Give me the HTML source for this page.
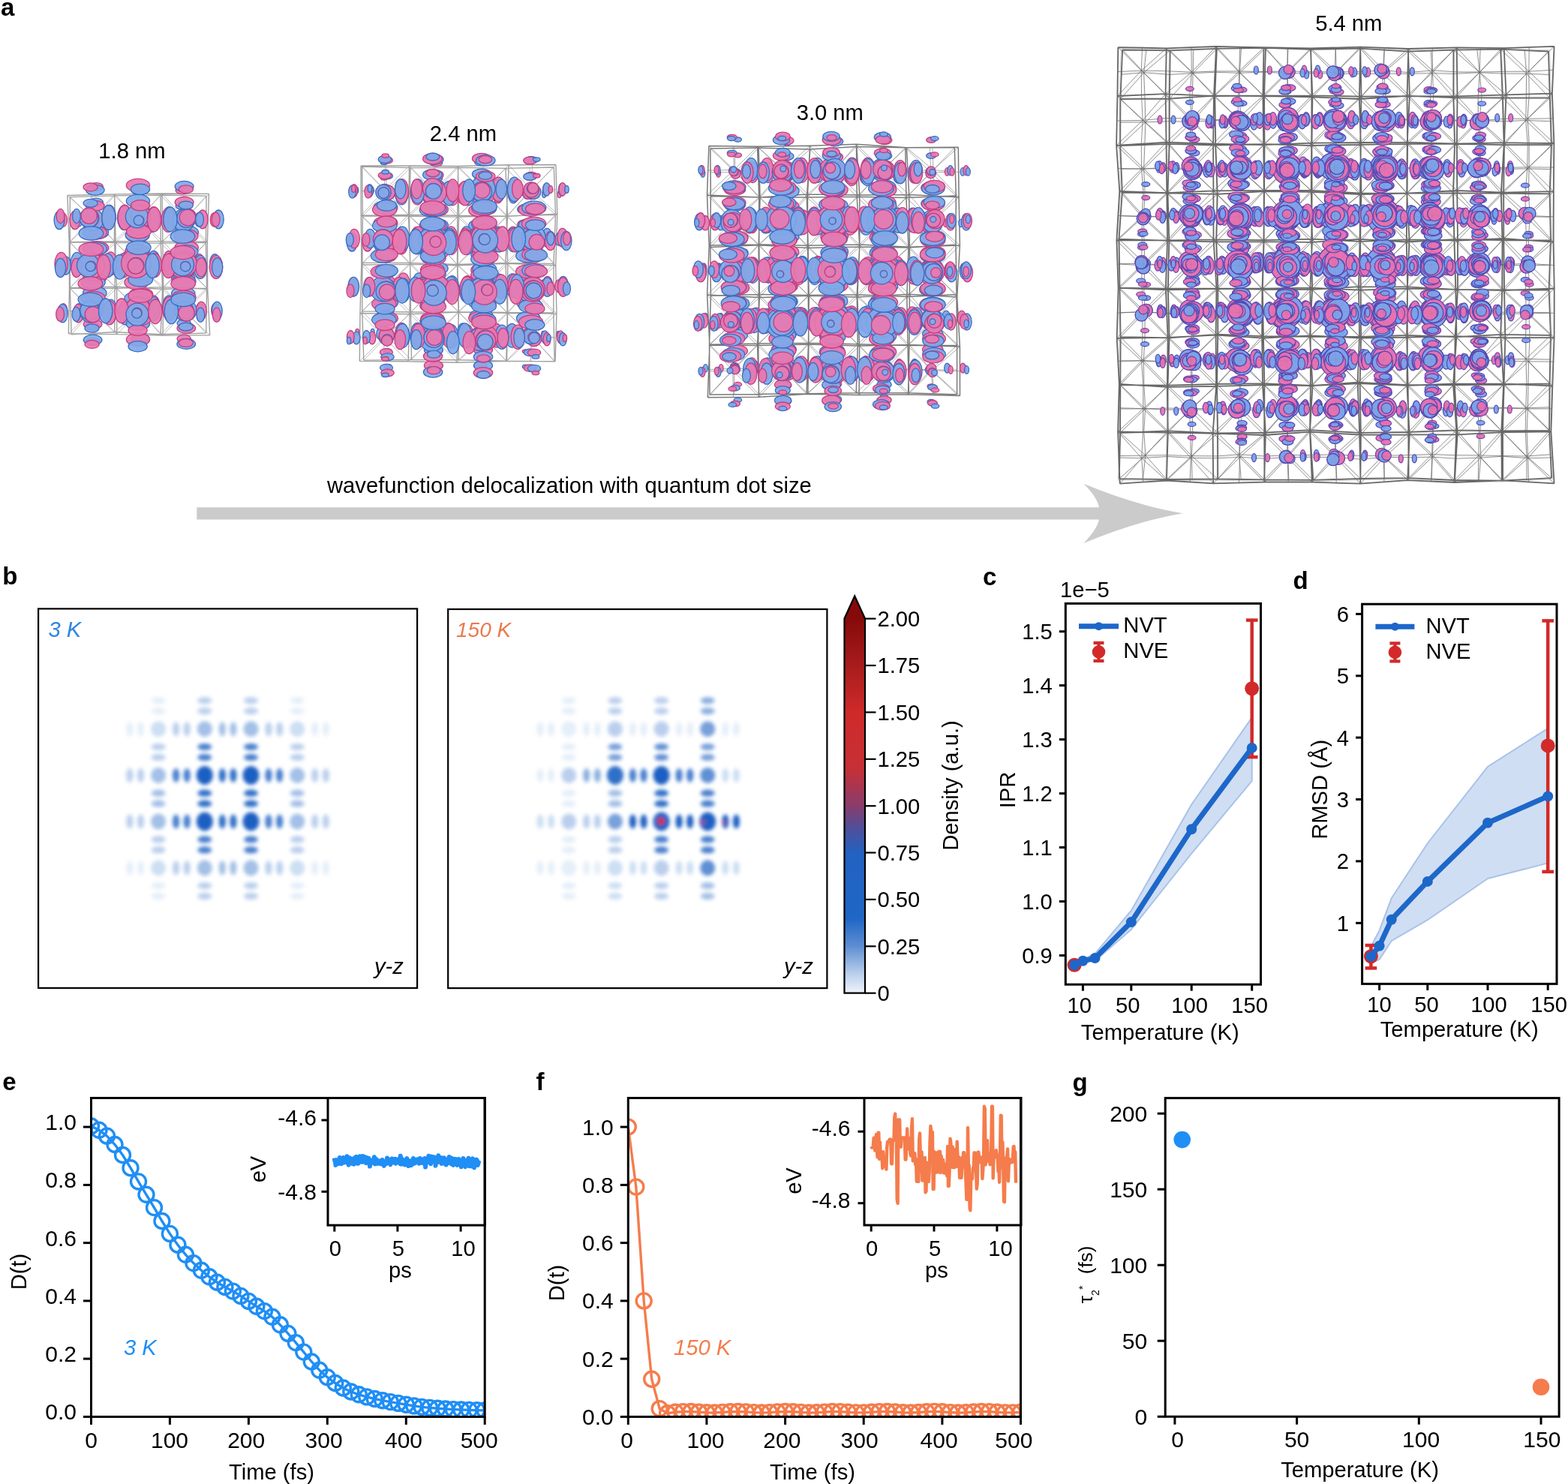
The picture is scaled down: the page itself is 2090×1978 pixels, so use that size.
<!DOCTYPE html><html><head><meta charset="utf-8"><title>Figure</title><style>html,body{margin:0;padding:0;background:#fff;}svg{display:block;}</style></head><body>
<svg xmlns="http://www.w3.org/2000/svg" width="2090" height="1978" viewBox="0 0 2090 1978" font-family="'Liberation Sans', Arial, sans-serif">
<rect width="2090" height="1978" fill="#fff"/>
<style>.p{fill:#ea78b0;stroke:#c23e80;stroke-width:1.3;fill-opacity:.92}.b{fill:#7eaaea;stroke:#3b6cc0;stroke-width:1.3;fill-opacity:.92}.P{fill:#ec70ae;stroke:#6a46b0;stroke-width:1.2;fill-opacity:.95}.B{fill:#78a4ec;stroke:#5048b0;stroke-width:1.2;fill-opacity:.95}</style>
<g opacity="1" fill="none" stroke="#a0a0a0" stroke-linejoin="round"><path d="M93.3 262.6 152.6 260.9 214 260 275.1 261.1M93.3 322.7 154.2 323.3 214.3 324.1 274.4 323.2M93.3 383.7 153.1 382.2 216.6 385.3 275.6 384.2M95.2 445.9 152.9 442.5 214.1 445.8 274.7 444M93.3 262.6 93.3 322.7 93.3 383.7 95.2 445.9M152.6 260.9 154.2 323.3 153.1 382.2 152.9 442.5M214 260 214.3 324.1 216.6 385.3 214.1 445.8M275.1 261.1 274.4 323.2 275.6 384.2 274.7 444M89.9 260.5 152.8 258.9 216 258 278.5 258.4M92.2 322.7 152.4 321.6 216.8 321.6 276.4 322.1M92.5 384.1 155.7 384.4 217.7 382.6 276.7 385.3M91.4 444.8 155.7 445.6 217.1 447.1 279.7 446.7M89.9 260.5 92.2 322.7 92.5 384.1 91.4 444.8M152.8 258.9 152.4 321.6 155.7 384.4 155.7 445.6M216 258 216.8 321.6 217.7 382.6 217.1 447.1M278.5 258.4 276.4 322.1 276.7 385.3 279.7 446.7" stroke-width="1.4"/><path d="M93.3 262.6 125.2 292.2 154.2 323.3M152.6 260.9 125.2 292.2 93.3 322.7M122.9 261.7 125.2 292.2 123.7 323M153.4 292.1 125.2 292.2 93.3 292.6M152.6 260.9 185.5 291.7 214.3 324.1M214 260 185.5 291.7 154.2 323.3M183.3 260.5 185.5 291.7 184.2 323.7M214.1 292.1 185.5 291.7 153.4 292.1M214 260 246.3 292.9 274.4 323.2M275.1 261.1 246.3 292.9 214.3 324.1M244.6 260.5 246.3 292.9 244.3 323.7M274.8 292.1 246.3 292.9 214.1 292.1M93.3 322.7 123 353.6 153.1 382.2M154.2 323.3 123 353.6 93.3 383.7M123.7 323 123 353.6 123.2 383M153.7 352.8 123 353.6 93.3 353.2M154.2 323.3 186.2 353.6 216.6 385.3M214.3 324.1 186.2 353.6 153.1 382.2M184.2 323.7 186.2 353.6 184.9 383.8M215.5 354.7 186.2 353.6 153.7 352.8M214.3 324.1 245.4 353.7 275.6 384.2M274.4 323.2 245.4 353.7 216.6 385.3M244.3 323.7 245.4 353.7 246.1 384.8M275 353.7 245.4 353.7 215.5 354.7M93.3 383.7 123.2 413.8 152.9 442.5M153.1 382.2 123.2 413.8 95.2 445.9M123.2 383 123.2 413.8 124 444.2M153 412.4 123.2 413.8 94.3 414.8M153.1 382.2 186 413.4 214.1 445.8M216.6 385.3 186 413.4 152.9 442.5M184.9 383.8 186 413.4 183.5 444.2M215.4 415.6 186 413.4 153 412.4M216.6 385.3 245.4 413 274.7 444M275.6 384.2 245.4 413 214.1 445.8M246.1 384.8 245.4 413 244.4 444.9M275.2 414.1 245.4 413 215.4 415.6M89.9 260.5 123.5 290.5 152.4 321.6M152.8 258.9 123.5 290.5 92.2 322.7M121.3 259.7 123.5 290.5 122.3 322.2M152.6 290.2 123.5 290.5 91 291.6M152.8 258.9 184.4 291.8 216.8 321.6M216 258 184.4 291.8 152.4 321.6M184.4 258.5 184.4 291.8 184.6 321.6M216.4 289.8 184.4 291.8 152.6 290.2M216 258 246.9 292 276.4 322.1M278.5 258.4 246.9 292 216.8 321.6M247.2 258.2 246.9 292 246.6 321.8M277.4 290.3 246.9 292 216.4 289.8M92.2 322.7 123.3 353.3 155.7 384.4M152.4 321.6 123.3 353.3 92.5 384.1M122.3 322.2 123.3 353.3 124.1 384.3M154 353 123.3 353.3 92.3 353.4M152.4 321.6 184.1 354.1 217.7 382.6M216.8 321.6 184.1 354.1 155.7 384.4M184.6 321.6 184.1 354.1 186.7 383.5M217.3 352.1 184.1 354.1 154 353M216.8 321.6 247 353.2 276.7 385.3M276.4 322.1 247 353.2 217.7 382.6M246.6 321.8 247 353.2 247.2 383.9M276.6 353.7 247 353.2 217.3 352.1M92.5 384.1 122.7 414.5 155.7 445.6M155.7 384.4 122.7 414.5 91.4 444.8M124.1 384.3 122.7 414.5 123.5 445.2M155.7 415 122.7 414.5 92 414.5M155.7 384.4 186 415.3 217.1 447.1M217.7 382.6 186 415.3 155.7 445.6M186.7 383.5 186 415.3 186.4 446.3M217.4 414.8 186 415.3 155.7 415M217.7 382.6 245.9 415.4 279.7 446.7M276.7 385.3 245.9 415.4 217.1 447.1M247.2 383.9 245.9 415.4 248.4 446.9M278.2 416 245.9 415.4 217.4 414.8" stroke-width="0.9" stroke-opacity="0.8"/></g>
<g><ellipse cx="84.5" cy="413.9" rx="5.2" ry="9.2" class="p"/><ellipse cx="123.6" cy="455.6" rx="9.2" ry="5.2" class="p"/><ellipse cx="105" cy="413.9" rx="5.2" ry="9.2" class="b"/><ellipse cx="123.6" cy="435.1" rx="9.2" ry="5.2" class="b"/><circle cx="122.7" cy="409.7" r="10.3" class="p"/><ellipse cx="87.7" cy="353.9" rx="6.8" ry="12.1" class="b"/><ellipse cx="126.3" cy="390.6" rx="15.7" ry="8.8" class="b"/><ellipse cx="147.4" cy="414.9" rx="8.8" ry="15.7" class="b"/><ellipse cx="108.3" cy="353.9" rx="6.8" ry="12.1" class="p"/><ellipse cx="187" cy="451.4" rx="12.1" ry="6.8" class="b"/><ellipse cx="126.2" cy="370" rx="15.7" ry="8.8" class="p"/><ellipse cx="168" cy="414.9" rx="8.8" ry="15.7" class="p"/><ellipse cx="187" cy="430.9" rx="12.1" ry="6.8" class="p"/><ellipse cx="84.2" cy="293.2" rx="5.2" ry="9.2" class="p"/><circle cx="127.6" cy="349.4" r="14.4" class="b"/><ellipse cx="128.9" cy="330.4" rx="15.7" ry="8.8" class="p"/><ellipse cx="147.4" cy="351.5" rx="8.8" ry="15.7" class="p"/><ellipse cx="104.8" cy="293.2" rx="5.2" ry="9.2" class="b"/><ellipse cx="188" cy="392.2" rx="15.7" ry="8.8" class="p"/><ellipse cx="128.9" cy="309.9" rx="15.7" ry="8.8" class="b"/><ellipse cx="204.7" cy="409.5" rx="8.8" ry="15.7" class="p"/><ellipse cx="168" cy="351.5" rx="8.8" ry="15.7" class="b"/><ellipse cx="245.2" cy="451.4" rx="9.2" ry="5.2" class="p"/><ellipse cx="188" cy="371.6" rx="15.7" ry="8.8" class="b"/><ellipse cx="225.3" cy="409.5" rx="8.8" ry="15.7" class="b"/><circle cx="183.2" cy="352" r="18.6" class="p"/><ellipse cx="245.2" cy="430.8" rx="9.2" ry="5.2" class="b"/><ellipse cx="128.3" cy="269.4" rx="9.2" ry="5.2" class="b"/><ellipse cx="145.5" cy="288.9" rx="8.8" ry="15.7" class="b"/><ellipse cx="183.2" cy="334.6" rx="15.7" ry="8.8" class="b"/><ellipse cx="128.3" cy="248.8" rx="9.2" ry="5.2" class="p"/><ellipse cx="204.8" cy="350.2" rx="8.8" ry="15.7" class="b"/><ellipse cx="183.2" cy="314" rx="15.7" ry="8.8" class="p"/><ellipse cx="166.1" cy="288.9" rx="8.8" ry="15.7" class="p"/><ellipse cx="244.2" cy="391.2" rx="15.7" ry="8.8" class="b"/><ellipse cx="266.3" cy="413.4" rx="5.2" ry="9.3" class="b"/><ellipse cx="225.4" cy="350.2" rx="8.8" ry="15.7" class="p"/><ellipse cx="244.2" cy="370.6" rx="15.7" ry="8.8" class="p"/><ellipse cx="286.9" cy="413.4" rx="5.2" ry="9.3" class="p"/><ellipse cx="186.6" cy="273.6" rx="12.1" ry="6.8" class="p"/><circle cx="248.5" cy="354.9" r="14.4" class="b"/><ellipse cx="204.9" cy="291.4" rx="8.8" ry="15.7" class="p"/><ellipse cx="186.6" cy="253" rx="12.1" ry="6.8" class="b"/><ellipse cx="248.6" cy="330.1" rx="15.7" ry="8.8" class="p"/><ellipse cx="265.8" cy="350.7" rx="6.8" ry="12.1" class="p"/><ellipse cx="225.5" cy="291.4" rx="8.8" ry="15.7" class="b"/><ellipse cx="248.7" cy="309.5" rx="15.7" ry="8.8" class="b"/><ellipse cx="286.4" cy="350.7" rx="6.8" ry="12.1" class="b"/><ellipse cx="243.4" cy="274.2" rx="9.3" ry="5.2" class="b"/><ellipse cx="264.8" cy="292.9" rx="5.2" ry="9.3" class="b"/><ellipse cx="243.4" cy="253.6" rx="9.3" ry="5.2" class="p"/><ellipse cx="285.4" cy="292.9" rx="5.2" ry="9.3" class="p"/><circle cx="127.2" cy="411.1" r="12.1" class="b"/><circle cx="128" cy="352.6" r="16" class="p"/><circle cx="186.7" cy="290.9" r="16" class="p"/><circle cx="245.3" cy="353.4" r="16" class="p"/><circle cx="249.5" cy="290.3" r="12.1" class="b"/><circle cx="126.4" cy="411.8" r="12.2" class="p"/><circle cx="127.1" cy="352.9" r="16.1" class="b"/><circle cx="183.8" cy="416.9" r="16.1" class="b"/><circle cx="121.3" cy="292.1" r="12.2" class="p"/><circle cx="184.5" cy="353.9" r="16.9" class="p"/><circle cx="186.3" cy="290.8" r="16.1" class="b"/><circle cx="245.3" cy="353.7" r="16.1" class="b"/><circle cx="249.6" cy="290.2" r="12.2" class="p"/><ellipse cx="83.4" cy="417.6" rx="6.9" ry="12.3" class="b"/><ellipse cx="123.6" cy="453.1" rx="12.3" ry="6.9" class="b"/><ellipse cx="104.3" cy="417.6" rx="6.9" ry="12.3" class="p"/><ellipse cx="123.6" cy="432.1" rx="12.3" ry="6.9" class="p"/><circle cx="121.2" cy="415.4" r="14.7" class="b"/><ellipse cx="81.6" cy="352" rx="8.7" ry="15.6" class="p"/><ellipse cx="124.2" cy="397.2" rx="16" ry="9" class="p"/><ellipse cx="145.8" cy="416.8" rx="9" ry="16" class="p"/><ellipse cx="102.6" cy="352" rx="8.7" ry="15.6" class="b"/><ellipse cx="124.2" cy="376.2" rx="16" ry="9" class="b"/><ellipse cx="184" cy="452.6" rx="15.6" ry="8.7" class="p"/><ellipse cx="166.8" cy="416.8" rx="9" ry="16" class="b"/><ellipse cx="79" cy="293.4" rx="6.9" ry="12.3" class="b"/><circle cx="126.6" cy="355.4" r="19" class="p"/><ellipse cx="184" cy="431.6" rx="15.6" ry="8.7" class="b"/><circle cx="186.5" cy="415.2" r="19" class="p"/><ellipse cx="126.4" cy="331.4" rx="16" ry="9" class="b"/><ellipse cx="143.4" cy="353.8" rx="9" ry="16" class="b"/><ellipse cx="99.9" cy="293.4" rx="6.9" ry="12.3" class="p"/><ellipse cx="181.9" cy="397.6" rx="16" ry="9" class="b"/><ellipse cx="126.4" cy="310.4" rx="16" ry="9" class="p"/><ellipse cx="204.8" cy="411.6" rx="9" ry="16" class="b"/><ellipse cx="164.4" cy="353.9" rx="9" ry="16" class="p"/><ellipse cx="181.9" cy="376.6" rx="16" ry="9" class="p"/><circle cx="123.3" cy="293.1" r="14.7" class="b"/><ellipse cx="248.2" cy="458.4" rx="12.3" ry="6.9" class="b"/><ellipse cx="225.8" cy="411.6" rx="9" ry="16" class="p"/><ellipse cx="248.3" cy="437.4" rx="12.3" ry="6.9" class="p"/><ellipse cx="126.8" cy="274.3" rx="12.3" ry="6.9" class="p"/><circle cx="186.5" cy="353.7" r="19" class="b"/><ellipse cx="144.5" cy="290.6" rx="9" ry="16" class="p"/><ellipse cx="183.1" cy="334.2" rx="16" ry="9" class="p"/><ellipse cx="126.8" cy="253.3" rx="12.3" ry="6.9" class="b"/><circle cx="247.3" cy="413.5" r="14.7" class="b"/><ellipse cx="206.4" cy="353.5" rx="9" ry="16" class="p"/><ellipse cx="165.5" cy="290.5" rx="9" ry="16" class="b"/><ellipse cx="245" cy="396.3" rx="16" ry="9" class="p"/><ellipse cx="183.1" cy="313.2" rx="16" ry="9" class="b"/><ellipse cx="268.3" cy="414.5" rx="6.9" ry="12.4" class="p"/><ellipse cx="227.4" cy="353.5" rx="9" ry="16" class="b"/><ellipse cx="245" cy="375.3" rx="16" ry="9" class="b"/><circle cx="186.8" cy="293.7" r="19" class="p"/><ellipse cx="289.3" cy="414.5" rx="6.9" ry="12.4" class="b"/><circle cx="243.5" cy="351.5" r="19" class="p"/><ellipse cx="184" cy="268" rx="15.6" ry="8.8" class="b"/><ellipse cx="203.1" cy="293.4" rx="9" ry="16" class="b"/><ellipse cx="248" cy="335.6" rx="16" ry="9" class="b"/><ellipse cx="184" cy="247" rx="15.6" ry="8.8" class="p"/><ellipse cx="267" cy="355.9" rx="8.8" ry="15.6" class="b"/><ellipse cx="224.1" cy="293.4" rx="9" ry="16" class="p"/><ellipse cx="248" cy="314.6" rx="16" ry="9" class="p"/><ellipse cx="288" cy="355.9" rx="8.8" ry="15.6" class="p"/><circle cx="244.7" cy="293.6" r="14.7" class="b"/><ellipse cx="245.6" cy="269.4" rx="12.4" ry="7" class="p"/><ellipse cx="270.1" cy="292.4" rx="7" ry="12.4" class="p"/><ellipse cx="245.6" cy="248.4" rx="12.4" ry="7" class="b"/><ellipse cx="291.2" cy="292.4" rx="7" ry="12.4" class="b"/><circle cx="120.2" cy="413.2" r="12.4" class="p"/><circle cx="123.4" cy="354" r="16.3" class="b"/><circle cx="184.2" cy="411.8" r="16.3" class="b"/><circle cx="119.4" cy="290.8" r="12.4" class="p"/><circle cx="184.5" cy="351.1" r="17.1" class="p"/><circle cx="245.5" cy="414" r="12.4" class="p"/><circle cx="184.9" cy="288.9" r="16.3" class="b"/><circle cx="246.1" cy="351.6" r="16.3" class="b"/><circle cx="248.4" cy="290.9" r="12.4" class="p"/><circle cx="119.3" cy="413.9" r="12.5" class="b"/><circle cx="122.6" cy="354.3" r="16.4" class="p"/><circle cx="183.8" cy="412.6" r="16.4" class="p"/><circle cx="118.5" cy="290.7" r="12.5" class="b"/><circle cx="184.1" cy="351.4" r="17.2" class="b"/><circle cx="245.5" cy="414.8" r="12.5" class="b"/><circle cx="184.5" cy="288.7" r="16.4" class="p"/><circle cx="246.1" cy="351.9" r="16.4" class="p"/><circle cx="248.4" cy="290.8" r="12.5" class="b"/><ellipse cx="80.1" cy="418.8" rx="5.4" ry="9.6" class="p"/><ellipse cx="122.6" cy="458.9" rx="9.6" ry="5.4" class="p"/><ellipse cx="101.5" cy="418.9" rx="5.4" ry="9.6" class="b"/><ellipse cx="122.5" cy="437.5" rx="9.6" ry="5.4" class="b"/><circle cx="123.8" cy="419.2" r="10.7" class="p"/><ellipse cx="80.6" cy="357" rx="7.1" ry="12.6" class="b"/><ellipse cx="120.4" cy="399.3" rx="16.3" ry="9.2" class="b"/><ellipse cx="140.7" cy="414.3" rx="9.2" ry="16.3" class="b"/><ellipse cx="102" cy="357" rx="7.1" ry="12.6" class="p"/><ellipse cx="120.4" cy="377.9" rx="16.3" ry="9.2" class="p"/><ellipse cx="183.6" cy="461.7" rx="12.6" ry="7.1" class="b"/><ellipse cx="162.1" cy="414.3" rx="9.2" ry="16.3" class="p"/><circle cx="117.5" cy="353.8" r="15" class="b"/><ellipse cx="183.6" cy="440.3" rx="12.6" ry="7.1" class="p"/><ellipse cx="80.6" cy="288" rx="5.4" ry="9.6" class="p"/><circle cx="183" cy="419.2" r="15" class="b"/><ellipse cx="138.2" cy="355.8" rx="9.2" ry="16.3" class="p"/><ellipse cx="121.4" cy="332.3" rx="16.3" ry="9.2" class="p"/><ellipse cx="102" cy="288" rx="5.4" ry="9.6" class="b"/><ellipse cx="121.4" cy="310.9" rx="16.3" ry="9.2" class="b"/><ellipse cx="187.2" cy="394.2" rx="16.3" ry="9.2" class="p"/><ellipse cx="159.6" cy="355.8" rx="9.2" ry="16.3" class="b"/><ellipse cx="206.9" cy="415.3" rx="9.2" ry="16.3" class="p"/><circle cx="118.7" cy="287.7" r="10.7" class="p"/><ellipse cx="247.8" cy="457" rx="9.6" ry="5.4" class="p"/><ellipse cx="187.2" cy="372.8" rx="16.3" ry="9.2" class="b"/><ellipse cx="228.3" cy="415.3" rx="9.2" ry="16.3" class="b"/><ellipse cx="120.6" cy="270.8" rx="9.6" ry="5.4" class="b"/><circle cx="181" cy="351" r="19.4" class="p"/><ellipse cx="247.8" cy="435.6" rx="9.6" ry="5.4" class="b"/><ellipse cx="144.9" cy="290" rx="9.2" ry="16.3" class="b"/><ellipse cx="120.6" cy="249.4" rx="9.6" ry="5.4" class="p"/><circle cx="248.6" cy="417.2" r="10.8" class="p"/><ellipse cx="184.8" cy="330.1" rx="16.3" ry="9.2" class="b"/><ellipse cx="203.1" cy="354.4" rx="9.2" ry="16.3" class="b"/><ellipse cx="244.2" cy="399.4" rx="16.3" ry="9.2" class="b"/><ellipse cx="166.3" cy="290" rx="9.2" ry="16.3" class="p"/><ellipse cx="267.3" cy="419.8" rx="5.4" ry="9.6" class="b"/><ellipse cx="184.8" cy="308.6" rx="16.3" ry="9.2" class="p"/><ellipse cx="224.6" cy="354.4" rx="9.2" ry="16.3" class="p"/><ellipse cx="244.2" cy="377.9" rx="16.3" ry="9.2" class="p"/><circle cx="182.4" cy="288.7" r="15" class="b"/><ellipse cx="288.8" cy="419.8" rx="5.4" ry="9.6" class="p"/><circle cx="243.5" cy="352.7" r="15" class="b"/><ellipse cx="187" cy="273.8" rx="12.6" ry="7.1" class="p"/><ellipse cx="205.5" cy="292.5" rx="9.2" ry="16.3" class="p"/><ellipse cx="243.5" cy="336.5" rx="16.3" ry="9.2" class="p"/><ellipse cx="187" cy="252.3" rx="12.6" ry="7.1" class="b"/><ellipse cx="268.1" cy="356.3" rx="7.1" ry="12.6" class="p"/><ellipse cx="243.5" cy="315.1" rx="16.3" ry="9.2" class="b"/><ellipse cx="226.9" cy="292.5" rx="9.2" ry="16.3" class="b"/><ellipse cx="289.6" cy="356.3" rx="7.1" ry="12.6" class="b"/><circle cx="250" cy="290" r="10.8" class="p"/><ellipse cx="247.9" cy="273.6" rx="9.6" ry="5.4" class="b"/><ellipse cx="266.1" cy="292.6" rx="5.4" ry="9.6" class="b"/><ellipse cx="247.9" cy="252.2" rx="9.6" ry="5.4" class="p"/><ellipse cx="287.6" cy="292.6" rx="5.4" ry="9.6" class="p"/><circle cx="121.5" cy="354.7" r="6.6" class="p"/><circle cx="182.7" cy="416.8" r="6.6" class="p"/><circle cx="181.4" cy="354.1" r="10.6" class="b"/><circle cx="185.3" cy="293.9" r="6.6" class="p"/><circle cx="247.2" cy="354.9" r="6.6" class="p"/><circle cx="120.6" cy="355.1" r="6.6" class="b"/><circle cx="182.3" cy="417.6" r="6.6" class="b"/><circle cx="180.9" cy="354.5" r="10.6" class="p"/><circle cx="184.8" cy="293.8" r="6.6" class="b"/><circle cx="247.2" cy="355.2" r="6.6" class="b"/></g>
<g opacity="1" fill="none" stroke="#a0a0a0" stroke-linejoin="round"><path d="M482.6 222 547.1 223.6 610.7 223.2 673.9 224.4 738.3 223M483.4 288.1 545.5 288 609.7 289.1 676.5 287.9 740.5 286.3M482.9 350.3 546.7 350.4 609.5 352.4 674 350.4 738 351.4M482.8 414.9 547.5 416 611 415.6 676.2 416.4 737.8 416.9M484.8 480.1 548.5 479.5 611.3 479.8 674.8 481.2 739.2 481.9M482.6 222 483.4 288.1 482.9 350.3 482.8 414.9 484.8 480.1M547.1 223.6 545.5 288 546.7 350.4 547.5 416 548.5 479.5M610.7 223.2 609.7 289.1 609.5 352.4 611 415.6 611.3 479.8M673.9 224.4 676.5 287.9 674 350.4 676.2 416.4 674.8 481.2M738.3 223 740.5 286.3 738 351.4 737.8 416.9 739.2 481.9M481 220.9 545.6 221 610.4 221.5 678.2 219.8 740.9 219.5M481.3 287.3 544.5 286.3 611.6 287.3 675 288.2 742.8 285.2M481.8 353 546.8 352.2 609.9 353.7 676.7 351.4 740.7 353.7M480 417.5 546.1 418.7 611.5 416.1 676.7 417.3 741.9 418.1M479.3 481.4 544.1 481.8 609 483.2 675.5 481.4 740.1 481.8M481 220.9 481.3 287.3 481.8 353 480 417.5 479.3 481.4M545.6 221 544.5 286.3 546.8 352.2 546.1 418.7 544.1 481.8M610.4 221.5 611.6 287.3 609.9 353.7 611.5 416.1 609 483.2M678.2 219.8 675 288.2 676.7 351.4 676.7 417.3 675.5 481.4M740.9 219.5 742.8 285.2 740.7 353.7 741.9 418.1 740.1 481.8" stroke-width="1.4"/><path d="M482.6 222 515 254.9 545.5 288M547.1 223.6 515 254.9 483.4 288.1M514.9 222.8 515 254.9 514.4 288M546.3 255.8 515 254.9 483 255M547.1 223.6 578.7 256.8 609.7 289.1M610.7 223.2 578.7 256.8 545.5 288M578.9 223.4 578.7 256.8 577.6 288.5M610.2 256.2 578.7 256.8 546.3 255.8M610.7 223.2 642.8 254.8 676.5 287.9M673.9 224.4 642.8 254.8 609.7 289.1M642.3 223.8 642.8 254.8 643.1 288.5M675.2 256.1 642.8 254.8 610.2 256.2M673.9 224.4 706.5 254.9 740.5 286.3M738.3 223 706.5 254.9 676.5 287.9M706.1 223.7 706.5 254.9 708.5 287.1M739.4 254.6 706.5 254.9 675.2 256.1M483.4 288.1 516.1 321.1 546.7 350.4M545.5 288 516.1 321.1 482.9 350.3M514.4 288 516.1 321.1 514.8 350.3M546.1 319.2 516.1 321.1 483.1 319.2M545.5 288 579.7 320.2 609.5 352.4M609.7 289.1 579.7 320.2 546.7 350.4M577.6 288.5 579.7 320.2 578.1 351.4M609.6 320.7 579.7 320.2 546.1 319.2M609.7 289.1 643.7 319.2 674 350.4M676.5 287.9 643.7 319.2 609.5 352.4M643.1 288.5 643.7 319.2 641.7 351.4M675.2 319.2 643.7 319.2 609.6 320.7M676.5 287.9 706.6 320 738 351.4M740.5 286.3 706.6 320 674 350.4M708.5 287.1 706.6 320 706 350.9M739.2 318.8 706.6 320 675.2 319.2M482.9 350.3 514.6 382.9 547.5 416M546.7 350.4 514.6 382.9 482.8 414.9M514.8 350.3 514.6 382.9 515.1 415.4M547.1 383.2 514.6 382.9 482.8 382.6M546.7 350.4 580.1 383.9 611 415.6M609.5 352.4 580.1 383.9 547.5 416M578.1 351.4 580.1 383.9 579.3 415.8M610.3 384 580.1 383.9 547.1 383.2M609.5 352.4 643 383.6 676.2 416.4M674 350.4 643 383.6 611 415.6M641.7 351.4 643 383.6 643.6 416M675.1 383.4 643 383.6 610.3 384M674 350.4 706.5 383.8 737.8 416.9M738 351.4 706.5 383.8 676.2 416.4M706 350.9 706.5 383.8 707 416.6M737.9 384.1 706.5 383.8 675.1 383.4M482.8 414.9 515.7 448.6 548.5 479.5M547.5 416 515.7 448.6 484.8 480.1M515.1 415.4 515.7 448.6 516.6 479.8M548 447.7 515.7 448.6 483.8 447.5M547.5 416 578.7 446.9 611.3 479.8M611 415.6 578.7 446.9 548.5 479.5M579.3 415.8 578.7 446.9 579.9 479.6M611.1 447.7 578.7 446.9 548 447.7M611 415.6 643.7 447.5 674.8 481.2M676.2 416.4 643.7 447.5 611.3 479.8M643.6 416 643.7 447.5 643 480.5M675.5 448.8 643.7 447.5 611.1 447.7M676.2 416.4 707.3 446.9 739.2 481.9M737.8 416.9 707.3 446.9 674.8 481.2M707 416.6 707.3 446.9 707 481.6M738.5 449.4 707.3 446.9 675.5 448.8M481 220.9 512.3 253.5 544.5 286.3M545.6 221 512.3 253.5 481.3 287.3M513.3 220.9 512.3 253.5 512.9 286.8M545.1 253.6 512.3 253.5 481.1 254.1M545.6 221 578.3 254.1 611.6 287.3M610.4 221.5 578.3 254.1 544.5 286.3M578 221.2 578.3 254.1 578 286.8M611 254.4 578.3 254.1 545.1 253.6M610.4 221.5 644.5 255.2 675 288.2M678.2 219.8 644.5 255.2 611.6 287.3M644.3 220.6 644.5 255.2 643.3 287.7M676.6 254 644.5 255.2 611 254.4M678.2 219.8 707.9 253.3 742.8 285.2M740.9 219.5 707.9 253.3 675 288.2M709.6 219.6 707.9 253.3 708.9 286.7M741.9 252.3 707.9 253.3 676.6 254M481.3 287.3 513.3 318.5 546.8 352.2M544.5 286.3 513.3 318.5 481.8 353M512.9 286.8 513.3 318.5 514.3 352.6M545.7 319.2 513.3 318.5 481.5 320.1M544.5 286.3 579.2 318.6 609.9 353.7M611.6 287.3 579.2 318.6 546.8 352.2M578 286.8 579.2 318.6 578.4 352.9M610.7 320.5 579.2 318.6 545.7 319.2M611.6 287.3 644.3 319.7 676.7 351.4M675 288.2 644.3 319.7 609.9 353.7M643.3 287.7 644.3 319.7 643.3 352.5M675.9 319.8 644.3 319.7 610.7 320.5M675 288.2 709.7 318.2 740.7 353.7M742.8 285.2 709.7 318.2 676.7 351.4M708.9 286.7 709.7 318.2 708.7 352.5M741.8 319.4 709.7 318.2 675.9 319.8M481.8 353 512.3 385.2 546.1 418.7M546.8 352.2 512.3 385.2 480 417.5M514.3 352.6 512.3 385.2 513 418.1M546.5 385.4 512.3 385.2 480.9 385.3M546.8 352.2 577.3 383.5 611.5 416.1M609.9 353.7 577.3 383.5 546.1 418.7M578.4 352.9 577.3 383.5 578.8 417.4M610.7 384.9 577.3 383.5 546.5 385.4M609.9 353.7 643.3 384.9 676.7 417.3M676.7 351.4 643.3 384.9 611.5 416.1M643.3 352.5 643.3 384.9 644.1 416.7M676.7 384.3 643.3 384.9 610.7 384.9M676.7 351.4 707.9 383.6 741.9 418.1M740.7 353.7 707.9 383.6 676.7 417.3M708.7 352.5 707.9 383.6 709.3 417.7M741.3 385.9 707.9 383.6 676.7 384.3M480 417.5 511.9 449.8 544.1 481.8M546.1 418.7 511.9 449.8 479.3 481.4M513 418.1 511.9 449.8 511.7 481.6M545.1 450.2 511.9 449.8 479.6 449.5M546.1 418.7 578.7 449.3 609 483.2M611.5 416.1 578.7 449.3 544.1 481.8M578.8 417.4 578.7 449.3 576.6 482.5M610.3 449.6 578.7 449.3 545.1 450.2M611.5 416.1 644.6 449.9 675.5 481.4M676.7 417.3 644.6 449.9 609 483.2M644.1 416.7 644.6 449.9 642.3 482.3M676.1 449.4 644.6 449.9 610.3 449.6M676.7 417.3 709.3 449.5 740.1 481.8M741.9 418.1 709.3 449.5 675.5 481.4M709.3 417.7 709.3 449.5 707.8 481.6M741 450 709.3 449.5 676.1 449.4" stroke-width="0.9" stroke-opacity="0.8"/></g>
<g><ellipse cx="744.5" cy="446" rx="2.5" ry="4.5" class="b"/><ellipse cx="700.8" cy="488.7" rx="4.5" ry="2.5" class="b"/><ellipse cx="724.1" cy="446" rx="2.5" ry="4.5" class="p"/><ellipse cx="700.8" cy="468.3" rx="4.5" ry="2.5" class="p"/><ellipse cx="706.9" cy="426.4" rx="12.3" ry="6.9" class="p"/><ellipse cx="640.7" cy="486.8" rx="8.4" ry="4.7" class="p"/><ellipse cx="679.9" cy="446.6" rx="6.9" ry="12.3" class="p"/><ellipse cx="744.4" cy="381.3" rx="4.7" ry="8.4" class="p"/><ellipse cx="706.9" cy="406" rx="12.3" ry="6.9" class="b"/><ellipse cx="640.7" cy="466.4" rx="8.4" ry="4.7" class="b"/><ellipse cx="659.5" cy="446.6" rx="6.9" ry="12.3" class="b"/><ellipse cx="724" cy="381.3" rx="4.7" ry="8.4" class="b"/><circle cx="641.9" cy="443.7" r="9.9" class="p"/><ellipse cx="706.9" cy="363.8" rx="14.2" ry="8" class="b"/><ellipse cx="581.4" cy="487.7" rx="8.4" ry="4.7" class="b"/><ellipse cx="683" cy="380.6" rx="8.8" ry="15.6" class="b"/><ellipse cx="744.6" cy="318.9" rx="4.7" ry="8.4" class="b"/><ellipse cx="641.5" cy="421" rx="15.6" ry="8.8" class="b"/><ellipse cx="617.1" cy="445.1" rx="8" ry="14.2" class="b"/><ellipse cx="707" cy="343.4" rx="14.2" ry="8" class="p"/><ellipse cx="581.4" cy="467.3" rx="8.4" ry="4.7" class="p"/><ellipse cx="662.6" cy="380.6" rx="8.8" ry="15.6" class="p"/><ellipse cx="724.2" cy="318.9" rx="4.7" ry="8.4" class="p"/><ellipse cx="641.5" cy="400.6" rx="15.6" ry="8.8" class="p"/><ellipse cx="596.6" cy="445.1" rx="8" ry="14.2" class="p"/><circle cx="700.6" cy="320.1" r="9.9" class="b"/><ellipse cx="560.1" cy="448.2" rx="6.9" ry="12.3" class="p"/><ellipse cx="623.2" cy="383.2" rx="8.8" ry="15.6" class="p"/><ellipse cx="517.1" cy="487.9" rx="4.5" ry="2.5" class="p"/><ellipse cx="745.6" cy="259.1" rx="2.5" ry="4.5" class="p"/><ellipse cx="643.4" cy="359.9" rx="15.6" ry="8.8" class="p"/><ellipse cx="684" cy="317.7" rx="8.8" ry="15.6" class="p"/><ellipse cx="702" cy="299.3" rx="12.3" ry="6.9" class="p"/><ellipse cx="576.4" cy="424.7" rx="15.6" ry="8.8" class="p"/><ellipse cx="539.6" cy="448.2" rx="6.9" ry="12.3" class="b"/><ellipse cx="602.8" cy="383.2" rx="8.8" ry="15.6" class="b"/><ellipse cx="517.1" cy="467.4" rx="4.5" ry="2.5" class="b"/><ellipse cx="725.1" cy="259.1" rx="2.5" ry="4.5" class="b"/><ellipse cx="643.4" cy="339.4" rx="15.6" ry="8.8" class="b"/><ellipse cx="663.6" cy="317.7" rx="8.8" ry="15.6" class="b"/><ellipse cx="702" cy="278.9" rx="12.3" ry="6.9" class="b"/><ellipse cx="576.4" cy="404.2" rx="15.6" ry="8.8" class="b"/><ellipse cx="684.2" cy="258.6" rx="6.9" ry="12.3" class="b"/><ellipse cx="640.3" cy="300.8" rx="15.6" ry="8.8" class="b"/><ellipse cx="706.9" cy="234.2" rx="4.5" ry="2.5" class="b"/><ellipse cx="496.7" cy="442.8" rx="2.5" ry="4.5" class="b"/><ellipse cx="581.5" cy="357.7" rx="15.6" ry="8.8" class="b"/><ellipse cx="621.7" cy="317.5" rx="8.8" ry="15.6" class="b"/><ellipse cx="558.2" cy="379.5" rx="8.8" ry="15.6" class="b"/><ellipse cx="514.9" cy="421.2" rx="12.3" ry="6.9" class="b"/><ellipse cx="663.8" cy="258.6" rx="6.9" ry="12.3" class="p"/><ellipse cx="640.3" cy="280.4" rx="15.6" ry="8.8" class="p"/><ellipse cx="706.9" cy="213.8" rx="4.5" ry="2.5" class="p"/><ellipse cx="476.3" cy="442.8" rx="2.5" ry="4.5" class="p"/><ellipse cx="581.5" cy="337.3" rx="15.6" ry="8.8" class="p"/><ellipse cx="601.2" cy="317.5" rx="8.8" ry="15.6" class="p"/><ellipse cx="537.8" cy="379.5" rx="8.8" ry="15.6" class="p"/><ellipse cx="514.8" cy="400.7" rx="12.3" ry="6.9" class="p"/><circle cx="577.5" cy="318.8" r="15.9" class="b"/><ellipse cx="640.9" cy="236.6" rx="8.4" ry="4.7" class="p"/><ellipse cx="574.9" cy="300.5" rx="15.6" ry="8.8" class="p"/><ellipse cx="616.7" cy="258" rx="8" ry="14.2" class="p"/><ellipse cx="512.7" cy="361.8" rx="14.2" ry="8" class="p"/><ellipse cx="555.8" cy="318" rx="8.8" ry="15.6" class="p"/><ellipse cx="491.7" cy="378.7" rx="4.7" ry="8.4" class="p"/><ellipse cx="640.9" cy="216.2" rx="8.4" ry="4.7" class="b"/><ellipse cx="574.9" cy="280.1" rx="15.6" ry="8.8" class="b"/><ellipse cx="596.3" cy="258" rx="8" ry="14.2" class="b"/><ellipse cx="512.7" cy="341.3" rx="14.2" ry="8" class="b"/><ellipse cx="535.3" cy="318" rx="8.8" ry="15.6" class="b"/><ellipse cx="471.2" cy="378.8" rx="4.7" ry="8.4" class="b"/><ellipse cx="581.4" cy="237.6" rx="8.4" ry="4.7" class="b"/><ellipse cx="557.8" cy="257.2" rx="6.9" ry="12.3" class="b"/><ellipse cx="516.5" cy="295.5" rx="12.3" ry="6.9" class="b"/><ellipse cx="491.3" cy="319.8" rx="4.7" ry="8.4" class="b"/><ellipse cx="581.4" cy="217.1" rx="8.4" ry="4.7" class="p"/><ellipse cx="537.3" cy="257.2" rx="6.9" ry="12.3" class="p"/><ellipse cx="516.5" cy="275.1" rx="12.3" ry="6.9" class="p"/><ellipse cx="470.8" cy="319.8" rx="4.7" ry="8.4" class="p"/><ellipse cx="511.9" cy="237.6" rx="4.5" ry="2.5" class="p"/><ellipse cx="495.7" cy="253.6" rx="2.5" ry="4.5" class="p"/><ellipse cx="511.9" cy="217.1" rx="4.5" ry="2.5" class="b"/><ellipse cx="475.2" cy="253.6" rx="2.5" ry="4.5" class="b"/><circle cx="639.3" cy="448.4" r="12.5" class="b"/><circle cx="702" cy="383.8" r="12.5" class="b"/><circle cx="704.7" cy="321.2" r="12.5" class="p"/><circle cx="644.5" cy="381.1" r="17.6" class="p"/><circle cx="517.9" cy="445" r="7" class="b"/><circle cx="703.5" cy="258.4" r="7" class="b"/><circle cx="640.3" cy="320.4" r="17.6" class="b"/><circle cx="575.3" cy="379.8" r="17.6" class="b"/><circle cx="518.1" cy="382" r="12.5" class="p"/><circle cx="639.5" cy="254.8" r="12.5" class="p"/><circle cx="576.3" cy="316.9" r="17.6" class="p"/><circle cx="517.1" cy="321.6" r="12.5" class="b"/><circle cx="702.8" cy="384.3" r="12.6" class="p"/><circle cx="705.5" cy="321.3" r="12.6" class="b"/><circle cx="645" cy="381.6" r="17.7" class="b"/><circle cx="704.3" cy="258.2" r="7.1" class="p"/><circle cx="640.7" cy="320.5" r="17.7" class="p"/><circle cx="575.4" cy="380.3" r="17.7" class="p"/><circle cx="517.9" cy="382.5" r="12.6" class="b"/><circle cx="640" cy="254.5" r="12.6" class="b"/><circle cx="576.4" cy="317" r="17.7" class="b"/><circle cx="516.9" cy="321.7" r="12.6" class="p"/><circle cx="516.8" cy="254.2" r="7.1" class="b"/><ellipse cx="706.6" cy="490.6" rx="8.5" ry="4.8" class="p"/><ellipse cx="747.2" cy="449.3" rx="4.8" ry="8.5" class="p"/><ellipse cx="706.6" cy="469.9" rx="8.5" ry="4.8" class="b"/><ellipse cx="726.4" cy="449.3" rx="4.8" ry="8.5" class="b"/><circle cx="705.7" cy="446.9" r="10" class="p"/><ellipse cx="750.6" cy="380.9" rx="7" ry="12.5" class="b"/><ellipse cx="644" cy="487.3" rx="12.5" ry="7" class="b"/><ellipse cx="682.4" cy="447.3" rx="8.9" ry="15.8" class="b"/><ellipse cx="704.3" cy="424.2" rx="15.8" ry="8.9" class="b"/><ellipse cx="729.8" cy="380.9" rx="7" ry="12.5" class="p"/><ellipse cx="644" cy="466.6" rx="12.5" ry="7" class="p"/><ellipse cx="661.6" cy="447.3" rx="8.9" ry="15.8" class="p"/><ellipse cx="704.3" cy="403.5" rx="15.8" ry="8.9" class="p"/><circle cx="643.7" cy="450.5" r="16.1" class="b"/><circle cx="705.3" cy="380.5" r="16.1" class="b"/><ellipse cx="622.6" cy="448.4" rx="8.9" ry="15.8" class="p"/><ellipse cx="686" cy="381" rx="8.9" ry="15.8" class="p"/><ellipse cx="749.8" cy="316.8" rx="7" ry="12.5" class="p"/><ellipse cx="703.5" cy="361.7" rx="15.8" ry="8.9" class="p"/><ellipse cx="577.9" cy="487.2" rx="12.5" ry="7" class="p"/><ellipse cx="640.5" cy="424" rx="15.8" ry="8.9" class="p"/><ellipse cx="601.8" cy="448.4" rx="8.9" ry="15.8" class="b"/><ellipse cx="665.2" cy="381" rx="8.9" ry="15.8" class="b"/><ellipse cx="729.1" cy="316.8" rx="7" ry="12.5" class="b"/><ellipse cx="703.5" cy="340.9" rx="15.8" ry="8.9" class="b"/><ellipse cx="577.9" cy="466.4" rx="12.5" ry="7" class="b"/><ellipse cx="640.5" cy="403.2" rx="15.8" ry="8.9" class="b"/><circle cx="709.4" cy="322.4" r="16.1" class="p"/><circle cx="639.6" cy="384.2" r="19.8" class="p"/><circle cx="579.4" cy="444.4" r="16.1" class="p"/><ellipse cx="621.1" cy="386.7" rx="8.9" ry="15.9" class="b"/><ellipse cx="707.1" cy="300.3" rx="15.9" ry="8.9" class="b"/><ellipse cx="515" cy="490.2" rx="8.5" ry="4.8" class="b"/><ellipse cx="645.8" cy="358.5" rx="15.9" ry="8.9" class="b"/><ellipse cx="575.8" cy="428.2" rx="15.9" ry="8.9" class="b"/><ellipse cx="683.9" cy="319.8" rx="8.9" ry="15.9" class="b"/><ellipse cx="556.1" cy="446.4" rx="8.9" ry="15.9" class="b"/><ellipse cx="749.2" cy="252.7" rx="4.8" ry="8.5" class="b"/><ellipse cx="600.3" cy="386.7" rx="8.9" ry="15.9" class="p"/><ellipse cx="707.1" cy="279.5" rx="15.9" ry="8.9" class="p"/><ellipse cx="514.9" cy="469.4" rx="8.5" ry="4.8" class="p"/><ellipse cx="645.8" cy="337.7" rx="15.9" ry="8.9" class="p"/><ellipse cx="575.7" cy="407.4" rx="15.9" ry="8.9" class="p"/><ellipse cx="663.1" cy="319.8" rx="8.9" ry="15.9" class="p"/><ellipse cx="535.3" cy="446.4" rx="8.9" ry="15.9" class="p"/><ellipse cx="728.4" cy="252.7" rx="4.8" ry="8.5" class="p"/><circle cx="645.3" cy="320.2" r="19.8" class="b"/><circle cx="709.8" cy="254.7" r="10" class="b"/><circle cx="577.9" cy="383.1" r="19.8" class="b"/><circle cx="511.8" cy="445" r="10" class="b"/><ellipse cx="496" cy="450.3" rx="4.8" ry="8.5" class="p"/><ellipse cx="558.7" cy="386.7" rx="8.9" ry="15.9" class="p"/><ellipse cx="645.9" cy="298.7" rx="15.9" ry="8.9" class="p"/><ellipse cx="708" cy="234.2" rx="8.5" ry="4.8" class="p"/><ellipse cx="620.4" cy="320.4" rx="8.9" ry="15.9" class="p"/><ellipse cx="514.5" cy="424.3" rx="15.9" ry="8.9" class="p"/><ellipse cx="685.6" cy="252.9" rx="8.9" ry="15.9" class="p"/><ellipse cx="576.4" cy="359.7" rx="15.9" ry="8.9" class="p"/><ellipse cx="475.1" cy="450.3" rx="4.8" ry="8.5" class="b"/><ellipse cx="537.9" cy="386.7" rx="8.9" ry="15.9" class="b"/><ellipse cx="645.9" cy="277.8" rx="15.9" ry="8.9" class="b"/><ellipse cx="708" cy="213.4" rx="8.5" ry="4.8" class="b"/><ellipse cx="599.6" cy="320.4" rx="8.9" ry="15.9" class="b"/><ellipse cx="514.5" cy="403.5" rx="15.9" ry="8.9" class="b"/><ellipse cx="664.8" cy="252.9" rx="8.9" ry="15.9" class="b"/><ellipse cx="576.4" cy="338.9" rx="15.9" ry="8.9" class="b"/><circle cx="580.3" cy="321.7" r="19.8" class="p"/><circle cx="643.1" cy="257.4" r="16.1" class="p"/><circle cx="514.7" cy="383.5" r="16.1" class="p"/><ellipse cx="623.9" cy="258" rx="8.9" ry="15.9" class="b"/><ellipse cx="581.4" cy="300.1" rx="15.9" ry="8.9" class="b"/><ellipse cx="555.9" cy="322.9" rx="8.9" ry="15.9" class="b"/><ellipse cx="512.6" cy="362" rx="15.9" ry="8.9" class="b"/><ellipse cx="491.7" cy="382.5" rx="7" ry="12.5" class="b"/><ellipse cx="641.9" cy="232.1" rx="12.5" ry="7" class="b"/><ellipse cx="603" cy="258" rx="8.9" ry="15.9" class="p"/><ellipse cx="581.4" cy="279.3" rx="15.9" ry="8.9" class="p"/><ellipse cx="535.1" cy="322.9" rx="8.9" ry="15.9" class="p"/><ellipse cx="512.6" cy="341.2" rx="15.9" ry="8.9" class="p"/><ellipse cx="470.8" cy="382.5" rx="7" ry="12.5" class="p"/><ellipse cx="641.9" cy="211.3" rx="12.5" ry="7" class="p"/><circle cx="517.5" cy="317" r="16.1" class="b"/><circle cx="577" cy="256.9" r="16.1" class="b"/><ellipse cx="556.1" cy="257" rx="8.9" ry="15.9" class="p"/><ellipse cx="489.9" cy="322.5" rx="7" ry="12.5" class="p"/><ellipse cx="578.5" cy="233.3" rx="12.5" ry="7" class="p"/><ellipse cx="514" cy="297.3" rx="15.9" ry="8.9" class="p"/><ellipse cx="535.3" cy="257" rx="8.9" ry="15.9" class="b"/><ellipse cx="469.1" cy="322.5" rx="7" ry="12.5" class="b"/><ellipse cx="578.5" cy="212.5" rx="12.5" ry="7" class="b"/><ellipse cx="514" cy="276.5" rx="15.9" ry="8.9" class="b"/><circle cx="512.6" cy="255.5" r="10.1" class="p"/><ellipse cx="515" cy="234.4" rx="8.5" ry="4.8" class="b"/><ellipse cx="492.7" cy="254.2" rx="4.8" ry="8.5" class="b"/><ellipse cx="515" cy="213.6" rx="8.5" ry="4.8" class="p"/><ellipse cx="471.9" cy="254.1" rx="4.8" ry="8.5" class="p"/><circle cx="711" cy="451" r="9.7" class="b"/><circle cx="704.6" cy="386.9" r="15.2" class="p"/><circle cx="639.8" cy="451.3" r="15.2" class="p"/><circle cx="707.9" cy="320.3" r="15.2" class="b"/><circle cx="640.6" cy="384.2" r="17.9" class="b"/><circle cx="575.1" cy="447" r="15.2" class="b"/><circle cx="710.3" cy="256" r="9.7" class="p"/><circle cx="515.1" cy="448.8" r="9.7" class="p"/><circle cx="576.5" cy="386" r="17.9" class="p"/><circle cx="640.2" cy="319.9" r="17.9" class="p"/><circle cx="513.8" cy="386.9" r="15.2" class="b"/><circle cx="580.7" cy="255.3" r="15.2" class="p"/><circle cx="513.3" cy="322.6" r="15.2" class="p"/><circle cx="517" cy="257" r="9.7" class="b"/><circle cx="711.9" cy="451.9" r="9.7" class="p"/><circle cx="705.5" cy="387.4" r="15.3" class="b"/><circle cx="640.3" cy="452.2" r="15.3" class="b"/><circle cx="708.8" cy="320.4" r="15.3" class="p"/><circle cx="641" cy="384.7" r="18" class="p"/><circle cx="575.2" cy="447.8" r="15.3" class="p"/><circle cx="711.2" cy="255.7" r="9.7" class="b"/><circle cx="514.8" cy="449.7" r="9.7" class="b"/><circle cx="576.6" cy="386.5" r="18.1" class="b"/><circle cx="640.7" cy="320" r="18.1" class="b"/><circle cx="513.6" cy="387.4" r="15.3" class="p"/><circle cx="580.9" cy="255" r="15.3" class="b"/><circle cx="513" cy="322.8" r="15.3" class="b"/><circle cx="516.8" cy="256.8" r="9.7" class="p"/><ellipse cx="712" cy="491.2" rx="8.7" ry="4.9" class="b"/><ellipse cx="750.2" cy="452.2" rx="4.9" ry="8.7" class="b"/><ellipse cx="712" cy="470" rx="8.7" ry="4.9" class="p"/><ellipse cx="729" cy="452.2" rx="4.9" ry="8.7" class="p"/><circle cx="707.2" cy="448.3" r="10.2" class="b"/><ellipse cx="644" cy="496.8" rx="12.7" ry="7.2" class="p"/><ellipse cx="690.1" cy="449.2" rx="9.1" ry="16.1" class="p"/><ellipse cx="707.6" cy="429.3" rx="16.1" ry="9.1" class="p"/><ellipse cx="750.6" cy="382.6" rx="7.2" ry="12.7" class="p"/><ellipse cx="644" cy="475.6" rx="12.7" ry="7.2" class="b"/><ellipse cx="669" cy="449.2" rx="9.1" ry="16.1" class="b"/><ellipse cx="707.6" cy="408.1" rx="16.1" ry="9.1" class="b"/><ellipse cx="729.5" cy="382.6" rx="7.2" ry="12.7" class="b"/><circle cx="647.2" cy="450" r="16.4" class="p"/><circle cx="710.2" cy="385.8" r="16.4" class="p"/><ellipse cx="754.8" cy="321" rx="7.2" ry="12.7" class="b"/><ellipse cx="577.1" cy="495.9" rx="12.7" ry="7.2" class="b"/><ellipse cx="711.9" cy="360.4" rx="16.1" ry="9.1" class="b"/><ellipse cx="689.3" cy="381.9" rx="9.1" ry="16.1" class="b"/><ellipse cx="644.9" cy="426.1" rx="16.1" ry="9.1" class="b"/><ellipse cx="619.6" cy="447" rx="9.1" ry="16.1" class="b"/><ellipse cx="733.6" cy="321" rx="7.2" ry="12.7" class="p"/><ellipse cx="577.1" cy="474.8" rx="12.7" ry="7.2" class="p"/><ellipse cx="711.9" cy="339.2" rx="16.1" ry="9.1" class="p"/><ellipse cx="668.1" cy="381.9" rx="9.1" ry="16.1" class="p"/><ellipse cx="644.9" cy="404.9" rx="16.1" ry="9.1" class="p"/><ellipse cx="598.4" cy="447.1" rx="9.1" ry="16.1" class="p"/><circle cx="642.1" cy="388.3" r="20.2" class="b"/><circle cx="575.9" cy="452.1" r="16.4" class="b"/><circle cx="710.7" cy="316.3" r="16.4" class="b"/><ellipse cx="516.5" cy="496.9" rx="8.7" ry="4.9" class="p"/><ellipse cx="643.8" cy="366.6" rx="16.1" ry="9.1" class="p"/><ellipse cx="711.6" cy="298.2" rx="16.1" ry="9.1" class="p"/><ellipse cx="622.2" cy="384.6" rx="9.1" ry="16.1" class="p"/><ellipse cx="686.6" cy="319.9" rx="9.1" ry="16.1" class="p"/><ellipse cx="557.7" cy="447.6" rx="9.1" ry="16.1" class="p"/><ellipse cx="576.9" cy="426.8" rx="16.1" ry="9.1" class="p"/><ellipse cx="749.9" cy="252.3" rx="4.9" ry="8.7" class="p"/><ellipse cx="516.5" cy="475.7" rx="8.7" ry="4.9" class="b"/><ellipse cx="643.8" cy="345.4" rx="16.1" ry="9.1" class="b"/><ellipse cx="711.7" cy="277" rx="16.1" ry="9.1" class="b"/><ellipse cx="601" cy="384.6" rx="9.1" ry="16.1" class="b"/><ellipse cx="665.5" cy="319.9" rx="9.1" ry="16.1" class="b"/><ellipse cx="536.5" cy="447.6" rx="9.1" ry="16.1" class="b"/><ellipse cx="576.9" cy="405.6" rx="16.1" ry="9.1" class="b"/><ellipse cx="728.7" cy="252.3" rx="4.9" ry="8.7" class="b"/><circle cx="576.6" cy="388.4" r="20.2" class="p"/><circle cx="644.2" cy="319.6" r="20.2" class="p"/><circle cx="515.4" cy="447.1" r="10.2" class="p"/><circle cx="708.2" cy="253" r="10.2" class="p"/><ellipse cx="622.7" cy="323.3" rx="9.1" ry="16.2" class="b"/><ellipse cx="644.8" cy="298.8" rx="16.2" ry="9.1" class="b"/><ellipse cx="578" cy="365.3" rx="16.2" ry="9.1" class="b"/><ellipse cx="706.3" cy="235.4" rx="8.7" ry="4.9" class="b"/><ellipse cx="553.3" cy="385.7" rx="9.1" ry="16.2" class="b"/><ellipse cx="511.9" cy="426.1" rx="16.2" ry="9.1" class="b"/><ellipse cx="685.6" cy="252.3" rx="9.1" ry="16.2" class="b"/><ellipse cx="488.5" cy="449.2" rx="4.9" ry="8.7" class="b"/><ellipse cx="601.5" cy="323.3" rx="9.1" ry="16.2" class="p"/><ellipse cx="644.8" cy="277.6" rx="16.2" ry="9.1" class="p"/><ellipse cx="578" cy="344.1" rx="16.2" ry="9.1" class="p"/><ellipse cx="706.3" cy="214.1" rx="8.7" ry="4.9" class="p"/><ellipse cx="532.1" cy="385.7" rx="9.1" ry="16.2" class="p"/><ellipse cx="511.9" cy="404.9" rx="16.2" ry="9.1" class="p"/><ellipse cx="664.4" cy="252.3" rx="9.1" ry="16.2" class="p"/><ellipse cx="467.3" cy="449.2" rx="4.9" ry="8.7" class="p"/><circle cx="579.7" cy="323" r="20.2" class="b"/><circle cx="510" cy="385.3" r="16.4" class="b"/><circle cx="643.6" cy="251.3" r="16.4" class="b"/><ellipse cx="647.2" cy="235.1" rx="12.8" ry="7.2" class="p"/><ellipse cx="578.7" cy="300.1" rx="16.2" ry="9.1" class="p"/><ellipse cx="619.7" cy="257.7" rx="9.1" ry="16.2" class="p"/><ellipse cx="557.8" cy="318.4" rx="9.1" ry="16.2" class="p"/><ellipse cx="492.6" cy="382.1" rx="7.2" ry="12.8" class="p"/><ellipse cx="510.5" cy="362.2" rx="16.2" ry="9.1" class="p"/><ellipse cx="647.2" cy="213.9" rx="12.8" ry="7.2" class="b"/><ellipse cx="578.7" cy="278.9" rx="16.2" ry="9.1" class="b"/><ellipse cx="598.5" cy="257.7" rx="9.1" ry="16.2" class="b"/><ellipse cx="536.6" cy="318.4" rx="9.1" ry="16.2" class="b"/><ellipse cx="471.4" cy="382.1" rx="7.2" ry="12.8" class="b"/><ellipse cx="510.5" cy="341" rx="16.2" ry="9.1" class="b"/><circle cx="578.6" cy="256.7" r="16.4" class="p"/><circle cx="516.3" cy="316.5" r="16.4" class="p"/><ellipse cx="512.7" cy="300.7" rx="16.2" ry="9.1" class="b"/><ellipse cx="493.4" cy="318.1" rx="7.2" ry="12.8" class="b"/><ellipse cx="556.7" cy="254.8" rx="9.1" ry="16.2" class="b"/><ellipse cx="576.4" cy="232.9" rx="12.8" ry="7.2" class="b"/><ellipse cx="512.7" cy="279.4" rx="16.2" ry="9.1" class="p"/><ellipse cx="472.2" cy="318.1" rx="7.2" ry="12.8" class="p"/><ellipse cx="535.5" cy="254.8" rx="9.1" ry="16.2" class="p"/><ellipse cx="576.4" cy="211.7" rx="12.8" ry="7.2" class="p"/><circle cx="511" cy="256.2" r="10.2" class="b"/><ellipse cx="512.9" cy="233.7" rx="8.7" ry="4.9" class="p"/><ellipse cx="490.8" cy="255.5" rx="4.9" ry="8.7" class="p"/><ellipse cx="512.9" cy="212.4" rx="8.7" ry="4.9" class="b"/><ellipse cx="469.6" cy="255.5" rx="4.9" ry="8.7" class="b"/><circle cx="711.1" cy="449.6" r="7.3" class="p"/><circle cx="647.1" cy="453.1" r="13" class="b"/><circle cx="710.6" cy="386.8" r="13" class="b"/><circle cx="642.9" cy="387.4" r="18.3" class="p"/><circle cx="708.7" cy="318.7" r="13" class="p"/><circle cx="577.9" cy="449.3" r="13" class="p"/><circle cx="516.1" cy="452.9" r="7.3" class="b"/><circle cx="581.1" cy="384.6" r="18.3" class="b"/><circle cx="645.7" cy="317.1" r="18.3" class="b"/><circle cx="709.7" cy="251.1" r="7.3" class="b"/><circle cx="514.6" cy="387.8" r="13" class="p"/><circle cx="641.9" cy="256.1" r="13" class="p"/><circle cx="576" cy="320.8" r="18.3" class="p"/><circle cx="510.8" cy="319" r="13" class="b"/><circle cx="576.4" cy="251.1" r="13" class="b"/><circle cx="511.6" cy="257.2" r="7.3" class="p"/><circle cx="712.1" cy="450.5" r="7.3" class="b"/><circle cx="647.6" cy="454" r="13.1" class="p"/><circle cx="711.6" cy="387.3" r="13.1" class="p"/><circle cx="643.5" cy="387.9" r="18.4" class="b"/><circle cx="709.6" cy="318.9" r="13.1" class="b"/><circle cx="578.1" cy="450.2" r="13.1" class="b"/><circle cx="515.9" cy="453.9" r="7.3" class="p"/><circle cx="581.2" cy="385.1" r="18.4" class="p"/><circle cx="646.2" cy="317.2" r="18.4" class="p"/><circle cx="710.6" cy="250.8" r="7.3" class="p"/><circle cx="514.3" cy="388.4" r="13.1" class="b"/><circle cx="642.4" cy="255.8" r="13.1" class="b"/><circle cx="576.1" cy="321" r="18.4" class="b"/><circle cx="510.5" cy="319.1" r="13.1" class="p"/><circle cx="576.5" cy="250.8" r="13.1" class="p"/><circle cx="511.3" cy="257" r="7.3" class="b"/><ellipse cx="713.9" cy="497" rx="4.8" ry="2.7" class="p"/><ellipse cx="752.9" cy="450.7" rx="2.7" ry="4.8" class="p"/><ellipse cx="714" cy="475.4" rx="4.8" ry="2.7" class="b"/><ellipse cx="731.3" cy="450.7" rx="2.7" ry="4.8" class="b"/><ellipse cx="712.8" cy="433" rx="13" ry="7.3" class="b"/><ellipse cx="644.4" cy="499.5" rx="8.9" ry="5" class="b"/><ellipse cx="692.1" cy="450.3" rx="7.3" ry="13" class="b"/><ellipse cx="755.4" cy="384.7" rx="5" ry="8.9" class="b"/><ellipse cx="712.9" cy="411.4" rx="13" ry="7.3" class="p"/><ellipse cx="644.4" cy="477.9" rx="8.9" ry="5" class="p"/><ellipse cx="670.5" cy="450.3" rx="7.3" ry="13" class="p"/><ellipse cx="733.8" cy="384.7" rx="5" ry="8.9" class="p"/><circle cx="646.7" cy="455.8" r="10.4" class="b"/><circle cx="711.4" cy="387.4" r="10.4" class="b"/><ellipse cx="625.4" cy="456.7" rx="8.4" ry="15" class="p"/><ellipse cx="687.7" cy="388.8" rx="9.3" ry="16.4" class="p"/><ellipse cx="714.5" cy="361.5" rx="15" ry="8.4" class="p"/><ellipse cx="645" cy="429.3" rx="16.4" ry="9.3" class="p"/><ellipse cx="755.6" cy="317.9" rx="5" ry="8.9" class="p"/><ellipse cx="578.2" cy="493.7" rx="8.9" ry="5" class="p"/><ellipse cx="603.8" cy="456.7" rx="8.4" ry="15" class="b"/><ellipse cx="666.2" cy="388.8" rx="9.3" ry="16.4" class="b"/><ellipse cx="714.5" cy="339.9" rx="15" ry="8.4" class="b"/><ellipse cx="645" cy="407.7" rx="16.5" ry="9.3" class="b"/><ellipse cx="734" cy="317.9" rx="5" ry="8.9" class="b"/><ellipse cx="578.2" cy="472.2" rx="8.9" ry="5" class="b"/><circle cx="715.5" cy="322.8" r="10.4" class="p"/><circle cx="645.6" cy="389.5" r="16.7" class="p"/><circle cx="579" cy="449.9" r="10.4" class="p"/><ellipse cx="713.5" cy="300.1" rx="13" ry="7.3" class="b"/><ellipse cx="624.3" cy="389.1" rx="9.3" ry="16.5" class="b"/><ellipse cx="513.4" cy="499.8" rx="4.8" ry="2.7" class="b"/><ellipse cx="647.4" cy="363.8" rx="16.5" ry="9.3" class="b"/><ellipse cx="691.2" cy="318.5" rx="9.3" ry="16.5" class="b"/><ellipse cx="577.9" cy="430.2" rx="16.5" ry="9.3" class="b"/><ellipse cx="755.4" cy="252.5" rx="2.7" ry="4.8" class="b"/><ellipse cx="554.9" cy="452.7" rx="7.3" ry="13" class="b"/><ellipse cx="713.5" cy="278.5" rx="13" ry="7.3" class="p"/><ellipse cx="602.7" cy="389.1" rx="9.3" ry="16.5" class="p"/><ellipse cx="513.4" cy="478.2" rx="4.8" ry="2.7" class="p"/><ellipse cx="647.4" cy="342.2" rx="16.5" ry="9.3" class="p"/><ellipse cx="669.6" cy="318.5" rx="9.3" ry="16.5" class="p"/><ellipse cx="577.9" cy="408.6" rx="16.5" ry="9.3" class="p"/><ellipse cx="733.8" cy="252.5" rx="2.7" ry="4.8" class="p"/><ellipse cx="533.3" cy="452.7" rx="7.3" ry="13" class="p"/><circle cx="578.5" cy="390.3" r="16.8" class="b"/><circle cx="646.8" cy="320.2" r="16.8" class="b"/><ellipse cx="715.2" cy="234.2" rx="4.8" ry="2.7" class="p"/><ellipse cx="513" cy="433.2" rx="13" ry="7.3" class="p"/><ellipse cx="557.6" cy="387.6" rx="9.3" ry="16.5" class="p"/><ellipse cx="620.5" cy="323.1" rx="9.3" ry="16.5" class="p"/><ellipse cx="645.8" cy="296.8" rx="16.5" ry="9.3" class="p"/><ellipse cx="689.9" cy="252.1" rx="7.3" ry="13" class="p"/><ellipse cx="486.7" cy="454" rx="2.7" ry="4.8" class="p"/><ellipse cx="576.8" cy="363.1" rx="16.5" ry="9.3" class="p"/><ellipse cx="715.2" cy="212.6" rx="4.8" ry="2.7" class="b"/><ellipse cx="513" cy="411.6" rx="13" ry="7.3" class="b"/><ellipse cx="536" cy="387.6" rx="9.3" ry="16.5" class="b"/><ellipse cx="598.9" cy="323.1" rx="9.3" ry="16.5" class="b"/><ellipse cx="645.8" cy="275.2" rx="16.5" ry="9.3" class="b"/><ellipse cx="668.3" cy="252.1" rx="7.3" ry="13" class="b"/><ellipse cx="465.1" cy="454.1" rx="2.7" ry="4.8" class="b"/><ellipse cx="576.8" cy="341.5" rx="16.5" ry="9.3" class="b"/><circle cx="515.9" cy="389.3" r="10.4" class="p"/><circle cx="578" cy="323.7" r="16.8" class="p"/><circle cx="642.6" cy="253.8" r="10.4" class="p"/><ellipse cx="646.9" cy="234.2" rx="8.9" ry="5" class="b"/><ellipse cx="625.1" cy="253.8" rx="8.4" ry="15" class="b"/><ellipse cx="488.7" cy="387.7" rx="5" ry="8.9" class="b"/><ellipse cx="554.2" cy="322" rx="9.3" ry="16.5" class="b"/><ellipse cx="515.3" cy="360.8" rx="15" ry="8.4" class="b"/><ellipse cx="576.7" cy="298.5" rx="16.5" ry="9.3" class="b"/><ellipse cx="646.9" cy="212.6" rx="8.9" ry="5" class="p"/><ellipse cx="603.4" cy="253.8" rx="8.4" ry="15" class="p"/><ellipse cx="467" cy="387.7" rx="5" ry="8.9" class="p"/><ellipse cx="532.6" cy="322" rx="9.3" ry="16.5" class="p"/><ellipse cx="515.3" cy="339.2" rx="15" ry="8.4" class="p"/><ellipse cx="576.7" cy="276.9" rx="16.5" ry="9.3" class="p"/><circle cx="577.8" cy="254.9" r="10.4" class="b"/><circle cx="509.1" cy="323.2" r="10.4" class="b"/><ellipse cx="515.4" cy="295.4" rx="13" ry="7.3" class="p"/><ellipse cx="487.9" cy="319.5" rx="5" ry="8.9" class="p"/><ellipse cx="576.8" cy="230.6" rx="8.9" ry="5" class="p"/><ellipse cx="555.4" cy="251.8" rx="7.3" ry="13" class="p"/><ellipse cx="515.4" cy="273.8" rx="13" ry="7.3" class="b"/><ellipse cx="466.3" cy="319.5" rx="5" ry="8.9" class="b"/><ellipse cx="576.8" cy="209" rx="8.9" ry="5" class="b"/><ellipse cx="533.8" cy="251.8" rx="7.3" ry="13" class="b"/><ellipse cx="492.9" cy="251.5" rx="2.7" ry="4.8" class="b"/><ellipse cx="513.7" cy="229.2" rx="4.8" ry="2.7" class="b"/><ellipse cx="471.3" cy="251.5" rx="2.7" ry="4.8" class="p"/><ellipse cx="513.7" cy="207.6" rx="4.8" ry="2.7" class="p"/><circle cx="649.1" cy="386.2" r="7.4" class="b"/><circle cx="645.3" cy="318.9" r="7.4" class="p"/><circle cx="576.6" cy="386.9" r="7.4" class="p"/><circle cx="580.5" cy="322.2" r="7.4" class="b"/><circle cx="649.6" cy="386.7" r="7.5" class="p"/><circle cx="645.9" cy="319" r="7.5" class="b"/><circle cx="576.7" cy="387.4" r="7.5" class="b"/><circle cx="580.6" cy="322.3" r="7.5" class="p"/></g>
<g opacity="1" fill="none" stroke="#7a7a7a" stroke-linejoin="round"><path d="M946.8 198 1011.1 197 1079.8 199 1141.5 195.5 1206.8 196.7 1272.3 196.8M947.3 261.5 1013.1 263 1075.4 262.9 1142.2 262.2 1207.9 263.6 1274.3 260.9M946.8 329.6 1011.2 326.8 1077.2 330.4 1145.8 329.1 1211 329.9 1274 326.2M947.4 394.1 1011.5 392.4 1077.3 393.6 1142.2 392.8 1208.8 395.6 1275 392.7M945.5 459.2 1010.7 457.9 1077.9 457.3 1143.3 458.7 1210 460.6 1275.6 460.4M946 525.9 1011.4 525.4 1076.9 524.7 1141.2 523.7 1211.4 523.7 1275.6 525.8M946.8 198 947.3 261.5 946.8 329.6 947.4 394.1 945.5 459.2 946 525.9M1011.1 197 1013.1 263 1011.2 326.8 1011.5 392.4 1010.7 457.9 1011.4 525.4M1079.8 199 1075.4 262.9 1077.2 330.4 1077.3 393.6 1077.9 457.3 1076.9 524.7M1141.5 195.5 1142.2 262.2 1145.8 329.1 1142.2 392.8 1143.3 458.7 1141.2 523.7M1206.8 196.7 1207.9 263.6 1211 329.9 1208.8 395.6 1210 460.6 1211.4 523.7M1272.3 196.8 1274.3 260.9 1274 326.2 1275 392.7 1275.6 460.4 1275.6 525.8M944.9 194.4 1009.6 195.3 1079.6 194.2 1141.7 192.3 1208.4 196.8 1277.3 196.2M942.5 259.9 1011.7 263.1 1076.5 258.9 1145.7 260.1 1211.7 259.4 1278.1 262.8M945.2 327 1011.8 325.9 1076.4 327.3 1145.8 326 1212.4 329.2 1279.4 327M942.6 393 1012.3 396.6 1078.3 394.2 1142.8 396 1212.4 392.3 1275.7 396M945.9 460 1009.6 460.5 1077.5 458.9 1145.6 461.1 1211.9 459.5 1279.4 462.1M943.3 529.7 1011.7 529.2 1075 525.3 1145.1 526.5 1210.6 525.8 1279.5 527.5M944.9 194.4 942.5 259.9 945.2 327 942.6 393 945.9 460 943.3 529.7M1009.6 195.3 1011.7 263.1 1011.8 325.9 1012.3 396.6 1009.6 460.5 1011.7 529.2M1079.6 194.2 1076.5 258.9 1076.4 327.3 1078.3 394.2 1077.5 458.9 1075 525.3M1141.7 192.3 1145.7 260.1 1145.8 326 1142.8 396 1145.6 461.1 1145.1 526.5M1208.4 196.8 1211.7 259.4 1212.4 329.2 1212.4 392.3 1211.9 459.5 1210.6 525.8M1277.3 196.2 1278.1 262.8 1279.4 327 1275.7 396 1279.4 462.1 1279.5 527.5" stroke-width="1.5"/><path d="M946.8 198 980.1 229.7 1013.1 263M1011.1 197 980.1 229.7 947.3 261.5M979 197.5 980.1 229.7 980.2 262.3M1012.1 230 980.1 229.7 947.1 229.8M1011.1 197 1045.3 228.5 1075.4 262.9M1079.8 199 1045.3 228.5 1013.1 263M1045.5 198 1045.3 228.5 1044.2 263M1077.6 230.9 1045.3 228.5 1012.1 230M1079.8 199 1109.3 228.9 1142.2 262.2M1141.5 195.5 1109.3 228.9 1075.4 262.9M1110.6 197.2 1109.3 228.9 1108.8 262.5M1141.9 228.8 1109.3 228.9 1077.6 230.9M1141.5 195.5 1175.2 228.6 1207.9 263.6M1206.8 196.7 1175.2 228.6 1142.2 262.2M1174.1 196.1 1175.2 228.6 1175.1 262.9M1207.3 230.1 1175.2 228.6 1141.9 228.8M1206.8 196.7 1240.7 230 1274.3 260.9M1272.3 196.8 1240.7 230 1207.9 263.6M1239.5 196.7 1240.7 230 1241.1 262.2M1273.3 228.8 1240.7 230 1207.3 230.1M947.3 261.5 978.5 296.8 1011.2 326.8M1013.1 263 978.5 296.8 946.8 329.6M980.2 262.3 978.5 296.8 979 328.2M1012.2 294.9 978.5 296.8 947.1 295.5M1013.1 263 1045.5 295.5 1077.2 330.4M1075.4 262.9 1045.5 295.5 1011.2 326.8M1044.2 263 1045.5 295.5 1044.2 328.6M1076.3 296.6 1045.5 295.5 1012.2 294.9M1075.4 262.9 1111.2 294.7 1145.8 329.1M1142.2 262.2 1111.2 294.7 1077.2 330.4M1108.8 262.5 1111.2 294.7 1111.5 329.7M1144 295.6 1111.2 294.7 1076.3 296.6M1142.2 262.2 1177.5 296.4 1211 329.9M1207.9 263.6 1177.5 296.4 1145.8 329.1M1175.1 262.9 1177.5 296.4 1178.4 329.5M1209.5 296.7 1177.5 296.4 1144 295.6M1207.9 263.6 1242.5 295.3 1274 326.2M1274.3 260.9 1242.5 295.3 1211 329.9M1241.1 262.2 1242.5 295.3 1242.5 328M1274.2 293.5 1242.5 295.3 1209.5 296.7M946.8 329.6 980.4 361.7 1011.5 392.4M1011.2 326.8 980.4 361.7 947.4 394.1M979 328.2 980.4 361.7 979.4 393.3M1011.4 359.6 980.4 361.7 947.1 361.8M1011.2 326.8 1045.5 362.2 1077.3 393.6M1077.2 330.4 1045.5 362.2 1011.5 392.4M1044.2 328.6 1045.5 362.2 1044.4 393M1077.3 362 1045.5 362.2 1011.4 359.6M1077.2 330.4 1111 360.6 1142.2 392.8M1145.8 329.1 1111 360.6 1077.3 393.6M1111.5 329.7 1111 360.6 1109.8 393.2M1144 360.9 1111 360.6 1077.3 362M1145.8 329.1 1176.4 360.1 1208.8 395.6M1211 329.9 1176.4 360.1 1142.2 392.8M1178.4 329.5 1176.4 360.1 1175.5 394.2M1209.9 362.8 1176.4 360.1 1144 360.9M1211 329.9 1240.9 361.7 1275 392.7M1274 326.2 1240.9 361.7 1208.8 395.6M1242.5 328 1240.9 361.7 1241.9 394.2M1274.5 359.4 1240.9 361.7 1209.9 362.8M947.4 394.1 980.2 428 1010.7 457.9M1011.5 392.4 980.2 428 945.5 459.2M979.4 393.3 980.2 428 978.1 458.5M1011.1 425.2 980.2 428 946.4 426.6M1011.5 392.4 1046 426.7 1077.9 457.3M1077.3 393.6 1046 426.7 1010.7 457.9M1044.4 393 1046 426.7 1044.3 457.6M1077.6 425.5 1046 426.7 1011.1 425.2M1077.3 393.6 1109.4 426.6 1143.3 458.7M1142.2 392.8 1109.4 426.6 1077.9 457.3M1109.8 393.2 1109.4 426.6 1110.6 458M1142.8 425.7 1109.4 426.6 1077.6 425.5M1142.2 392.8 1177.5 427.5 1210 460.6M1208.8 395.6 1177.5 427.5 1143.3 458.7M1175.5 394.2 1177.5 427.5 1176.7 459.7M1209.4 428.1 1177.5 427.5 1142.8 425.7M1208.8 395.6 1241.8 426.5 1275.6 460.4M1275 392.7 1241.8 426.5 1210 460.6M1241.9 394.2 1241.8 426.5 1242.8 460.5M1275.3 426.5 1241.8 426.5 1209.4 428.1M945.5 459.2 978.5 491.2 1011.4 525.4M1010.7 457.9 978.5 491.2 946 525.9M978.1 458.5 978.5 491.2 978.7 525.6M1011.1 491.6 978.5 491.2 945.7 492.5M1010.7 457.9 1043.7 493.4 1076.9 524.7M1077.9 457.3 1043.7 493.4 1011.4 525.4M1044.3 457.6 1043.7 493.4 1044.2 525.1M1077.4 491 1043.7 493.4 1011.1 491.6M1077.9 457.3 1111 491.1 1141.2 523.7M1143.3 458.7 1111 491.1 1076.9 524.7M1110.6 458 1111 491.1 1109.1 524.2M1142.3 491.2 1111 491.1 1077.4 491M1143.3 458.7 1175.9 490.9 1211.4 523.7M1210 460.6 1175.9 490.9 1141.2 523.7M1176.7 459.7 1175.9 490.9 1176.3 523.7M1210.7 492.2 1175.9 490.9 1142.3 491.2M1210 460.6 1240.9 492.9 1275.6 525.8M1275.6 460.4 1240.9 492.9 1211.4 523.7M1242.8 460.5 1240.9 492.9 1243.5 524.7M1275.6 493.1 1240.9 492.9 1210.7 492.2M944.9 194.4 978.4 226.5 1011.7 263.1M1009.6 195.3 978.4 226.5 942.5 259.9M977.2 194.8 978.4 226.5 977.1 261.5M1010.6 229.2 978.4 226.5 943.7 227.2M1009.6 195.3 1043.9 226.5 1076.5 258.9M1079.6 194.2 1043.9 226.5 1011.7 263.1M1044.6 194.7 1043.9 226.5 1044.1 261M1078 226.6 1043.9 226.5 1010.6 229.2M1079.6 194.2 1111.8 227.6 1145.7 260.1M1141.7 192.3 1111.8 227.6 1076.5 258.9M1110.7 193.2 1111.8 227.6 1111.1 259.5M1143.7 226.2 1111.8 227.6 1078 226.6M1141.7 192.3 1175.9 226.5 1211.7 259.4M1208.4 196.8 1175.9 226.5 1145.7 260.1M1175.1 194.6 1175.9 226.5 1178.7 259.7M1210.1 228.1 1175.9 226.5 1143.7 226.2M1208.4 196.8 1243.9 226.5 1278.1 262.8M1277.3 196.2 1243.9 226.5 1211.7 259.4M1242.9 196.5 1243.9 226.5 1244.9 261.1M1277.7 229.5 1243.9 226.5 1210.1 228.1M942.5 259.9 976.5 294.2 1011.8 325.9M1011.7 263.1 976.5 294.2 945.2 327M977.1 261.5 976.5 294.2 978.5 326.4M1011.8 294.5 976.5 294.2 943.9 293.5M1011.7 263.1 1044 294.7 1076.4 327.3M1076.5 258.9 1044 294.7 1011.8 325.9M1044.1 261 1044 294.7 1044.1 326.6M1076.4 293.1 1044 294.7 1011.8 294.5M1076.5 258.9 1111 294 1145.8 326M1145.7 260.1 1111 294 1076.4 327.3M1111.1 259.5 1111 294 1111.1 326.6M1145.8 293 1111 294 1076.4 293.1M1145.7 260.1 1177.6 293.4 1212.4 329.2M1211.7 259.4 1177.6 293.4 1145.8 326M1178.7 259.7 1177.6 293.4 1179.1 327.6M1212 294.3 1177.6 293.4 1145.8 293M1211.7 259.4 1243.1 295.3 1279.4 327M1278.1 262.8 1243.1 295.3 1212.4 329.2M1244.9 261.1 1243.1 295.3 1245.9 328.1M1278.8 294.9 1243.1 295.3 1212 294.3M945.2 327 976.4 360.2 1012.3 396.6M1011.8 325.9 976.4 360.2 942.6 393M978.5 326.4 976.4 360.2 977.5 394.8M1012.1 361.3 976.4 360.2 943.9 360M1011.8 325.9 1043.2 360.9 1078.3 394.2M1076.4 327.3 1043.2 360.9 1012.3 396.6M1044.1 326.6 1043.2 360.9 1045.3 395.4M1077.3 360.8 1043.2 360.9 1012.1 361.3M1076.4 327.3 1109.1 359.6 1142.8 396M1145.8 326 1109.1 359.6 1078.3 394.2M1111.1 326.6 1109.1 359.6 1110.6 395.1M1144.3 361 1109.1 359.6 1077.3 360.8M1145.8 326 1177.1 360 1212.4 392.3M1212.4 329.2 1177.1 360 1142.8 396M1179.1 327.6 1177.1 360 1177.6 394.1M1212.4 360.7 1177.1 360 1144.3 361M1212.4 329.2 1244.3 361.9 1275.7 396M1279.4 327 1244.3 361.9 1212.4 392.3M1245.9 328.1 1244.3 361.9 1244 394.1M1277.6 361.5 1244.3 361.9 1212.4 360.7M942.6 393 977.6 428.2 1009.6 460.5M1012.3 396.6 977.6 428.2 945.9 460M977.5 394.8 977.6 428.2 977.7 460.3M1011 428.6 977.6 428.2 944.2 426.5M1012.3 396.6 1043.7 426.2 1077.5 458.9M1078.3 394.2 1043.7 426.2 1009.6 460.5M1045.3 395.4 1043.7 426.2 1043.6 459.7M1077.9 426.5 1043.7 426.2 1011 428.6M1078.3 394.2 1110.4 427.2 1145.6 461.1M1142.8 396 1110.4 427.2 1077.5 458.9M1110.6 395.1 1110.4 427.2 1111.5 460M1144.2 428.5 1110.4 427.2 1077.9 426.5M1142.8 396 1177.5 426.5 1211.9 459.5M1212.4 392.3 1177.5 426.5 1145.6 461.1M1177.6 394.1 1177.5 426.5 1178.7 460.3M1212.1 425.9 1177.5 426.5 1144.2 428.5M1212.4 392.3 1243 428.5 1279.4 462.1M1275.7 396 1243 428.5 1211.9 459.5M1244 394.1 1243 428.5 1245.6 460.8M1277.5 429.1 1243 428.5 1212.1 425.9M945.9 460 976.7 493.9 1011.7 529.2M1009.6 460.5 976.7 493.9 943.3 529.7M977.7 460.3 976.7 493.9 977.5 529.5M1010.7 494.9 976.7 493.9 944.6 494.8M1009.6 460.5 1045.3 493.5 1075 525.3M1077.5 458.9 1045.3 493.5 1011.7 529.2M1043.6 459.7 1045.3 493.5 1043.4 527.2M1076.3 492.1 1045.3 493.5 1010.7 494.9M1077.5 458.9 1109.5 494.8 1145.1 526.5M1145.6 461.1 1109.5 494.8 1075 525.3M1111.5 460 1109.5 494.8 1110.1 525.9M1145.3 493.8 1109.5 494.8 1076.3 492.1M1145.6 461.1 1177.4 494.5 1210.6 525.8M1211.9 459.5 1177.4 494.5 1145.1 526.5M1178.7 460.3 1177.4 494.5 1177.8 526.1M1211.2 492.7 1177.4 494.5 1145.3 493.8M1211.9 459.5 1242.4 493.9 1279.5 527.5M1279.4 462.1 1242.4 493.9 1210.6 525.8M1245.6 460.8 1242.4 493.9 1245 526.6M1279.4 494.8 1242.4 493.9 1211.2 492.7" stroke-width="0.8" stroke-opacity="0.8"/></g>
<g><ellipse cx="1046.5" cy="533.2" rx="5.1" ry="2.9" class="b"/><ellipse cx="984.1" cy="469.4" rx="8.8" ry="5.1" class="b"/><ellipse cx="1006.4" cy="489.7" rx="5.1" ry="8.8" class="b"/><ellipse cx="940.6" cy="422.6" rx="2.9" ry="5.1" class="b"/><ellipse cx="1046.5" cy="512.8" rx="5.1" ry="2.9" class="p"/><ellipse cx="984.1" cy="448.9" rx="8.8" ry="5.1" class="p"/><ellipse cx="1026.9" cy="489.8" rx="5.1" ry="8.8" class="p"/><ellipse cx="961.1" cy="422.6" rx="2.9" ry="5.1" class="p"/><ellipse cx="1110.4" cy="529.4" rx="6.3" ry="3.6" class="p"/><ellipse cx="938.1" cy="357.1" rx="3.6" ry="6.3" class="p"/><ellipse cx="985.5" cy="404.2" rx="11.4" ry="6.6" class="p"/><ellipse cx="1071.2" cy="489.5" rx="6.6" ry="11.4" class="p"/><ellipse cx="1047.7" cy="465.7" rx="13.5" ry="7.8" class="p"/><ellipse cx="1008" cy="423.6" rx="7.8" ry="13.5" class="p"/><ellipse cx="1110.4" cy="509" rx="6.3" ry="3.6" class="b"/><ellipse cx="958.6" cy="357.1" rx="3.6" ry="6.3" class="b"/><ellipse cx="985.5" cy="383.8" rx="11.4" ry="6.6" class="b"/><ellipse cx="1091.6" cy="489.5" rx="6.6" ry="11.4" class="b"/><ellipse cx="1047.7" cy="445.3" rx="13.5" ry="7.8" class="b"/><ellipse cx="1028.4" cy="423.6" rx="7.8" ry="13.5" class="b"/><ellipse cx="1069.4" cy="426.4" rx="9.3" ry="16.1" class="b"/><ellipse cx="1110.7" cy="467.1" rx="14.9" ry="8.6" class="b"/><ellipse cx="937.9" cy="293.3" rx="2.9" ry="5.1" class="b"/><ellipse cx="1047.1" cy="402" rx="16.1" ry="9.3" class="b"/><ellipse cx="1003.6" cy="358.4" rx="8.6" ry="14.9" class="b"/><ellipse cx="1133.5" cy="485.8" rx="6.6" ry="11.4" class="b"/><ellipse cx="985.7" cy="336.7" rx="11.4" ry="6.6" class="b"/><ellipse cx="1178.3" cy="528.5" rx="5.1" ry="2.9" class="b"/><ellipse cx="1089.8" cy="426.4" rx="9.3" ry="16.1" class="p"/><ellipse cx="1110.7" cy="446.7" rx="14.9" ry="8.6" class="p"/><ellipse cx="958.3" cy="293.3" rx="2.9" ry="5.1" class="p"/><ellipse cx="1047.1" cy="381.6" rx="16.1" ry="9.3" class="p"/><ellipse cx="1024" cy="358.4" rx="8.6" ry="14.9" class="p"/><ellipse cx="1153.9" cy="485.8" rx="6.6" ry="11.4" class="p"/><ellipse cx="985.7" cy="316.3" rx="11.4" ry="6.6" class="p"/><ellipse cx="1178.3" cy="508" rx="5.1" ry="2.9" class="p"/><ellipse cx="1002.6" cy="297.1" rx="7.8" ry="13.5" class="p"/><ellipse cx="1110" cy="402.8" rx="16.1" ry="9.3" class="p"/><ellipse cx="1070.2" cy="359.3" rx="9.3" ry="16.1" class="p"/><ellipse cx="984.8" cy="273.5" rx="8.8" ry="5.1" class="p"/><ellipse cx="1198.6" cy="487.3" rx="5.1" ry="8.8" class="p"/><ellipse cx="1135.4" cy="423.9" rx="9.3" ry="16.1" class="p"/><ellipse cx="1179" cy="467.3" rx="13.5" ry="7.8" class="p"/><ellipse cx="1048.7" cy="335.9" rx="16.1" ry="9.3" class="p"/><ellipse cx="1023" cy="297.1" rx="7.8" ry="13.5" class="b"/><ellipse cx="1110" cy="382.4" rx="16.1" ry="9.3" class="b"/><ellipse cx="1090.6" cy="359.3" rx="9.3" ry="16.1" class="b"/><ellipse cx="984.8" cy="253.1" rx="8.8" ry="5.1" class="b"/><ellipse cx="1219.1" cy="487.3" rx="5.1" ry="8.8" class="b"/><ellipse cx="1155.9" cy="423.9" rx="9.3" ry="16.1" class="b"/><ellipse cx="1179" cy="446.9" rx="13.5" ry="7.8" class="b"/><ellipse cx="1048.7" cy="315.4" rx="16.1" ry="9.3" class="b"/><ellipse cx="1067.1" cy="297" rx="9.3" ry="16.1" class="b"/><ellipse cx="1003.4" cy="231.6" rx="5.1" ry="8.8" class="b"/><ellipse cx="1195.4" cy="422.4" rx="7.8" ry="13.5" class="b"/><ellipse cx="1045.2" cy="271.5" rx="13.5" ry="7.8" class="b"/><ellipse cx="1176.2" cy="401.2" rx="16.1" ry="9.3" class="b"/><ellipse cx="1240.5" cy="465.1" rx="8.8" ry="5.1" class="b"/><ellipse cx="1136" cy="358.8" rx="9.3" ry="16.1" class="b"/><ellipse cx="1114.4" cy="335.5" rx="16.1" ry="9.3" class="b"/><ellipse cx="1087.5" cy="297" rx="9.3" ry="16.1" class="p"/><ellipse cx="1023.8" cy="231.6" rx="5.1" ry="8.8" class="p"/><ellipse cx="1215.8" cy="422.4" rx="7.8" ry="13.5" class="p"/><ellipse cx="1045.2" cy="251.1" rx="13.5" ry="7.8" class="p"/><ellipse cx="1176.2" cy="380.8" rx="16.1" ry="9.3" class="p"/><ellipse cx="1240.5" cy="444.6" rx="8.8" ry="5.1" class="p"/><ellipse cx="1156.5" cy="358.8" rx="9.3" ry="16.1" class="p"/><ellipse cx="1114.4" cy="315.1" rx="16.1" ry="9.3" class="p"/><ellipse cx="1239.5" cy="403.6" rx="11.4" ry="6.6" class="p"/><ellipse cx="1067.3" cy="230.7" rx="6.6" ry="11.4" class="p"/><ellipse cx="1109.7" cy="272" rx="14.9" ry="8.6" class="p"/><ellipse cx="1049" cy="211.2" rx="5.1" ry="2.9" class="p"/><ellipse cx="1197.1" cy="358.1" rx="8.6" ry="14.9" class="p"/><ellipse cx="1261.7" cy="421.4" rx="2.9" ry="5.1" class="p"/><ellipse cx="1176.8" cy="334.9" rx="16.1" ry="9.3" class="p"/><ellipse cx="1136.5" cy="294.4" rx="9.3" ry="16.1" class="p"/><ellipse cx="1239.5" cy="383.2" rx="11.4" ry="6.6" class="b"/><ellipse cx="1087.7" cy="230.7" rx="6.6" ry="11.4" class="b"/><ellipse cx="1109.7" cy="251.6" rx="14.9" ry="8.6" class="b"/><ellipse cx="1049" cy="190.8" rx="5.1" ry="2.9" class="b"/><ellipse cx="1217.5" cy="358.1" rx="8.6" ry="14.9" class="b"/><ellipse cx="1282.2" cy="421.5" rx="2.9" ry="5.1" class="b"/><ellipse cx="1176.8" cy="314.4" rx="16.1" ry="9.3" class="b"/><ellipse cx="1156.9" cy="294.4" rx="9.3" ry="16.1" class="b"/><ellipse cx="1131.8" cy="233.4" rx="6.6" ry="11.4" class="b"/><ellipse cx="1238.2" cy="338.1" rx="11.4" ry="6.6" class="b"/><ellipse cx="1198.8" cy="296.4" rx="7.8" ry="13.5" class="b"/><ellipse cx="1262.9" cy="358.3" rx="3.6" ry="6.3" class="b"/><ellipse cx="1114.8" cy="208.9" rx="6.3" ry="3.6" class="b"/><ellipse cx="1176.6" cy="270.6" rx="13.5" ry="7.8" class="b"/><ellipse cx="1152.3" cy="233.4" rx="6.6" ry="11.4" class="p"/><ellipse cx="1238.2" cy="317.6" rx="11.4" ry="6.6" class="p"/><ellipse cx="1219.2" cy="296.4" rx="7.8" ry="13.5" class="p"/><ellipse cx="1283.4" cy="358.3" rx="3.6" ry="6.3" class="p"/><ellipse cx="1114.8" cy="188.4" rx="6.3" ry="3.6" class="p"/><ellipse cx="1176.6" cy="250.2" rx="13.5" ry="7.8" class="p"/><ellipse cx="1260.4" cy="297.5" rx="2.9" ry="5.1" class="p"/><ellipse cx="1174.9" cy="207.2" rx="5.1" ry="2.9" class="p"/><ellipse cx="1241.5" cy="273.8" rx="8.8" ry="5.1" class="p"/><ellipse cx="1201.2" cy="231.3" rx="5.1" ry="8.8" class="p"/><ellipse cx="1280.8" cy="297.5" rx="2.9" ry="5.1" class="b"/><ellipse cx="1174.9" cy="186.7" rx="5.1" ry="2.9" class="b"/><ellipse cx="1241.5" cy="253.3" rx="8.8" ry="5.1" class="b"/><ellipse cx="1221.6" cy="231.2" rx="5.1" ry="8.8" class="b"/><circle cx="1047.7" cy="358.6" r="17.8" class="p"/><circle cx="984.8" cy="295.1" r="9" class="p"/><circle cx="1110.5" cy="362.4" r="19.6" class="b"/><circle cx="1047.2" cy="358.8" r="17.8" class="b"/><circle cx="984.1" cy="295" r="9.1" class="b"/><circle cx="1110.3" cy="362.6" r="19.7" class="p"/><ellipse cx="940.4" cy="490.8" rx="3" ry="5.2" class="b"/><ellipse cx="983.4" cy="533.1" rx="5.2" ry="3" class="b"/><ellipse cx="961.1" cy="490.8" rx="3" ry="5.2" class="p"/><ellipse cx="983.4" cy="512.4" rx="5.2" ry="3" class="p"/><ellipse cx="1045.2" cy="534.6" rx="9.7" ry="5.6" class="p"/><ellipse cx="938.3" cy="427.4" rx="5.6" ry="9.7" class="p"/><ellipse cx="1002" cy="490.5" rx="7.9" ry="13.7" class="p"/><ellipse cx="982.7" cy="467.8" rx="13.7" ry="7.9" class="p"/><ellipse cx="1045.1" cy="513.9" rx="9.7" ry="5.6" class="b"/><ellipse cx="959" cy="427.4" rx="5.6" ry="9.7" class="b"/><ellipse cx="1022.8" cy="490.5" rx="7.9" ry="13.7" class="b"/><ellipse cx="982.7" cy="447" rx="13.7" ry="7.9" class="b"/><circle cx="981.8" cy="425.6" r="12.3" class="p"/><circle cx="1048.8" cy="488.6" r="12.3" class="p"/><ellipse cx="935.6" cy="362" rx="6.3" ry="10.9" class="b"/><ellipse cx="1066.8" cy="491.4" rx="9.4" ry="16.3" class="b"/><ellipse cx="982.4" cy="404.4" rx="16.3" ry="9.4" class="b"/><ellipse cx="1005.3" cy="427.2" rx="9.4" ry="16.3" class="b"/><ellipse cx="1110.8" cy="532.4" rx="10.9" ry="6.3" class="b"/><ellipse cx="1044.7" cy="465.9" rx="16.3" ry="9.4" class="b"/><ellipse cx="956.3" cy="362" rx="6.3" ry="10.9" class="p"/><ellipse cx="1087.5" cy="491.4" rx="9.4" ry="16.3" class="p"/><ellipse cx="982.4" cy="383.6" rx="16.3" ry="9.4" class="p"/><ellipse cx="1026" cy="427.2" rx="9.4" ry="16.3" class="p"/><ellipse cx="1110.8" cy="511.7" rx="10.9" ry="6.3" class="p"/><ellipse cx="1044.7" cy="445.2" rx="16.3" ry="9.4" class="p"/><circle cx="1110.5" cy="492.3" r="14.1" class="b"/><circle cx="1046.6" cy="425.9" r="19.6" class="b"/><ellipse cx="1109.5" cy="468.5" rx="16.3" ry="9.4" class="p"/><ellipse cx="1067.1" cy="425.9" rx="9.4" ry="16.3" class="p"/><ellipse cx="980.3" cy="339" rx="16.3" ry="9.4" class="p"/><ellipse cx="1043.7" cy="401.6" rx="16.3" ry="9.4" class="p"/><ellipse cx="940" cy="297.2" rx="5.6" ry="9.7" class="p"/><ellipse cx="1136.3" cy="492.3" rx="9.4" ry="16.3" class="p"/><ellipse cx="1003.4" cy="359.2" rx="9.4" ry="16.3" class="p"/><ellipse cx="1178.5" cy="533.3" rx="9.7" ry="5.6" class="p"/><ellipse cx="1109.5" cy="447.8" rx="16.3" ry="9.4" class="b"/><ellipse cx="1087.8" cy="425.9" rx="9.4" ry="16.3" class="b"/><ellipse cx="980.3" cy="318.2" rx="16.3" ry="9.4" class="b"/><ellipse cx="1043.7" cy="380.9" rx="16.3" ry="9.4" class="b"/><ellipse cx="960.7" cy="297.2" rx="5.6" ry="9.7" class="b"/><ellipse cx="1157" cy="492.3" rx="9.4" ry="16.3" class="b"/><ellipse cx="1024.1" cy="359.2" rx="9.4" ry="16.3" class="b"/><ellipse cx="1178.5" cy="512.6" rx="9.7" ry="5.6" class="b"/><circle cx="978.2" cy="297.2" r="12.3" class="p"/><circle cx="1109.3" cy="427.6" r="20.7" class="p"/><circle cx="1174.5" cy="490.6" r="12.3" class="p"/><circle cx="1048.9" cy="362.6" r="20.7" class="p"/><ellipse cx="1198.4" cy="493.7" rx="7.9" ry="13.7" class="b"/><ellipse cx="1046" cy="340.7" rx="16.3" ry="9.4" class="b"/><ellipse cx="1241.2" cy="535.5" rx="5.2" ry="3" class="b"/><ellipse cx="979.2" cy="273.5" rx="13.7" ry="7.9" class="b"/><ellipse cx="936.8" cy="231" rx="3" ry="5.2" class="b"/><ellipse cx="1176.3" cy="470.4" rx="16.3" ry="9.4" class="b"/><ellipse cx="1000.4" cy="293.4" rx="9.4" ry="16.3" class="b"/><ellipse cx="1134.6" cy="426.7" rx="9.4" ry="16.3" class="b"/><ellipse cx="1069.6" cy="357.8" rx="9.4" ry="16.3" class="b"/><ellipse cx="1113.6" cy="401.2" rx="16.3" ry="9.4" class="b"/><ellipse cx="1219.1" cy="493.7" rx="7.9" ry="13.7" class="p"/><ellipse cx="1046" cy="320" rx="16.3" ry="9.4" class="p"/><ellipse cx="1241.2" cy="514.8" rx="5.2" ry="3" class="p"/><ellipse cx="979.2" cy="252.7" rx="13.7" ry="7.9" class="p"/><ellipse cx="957.5" cy="231" rx="3" ry="5.2" class="p"/><ellipse cx="1176.3" cy="449.7" rx="16.3" ry="9.4" class="p"/><ellipse cx="1021.1" cy="293.4" rx="9.4" ry="16.3" class="p"/><ellipse cx="1155.3" cy="426.7" rx="9.4" ry="16.3" class="p"/><ellipse cx="1090.3" cy="357.8" rx="9.4" ry="16.3" class="p"/><ellipse cx="1113.6" cy="380.5" rx="16.3" ry="9.4" class="p"/><circle cx="1174.4" cy="426.6" r="19.7" class="b"/><circle cx="1044.5" cy="295.5" r="19.7" class="b"/><circle cx="983.6" cy="229.6" r="3.8" class="b"/><circle cx="1112.8" cy="358.7" r="20.7" class="b"/><ellipse cx="1174.4" cy="404.4" rx="16.3" ry="9.4" class="p"/><ellipse cx="1048.8" cy="275.5" rx="16.3" ry="9.4" class="p"/><ellipse cx="1003.2" cy="229.8" rx="7.9" ry="13.7" class="p"/><ellipse cx="1264" cy="490.6" rx="3" ry="5.2" class="p"/><ellipse cx="1070.3" cy="296.3" rx="9.4" ry="16.3" class="p"/><ellipse cx="1136.2" cy="362.2" rx="9.4" ry="16.3" class="p"/><ellipse cx="1200.6" cy="426.1" rx="9.4" ry="16.3" class="p"/><ellipse cx="1111.3" cy="335.9" rx="16.3" ry="9.4" class="p"/><ellipse cx="983.3" cy="206.8" rx="5.2" ry="3" class="p"/><ellipse cx="1243.3" cy="466" rx="13.7" ry="7.9" class="p"/><ellipse cx="1174.4" cy="383.7" rx="16.3" ry="9.4" class="b"/><ellipse cx="1048.8" cy="254.8" rx="16.3" ry="9.4" class="b"/><ellipse cx="1023.9" cy="229.8" rx="7.9" ry="13.7" class="b"/><ellipse cx="1284.7" cy="490.6" rx="3" ry="5.2" class="b"/><ellipse cx="1091" cy="296.3" rx="9.4" ry="16.3" class="b"/><ellipse cx="1156.9" cy="362.2" rx="9.4" ry="16.3" class="b"/><ellipse cx="1221.3" cy="426.1" rx="9.4" ry="16.3" class="b"/><ellipse cx="1111.3" cy="315.2" rx="16.3" ry="9.4" class="b"/><ellipse cx="983.3" cy="186" rx="5.2" ry="3" class="b"/><ellipse cx="1243.3" cy="445.2" rx="13.7" ry="7.9" class="b"/><circle cx="1240.2" cy="427.2" r="12.3" class="p"/><circle cx="1109.5" cy="292.5" r="20.7" class="p"/><circle cx="1178.9" cy="360.8" r="20.7" class="p"/><circle cx="1047.6" cy="227.3" r="12.3" class="p"/><ellipse cx="1196.9" cy="362.6" rx="9.4" ry="16.3" class="b"/><ellipse cx="1261.1" cy="423.9" rx="5.6" ry="9.7" class="b"/><ellipse cx="1243.3" cy="405.7" rx="16.3" ry="9.4" class="b"/><ellipse cx="1065.4" cy="227.5" rx="9.4" ry="16.3" class="b"/><ellipse cx="1175.5" cy="337" rx="16.3" ry="9.4" class="b"/><ellipse cx="1113.8" cy="273.9" rx="16.3" ry="9.4" class="b"/><ellipse cx="1048.3" cy="208.2" rx="9.7" ry="5.6" class="b"/><ellipse cx="1134.4" cy="292.9" rx="9.4" ry="16.3" class="b"/><ellipse cx="1217.6" cy="362.6" rx="9.4" ry="16.3" class="p"/><ellipse cx="1281.9" cy="423.9" rx="5.6" ry="9.7" class="p"/><ellipse cx="1243.3" cy="385" rx="16.3" ry="9.4" class="p"/><ellipse cx="1086.2" cy="227.5" rx="9.4" ry="16.3" class="p"/><ellipse cx="1175.5" cy="316.3" rx="16.3" ry="9.4" class="p"/><ellipse cx="1113.8" cy="253.2" rx="16.3" ry="9.4" class="p"/><ellipse cx="1048.3" cy="187.5" rx="9.7" ry="5.6" class="p"/><ellipse cx="1155.2" cy="292.9" rx="9.4" ry="16.3" class="p"/><circle cx="1239.3" cy="361.2" r="14.2" class="b"/><circle cx="1174.3" cy="292.9" r="19.7" class="b"/><circle cx="1112.1" cy="230.1" r="14.2" class="b"/><ellipse cx="1196" cy="293.4" rx="9.4" ry="16.3" class="p"/><ellipse cx="1112.7" cy="209.3" rx="10.9" ry="6.3" class="p"/><ellipse cx="1265" cy="361.3" rx="6.3" ry="10.9" class="p"/><ellipse cx="1135.3" cy="231.2" rx="9.4" ry="16.3" class="p"/><ellipse cx="1243.8" cy="337.3" rx="16.3" ry="9.4" class="p"/><ellipse cx="1177.9" cy="270.2" rx="16.3" ry="9.4" class="p"/><ellipse cx="1216.7" cy="293.4" rx="9.4" ry="16.3" class="b"/><ellipse cx="1112.7" cy="188.6" rx="10.9" ry="6.3" class="b"/><ellipse cx="1285.7" cy="361.3" rx="6.3" ry="10.9" class="b"/><ellipse cx="1156" cy="231.2" rx="9.4" ry="16.3" class="b"/><ellipse cx="1243.8" cy="316.5" rx="16.3" ry="9.4" class="b"/><ellipse cx="1177.9" cy="249.5" rx="16.3" ry="9.4" class="b"/><circle cx="1239.8" cy="297.9" r="12.3" class="p"/><ellipse cx="1197.8" cy="230.5" rx="7.9" ry="13.7" class="b"/><ellipse cx="1241.5" cy="271.3" rx="13.7" ry="7.9" class="b"/><ellipse cx="1179.1" cy="207.8" rx="9.7" ry="5.6" class="b"/><ellipse cx="1267" cy="294.4" rx="5.6" ry="9.7" class="b"/><ellipse cx="1218.5" cy="230.5" rx="7.9" ry="13.7" class="p"/><ellipse cx="1241.5" cy="250.5" rx="13.7" ry="7.9" class="p"/><ellipse cx="1179.1" cy="187" rx="9.7" ry="5.6" class="p"/><ellipse cx="1287.7" cy="294.4" rx="5.6" ry="9.7" class="p"/><circle cx="1243.8" cy="230.9" r="3.8" class="b"/><ellipse cx="1262.4" cy="228.9" rx="3" ry="5.2" class="p"/><ellipse cx="1240.9" cy="206.8" rx="5.2" ry="3" class="p"/><ellipse cx="1283.1" cy="228.9" rx="3" ry="5.2" class="b"/><ellipse cx="1240.9" cy="186" rx="5.2" ry="3" class="b"/><circle cx="979.5" cy="489" r="5.7" class="p"/><circle cx="1048.5" cy="493.4" r="13.1" class="b"/><circle cx="982.7" cy="424.2" r="13.1" class="b"/><circle cx="1108.5" cy="489.2" r="14.9" class="p"/><circle cx="982.3" cy="360.5" r="14.9" class="p"/><circle cx="1045.6" cy="423.4" r="19.8" class="p"/><circle cx="979.5" cy="295.7" r="13.1" class="b"/><circle cx="1043.7" cy="359.9" r="19.8" class="b"/><circle cx="1173.9" cy="489.1" r="13.1" class="b"/><circle cx="1109.6" cy="423.9" r="19.8" class="b"/><circle cx="1239.1" cy="493" r="5.7" class="p"/><circle cx="1109" cy="362.6" r="19.8" class="p"/><circle cx="977.8" cy="228" r="5.7" class="p"/><circle cx="1174.9" cy="424.8" r="19.8" class="p"/><circle cx="1042.7" cy="292.6" r="19.8" class="p"/><circle cx="1176.2" cy="363" r="19.8" class="b"/><circle cx="1045.2" cy="230.8" r="13.1" class="b"/><circle cx="1241.3" cy="426.8" r="13.1" class="b"/><circle cx="1110.3" cy="292.4" r="19.8" class="b"/><circle cx="1109.1" cy="228.7" r="14.9" class="p"/><circle cx="1177.9" cy="296.5" r="19.8" class="p"/><circle cx="1242.3" cy="359.5" r="14.9" class="p"/><circle cx="1239.3" cy="297.1" r="13.1" class="b"/><circle cx="1179.3" cy="227.4" r="13.1" class="b"/><circle cx="1239.8" cy="229.1" r="5.7" class="p"/><circle cx="978.7" cy="489.7" r="5.7" class="b"/><circle cx="1048" cy="494.2" r="13.1" class="p"/><circle cx="982" cy="424.6" r="13.1" class="p"/><circle cx="1108.3" cy="489.9" r="15" class="b"/><circle cx="981.5" cy="360.7" r="15" class="b"/><circle cx="1045.1" cy="423.9" r="19.9" class="b"/><circle cx="978.7" cy="295.6" r="13.2" class="p"/><circle cx="1043.2" cy="360.1" r="19.9" class="p"/><circle cx="1173.9" cy="489.9" r="13.2" class="p"/><circle cx="1109.4" cy="424.4" r="19.9" class="p"/><circle cx="1239.5" cy="493.7" r="5.7" class="b"/><circle cx="1108.8" cy="362.8" r="19.9" class="b"/><circle cx="977" cy="227.7" r="5.7" class="b"/><circle cx="1175" cy="425.3" r="19.9" class="b"/><circle cx="1042.2" cy="292.5" r="19.9" class="b"/><circle cx="1176.3" cy="363.3" r="19.9" class="p"/><circle cx="1044.7" cy="230.5" r="13.2" class="p"/><circle cx="1241.7" cy="427.3" r="13.2" class="p"/><circle cx="1110.1" cy="292.3" r="19.9" class="p"/><circle cx="1108.9" cy="228.4" r="15" class="b"/><circle cx="1177.9" cy="296.4" r="19.9" class="b"/><circle cx="1242.7" cy="359.7" r="15" class="b"/><circle cx="1239.6" cy="297" r="13.2" class="p"/><circle cx="1179.3" cy="227" r="13.2" class="p"/><circle cx="1240.1" cy="228.7" r="5.7" class="b"/><ellipse cx="936.3" cy="495.8" rx="3.7" ry="6.5" class="p"/><ellipse cx="979.9" cy="538" rx="6.5" ry="3.7" class="p"/><ellipse cx="957.3" cy="495.8" rx="3.7" ry="6.5" class="b"/><ellipse cx="979.9" cy="517.1" rx="6.5" ry="3.7" class="b"/><circle cx="979.7" cy="492.1" r="6.6" class="p"/><ellipse cx="932.2" cy="429.4" rx="6.4" ry="11.1" class="b"/><ellipse cx="977.4" cy="472.5" rx="15.2" ry="8.8" class="b"/><ellipse cx="999.3" cy="492.9" rx="8.8" ry="15.2" class="b"/><ellipse cx="1043.6" cy="533.7" rx="11.1" ry="6.4" class="b"/><ellipse cx="953.2" cy="429.4" rx="6.4" ry="11.1" class="p"/><ellipse cx="977.4" cy="451.5" rx="15.2" ry="8.8" class="p"/><ellipse cx="1020.3" cy="492.9" rx="8.8" ry="15.2" class="p"/><ellipse cx="1043.6" cy="512.7" rx="11.1" ry="6.4" class="p"/><circle cx="1044.2" cy="492.2" r="14.3" class="b"/><circle cx="980.3" cy="424.5" r="14.3" class="b"/><ellipse cx="934.1" cy="363.4" rx="7.1" ry="12.3" class="p"/><ellipse cx="1000" cy="427.8" rx="9.5" ry="16.5" class="p"/><ellipse cx="1108" cy="533.9" rx="12.3" ry="7.1" class="p"/><ellipse cx="978.5" cy="403.7" rx="16.5" ry="9.5" class="p"/><ellipse cx="1044.3" cy="467.7" rx="16.5" ry="9.5" class="p"/><ellipse cx="1068.4" cy="491.4" rx="9.5" ry="16.5" class="p"/><ellipse cx="955.1" cy="363.4" rx="7.1" ry="12.3" class="b"/><ellipse cx="1021" cy="427.8" rx="9.5" ry="16.5" class="b"/><ellipse cx="1108" cy="512.9" rx="12.3" ry="7.1" class="b"/><ellipse cx="978.5" cy="382.7" rx="16.5" ry="9.5" class="b"/><ellipse cx="1044.3" cy="446.7" rx="16.5" ry="9.5" class="b"/><ellipse cx="1089.4" cy="491.4" rx="9.5" ry="16.5" class="b"/><circle cx="1042.3" cy="425.5" r="21" class="p"/><circle cx="1113.3" cy="494.6" r="16.3" class="p"/><circle cx="981.1" cy="359.3" r="16.3" class="p"/><ellipse cx="1174.6" cy="539.1" rx="11.1" ry="6.4" class="b"/><ellipse cx="932.1" cy="295.8" rx="6.4" ry="11.1" class="b"/><ellipse cx="1064.1" cy="426.4" rx="9.5" ry="16.5" class="b"/><ellipse cx="1108.8" cy="469" rx="16.5" ry="9.5" class="b"/><ellipse cx="980.3" cy="338.2" rx="16.5" ry="9.5" class="b"/><ellipse cx="1003.2" cy="360.8" rx="9.5" ry="16.5" class="b"/><ellipse cx="1135.2" cy="491.8" rx="9.5" ry="16.5" class="b"/><ellipse cx="1045.3" cy="402" rx="16.5" ry="9.5" class="b"/><ellipse cx="1174.6" cy="518.1" rx="11.1" ry="6.4" class="p"/><ellipse cx="953.1" cy="295.8" rx="6.4" ry="11.1" class="p"/><ellipse cx="1085.1" cy="426.4" rx="9.5" ry="16.5" class="p"/><ellipse cx="1108.8" cy="448" rx="16.5" ry="9.5" class="p"/><ellipse cx="980.3" cy="317.2" rx="16.5" ry="9.5" class="p"/><ellipse cx="1024.2" cy="360.8" rx="9.5" ry="16.5" class="p"/><ellipse cx="1156.2" cy="491.8" rx="9.5" ry="16.5" class="p"/><ellipse cx="1045.3" cy="381" rx="16.5" ry="9.5" class="p"/><circle cx="975.6" cy="293.7" r="14.3" class="b"/><circle cx="1177.9" cy="495.9" r="14.3" class="b"/><circle cx="1044.5" cy="362.3" r="21" class="b"/><circle cx="1112.5" cy="424.6" r="21" class="b"/><ellipse cx="1064.9" cy="363.1" rx="9.5" ry="16.5" class="p"/><ellipse cx="1199.3" cy="495.1" rx="8.8" ry="15.3" class="p"/><ellipse cx="999.4" cy="294.5" rx="9.5" ry="16.5" class="p"/><ellipse cx="1242.9" cy="537.2" rx="6.5" ry="3.7" class="p"/><ellipse cx="1131.6" cy="425.6" rx="9.5" ry="16.5" class="p"/><ellipse cx="1109.1" cy="402.2" rx="16.5" ry="9.5" class="p"/><ellipse cx="1043.7" cy="336.7" rx="16.5" ry="9.5" class="p"/><ellipse cx="978.7" cy="270.5" rx="15.3" ry="8.8" class="p"/><ellipse cx="935.4" cy="226.9" rx="3.7" ry="6.5" class="p"/><ellipse cx="1178.2" cy="469.1" rx="16.5" ry="9.5" class="p"/><ellipse cx="1085.9" cy="363.1" rx="9.5" ry="16.5" class="b"/><ellipse cx="1220.3" cy="495.1" rx="8.8" ry="15.3" class="b"/><ellipse cx="1020.4" cy="294.5" rx="9.5" ry="16.5" class="b"/><ellipse cx="1243" cy="516.2" rx="6.5" ry="3.7" class="b"/><ellipse cx="1152.6" cy="425.6" rx="9.5" ry="16.5" class="b"/><ellipse cx="1109.1" cy="381.2" rx="16.5" ry="9.5" class="b"/><ellipse cx="1043.7" cy="315.7" rx="16.5" ry="9.5" class="b"/><ellipse cx="978.7" cy="249.5" rx="15.3" ry="8.8" class="b"/><ellipse cx="956.4" cy="226.9" rx="3.7" ry="6.5" class="b"/><ellipse cx="1178.2" cy="448.1" rx="16.5" ry="9.5" class="b"/><circle cx="1109.1" cy="362" r="21" class="p"/><circle cx="980.4" cy="231.6" r="6.6" class="p"/><circle cx="1241.4" cy="491.2" r="6.6" class="p"/><circle cx="1175.7" cy="425.2" r="21" class="p"/><circle cx="1047.1" cy="296" r="21" class="p"/><ellipse cx="1173.9" cy="405.5" rx="16.5" ry="9.5" class="b"/><ellipse cx="1197.9" cy="427.9" rx="9.5" ry="16.5" class="b"/><ellipse cx="1133.9" cy="363.2" rx="9.5" ry="16.5" class="b"/><ellipse cx="975.7" cy="204" rx="6.5" ry="3.7" class="b"/><ellipse cx="1262.4" cy="490.6" rx="3.7" ry="6.5" class="b"/><ellipse cx="1064.2" cy="292.3" rx="9.5" ry="16.5" class="b"/><ellipse cx="1245" cy="472.4" rx="15.3" ry="8.8" class="b"/><ellipse cx="1044.4" cy="271.1" rx="16.5" ry="9.5" class="b"/><ellipse cx="1110.4" cy="336.7" rx="16.5" ry="9.5" class="b"/><ellipse cx="1001.3" cy="225.9" rx="8.8" ry="15.3" class="b"/><ellipse cx="1173.9" cy="384.5" rx="16.5" ry="9.5" class="p"/><ellipse cx="1218.9" cy="427.9" rx="9.5" ry="16.5" class="p"/><ellipse cx="1154.9" cy="363.2" rx="9.5" ry="16.5" class="p"/><ellipse cx="975.7" cy="183" rx="6.5" ry="3.7" class="p"/><ellipse cx="1283.4" cy="490.6" rx="3.7" ry="6.5" class="p"/><ellipse cx="1085.2" cy="292.3" rx="9.5" ry="16.5" class="p"/><ellipse cx="1245" cy="451.4" rx="15.3" ry="8.8" class="p"/><ellipse cx="1044.4" cy="250.1" rx="16.5" ry="9.5" class="p"/><ellipse cx="1110.4" cy="315.7" rx="16.5" ry="9.5" class="p"/><ellipse cx="1022.3" cy="225.9" rx="8.8" ry="15.3" class="p"/><circle cx="1043.8" cy="229.4" r="14.3" class="b"/><circle cx="1245.4" cy="428.5" r="14.3" class="b"/><circle cx="1111.7" cy="292.8" r="21" class="b"/><circle cx="1178" cy="358.6" r="21" class="b"/><ellipse cx="1041.5" cy="207.5" rx="11.1" ry="6.4" class="p"/><ellipse cx="1242.1" cy="406.8" rx="16.5" ry="9.5" class="p"/><ellipse cx="1109.3" cy="273.4" rx="16.5" ry="9.5" class="p"/><ellipse cx="1133.1" cy="296.7" rx="9.5" ry="16.5" class="p"/><ellipse cx="1177.8" cy="341" rx="16.5" ry="9.5" class="p"/><ellipse cx="1196.3" cy="358.7" rx="9.5" ry="16.5" class="p"/><ellipse cx="1267.7" cy="428.9" rx="6.4" ry="11.1" class="p"/><ellipse cx="1068.5" cy="226.9" rx="9.5" ry="16.5" class="p"/><ellipse cx="1041.5" cy="186.5" rx="11.1" ry="6.4" class="b"/><ellipse cx="1242.1" cy="385.8" rx="16.5" ry="9.5" class="b"/><ellipse cx="1109.3" cy="252.4" rx="16.5" ry="9.5" class="b"/><ellipse cx="1154.1" cy="296.7" rx="9.5" ry="16.5" class="b"/><ellipse cx="1177.8" cy="320" rx="16.5" ry="9.5" class="b"/><ellipse cx="1217.4" cy="358.7" rx="9.5" ry="16.5" class="b"/><ellipse cx="1288.7" cy="428.9" rx="6.4" ry="11.1" class="b"/><ellipse cx="1089.5" cy="226.9" rx="9.5" ry="16.5" class="b"/><circle cx="1241.1" cy="363.7" r="16.3" class="p"/><circle cx="1108.1" cy="227.4" r="16.3" class="p"/><circle cx="1175.9" cy="294.9" r="21" class="p"/><ellipse cx="1108.5" cy="207.3" rx="12.3" ry="7.1" class="b"/><ellipse cx="1243.4" cy="340.9" rx="16.5" ry="9.5" class="b"/><ellipse cx="1197.4" cy="293.8" rx="9.5" ry="16.5" class="b"/><ellipse cx="1178.3" cy="274.1" rx="16.5" ry="9.5" class="b"/><ellipse cx="1268.4" cy="363.5" rx="7.1" ry="12.3" class="b"/><ellipse cx="1135.7" cy="226.7" rx="9.5" ry="16.5" class="b"/><ellipse cx="1108.5" cy="186.3" rx="12.3" ry="7.1" class="p"/><ellipse cx="1243.4" cy="319.9" rx="16.5" ry="9.5" class="p"/><ellipse cx="1218.4" cy="293.8" rx="9.5" ry="16.5" class="p"/><ellipse cx="1178.3" cy="253.1" rx="16.5" ry="9.5" class="p"/><ellipse cx="1289.4" cy="363.5" rx="7.1" ry="12.3" class="p"/><ellipse cx="1156.7" cy="226.7" rx="9.5" ry="16.5" class="p"/><circle cx="1175.4" cy="227.1" r="14.3" class="b"/><circle cx="1242.7" cy="294.1" r="14.3" class="b"/><ellipse cx="1199.8" cy="228.9" rx="8.8" ry="15.3" class="p"/><ellipse cx="1266.9" cy="295.9" rx="6.4" ry="11.1" class="p"/><ellipse cx="1243.8" cy="272.1" rx="15.3" ry="8.8" class="p"/><ellipse cx="1176.4" cy="204" rx="11.1" ry="6.4" class="p"/><ellipse cx="1220.8" cy="228.9" rx="8.8" ry="15.3" class="b"/><ellipse cx="1287.9" cy="295.9" rx="6.4" ry="11.1" class="b"/><ellipse cx="1243.8" cy="251.1" rx="15.3" ry="8.8" class="b"/><ellipse cx="1176.4" cy="182.9" rx="11.1" ry="6.4" class="b"/><circle cx="1240.4" cy="231" r="6.6" class="p"/><ellipse cx="1241.1" cy="207.6" rx="6.5" ry="3.7" class="b"/><ellipse cx="1266.7" cy="227.2" rx="3.7" ry="6.5" class="b"/><ellipse cx="1241.2" cy="186.6" rx="6.5" ry="3.7" class="p"/><ellipse cx="1287.7" cy="227.2" rx="3.7" ry="6.5" class="p"/><circle cx="980.4" cy="492" r="5.8" class="b"/><circle cx="976.3" cy="427.6" r="13.3" class="p"/><circle cx="1042.3" cy="493.3" r="13.3" class="p"/><circle cx="1107.4" cy="493.9" r="15.1" class="b"/><circle cx="980" cy="362.9" r="15.1" class="b"/><circle cx="1043" cy="425.1" r="20.1" class="b"/><circle cx="975.2" cy="297.6" r="13.3" class="p"/><circle cx="1041.9" cy="361.8" r="20.1" class="p"/><circle cx="1178.5" cy="494" r="13.3" class="p"/><circle cx="1113.3" cy="424.8" r="20.1" class="p"/><circle cx="1242.7" cy="496.1" r="5.8" class="b"/><circle cx="1045.1" cy="295.6" r="20.1" class="b"/><circle cx="978.5" cy="228.9" r="5.8" class="b"/><circle cx="1177.7" cy="427.9" r="20.1" class="b"/><circle cx="1111.6" cy="358.3" r="20.1" class="b"/><circle cx="1043.1" cy="230" r="13.3" class="p"/><circle cx="1110.5" cy="294.9" r="20.1" class="p"/><circle cx="1241.3" cy="425.1" r="13.3" class="p"/><circle cx="1179.7" cy="359" r="20.1" class="p"/><circle cx="1111.7" cy="230.9" r="15.1" class="b"/><circle cx="1174.3" cy="292.9" r="20.1" class="b"/><circle cx="1243.3" cy="361.8" r="15.1" class="b"/><circle cx="1242.9" cy="296.6" r="13.3" class="p"/><circle cx="1174.8" cy="225.5" r="13.3" class="p"/><circle cx="1240.7" cy="228.1" r="5.8" class="b"/><circle cx="979.6" cy="492.8" r="5.8" class="p"/><circle cx="975.6" cy="428.1" r="13.3" class="b"/><circle cx="1041.8" cy="494.1" r="13.3" class="b"/><circle cx="1107.2" cy="494.7" r="15.2" class="p"/><circle cx="979.2" cy="363.1" r="15.2" class="p"/><circle cx="1042.5" cy="425.6" r="20.2" class="p"/><circle cx="974.4" cy="297.5" r="13.3" class="b"/><circle cx="1041.4" cy="362" r="20.2" class="b"/><circle cx="1178.5" cy="494.8" r="13.3" class="b"/><circle cx="1113.1" cy="425.2" r="20.2" class="b"/><circle cx="1243" cy="496.8" r="5.8" class="p"/><circle cx="1044.6" cy="295.5" r="20.2" class="p"/><circle cx="977.8" cy="228.5" r="5.8" class="p"/><circle cx="1177.8" cy="428.4" r="20.2" class="p"/><circle cx="1111.4" cy="358.5" r="20.2" class="p"/><circle cx="1042.6" cy="229.7" r="13.3" class="b"/><circle cx="1110.3" cy="294.8" r="20.2" class="b"/><circle cx="1241.6" cy="425.6" r="13.3" class="b"/><circle cx="1179.8" cy="359.2" r="20.2" class="b"/><circle cx="1111.5" cy="230.6" r="15.2" class="p"/><circle cx="1174.4" cy="292.8" r="20.2" class="p"/><circle cx="1243.7" cy="362" r="15.2" class="p"/><circle cx="1243.3" cy="296.6" r="13.3" class="b"/><circle cx="1174.8" cy="225.1" r="13.3" class="b"/><circle cx="1241.1" cy="227.7" r="5.8" class="p"/><ellipse cx="976.3" cy="539.4" rx="5.3" ry="3" class="b"/><ellipse cx="934" cy="494.6" rx="3" ry="5.3" class="b"/><ellipse cx="976.3" cy="518.2" rx="5.3" ry="3" class="p"/><ellipse cx="955.3" cy="494.6" rx="3" ry="5.3" class="p"/><circle cx="973" cy="494" r="3.9" class="b"/><ellipse cx="930.2" cy="431.3" rx="5.7" ry="10" class="p"/><ellipse cx="973.6" cy="474.7" rx="14.1" ry="8.1" class="p"/><ellipse cx="1043.3" cy="541.7" rx="10" ry="5.7" class="p"/><ellipse cx="1000.8" cy="498.1" rx="8.1" ry="14.1" class="p"/><ellipse cx="951.5" cy="431.3" rx="5.7" ry="10" class="b"/><ellipse cx="973.6" cy="453.5" rx="14.1" ry="8.1" class="b"/><ellipse cx="1043.3" cy="520.4" rx="10" ry="5.7" class="b"/><ellipse cx="1022" cy="498.1" rx="8.1" ry="14.1" class="b"/><circle cx="973" cy="430.1" r="12.6" class="p"/><circle cx="1041.2" cy="493.6" r="12.6" class="p"/><ellipse cx="996" cy="427.9" rx="9.6" ry="16.7" class="b"/><ellipse cx="1110.3" cy="542.1" rx="11.2" ry="6.5" class="b"/><ellipse cx="1041.6" cy="472.6" rx="16.7" ry="9.6" class="b"/><ellipse cx="930.8" cy="359.1" rx="6.5" ry="11.2" class="b"/><ellipse cx="1065.7" cy="493.3" rx="9.6" ry="16.7" class="b"/><ellipse cx="977.9" cy="404.3" rx="16.7" ry="9.6" class="b"/><ellipse cx="1017.3" cy="427.9" rx="9.6" ry="16.7" class="p"/><ellipse cx="1110.3" cy="520.9" rx="11.2" ry="6.5" class="p"/><ellipse cx="1041.6" cy="451.4" rx="16.7" ry="9.6" class="p"/><ellipse cx="952.1" cy="359.1" rx="6.5" ry="11.2" class="p"/><ellipse cx="1087" cy="493.3" rx="9.6" ry="16.7" class="p"/><ellipse cx="977.9" cy="383.1" rx="16.7" ry="9.6" class="p"/><circle cx="1041.3" cy="430.9" r="20.2" class="b"/><circle cx="973" cy="360.8" r="14.5" class="b"/><circle cx="1110.3" cy="496.9" r="14.5" class="b"/><ellipse cx="1040.7" cy="406.4" rx="16.7" ry="9.6" class="p"/><ellipse cx="975.4" cy="340.4" rx="16.7" ry="9.6" class="p"/><ellipse cx="1176.4" cy="541" rx="10" ry="5.7" class="p"/><ellipse cx="1130.9" cy="492.7" rx="9.6" ry="16.7" class="p"/><ellipse cx="1066.8" cy="428.5" rx="9.6" ry="16.7" class="p"/><ellipse cx="1110.2" cy="470.4" rx="16.7" ry="9.6" class="p"/><ellipse cx="933.9" cy="293.5" rx="5.7" ry="10" class="p"/><ellipse cx="1000.6" cy="359.6" rx="9.6" ry="16.7" class="p"/><ellipse cx="1040.7" cy="385.1" rx="16.7" ry="9.6" class="b"/><ellipse cx="975.4" cy="319.1" rx="16.7" ry="9.6" class="b"/><ellipse cx="1176.4" cy="519.7" rx="10" ry="5.7" class="b"/><ellipse cx="1152.2" cy="492.7" rx="9.6" ry="16.7" class="b"/><ellipse cx="1088.1" cy="428.5" rx="9.6" ry="16.7" class="b"/><ellipse cx="1110.2" cy="449.1" rx="16.7" ry="9.6" class="b"/><ellipse cx="955.1" cy="293.5" rx="5.7" ry="10" class="b"/><ellipse cx="1021.9" cy="359.6" rx="9.6" ry="16.7" class="b"/><circle cx="1107" cy="430.6" r="21.3" class="p"/><circle cx="1174.6" cy="495" r="12.6" class="p"/><circle cx="976.8" cy="296" r="12.6" class="p"/><circle cx="1040.8" cy="359.8" r="21.3" class="p"/><ellipse cx="1198" cy="498.6" rx="8.1" ry="14.1" class="b"/><ellipse cx="1175.4" cy="472.9" rx="16.7" ry="9.6" class="b"/><ellipse cx="1045.2" cy="341.8" rx="16.7" ry="9.6" class="b"/><ellipse cx="1108.9" cy="403.9" rx="16.7" ry="9.6" class="b"/><ellipse cx="1246.5" cy="541.2" rx="5.3" ry="3" class="b"/><ellipse cx="999" cy="292.9" rx="9.6" ry="16.7" class="b"/><ellipse cx="978.6" cy="271.6" rx="14.1" ry="8.1" class="b"/><ellipse cx="933.9" cy="226.6" rx="3" ry="5.3" class="b"/><ellipse cx="1135.4" cy="427.9" rx="9.6" ry="16.7" class="b"/><ellipse cx="1068.8" cy="359.3" rx="9.6" ry="16.7" class="b"/><ellipse cx="1219.3" cy="498.6" rx="8.1" ry="14.1" class="p"/><ellipse cx="1175.4" cy="451.6" rx="16.7" ry="9.6" class="p"/><ellipse cx="1045.2" cy="320.5" rx="16.7" ry="9.6" class="p"/><ellipse cx="1108.9" cy="382.6" rx="16.7" ry="9.6" class="p"/><ellipse cx="1246.5" cy="519.9" rx="5.3" ry="3" class="p"/><ellipse cx="1020.3" cy="292.9" rx="9.6" ry="16.7" class="p"/><ellipse cx="978.6" cy="250.3" rx="14.1" ry="8.1" class="p"/><ellipse cx="955.1" cy="226.6" rx="3" ry="5.3" class="p"/><ellipse cx="1156.6" cy="427.9" rx="9.6" ry="16.7" class="p"/><ellipse cx="1090" cy="359.4" rx="9.6" ry="16.7" class="p"/><circle cx="1174.7" cy="429.8" r="20.2" class="b"/><circle cx="1245.5" cy="496.8" r="3.9" class="b"/><circle cx="1041.4" cy="292.6" r="20.2" class="b"/><circle cx="1108.6" cy="358.8" r="21.3" class="b"/><circle cx="977.7" cy="226.1" r="3.9" class="b"/><ellipse cx="996" cy="230.1" rx="8.1" ry="14.1" class="p"/><ellipse cx="1197.5" cy="429.6" rx="9.6" ry="16.7" class="p"/><ellipse cx="1244" cy="475.7" rx="14.1" ry="8.1" class="p"/><ellipse cx="974.8" cy="205.8" rx="5.3" ry="3" class="p"/><ellipse cx="1041.2" cy="272" rx="16.7" ry="9.6" class="p"/><ellipse cx="1064" cy="294" rx="9.6" ry="16.7" class="p"/><ellipse cx="1132.9" cy="362.2" rx="9.6" ry="16.7" class="p"/><ellipse cx="1112.7" cy="339.9" rx="16.7" ry="9.6" class="p"/><ellipse cx="1267.2" cy="493" rx="3" ry="5.3" class="p"/><ellipse cx="1179.9" cy="403" rx="16.7" ry="9.6" class="p"/><ellipse cx="1017.3" cy="230.1" rx="8.1" ry="14.1" class="b"/><ellipse cx="1218.8" cy="429.6" rx="9.6" ry="16.7" class="b"/><ellipse cx="1244" cy="454.4" rx="14.1" ry="8.1" class="b"/><ellipse cx="974.8" cy="184.5" rx="5.3" ry="3" class="b"/><ellipse cx="1041.2" cy="250.7" rx="16.7" ry="9.6" class="b"/><ellipse cx="1085.3" cy="294" rx="9.6" ry="16.7" class="b"/><ellipse cx="1154.1" cy="362.2" rx="9.6" ry="16.7" class="b"/><ellipse cx="1112.7" cy="318.6" rx="16.7" ry="9.6" class="b"/><ellipse cx="1288.5" cy="493" rx="3" ry="5.3" class="b"/><ellipse cx="1179.9" cy="381.7" rx="16.7" ry="9.6" class="b"/><circle cx="1245.3" cy="431.5" r="12.6" class="p"/><circle cx="1179.4" cy="363.7" r="21.3" class="p"/><circle cx="1042.7" cy="226.2" r="12.6" class="p"/><circle cx="1112" cy="293" r="21.3" class="p"/><ellipse cx="1264.1" cy="428.7" rx="5.8" ry="10" class="b"/><ellipse cx="1108.4" cy="272.8" rx="16.7" ry="9.6" class="b"/><ellipse cx="1064.1" cy="227.5" rx="9.6" ry="16.7" class="b"/><ellipse cx="1201" cy="363.7" rx="9.6" ry="16.7" class="b"/><ellipse cx="1243.5" cy="406.1" rx="16.7" ry="9.6" class="b"/><ellipse cx="1130.9" cy="291.9" rx="9.6" ry="16.7" class="b"/><ellipse cx="1043.4" cy="203.3" rx="10" ry="5.8" class="b"/><ellipse cx="1178.8" cy="337.6" rx="16.7" ry="9.6" class="b"/><ellipse cx="1285.4" cy="428.7" rx="5.8" ry="10" class="p"/><ellipse cx="1108.4" cy="251.5" rx="16.7" ry="9.6" class="p"/><ellipse cx="1085.4" cy="227.5" rx="9.6" ry="16.7" class="p"/><ellipse cx="1222.3" cy="363.7" rx="9.6" ry="16.7" class="p"/><ellipse cx="1243.5" cy="384.8" rx="16.7" ry="9.6" class="p"/><ellipse cx="1152.2" cy="291.9" rx="9.6" ry="16.7" class="p"/><ellipse cx="1043.4" cy="182" rx="10" ry="5.8" class="p"/><ellipse cx="1178.8" cy="316.3" rx="16.7" ry="9.6" class="p"/><circle cx="1241.8" cy="363.5" r="14.5" class="b"/><circle cx="1177" cy="293.3" r="20.2" class="b"/><circle cx="1112.8" cy="225.8" r="14.5" class="b"/><ellipse cx="1174.4" cy="272.5" rx="16.7" ry="9.6" class="p"/><ellipse cx="1243" cy="339.2" rx="16.7" ry="9.6" class="p"/><ellipse cx="1108" cy="203.2" rx="11.2" ry="6.5" class="p"/><ellipse cx="1266.6" cy="360.1" rx="6.5" ry="11.2" class="p"/><ellipse cx="1135.8" cy="228.4" rx="9.6" ry="16.7" class="p"/><ellipse cx="1202.7" cy="293.4" rx="9.6" ry="16.7" class="p"/><ellipse cx="1174.4" cy="251.2" rx="16.7" ry="9.6" class="b"/><ellipse cx="1243" cy="317.9" rx="16.7" ry="9.6" class="b"/><ellipse cx="1108" cy="181.9" rx="11.2" ry="6.5" class="b"/><ellipse cx="1287.9" cy="360.1" rx="6.5" ry="11.2" class="b"/><ellipse cx="1157.1" cy="228.4" rx="9.6" ry="16.7" class="b"/><ellipse cx="1224" cy="293.4" rx="9.6" ry="16.7" class="b"/><circle cx="1176.3" cy="225.6" r="12.6" class="p"/><circle cx="1246.5" cy="292.1" r="12.6" class="p"/><ellipse cx="1177.1" cy="207.5" rx="10" ry="5.8" class="b"/><ellipse cx="1200.2" cy="230.7" rx="8.1" ry="14.1" class="b"/><ellipse cx="1268.4" cy="294.3" rx="5.8" ry="10" class="b"/><ellipse cx="1245.4" cy="269.7" rx="14.1" ry="8.1" class="b"/><ellipse cx="1177.1" cy="186.2" rx="10" ry="5.8" class="p"/><ellipse cx="1221.5" cy="230.6" rx="8.1" ry="14.1" class="p"/><ellipse cx="1289.7" cy="294.3" rx="5.8" ry="10" class="p"/><ellipse cx="1245.4" cy="248.4" rx="14.1" ry="8.1" class="p"/><circle cx="1242.8" cy="229.4" r="3.9" class="b"/><ellipse cx="1245.8" cy="205.9" rx="5.3" ry="3" class="p"/><ellipse cx="1269" cy="228.9" rx="3" ry="5.3" class="p"/><ellipse cx="1245.8" cy="184.6" rx="5.3" ry="3" class="b"/><ellipse cx="1290.3" cy="228.9" rx="3" ry="5.3" class="b"/><circle cx="1042.9" cy="497" r="9.4" class="b"/><circle cx="974.7" cy="427.3" r="9.4" class="b"/><circle cx="974" cy="364.7" r="11.3" class="p"/><circle cx="1107.6" cy="498" r="11.3" class="p"/><circle cx="1042.9" cy="430" r="16.5" class="p"/><circle cx="1041.8" cy="364.9" r="18.5" class="b"/><circle cx="1177.5" cy="497.3" r="9.4" class="b"/><circle cx="974.3" cy="293.7" r="9.4" class="b"/><circle cx="1112.7" cy="428" r="18.5" class="b"/><circle cx="1111.6" cy="364.8" r="20.4" class="p"/><circle cx="1179" cy="431.7" r="16.5" class="p"/><circle cx="1045" cy="292.3" r="16.5" class="p"/><circle cx="1041.8" cy="228.7" r="9.4" class="b"/><circle cx="1107.1" cy="293.5" r="18.5" class="b"/><circle cx="1178.4" cy="364.5" r="18.5" class="b"/><circle cx="1245.2" cy="427.3" r="9.4" class="b"/><circle cx="1109" cy="227.5" r="11.3" class="p"/><circle cx="1244.3" cy="362.6" r="11.3" class="p"/><circle cx="1177.6" cy="293.2" r="16.6" class="p"/><circle cx="1179.4" cy="230.1" r="9.4" class="b"/><circle cx="1244" cy="293.7" r="9.4" class="b"/><circle cx="1042.4" cy="497.8" r="9.4" class="p"/><circle cx="973.9" cy="427.8" r="9.4" class="p"/><circle cx="973.2" cy="365" r="11.3" class="b"/><circle cx="1107.3" cy="498.8" r="11.3" class="b"/><circle cx="1042.4" cy="430.5" r="16.6" class="b"/><circle cx="1041.3" cy="365.1" r="18.6" class="p"/><circle cx="1177.5" cy="498.1" r="9.4" class="p"/><circle cx="973.5" cy="293.6" r="9.4" class="p"/><circle cx="1112.5" cy="428.5" r="18.6" class="p"/><circle cx="1111.3" cy="365" r="20.4" class="b"/><circle cx="1179.1" cy="432.2" r="16.6" class="b"/><circle cx="1044.5" cy="292.2" r="16.6" class="b"/><circle cx="1041.3" cy="228.4" r="9.4" class="p"/><circle cx="1106.9" cy="293.4" r="18.6" class="p"/><circle cx="1178.4" cy="364.8" r="18.6" class="p"/><circle cx="1245.5" cy="427.8" r="9.4" class="p"/><circle cx="1108.7" cy="227.1" r="11.3" class="b"/><circle cx="1244.7" cy="362.8" r="11.3" class="b"/><circle cx="1177.7" cy="293.1" r="16.6" class="b"/><circle cx="1179.5" cy="229.7" r="9.4" class="p"/><circle cx="1244.3" cy="293.6" r="9.4" class="p"/><ellipse cx="994.9" cy="500.7" rx="5.4" ry="9.3" class="b"/><ellipse cx="928.4" cy="433.1" rx="3.1" ry="5.4" class="b"/><ellipse cx="971.9" cy="475.4" rx="9.3" ry="5.4" class="b"/><ellipse cx="1043.3" cy="544.5" rx="5.4" ry="3.1" class="b"/><ellipse cx="1016.5" cy="500.7" rx="5.4" ry="9.3" class="p"/><ellipse cx="949.9" cy="433.1" rx="3.1" ry="5.4" class="p"/><ellipse cx="971.8" cy="453.9" rx="9.3" ry="5.4" class="p"/><ellipse cx="1043.3" cy="522.9" rx="5.4" ry="3.1" class="p"/><circle cx="1039.1" cy="499.7" r="3.9" class="b"/><circle cx="974.3" cy="432.5" r="3.9" class="b"/><ellipse cx="995.8" cy="430.6" rx="8.2" ry="14.2" class="p"/><ellipse cx="974.2" cy="408.9" rx="12" ry="6.9" class="p"/><ellipse cx="1042.9" cy="477.3" rx="14.2" ry="8.2" class="p"/><ellipse cx="926.8" cy="361" rx="3.8" ry="6.7" class="p"/><ellipse cx="1062.4" cy="495.4" rx="6.9" ry="12" class="p"/><ellipse cx="1110.7" cy="541.3" rx="6.7" ry="3.8" class="p"/><ellipse cx="1017.4" cy="430.6" rx="8.2" ry="14.2" class="b"/><ellipse cx="974.2" cy="387.3" rx="12" ry="6.9" class="b"/><ellipse cx="1042.9" cy="455.8" rx="14.2" ry="8.2" class="b"/><ellipse cx="948.4" cy="361" rx="3.8" ry="6.7" class="b"/><ellipse cx="1083.9" cy="495.4" rx="6.9" ry="12" class="b"/><ellipse cx="1110.7" cy="519.7" rx="6.7" ry="3.8" class="b"/><circle cx="972" cy="361.4" r="6.8" class="p"/><circle cx="1107.1" cy="495.6" r="6.8" class="p"/><circle cx="1043.9" cy="429.4" r="12.8" class="p"/><ellipse cx="970.4" cy="339.1" rx="12" ry="6.9" class="b"/><ellipse cx="928.8" cy="296.7" rx="3.1" ry="5.4" class="b"/><ellipse cx="1108.6" cy="476.6" rx="15.7" ry="9" class="b"/><ellipse cx="1133.5" cy="500.3" rx="6.9" ry="12" class="b"/><ellipse cx="1177.7" cy="542.9" rx="5.4" ry="3.1" class="b"/><ellipse cx="996.7" cy="360.9" rx="9" ry="15.7" class="b"/><ellipse cx="1066.9" cy="431" rx="9.8" ry="16.9" class="b"/><ellipse cx="1044" cy="405" rx="16.9" ry="9.8" class="b"/><ellipse cx="970.4" cy="317.5" rx="12" ry="6.9" class="p"/><ellipse cx="950.3" cy="296.7" rx="3.1" ry="5.4" class="p"/><ellipse cx="1108.6" cy="455" rx="15.7" ry="9" class="p"/><ellipse cx="1155" cy="500.3" rx="6.9" ry="12" class="p"/><ellipse cx="1177.7" cy="521.3" rx="5.4" ry="3.1" class="p"/><ellipse cx="1018.2" cy="360.9" rx="9" ry="15.7" class="p"/><ellipse cx="1088.5" cy="431" rx="9.8" ry="16.9" class="p"/><ellipse cx="1044" cy="383.5" rx="16.9" ry="9.8" class="p"/><circle cx="974.1" cy="296.2" r="3.9" class="b"/><circle cx="1109.5" cy="429.5" r="14.7" class="b"/><circle cx="1043.5" cy="361.8" r="14.7" class="b"/><circle cx="1179.8" cy="496.3" r="3.9" class="b"/><ellipse cx="1131.3" cy="432.6" rx="9.8" ry="16.9" class="p"/><ellipse cx="1199.1" cy="500.2" rx="5.4" ry="9.3" class="p"/><ellipse cx="993.6" cy="292.8" rx="8.2" ry="14.2" class="p"/><ellipse cx="971.8" cy="269.6" rx="9.3" ry="5.4" class="p"/><ellipse cx="1108.1" cy="405.7" rx="16.9" ry="9.8" class="p"/><ellipse cx="1063.9" cy="360.2" rx="9.8" ry="16.9" class="p"/><ellipse cx="1177" cy="472.3" rx="14.2" ry="8.2" class="p"/><ellipse cx="1042.8" cy="337" rx="16.9" ry="9.8" class="p"/><ellipse cx="1152.9" cy="432.6" rx="9.8" ry="16.9" class="b"/><ellipse cx="1220.6" cy="500.2" rx="5.4" ry="9.3" class="b"/><ellipse cx="1015.1" cy="292.8" rx="8.2" ry="14.2" class="b"/><ellipse cx="971.8" cy="248" rx="9.3" ry="5.4" class="b"/><ellipse cx="1108.1" cy="384.1" rx="16.9" ry="9.8" class="b"/><ellipse cx="1085.4" cy="360.2" rx="9.8" ry="16.9" class="b"/><ellipse cx="1177" cy="450.8" rx="14.2" ry="8.2" class="b"/><ellipse cx="1042.8" cy="315.5" rx="16.9" ry="9.8" class="b"/><circle cx="1174.1" cy="433.3" r="12.8" class="p"/><circle cx="1106.9" cy="360.7" r="16.7" class="p"/><circle cx="1039.1" cy="292" r="12.8" class="p"/><ellipse cx="1063.6" cy="297" rx="9.8" ry="16.9" class="b"/><ellipse cx="995" cy="228.4" rx="5.4" ry="9.3" class="b"/><ellipse cx="1197.8" cy="430.2" rx="8.2" ry="14.2" class="b"/><ellipse cx="1242.4" cy="473.5" rx="9.3" ry="5.4" class="b"/><ellipse cx="1132.3" cy="361.6" rx="9.8" ry="16.9" class="b"/><ellipse cx="1111.7" cy="340.6" rx="16.9" ry="9.8" class="b"/><ellipse cx="1177.9" cy="406.4" rx="16.9" ry="9.8" class="b"/><ellipse cx="1040.2" cy="268.3" rx="14.2" ry="8.2" class="b"/><ellipse cx="1085.2" cy="297" rx="9.8" ry="16.9" class="p"/><ellipse cx="1016.6" cy="228.3" rx="5.4" ry="9.3" class="p"/><ellipse cx="1219.3" cy="430.2" rx="8.2" ry="14.2" class="p"/><ellipse cx="1242.4" cy="452" rx="9.3" ry="5.4" class="p"/><ellipse cx="1153.8" cy="361.6" rx="9.8" ry="16.9" class="p"/><ellipse cx="1111.7" cy="319" rx="16.9" ry="9.8" class="p"/><ellipse cx="1177.9" cy="384.9" rx="16.9" ry="9.8" class="p"/><ellipse cx="1040.2" cy="246.7" rx="14.3" ry="8.2" class="p"/><circle cx="1175.1" cy="364.2" r="14.7" class="b"/><circle cx="1243" cy="428.7" r="3.9" class="b"/><circle cx="1107.9" cy="292.8" r="14.7" class="b"/><circle cx="1043.9" cy="225" r="3.9" class="b"/><ellipse cx="1266.5" cy="431.5" rx="3.1" ry="5.4" class="p"/><ellipse cx="1244.3" cy="408.7" rx="12" ry="6.9" class="p"/><ellipse cx="1042.3" cy="206" rx="5.4" ry="3.1" class="p"/><ellipse cx="1201.2" cy="364.6" rx="9" ry="15.7" class="p"/><ellipse cx="1110.3" cy="270.9" rx="15.7" ry="9" class="p"/><ellipse cx="1065.3" cy="225.6" rx="6.9" ry="12" class="p"/><ellipse cx="1179.5" cy="339.1" rx="17" ry="9.8" class="p"/><ellipse cx="1135.5" cy="292.7" rx="9.8" ry="17" class="p"/><ellipse cx="1288.1" cy="431.5" rx="3.1" ry="5.4" class="b"/><ellipse cx="1244.3" cy="387.1" rx="12" ry="6.9" class="b"/><ellipse cx="1042.3" cy="184.4" rx="5.4" ry="3.1" class="b"/><ellipse cx="1222.8" cy="364.6" rx="9" ry="15.7" class="b"/><ellipse cx="1110.3" cy="249.3" rx="15.7" ry="9" class="b"/><ellipse cx="1086.9" cy="225.6" rx="6.9" ry="12" class="b"/><ellipse cx="1179.5" cy="317.5" rx="17" ry="9.8" class="b"/><ellipse cx="1157" cy="292.7" rx="9.8" ry="17" class="b"/><circle cx="1106.8" cy="224" r="6.8" class="p"/><circle cx="1247.4" cy="363.4" r="6.8" class="p"/><circle cx="1177.7" cy="292.5" r="12.8" class="p"/><ellipse cx="1108.6" cy="205.1" rx="6.7" ry="3.8" class="b"/><ellipse cx="1266" cy="362" rx="3.8" ry="6.7" class="b"/><ellipse cx="1175.7" cy="270.4" rx="14.3" ry="8.2" class="b"/><ellipse cx="1202.6" cy="296.7" rx="8.2" ry="14.3" class="b"/><ellipse cx="1132.6" cy="226.2" rx="6.9" ry="12" class="b"/><ellipse cx="1245.9" cy="336.9" rx="12" ry="6.9" class="b"/><ellipse cx="1108.6" cy="183.5" rx="6.7" ry="3.8" class="p"/><ellipse cx="1287.6" cy="362" rx="3.8" ry="6.7" class="p"/><ellipse cx="1175.7" cy="248.8" rx="14.3" ry="8.2" class="p"/><ellipse cx="1224.1" cy="296.7" rx="8.2" ry="14.3" class="p"/><ellipse cx="1154.2" cy="226.2" rx="6.9" ry="12" class="p"/><ellipse cx="1245.9" cy="315.3" rx="12" ry="6.9" class="p"/><circle cx="1243.8" cy="292.4" r="3.9" class="b"/><circle cx="1178.5" cy="223.7" r="3.9" class="b"/><ellipse cx="1242.9" cy="273.5" rx="9.3" ry="5.4" class="p"/><ellipse cx="1202.1" cy="225.6" rx="5.4" ry="9.3" class="p"/><ellipse cx="1268.7" cy="292.2" rx="3.1" ry="5.4" class="p"/><ellipse cx="1178" cy="200.6" rx="5.4" ry="3.1" class="p"/><ellipse cx="1242.9" cy="251.9" rx="9.3" ry="5.4" class="b"/><ellipse cx="1223.6" cy="225.6" rx="5.4" ry="9.3" class="b"/><ellipse cx="1290.3" cy="292.2" rx="3.1" ry="5.4" class="b"/><ellipse cx="1178" cy="179" rx="5.4" ry="3.1" class="b"/><circle cx="1040.3" cy="365.2" r="4.5" class="p"/><circle cx="1107.4" cy="431" r="4.5" class="p"/><circle cx="1106.6" cy="362.1" r="7.1" class="b"/><circle cx="1177.9" cy="365" r="4.5" class="p"/><circle cx="1109.8" cy="294.4" r="4.5" class="p"/><circle cx="1039.8" cy="365.4" r="4.6" class="b"/><circle cx="1107.2" cy="431.5" r="4.6" class="b"/><circle cx="1106.3" cy="362.3" r="7.1" class="p"/><circle cx="1178" cy="365.3" r="4.6" class="b"/><circle cx="1109.5" cy="294.4" r="4.6" class="b"/></g>
<g opacity="1" fill="none" stroke="#666" stroke-linejoin="round"><path d="M1496.1 66.5 1559.7 67.3 1621.9 64.8 1687 63.8 1747 65.9 1813.2 64.7 1877.2 68.6 1937.4 66.7 2000.2 65.7 2064 68.5M1493.4 132.1 1558.8 131.7 1619.3 127.7 1685.1 128.2 1749.4 129.4 1811.9 132 1875.5 127.9 1937.3 130.1 2002.8 130.5 2065.8 130.6M1493.2 194.1 1558.7 191.9 1620.3 193.5 1685.5 192.2 1748.5 194.1 1813.8 192.8 1876.1 191.9 1939 191.9 2004.7 193.1 2067.9 193M1495.8 256.6 1556.5 257.4 1622.7 258.9 1685.1 255 1748.7 255.8 1813 259 1875.5 257.6 1936.9 257.3 2000.8 257.6 2065.6 258.4M1491.5 318.7 1558.3 320.8 1621.3 322.4 1684.5 322.2 1748.2 322.8 1812.6 318.9 1874.7 322.5 1938.3 319.1 2002.5 320.2 2066.9 320.4M1492.5 383.9 1556.9 386.3 1623.4 384.9 1682.5 385.5 1749.1 385.9 1811 382.1 1876 382.4 1940.3 385.8 2002.2 386.5 2064.6 386.5M1493.6 449.2 1558.6 450.3 1623.3 445.6 1682.2 448.1 1745.9 448.7 1812 448.8 1875.1 446.8 1941.3 449.1 2000.2 445.9 2066.9 446.9M1493.3 512.9 1556.6 513.7 1622.1 511.8 1683 511.1 1749.5 514 1809.7 509.7 1876.6 513.2 1937 513.2 2004.1 512.5 2065.5 511.3M1493.1 576.9 1556.5 574.3 1623.1 577.3 1686.9 576.7 1746.1 573.1 1812.1 576.9 1877.3 575.8 1941.3 573.4 2001.3 574.3 2065.1 574.2M1491.8 638.1 1555 639 1623.2 638.5 1685.2 639.3 1750.4 639.9 1813.4 638 1877.5 637.2 1938.6 640 2001.8 640.7 2068.1 637.1M1496.1 66.5 1493.4 132.1 1493.2 194.1 1495.8 256.6 1491.5 318.7 1492.5 383.9 1493.6 449.2 1493.3 512.9 1493.1 576.9 1491.8 638.1M1559.7 67.3 1558.8 131.7 1558.7 191.9 1556.5 257.4 1558.3 320.8 1556.9 386.3 1558.6 450.3 1556.6 513.7 1556.5 574.3 1555 639M1621.9 64.8 1619.3 127.7 1620.3 193.5 1622.7 258.9 1621.3 322.4 1623.4 384.9 1623.3 445.6 1622.1 511.8 1623.1 577.3 1623.2 638.5M1687 63.8 1685.1 128.2 1685.5 192.2 1685.1 255 1684.5 322.2 1682.5 385.5 1682.2 448.1 1683 511.1 1686.9 576.7 1685.2 639.3M1747 65.9 1749.4 129.4 1748.5 194.1 1748.7 255.8 1748.2 322.8 1749.1 385.9 1745.9 448.7 1749.5 514 1746.1 573.1 1750.4 639.9M1813.2 64.7 1811.9 132 1813.8 192.8 1813 259 1812.6 318.9 1811 382.1 1812 448.8 1809.7 509.7 1812.1 576.9 1813.4 638M1877.2 68.6 1875.5 127.9 1876.1 191.9 1875.5 257.6 1874.7 322.5 1876 382.4 1875.1 446.8 1876.6 513.2 1877.3 575.8 1877.5 637.2M1937.4 66.7 1937.3 130.1 1939 191.9 1936.9 257.3 1938.3 319.1 1940.3 385.8 1941.3 449.1 1937 513.2 1941.3 573.4 1938.6 640M2000.2 65.7 2002.8 130.5 2004.7 193.1 2000.8 257.6 2002.5 320.2 2002.2 386.5 2000.2 445.9 2004.1 512.5 2001.3 574.3 2001.8 640.7M2064 68.5 2065.8 130.6 2067.9 193 2065.6 258.4 2066.9 320.4 2064.6 386.5 2066.9 446.9 2065.5 511.3 2065.1 574.2 2068.1 637.1M1490.3 63.1 1554.7 64.3 1621.1 61.9 1684.5 63.5 1747.2 64.3 1813.2 62.7 1876.9 65 1941.7 63.4 2004.7 64.2 2071.6 61.8M1489.4 128 1553.6 125.1 1618 128.1 1683.4 127.6 1748.4 127.3 1814.5 128.7 1878.9 128.1 1942.5 128.4 2007.5 126.4 2068.9 124.7M1488.1 193.8 1554.5 189.6 1617.1 191.6 1684.2 193.2 1748.2 190.7 1813.2 190 1875.7 189.6 1941.9 191.7 2005 190.2 2071.4 191M1492.3 254.8 1555.3 257.1 1617.4 254.3 1684.7 253.9 1747.7 253.8 1814.5 257.6 1875.2 257.6 1942.2 254 2004.2 256.6 2070.8 255.1M1488.4 320.3 1556 320.4 1617.5 319.3 1684.7 320.1 1749.1 318.7 1813.1 321.8 1878.5 319.3 1943 320.7 2004.3 318 2070.6 322.6M1490.6 383.7 1553.8 384.6 1621.5 384.3 1682.9 384.7 1746.4 383.6 1813.7 386.7 1875.9 384.6 1943 385.8 2005.1 387 2071.7 384.5M1488.7 450.8 1556.6 449.9 1620.6 446.7 1684 450.6 1746.7 447.4 1814.1 450.5 1875.9 449.5 1939.6 448.2 2006.3 450.4 2071.6 449.9M1491.8 511.9 1555.8 515.9 1621.1 514.9 1685.4 513.2 1746.9 514.2 1812.6 511.2 1875.4 513.9 1938.8 511.3 2004.7 511.6 2069.3 514.3M1490.1 575.4 1556.8 576.6 1616.6 577.6 1685.2 580 1746 575.7 1813.9 579.6 1878.7 579.3 1942.6 579.4 2003 576.2 2067.4 575.3M1492.7 644.7 1554.9 640.5 1617.2 644.3 1685.5 642.7 1748.9 642.7 1813.3 644.6 1876.3 640.1 1938.8 643 2003.1 640.3 2071.6 644.4M1490.3 63.1 1489.4 128 1488.1 193.8 1492.3 254.8 1488.4 320.3 1490.6 383.7 1488.7 450.8 1491.8 511.9 1490.1 575.4 1492.7 644.7M1554.7 64.3 1553.6 125.1 1554.5 189.6 1555.3 257.1 1556 320.4 1553.8 384.6 1556.6 449.9 1555.8 515.9 1556.8 576.6 1554.9 640.5M1621.1 61.9 1618 128.1 1617.1 191.6 1617.4 254.3 1617.5 319.3 1621.5 384.3 1620.6 446.7 1621.1 514.9 1616.6 577.6 1617.2 644.3M1684.5 63.5 1683.4 127.6 1684.2 193.2 1684.7 253.9 1684.7 320.1 1682.9 384.7 1684 450.6 1685.4 513.2 1685.2 580 1685.5 642.7M1747.2 64.3 1748.4 127.3 1748.2 190.7 1747.7 253.8 1749.1 318.7 1746.4 383.6 1746.7 447.4 1746.9 514.2 1746 575.7 1748.9 642.7M1813.2 62.7 1814.5 128.7 1813.2 190 1814.5 257.6 1813.1 321.8 1813.7 386.7 1814.1 450.5 1812.6 511.2 1813.9 579.6 1813.3 644.6M1876.9 65 1878.9 128.1 1875.7 189.6 1875.2 257.6 1878.5 319.3 1875.9 384.6 1875.9 449.5 1875.4 513.9 1878.7 579.3 1876.3 640.1M1941.7 63.4 1942.5 128.4 1941.9 191.7 1942.2 254 1943 320.7 1943 385.8 1939.6 448.2 1938.8 511.3 1942.6 579.4 1938.8 643M2004.7 64.2 2007.5 126.4 2005 190.2 2004.2 256.6 2004.3 318 2005.1 387 2006.3 450.4 2004.7 511.6 2003 576.2 2003.1 640.3M2071.6 61.8 2068.9 124.7 2071.4 191 2070.8 255.1 2070.6 322.6 2071.7 384.5 2071.6 449.9 2069.3 514.3 2067.4 575.3 2071.6 644.4" stroke-width="1.8"/><path d="M1496.1 66.5 1524.7 96.7 1558.8 131.7M1559.7 67.3 1524.7 96.7 1493.4 132.1M1527.9 66.9 1524.7 96.7 1526.1 131.9M1559.2 99.5 1524.7 96.7 1494.7 99.3M1559.7 67.3 1590.2 97.6 1619.3 127.7M1621.9 64.8 1590.2 97.6 1558.8 131.7M1590.8 66.1 1590.2 97.6 1589.1 129.7M1620.6 96.3 1590.2 97.6 1559.2 99.5M1621.9 64.8 1652.4 97.3 1685.1 128.2M1687 63.8 1652.4 97.3 1619.3 127.7M1654.5 64.3 1652.4 97.3 1652.2 128M1686 96 1652.4 97.3 1620.6 96.3M1687 63.8 1715.3 97.9 1749.4 129.4M1747 65.9 1715.3 97.9 1685.1 128.2M1717 64.8 1715.3 97.9 1717.2 128.8M1748.2 97.6 1715.3 97.9 1686 96M1747 65.9 1779.2 98.2 1811.9 132M1813.2 64.7 1779.2 98.2 1749.4 129.4M1780.1 65.3 1779.2 98.2 1780.7 130.7M1812.6 98.4 1779.2 98.2 1748.2 97.6M1813.2 64.7 1842.7 98.1 1875.5 127.9M1877.2 68.6 1842.7 98.1 1811.9 132M1845.2 66.7 1842.7 98.1 1843.7 130M1876.4 98.3 1842.7 98.1 1812.6 98.4M1877.2 68.6 1908.6 97.7 1937.3 130.1M1937.4 66.7 1908.6 97.7 1875.5 127.9M1907.3 67.7 1908.6 97.7 1906.4 129M1937.3 98.4 1908.6 97.7 1876.4 98.3M1937.4 66.7 1972.2 96.7 2002.8 130.5M2000.2 65.7 1972.2 96.7 1937.3 130.1M1968.8 66.2 1972.2 96.7 1970.1 130.3M2001.5 98.1 1972.2 96.7 1937.3 98.4M2000.2 65.7 2034.6 98.3 2065.8 130.6M2064 68.5 2034.6 98.3 2002.8 130.5M2032.1 67.1 2034.6 98.3 2034.3 130.6M2064.9 99.6 2034.6 98.3 2001.5 98.1M1493.4 132.1 1526.9 162.9 1558.7 191.9M1558.8 131.7 1526.9 162.9 1493.2 194.1M1526.1 131.9 1526.9 162.9 1525.9 193M1558.7 161.8 1526.9 162.9 1493.3 163.1M1558.8 131.7 1589.2 162.4 1620.3 193.5M1619.3 127.7 1589.2 162.4 1558.7 191.9M1589.1 129.7 1589.2 162.4 1589.5 192.7M1619.8 160.6 1589.2 162.4 1558.7 161.8M1619.3 127.7 1654.2 162.4 1685.5 192.2M1685.1 128.2 1654.2 162.4 1620.3 193.5M1652.2 128 1654.2 162.4 1652.9 192.9M1685.3 160.2 1654.2 162.4 1619.8 160.6M1685.1 128.2 1717.7 163 1748.5 194.1M1749.4 129.4 1717.7 163 1685.5 192.2M1717.2 128.8 1717.7 163 1717 193.2M1748.9 161.7 1717.7 163 1685.3 160.2M1749.4 129.4 1779.9 162.1 1813.8 192.8M1811.9 132 1779.9 162.1 1748.5 194.1M1780.7 130.7 1779.9 162.1 1781.1 193.4M1812.9 162.4 1779.9 162.1 1748.9 161.7M1811.9 132 1842.7 161.5 1876.1 191.9M1875.5 127.9 1842.7 161.5 1813.8 192.8M1843.7 130 1842.7 161.5 1844.9 192.3M1875.8 159.9 1842.7 161.5 1812.9 162.4M1875.5 127.9 1908.3 161.9 1939 191.9M1937.3 130.1 1908.3 161.9 1876.1 191.9M1906.4 129 1908.3 161.9 1907.6 191.9M1938.2 161 1908.3 161.9 1875.8 159.9M1937.3 130.1 1970.2 160.5 2004.7 193.1M2002.8 130.5 1970.2 160.5 1939 191.9M1970.1 130.3 1970.2 160.5 1971.9 192.5M2003.8 161.8 1970.2 160.5 1938.2 161M2002.8 130.5 2033.7 160.5 2067.9 193M2065.8 130.6 2033.7 160.5 2004.7 193.1M2034.3 130.6 2033.7 160.5 2036.3 193.1M2066.9 161.8 2033.7 160.5 2003.8 161.8M1493.2 194.1 1524.7 224.9 1556.5 257.4M1558.7 191.9 1524.7 224.9 1495.8 256.6M1525.9 193 1524.7 224.9 1526.1 257M1557.6 224.6 1524.7 224.9 1494.5 225.3M1558.7 191.9 1587.8 226.3 1622.7 258.9M1620.3 193.5 1587.8 226.3 1556.5 257.4M1589.5 192.7 1587.8 226.3 1589.6 258.2M1621.5 226.2 1587.8 226.3 1557.6 224.6M1620.3 193.5 1652.5 225.5 1685.1 255M1685.5 192.2 1652.5 225.5 1622.7 258.9M1652.9 192.9 1652.5 225.5 1653.9 256.9M1685.3 223.6 1652.5 225.5 1621.5 226.2M1685.5 192.2 1716.8 224.2 1748.7 255.8M1748.5 194.1 1716.8 224.2 1685.1 255M1717 193.2 1716.8 224.2 1716.9 255.4M1748.6 224.9 1716.8 224.2 1685.3 223.6M1748.5 194.1 1778.7 224.2 1813 259M1813.8 192.8 1778.7 224.2 1748.7 255.8M1781.1 193.4 1778.7 224.2 1780.8 257.4M1813.4 225.9 1778.7 224.2 1748.6 224.9M1813.8 192.8 1845.1 224.1 1875.5 257.6M1876.1 191.9 1845.1 224.1 1813 259M1844.9 192.3 1845.1 224.1 1844.2 258.3M1875.8 224.8 1845.1 224.1 1813.4 225.9M1876.1 191.9 1907 226.4 1936.9 257.3M1939 191.9 1907 226.4 1875.5 257.6M1907.6 191.9 1907 226.4 1906.2 257.4M1937.9 224.6 1907 226.4 1875.8 224.8M1939 191.9 1971.1 223.8 2000.8 257.6M2004.7 193.1 1971.1 223.8 1936.9 257.3M1971.9 192.5 1971.1 223.8 1968.8 257.5M2002.8 225.4 1971.1 223.8 1937.9 224.6M2004.7 193.1 2035.6 224.9 2065.6 258.4M2067.9 193 2035.6 224.9 2000.8 257.6M2036.3 193.1 2035.6 224.9 2033.2 258M2066.8 225.7 2035.6 224.9 2002.8 225.4M1495.8 256.6 1524.5 288.4 1558.3 320.8M1556.5 257.4 1524.5 288.4 1491.5 318.7M1526.1 257 1524.5 288.4 1524.9 319.8M1557.4 289.1 1524.5 288.4 1493.6 287.7M1556.5 257.4 1589.4 287.5 1621.3 322.4M1622.7 258.9 1589.4 287.5 1558.3 320.8M1589.6 258.2 1589.4 287.5 1589.8 321.6M1622 290.6 1589.4 287.5 1557.4 289.1M1622.7 258.9 1653.2 289.2 1684.5 322.2M1685.1 255 1653.2 289.2 1621.3 322.4M1653.9 256.9 1653.2 289.2 1652.9 322.3M1684.8 288.6 1653.2 289.2 1622 290.6M1685.1 255 1715.6 288.7 1748.2 322.8M1748.7 255.8 1715.6 288.7 1684.5 322.2M1716.9 255.4 1715.6 288.7 1716.4 322.5M1748.5 289.3 1715.6 288.7 1684.8 288.6M1748.7 255.8 1779.1 287.4 1812.6 318.9M1813 259 1779.1 287.4 1748.2 322.8M1780.8 257.4 1779.1 287.4 1780.4 320.9M1812.8 289 1779.1 287.4 1748.5 289.3M1813 259 1843.9 288.7 1874.7 322.5M1875.5 257.6 1843.9 288.7 1812.6 318.9M1844.2 258.3 1843.9 288.7 1843.7 320.7M1875.1 290.1 1843.9 288.7 1812.8 289M1875.5 257.6 1908.3 288 1938.3 319.1M1936.9 257.3 1908.3 288 1874.7 322.5M1906.2 257.4 1908.3 288 1906.5 320.8M1937.6 288.2 1908.3 288 1875.1 290.1M1936.9 257.3 1970.7 289.4 2002.5 320.2M2000.8 257.6 1970.7 289.4 1938.3 319.1M1968.8 257.5 1970.7 289.4 1970.4 319.6M2001.7 288.9 1970.7 289.4 1937.6 288.2M2000.8 257.6 2033.2 288.5 2066.9 320.4M2065.6 258.4 2033.2 288.5 2002.5 320.2M2033.2 258 2033.2 288.5 2034.7 320.3M2066.2 289.4 2033.2 288.5 2001.7 288.9M1491.5 318.7 1526.1 351.7 1556.9 386.3M1558.3 320.8 1526.1 351.7 1492.5 383.9M1524.9 319.8 1526.1 351.7 1524.7 385.1M1557.6 353.5 1526.1 351.7 1492 351.3M1558.3 320.8 1588.7 352.7 1623.4 384.9M1621.3 322.4 1588.7 352.7 1556.9 386.3M1589.8 321.6 1588.7 352.7 1590.1 385.6M1622.3 353.7 1588.7 352.7 1557.6 353.5M1621.3 322.4 1652.5 353.6 1682.5 385.5M1684.5 322.2 1652.5 353.6 1623.4 384.9M1652.9 322.3 1652.5 353.6 1652.9 385.2M1683.5 353.9 1652.5 353.6 1622.3 353.7M1684.5 322.2 1717.5 353.5 1749.1 385.9M1748.2 322.8 1717.5 353.5 1682.5 385.5M1716.4 322.5 1717.5 353.5 1715.8 385.7M1748.7 354.4 1717.5 353.5 1683.5 353.9M1748.2 322.8 1779.8 351.6 1811 382.1M1812.6 318.9 1779.8 351.6 1749.1 385.9M1780.4 320.9 1779.8 351.6 1780.1 384M1811.8 350.5 1779.8 351.6 1748.7 354.4M1812.6 318.9 1844 352.3 1876 382.4M1874.7 322.5 1844 352.3 1811 382.1M1843.7 320.7 1844 352.3 1843.5 382.3M1875.4 352.5 1844 352.3 1811.8 350.5M1874.7 322.5 1907.2 353 1940.3 385.8M1938.3 319.1 1907.2 353 1876 382.4M1906.5 320.8 1907.2 353 1908.2 384.1M1939.3 352.5 1907.2 353 1875.4 352.5M1938.3 319.1 1972.2 353.4 2002.2 386.5M2002.5 320.2 1972.2 353.4 1940.3 385.8M1970.4 319.6 1972.2 353.4 1971.3 386.2M2002.4 353.3 1972.2 353.4 1939.3 352.5M2002.5 320.2 2033.3 353.7 2064.6 386.5M2066.9 320.4 2033.3 353.7 2002.2 386.5M2034.7 320.3 2033.3 353.7 2033.4 386.5M2065.8 353.4 2033.3 353.7 2002.4 353.3M1492.5 383.9 1526.1 415.6 1558.6 450.3M1556.9 386.3 1526.1 415.6 1493.6 449.2M1524.7 385.1 1526.1 415.6 1526.1 449.8M1557.8 418.3 1526.1 415.6 1493 416.6M1556.9 386.3 1589.8 416 1623.3 445.6M1623.4 384.9 1589.8 416 1558.6 450.3M1590.1 385.6 1589.8 416 1591 448M1623.3 415.3 1589.8 416 1557.8 418.3M1623.4 384.9 1653 416.3 1682.2 448.1M1682.5 385.5 1653 416.3 1623.3 445.6M1652.9 385.2 1653 416.3 1652.7 446.9M1682.3 416.8 1653 416.3 1623.3 415.3M1682.5 385.5 1715.3 415.7 1745.9 448.7M1749.1 385.9 1715.3 415.7 1682.2 448.1M1715.8 385.7 1715.3 415.7 1714 448.4M1747.5 417.3 1715.3 415.7 1682.3 416.8M1749.1 385.9 1779.8 414.8 1812 448.8M1811 382.1 1779.8 414.8 1745.9 448.7M1780.1 384 1779.8 414.8 1778.9 448.7M1811.5 415.4 1779.8 414.8 1747.5 417.3M1811 382.1 1844.3 415.6 1875.1 446.8M1876 382.4 1844.3 415.6 1812 448.8M1843.5 382.3 1844.3 415.6 1843.6 447.8M1875.6 414.6 1844.3 415.6 1811.5 415.4M1876 382.4 1907.2 417.5 1941.3 449.1M1940.3 385.8 1907.2 417.5 1875.1 446.8M1908.2 384.1 1907.2 417.5 1908.2 447.9M1940.8 417.4 1907.2 417.5 1875.6 414.6M1940.3 385.8 1972 415.4 2000.2 445.9M2002.2 386.5 1972 415.4 1941.3 449.1M1971.3 386.2 1972 415.4 1970.7 447.5M2001.2 416.2 1972 415.4 1940.8 417.4M2002.2 386.5 2034.2 416.3 2066.9 446.9M2064.6 386.5 2034.2 416.3 2000.2 445.9M2033.4 386.5 2034.2 416.3 2033.6 446.4M2065.8 416.7 2034.2 416.3 2001.2 416.2M1493.6 449.2 1524.4 480.6 1556.6 513.7M1558.6 450.3 1524.4 480.6 1493.3 512.9M1526.1 449.8 1524.4 480.6 1524.9 513.3M1557.6 482 1524.4 480.6 1493.4 481.1M1558.6 450.3 1588.6 478.6 1622.1 511.8M1623.3 445.6 1588.6 478.6 1556.6 513.7M1591 448 1588.6 478.6 1589.3 512.7M1622.7 478.7 1588.6 478.6 1557.6 482M1623.3 445.6 1653.4 479.8 1683 511.1M1682.2 448.1 1653.4 479.8 1622.1 511.8M1652.7 446.9 1653.4 479.8 1652.5 511.4M1682.6 479.6 1653.4 479.8 1622.7 478.7M1682.2 448.1 1715 479.9 1749.5 514M1745.9 448.7 1715 479.9 1683 511.1M1714 448.4 1715 479.9 1716.2 512.5M1747.7 481.4 1715 479.9 1682.6 479.6M1745.9 448.7 1780.8 478.3 1809.7 509.7M1812 448.8 1780.8 478.3 1749.5 514M1778.9 448.7 1780.8 478.3 1779.6 511.9M1810.8 479.2 1780.8 478.3 1747.7 481.4M1812 448.8 1844.1 479 1876.6 513.2M1875.1 446.8 1844.1 479 1809.7 509.7M1843.6 447.8 1844.1 479 1843.2 511.5M1875.9 480 1844.1 479 1810.8 479.2M1875.1 446.8 1907 478.4 1937 513.2M1941.3 449.1 1907 478.4 1876.6 513.2M1908.2 447.9 1907 478.4 1906.8 513.2M1939.1 481.1 1907 478.4 1875.9 480M1941.3 449.1 1970.9 481 2004.1 512.5M2000.2 445.9 1970.9 481 1937 513.2M1970.7 447.5 1970.9 481 1970.5 512.8M2002.1 479.2 1970.9 481 1939.1 481.1M2000.2 445.9 2033.9 478.4 2065.5 511.3M2066.9 446.9 2033.9 478.4 2004.1 512.5M2033.6 446.4 2033.9 478.4 2034.8 511.9M2066.2 479.1 2033.9 478.4 2002.1 479.2M1493.3 512.9 1526.6 544.7 1556.5 574.3M1556.6 513.7 1526.6 544.7 1493.1 576.9M1524.9 513.3 1526.6 544.7 1524.8 575.6M1556.6 544 1526.6 544.7 1493.2 544.9M1556.6 513.7 1589.1 544.6 1623.1 577.3M1622.1 511.8 1589.1 544.6 1556.5 574.3M1589.3 512.7 1589.1 544.6 1589.8 575.8M1622.6 544.5 1589.1 544.6 1556.6 544M1622.1 511.8 1654 544.1 1686.9 576.7M1683 511.1 1654 544.1 1623.1 577.3M1652.5 511.4 1654 544.1 1655 577M1685 543.9 1654 544.1 1622.6 544.5M1683 511.1 1717.4 542.3 1746.1 573.1M1749.5 514 1717.4 542.3 1686.9 576.7M1716.2 512.5 1717.4 542.3 1716.5 574.9M1747.8 543.6 1717.4 542.3 1685 543.9M1749.5 514 1781 543.1 1812.1 576.9M1809.7 509.7 1781 543.1 1746.1 573.1M1779.6 511.9 1781 543.1 1779.1 575M1810.9 543.3 1781 543.1 1747.8 543.6M1809.7 509.7 1843 543.5 1877.3 575.8M1876.6 513.2 1843 543.5 1812.1 576.9M1843.2 511.5 1843 543.5 1844.7 576.4M1877 544.5 1843 543.5 1810.9 543.3M1876.6 513.2 1908.3 543.1 1941.3 573.4M1937 513.2 1908.3 543.1 1877.3 575.8M1906.8 513.2 1908.3 543.1 1909.3 574.6M1939.2 543.3 1908.3 543.1 1877 544.5M1937 513.2 1969.6 542.7 2001.3 574.3M2004.1 512.5 1969.6 542.7 1941.3 573.4M1970.5 512.8 1969.6 542.7 1971.3 573.9M2002.7 543.4 1969.6 542.7 1939.2 543.3M2004.1 512.5 2033.8 543.9 2065.1 574.2M2065.5 511.3 2033.8 543.9 2001.3 574.3M2034.8 511.9 2033.8 543.9 2033.2 574.3M2065.3 542.7 2033.8 543.9 2002.7 543.4M1493.1 576.9 1526.9 607.1 1555 639M1556.5 574.3 1526.9 607.1 1491.8 638.1M1524.8 575.6 1526.9 607.1 1523.4 638.6M1555.7 606.6 1526.9 607.1 1492.4 607.5M1556.5 574.3 1588.4 607.6 1623.2 638.5M1623.1 577.3 1588.4 607.6 1555 639M1589.8 575.8 1588.4 607.6 1589.1 638.7M1623.2 607.9 1588.4 607.6 1555.7 606.6M1623.1 577.3 1651.7 605.6 1685.2 639.3M1686.9 576.7 1651.7 605.6 1623.2 638.5M1655 577 1651.7 605.6 1654.2 638.9M1686.1 608 1651.7 605.6 1623.2 607.9M1686.9 576.7 1716.8 606.6 1750.4 639.9M1746.1 573.1 1716.8 606.6 1685.2 639.3M1716.5 574.9 1716.8 606.6 1717.8 639.6M1748.2 606.5 1716.8 606.6 1686.1 608M1746.1 573.1 1779.9 605.7 1813.4 638M1812.1 576.9 1779.9 605.7 1750.4 639.9M1779.1 575 1779.9 605.7 1781.9 638.9M1812.8 607.4 1779.9 605.7 1748.2 606.5M1812.1 576.9 1843.6 607.3 1877.5 637.2M1877.3 575.8 1843.6 607.3 1813.4 638M1844.7 576.4 1843.6 607.3 1845.4 637.6M1877.4 606.5 1843.6 607.3 1812.8 607.4M1877.3 575.8 1908.7 605.5 1938.6 640M1941.3 573.4 1908.7 605.5 1877.5 637.2M1909.3 574.6 1908.7 605.5 1908 638.6M1939.9 606.7 1908.7 605.5 1877.4 606.5M1941.3 573.4 1970.9 606.9 2001.8 640.7M2001.3 574.3 1970.9 606.9 1938.6 640M1971.3 573.9 1970.9 606.9 1970.2 640.3M2001.5 607.5 1970.9 606.9 1939.9 606.7M2001.3 574.3 2034.8 608 2068.1 637.1M2065.1 574.2 2034.8 608 2001.8 640.7M2033.2 574.3 2034.8 608 2034.9 638.9M2066.6 605.7 2034.8 608 2001.5 607.5M1490.3 63.1 1521.3 94.1 1553.6 125.1M1554.7 64.3 1521.3 94.1 1489.4 128M1522.5 63.7 1521.3 94.1 1521.5 126.5M1554.1 94.7 1521.3 94.1 1489.8 95.6M1554.7 64.3 1588.3 96.2 1618 128.1M1621.1 61.9 1588.3 96.2 1553.6 125.1M1587.9 63.1 1588.3 96.2 1585.8 126.6M1619.5 95 1588.3 96.2 1554.1 94.7M1621.1 61.9 1651.6 94.9 1683.4 127.6M1684.5 63.5 1651.6 94.9 1618 128.1M1652.8 62.7 1651.6 94.9 1650.7 127.8M1684 95.6 1651.6 94.9 1619.5 95M1684.5 63.5 1716.5 94.9 1748.4 127.3M1747.2 64.3 1716.5 94.9 1683.4 127.6M1715.9 63.9 1716.5 94.9 1715.9 127.4M1747.8 95.8 1716.5 94.9 1684 95.6M1747.2 64.3 1781.4 95.8 1814.5 128.7M1813.2 62.7 1781.4 95.8 1748.4 127.3M1780.2 63.5 1781.4 95.8 1781.5 128M1813.8 95.7 1781.4 95.8 1747.8 95.8M1813.2 62.7 1844.8 93.8 1878.9 128.1M1876.9 65 1844.8 93.8 1814.5 128.7M1845.1 63.9 1844.8 93.8 1846.7 128.4M1877.9 96.6 1844.8 93.8 1813.8 95.7M1876.9 65 1909.4 93.8 1942.5 128.4M1941.7 63.4 1909.4 93.8 1878.9 128.1M1909.3 64.2 1909.4 93.8 1910.7 128.3M1942.1 95.9 1909.4 93.8 1877.9 96.6M1941.7 63.4 1972.1 96.1 2007.5 126.4M2004.7 64.2 1972.1 96.1 1942.5 128.4M1973.2 63.8 1972.1 96.1 1975 127.4M2006.1 95.3 1972.1 96.1 1942.1 95.9M2004.7 64.2 2037.8 95.2 2068.9 124.7M2071.6 61.8 2037.8 95.2 2007.5 126.4M2038.2 63 2037.8 95.2 2038.2 125.5M2070.2 93.3 2037.8 95.2 2006.1 95.3M1489.4 128 1523.1 160.4 1554.5 189.6M1553.6 125.1 1523.1 160.4 1488.1 193.8M1521.5 126.5 1523.1 160.4 1521.3 191.7M1554.1 157.4 1523.1 160.4 1488.8 160.9M1553.6 125.1 1588.2 158 1617.1 191.6M1618 128.1 1588.2 158 1554.5 189.6M1585.8 126.6 1588.2 158 1585.8 190.6M1617.5 159.9 1588.2 158 1554.1 157.4M1618 128.1 1649.9 158.1 1684.2 193.2M1683.4 127.6 1649.9 158.1 1617.1 191.6M1650.7 127.8 1649.9 158.1 1650.6 192.4M1683.8 160.4 1649.9 158.1 1617.5 159.9M1683.4 127.6 1717 159.5 1748.2 190.7M1748.4 127.3 1717 159.5 1684.2 193.2M1715.9 127.4 1717 159.5 1716.2 192M1748.3 159 1717 159.5 1683.8 160.4M1748.4 127.3 1779.6 159.7 1813.2 190M1814.5 128.7 1779.6 159.7 1748.2 190.7M1781.5 128 1779.6 159.7 1780.7 190.3M1813.8 159.3 1779.6 159.7 1748.3 159M1814.5 128.7 1843.2 159 1875.7 189.6M1878.9 128.1 1843.2 159 1813.2 190M1846.7 128.4 1843.2 159 1844.5 189.8M1877.3 158.9 1843.2 159 1813.8 159.3M1878.9 128.1 1908.2 159.9 1941.9 191.7M1942.5 128.4 1908.2 159.9 1875.7 189.6M1910.7 128.3 1908.2 159.9 1908.8 190.7M1942.2 160.1 1908.2 159.9 1877.3 158.9M1942.5 128.4 1972.1 160.8 2005 190.2M2007.5 126.4 1972.1 160.8 1941.9 191.7M1975 127.4 1972.1 160.8 1973.5 191M2006.3 158.3 1972.1 160.8 1942.2 160.1M2007.5 126.4 2036.2 158.2 2071.4 191M2068.9 124.7 2036.2 158.2 2005 190.2M2038.2 125.5 2036.2 158.2 2038.2 190.6M2070.1 157.9 2036.2 158.2 2006.3 158.3M1488.1 193.8 1521.5 225.2 1555.3 257.1M1554.5 189.6 1521.5 225.2 1492.3 254.8M1521.3 191.7 1521.5 225.2 1523.8 255.9M1554.9 223.4 1521.5 225.2 1490.2 224.3M1554.5 189.6 1586.1 224.3 1617.4 254.3M1617.1 191.6 1586.1 224.3 1555.3 257.1M1585.8 190.6 1586.1 224.3 1586.4 255.7M1617.2 223 1586.1 224.3 1554.9 223.4M1617.1 191.6 1651.8 223.4 1684.7 253.9M1684.2 193.2 1651.8 223.4 1617.4 254.3M1650.6 192.4 1651.8 223.4 1651.1 254.1M1684.5 223.5 1651.8 223.4 1617.2 223M1684.2 193.2 1715 224.5 1747.7 253.8M1748.2 190.7 1715 224.5 1684.7 253.9M1716.2 192 1715 224.5 1716.2 253.9M1747.9 222.3 1715 224.5 1684.5 223.5M1748.2 190.7 1778.7 222.3 1814.5 257.6M1813.2 190 1778.7 222.3 1747.7 253.8M1780.7 190.3 1778.7 222.3 1781.1 255.7M1813.9 223.8 1778.7 222.3 1747.9 222.3M1813.2 190 1844.1 223.2 1875.2 257.6M1875.7 189.6 1844.1 223.2 1814.5 257.6M1844.5 189.8 1844.1 223.2 1844.9 257.6M1875.5 223.6 1844.1 223.2 1813.9 223.8M1875.7 189.6 1907.5 222.5 1942.2 254M1941.9 191.7 1907.5 222.5 1875.2 257.6M1908.8 190.7 1907.5 222.5 1908.7 255.8M1942 222.9 1907.5 222.5 1875.5 223.6M1941.9 191.7 1973.2 225.1 2004.2 256.6M2005 190.2 1973.2 225.1 1942.2 254M1973.5 191 1973.2 225.1 1973.2 255.3M2004.6 223.4 1973.2 225.1 1942 222.9M2005 190.2 2038.1 222.8 2070.8 255.1M2071.4 191 2038.1 222.8 2004.2 256.6M2038.2 190.6 2038.1 222.8 2037.5 255.9M2071.1 223.1 2038.1 222.8 2004.6 223.4M1492.3 254.8 1522 288.7 1556 320.4M1555.3 257.1 1522 288.7 1488.4 320.3M1523.8 255.9 1522 288.7 1522.2 320.3M1555.7 288.8 1522 288.7 1490.4 287.5M1555.3 257.1 1585.6 287.2 1617.5 319.3M1617.4 254.3 1585.6 287.2 1556 320.4M1586.4 255.7 1585.6 287.2 1586.7 319.9M1617.4 286.8 1585.6 287.2 1555.7 288.8M1617.4 254.3 1649.9 288 1684.7 320.1M1684.7 253.9 1649.9 288 1617.5 319.3M1651.1 254.1 1649.9 288 1651.1 319.7M1684.7 287 1649.9 288 1617.4 286.8M1684.7 253.9 1715.8 289.2 1749.1 318.7M1747.7 253.8 1715.8 289.2 1684.7 320.1M1716.2 253.9 1715.8 289.2 1716.9 319.4M1748.4 286.3 1715.8 289.2 1684.7 287M1747.7 253.8 1778.6 287 1813.1 321.8M1814.5 257.6 1778.6 287 1749.1 318.7M1781.1 255.7 1778.6 287 1781.1 320.2M1813.8 289.7 1778.6 287 1748.4 286.3M1814.5 257.6 1843.7 287.9 1878.5 319.3M1875.2 257.6 1843.7 287.9 1813.1 321.8M1844.9 257.6 1843.7 287.9 1845.8 320.6M1876.9 288.5 1843.7 287.9 1813.8 289.7M1875.2 257.6 1908.2 289.6 1943 320.7M1942.2 254 1908.2 289.6 1878.5 319.3M1908.7 255.8 1908.2 289.6 1910.8 320M1942.6 287.4 1908.2 289.6 1876.9 288.5M1942.2 254 1972.7 289.3 2004.3 318M2004.2 256.6 1972.7 289.3 1943 320.7M1973.2 255.3 1972.7 289.3 1973.7 319.3M2004.2 287.3 1972.7 289.3 1942.6 287.4M2004.2 256.6 2039 287.5 2070.6 322.6M2070.8 255.1 2039 287.5 2004.3 318M2037.5 255.9 2039 287.5 2037.4 320.3M2070.7 288.8 2039 287.5 2004.2 287.3M1488.4 320.3 1521.4 353.6 1553.8 384.6M1556 320.4 1521.4 353.6 1490.6 383.7M1522.2 320.3 1521.4 353.6 1522.2 384.2M1554.9 352.5 1521.4 353.6 1489.5 352M1556 320.4 1585.4 351.4 1621.5 384.3M1617.5 319.3 1585.4 351.4 1553.8 384.6M1586.7 319.9 1585.4 351.4 1587.6 384.5M1619.5 351.8 1585.4 351.4 1554.9 352.5M1617.5 319.3 1650.3 351.1 1682.9 384.7M1684.7 320.1 1650.3 351.1 1621.5 384.3M1651.1 319.7 1650.3 351.1 1652.2 384.5M1683.8 352.4 1650.3 351.1 1619.5 351.8M1684.7 320.1 1716 351 1746.4 383.6M1749.1 318.7 1716 351 1682.9 384.7M1716.9 319.4 1716 351 1714.6 384.2M1747.8 351.2 1716 351 1683.8 352.4M1749.1 318.7 1779.3 352.7 1813.7 386.7M1813.1 321.8 1779.3 352.7 1746.4 383.6M1781.1 320.2 1779.3 352.7 1780.1 385.2M1813.4 354.2 1779.3 352.7 1747.8 351.2M1813.1 321.8 1844.9 351.4 1875.9 384.6M1878.5 319.3 1844.9 351.4 1813.7 386.7M1845.8 320.6 1844.9 351.4 1844.8 385.6M1877.2 352 1844.9 351.4 1813.4 354.2M1878.5 319.3 1908.9 353.1 1943 385.8M1943 320.7 1908.9 353.1 1875.9 384.6M1910.8 320 1908.9 353.1 1909.5 385.2M1943 353.2 1908.9 353.1 1877.2 352M1943 320.7 1971.8 352.4 2005.1 387M2004.3 318 1971.8 352.4 1943 385.8M1973.7 319.3 1971.8 352.4 1974.1 386.4M2004.7 352.5 1971.8 352.4 1943 353.2M2004.3 318 2037.1 351.2 2071.7 384.5M2070.6 322.6 2037.1 351.2 2005.1 387M2037.4 320.3 2037.1 351.2 2038.4 385.7M2071.1 353.5 2037.1 351.2 2004.7 352.5M1490.6 383.7 1522.7 415.6 1556.6 449.9M1553.8 384.6 1522.7 415.6 1488.7 450.8M1522.2 384.2 1522.7 415.6 1522.7 450.3M1555.2 417.3 1522.7 415.6 1489.7 417.2M1553.8 384.6 1587.4 416.9 1620.6 446.7M1621.5 384.3 1587.4 416.9 1556.6 449.9M1587.6 384.5 1587.4 416.9 1588.6 448.3M1621 415.5 1587.4 416.9 1555.2 417.3M1621.5 384.3 1652.3 416.8 1684 450.6M1682.9 384.7 1652.3 416.8 1620.6 446.7M1652.2 384.5 1652.3 416.8 1652.3 448.6M1683.4 417.6 1652.3 416.8 1621 415.5M1682.9 384.7 1716.7 416.5 1746.7 447.4M1746.4 383.6 1716.7 416.5 1684 450.6M1714.6 384.2 1716.7 416.5 1715.4 449M1746.6 415.5 1716.7 416.5 1683.4 417.6M1746.4 383.6 1779.9 417.2 1814.1 450.5M1813.7 386.7 1779.9 417.2 1746.7 447.4M1780.1 385.2 1779.9 417.2 1780.4 448.9M1813.9 418.6 1779.9 417.2 1746.6 415.5M1813.7 386.7 1845 416.3 1875.9 449.5M1875.9 384.6 1845 416.3 1814.1 450.5M1844.8 385.6 1845 416.3 1845 450M1875.9 417 1845 416.3 1813.9 418.6M1875.9 384.6 1907.4 417.5 1939.6 448.2M1943 385.8 1907.4 417.5 1875.9 449.5M1909.5 385.2 1907.4 417.5 1907.7 448.8M1941.3 417 1907.4 417.5 1875.9 417M1943 385.8 1973.9 418 2006.3 450.4M2005.1 387 1973.9 418 1939.6 448.2M1974.1 386.4 1973.9 418 1972.9 449.3M2005.7 418.7 1973.9 418 1941.3 417M2005.1 387 2037.9 417.8 2071.6 449.9M2071.7 384.5 2037.9 417.8 2006.3 450.4M2038.4 385.7 2037.9 417.8 2039 450.1M2071.6 417.2 2037.9 417.8 2005.7 418.7M1488.7 450.8 1521.5 480.8 1555.8 515.9M1556.6 449.9 1521.5 480.8 1491.8 511.9M1522.7 450.3 1521.5 480.8 1523.8 513.9M1556.2 482.9 1521.5 480.8 1490.3 481.3M1556.6 449.9 1586.5 480.8 1621.1 514.9M1620.6 446.7 1586.5 480.8 1555.8 515.9M1588.6 448.3 1586.5 480.8 1588.4 515.4M1620.8 480.8 1586.5 480.8 1556.2 482.9M1620.6 446.7 1650.7 481.7 1685.4 513.2M1684 450.6 1650.7 481.7 1621.1 514.9M1652.3 448.6 1650.7 481.7 1653.2 514.1M1684.7 481.9 1650.7 481.7 1620.8 480.8M1684 450.6 1716.6 481.3 1746.9 514.2M1746.7 447.4 1716.6 481.3 1685.4 513.2M1715.4 449 1716.6 481.3 1716.1 513.7M1746.8 480.8 1716.6 481.3 1684.7 481.9M1746.7 447.4 1780.7 481.5 1812.6 511.2M1814.1 450.5 1780.7 481.5 1746.9 514.2M1780.4 448.9 1780.7 481.5 1779.8 512.7M1813.4 480.8 1780.7 481.5 1746.8 480.8M1814.1 450.5 1845 481.6 1875.4 513.9M1875.9 449.5 1845 481.6 1812.6 511.2M1845 450 1845 481.6 1844 512.5M1875.6 481.7 1845 481.6 1813.4 480.8M1875.9 449.5 1907.7 482.4 1938.8 511.3M1939.6 448.2 1907.7 482.4 1875.4 513.9M1907.7 448.8 1907.7 482.4 1907.1 512.6M1939.2 479.8 1907.7 482.4 1875.6 481.7M1939.6 448.2 1972.2 480.6 2004.7 511.6M2006.3 450.4 1972.2 480.6 1938.8 511.3M1972.9 449.3 1972.2 480.6 1971.8 511.4M2005.5 481 1972.2 480.6 1939.2 479.8M2006.3 450.4 2037.6 481.8 2069.3 514.3M2071.6 449.9 2037.6 481.8 2004.7 511.6M2039 450.1 2037.6 481.8 2037 513M2070.5 482.1 2037.6 481.8 2005.5 481M1491.8 511.9 1523.7 544.6 1556.8 576.6M1555.8 515.9 1523.7 544.6 1490.1 575.4M1523.8 513.9 1523.7 544.6 1523.5 576M1556.3 546.2 1523.7 544.6 1491 543.7M1555.8 515.9 1585.5 546 1616.6 577.6M1621.1 514.9 1585.5 546 1556.8 576.6M1588.4 515.4 1585.5 546 1586.7 577.1M1618.8 546.2 1585.5 546 1556.3 546.2M1621.1 514.9 1651.5 546.3 1685.2 580M1685.4 513.2 1651.5 546.3 1616.6 577.6M1653.2 514.1 1651.5 546.3 1650.9 578.8M1685.3 546.6 1651.5 546.3 1618.8 546.2M1685.4 513.2 1714.7 546.5 1746 575.7M1746.9 514.2 1714.7 546.5 1685.2 580M1716.1 513.7 1714.7 546.5 1715.6 577.9M1746.4 544.9 1714.7 546.5 1685.3 546.6M1746.9 514.2 1778.7 544.5 1813.9 579.6M1812.6 511.2 1778.7 544.5 1746 575.7M1779.8 512.7 1778.7 544.5 1779.9 577.6M1813.2 545.4 1778.7 544.5 1746.4 544.9M1812.6 511.2 1843.4 544.4 1878.7 579.3M1875.4 513.9 1843.4 544.4 1813.9 579.6M1844 512.5 1843.4 544.4 1846.3 579.4M1877 546.6 1843.4 544.4 1813.2 545.4M1875.4 513.9 1907.4 546.1 1942.6 579.4M1938.8 511.3 1907.4 546.1 1878.7 579.3M1907.1 512.6 1907.4 546.1 1910.6 579.4M1940.7 545.4 1907.4 546.1 1877 546.6M1938.8 511.3 1974.6 545.4 2003 576.2M2004.7 511.6 1974.6 545.4 1942.6 579.4M1971.8 511.4 1974.6 545.4 1972.8 577.8M2003.9 543.9 1974.6 545.4 1940.7 545.4M2004.7 511.6 2036.5 545 2067.4 575.3M2069.3 514.3 2036.5 545 2003 576.2M2037 513 2036.5 545 2035.2 575.8M2068.4 544.8 2036.5 545 2003.9 543.9M1490.1 575.4 1521.7 610.7 1554.9 640.5M1556.8 576.6 1521.7 610.7 1492.7 644.7M1523.5 576 1521.7 610.7 1523.8 642.6M1555.9 608.5 1521.7 610.7 1491.4 610.1M1556.8 576.6 1587.2 610.4 1617.2 644.3M1616.6 577.6 1587.2 610.4 1554.9 640.5M1586.7 577.1 1587.2 610.4 1586.1 642.4M1616.9 610.9 1587.2 610.4 1555.9 608.5M1616.6 577.6 1652.7 609.4 1685.5 642.7M1685.2 580 1652.7 609.4 1617.2 644.3M1650.9 578.8 1652.7 609.4 1651.4 643.5M1685.3 611.3 1652.7 609.4 1616.9 610.9M1685.2 580 1716 609.7 1748.9 642.7M1746 575.7 1716 609.7 1685.5 642.7M1715.6 577.9 1716 609.7 1717.2 642.7M1747.4 609.2 1716 609.7 1685.3 611.3M1746 575.7 1780.7 609.6 1813.3 644.6M1813.9 579.6 1780.7 609.6 1748.9 642.7M1779.9 577.6 1780.7 609.6 1781.1 643.7M1813.6 612.1 1780.7 609.6 1747.4 609.2M1813.9 579.6 1845.4 609.4 1876.3 640.1M1878.7 579.3 1845.4 609.4 1813.3 644.6M1846.3 579.4 1845.4 609.4 1844.8 642.4M1877.5 609.7 1845.4 609.4 1813.6 612.1M1878.7 579.3 1909.3 609.2 1938.8 643M1942.6 579.4 1909.3 609.2 1876.3 640.1M1910.6 579.4 1909.3 609.2 1907.5 641.6M1940.7 611.2 1909.3 609.2 1877.5 609.7M1942.6 579.4 1973.9 610.1 2003.1 640.3M2003 576.2 1973.9 610.1 1938.8 643M1972.8 577.8 1973.9 610.1 1971 641.6M2003.1 608.2 1973.9 610.1 1940.7 611.2M2003 576.2 2036.7 610.8 2071.6 644.4M2067.4 575.3 2036.7 610.8 2003.1 640.3M2035.2 575.8 2036.7 610.8 2037.4 642.3M2069.5 609.9 2036.7 610.8 2003.1 608.2" stroke-width="0.9" stroke-opacity="0.8"/></g>
<g><ellipse cx="1673.7" cy="351.6" rx="3" ry="5.5" class="B"/><ellipse cx="1691.5" cy="351.6" rx="3" ry="5.5" class="P"/><ellipse cx="1741.8" cy="354.8" rx="3.3" ry="5.9" class="P"/><ellipse cx="1759.7" cy="354.8" rx="3.3" ry="5.9" class="B"/><ellipse cx="1737.8" cy="419.5" rx="3.1" ry="5.7" class="B"/><ellipse cx="1755.6" cy="419.5" rx="3.1" ry="5.7" class="P"/><ellipse cx="1804.1" cy="356.4" rx="3.3" ry="5.9" class="B"/><ellipse cx="1821.9" cy="356.4" rx="3.3" ry="5.9" class="P"/><ellipse cx="1800.5" cy="415.9" rx="3.1" ry="5.7" class="P"/><ellipse cx="1818.3" cy="415.9" rx="3.1" ry="5.7" class="B"/><ellipse cx="1863.6" cy="351.2" rx="3" ry="5.5" class="P"/><ellipse cx="1881.4" cy="351.2" rx="3" ry="5.5" class="B"/><ellipse cx="1719.8" cy="310.4" rx="5.7" ry="3.1" class="B"/><ellipse cx="1719.8" cy="328.3" rx="5.7" ry="3.1" class="P"/><ellipse cx="1716.7" cy="371.5" rx="5.7" ry="3.1" class="P"/><ellipse cx="1716.7" cy="389.4" rx="5.7" ry="3.1" class="B"/><ellipse cx="1781.5" cy="251.9" rx="5.5" ry="3" class="B"/><ellipse cx="1781.5" cy="269.7" rx="5.5" ry="3" class="P"/><ellipse cx="1781.1" cy="310.7" rx="5.9" ry="3.3" class="P"/><ellipse cx="1781.1" cy="328.5" rx="5.9" ry="3.3" class="B"/><ellipse cx="1783" cy="439.8" rx="5.5" ry="3" class="P"/><ellipse cx="1783" cy="457.7" rx="5.5" ry="3" class="B"/><ellipse cx="1545.7" cy="350.1" rx="3" ry="5.3" class="P"/><ellipse cx="1563.6" cy="350.1" rx="3" ry="5.3" class="B"/><ellipse cx="1615.3" cy="226.1" rx="3.5" ry="6.4" class="B"/><ellipse cx="1633.2" cy="226.1" rx="3.5" ry="6.4" class="P"/><ellipse cx="1616" cy="288.9" rx="4" ry="7.2" class="P"/><ellipse cx="1633.9" cy="288.9" rx="4" ry="7.2" class="B"/><ellipse cx="1610.7" cy="351.3" rx="4.1" ry="7.5" class="B"/><ellipse cx="1628.5" cy="351.3" rx="4.1" ry="7.5" class="P"/><ellipse cx="1609.6" cy="415.7" rx="4" ry="7.2" class="P"/><ellipse cx="1627.5" cy="415.7" rx="4" ry="7.2" class="B"/><ellipse cx="1615.5" cy="481.5" rx="3.5" ry="6.4" class="B"/><ellipse cx="1633.4" cy="481.5" rx="3.5" ry="6.4" class="P"/><ellipse cx="1674.2" cy="159.1" rx="3.3" ry="6" class="B"/><ellipse cx="1692.1" cy="159.1" rx="3.3" ry="6" class="P"/><ellipse cx="1677.2" cy="222.7" rx="4.2" ry="7.6" class="P"/><ellipse cx="1695.1" cy="222.7" rx="4.2" ry="7.6" class="B"/><ellipse cx="1673.8" cy="286.3" rx="4.7" ry="8.5" class="B"/><ellipse cx="1691.7" cy="286.3" rx="4.7" ry="8.5" class="P"/><ellipse cx="1672.2" cy="354.9" rx="4.9" ry="8.9" class="P"/><ellipse cx="1690.1" cy="354.9" rx="4.9" ry="8.9" class="B"/><ellipse cx="1675.3" cy="418.5" rx="4.7" ry="8.5" class="B"/><ellipse cx="1693.1" cy="418.5" rx="4.7" ry="8.5" class="P"/><ellipse cx="1673.6" cy="482.6" rx="4.2" ry="7.6" class="P"/><ellipse cx="1691.5" cy="482.6" rx="4.2" ry="7.6" class="B"/><ellipse cx="1678.8" cy="543.6" rx="3.3" ry="6" class="B"/><ellipse cx="1696.7" cy="543.6" rx="3.3" ry="6" class="P"/><ellipse cx="1739.4" cy="162.3" rx="3.5" ry="6.4" class="P"/><ellipse cx="1757.3" cy="162.3" rx="3.5" ry="6.4" class="B"/><ellipse cx="1740.5" cy="224.5" rx="4.5" ry="8.2" class="B"/><ellipse cx="1758.4" cy="224.5" rx="4.5" ry="8.2" class="P"/><ellipse cx="1738.1" cy="291" rx="5.1" ry="9.2" class="P"/><ellipse cx="1756" cy="291" rx="5.1" ry="9.2" class="B"/><ellipse cx="1742.9" cy="349.6" rx="5.3" ry="9.6" class="B"/><ellipse cx="1760.8" cy="349.6" rx="5.3" ry="9.6" class="P"/><ellipse cx="1739.9" cy="417.3" rx="5.1" ry="9.2" class="P"/><ellipse cx="1757.7" cy="417.3" rx="5.1" ry="9.2" class="B"/><ellipse cx="1741.1" cy="477.3" rx="4.5" ry="8.2" class="B"/><ellipse cx="1759" cy="477.3" rx="4.5" ry="8.2" class="P"/><ellipse cx="1739.9" cy="540.5" rx="3.5" ry="6.4" class="P"/><ellipse cx="1757.8" cy="540.5" rx="3.5" ry="6.4" class="B"/><ellipse cx="1805.1" cy="158.7" rx="3.5" ry="6.4" class="B"/><ellipse cx="1822.9" cy="158.7" rx="3.5" ry="6.4" class="P"/><ellipse cx="1801.5" cy="221.7" rx="4.5" ry="8.2" class="P"/><ellipse cx="1819.3" cy="221.7" rx="4.5" ry="8.2" class="B"/><ellipse cx="1804.2" cy="285.3" rx="5.1" ry="9.2" class="B"/><ellipse cx="1822.1" cy="285.3" rx="5.1" ry="9.2" class="P"/><ellipse cx="1805.4" cy="352.9" rx="5.3" ry="9.6" class="P"/><ellipse cx="1823.2" cy="352.9" rx="5.3" ry="9.6" class="B"/><ellipse cx="1799.1" cy="417.8" rx="5.1" ry="9.2" class="B"/><ellipse cx="1817" cy="417.8" rx="5.1" ry="9.2" class="P"/><ellipse cx="1805.1" cy="480" rx="4.5" ry="8.2" class="P"/><ellipse cx="1823" cy="480" rx="4.5" ry="8.2" class="B"/><ellipse cx="1800.6" cy="543.1" rx="3.5" ry="6.4" class="B"/><ellipse cx="1818.5" cy="543.1" rx="3.5" ry="6.4" class="P"/><ellipse cx="1865.1" cy="163" rx="3.3" ry="6" class="P"/><ellipse cx="1883" cy="163" rx="3.3" ry="6" class="B"/><ellipse cx="1866.7" cy="228.1" rx="4.2" ry="7.6" class="B"/><ellipse cx="1884.6" cy="228.1" rx="4.2" ry="7.6" class="P"/><ellipse cx="1862.9" cy="292.2" rx="4.7" ry="8.5" class="P"/><ellipse cx="1880.8" cy="292.2" rx="4.7" ry="8.5" class="B"/><ellipse cx="1868.2" cy="355.6" rx="4.9" ry="8.9" class="B"/><ellipse cx="1886.1" cy="355.6" rx="4.9" ry="8.9" class="P"/><ellipse cx="1869.9" cy="413.1" rx="4.7" ry="8.5" class="P"/><ellipse cx="1887.7" cy="413.1" rx="4.7" ry="8.5" class="B"/><ellipse cx="1868.2" cy="479.2" rx="4.2" ry="7.6" class="B"/><ellipse cx="1886.1" cy="479.2" rx="4.2" ry="7.6" class="P"/><ellipse cx="1870.4" cy="544.2" rx="3.3" ry="6" class="P"/><ellipse cx="1888.3" cy="544.2" rx="3.3" ry="6" class="B"/><ellipse cx="1932" cy="222.6" rx="3.5" ry="6.4" class="P"/><ellipse cx="1949.9" cy="222.6" rx="3.5" ry="6.4" class="B"/><ellipse cx="1927.3" cy="289.8" rx="4" ry="7.2" class="B"/><ellipse cx="1945.1" cy="289.8" rx="4" ry="7.2" class="P"/><ellipse cx="1933.8" cy="356.4" rx="4.1" ry="7.5" class="P"/><ellipse cx="1951.7" cy="356.4" rx="4.1" ry="7.5" class="B"/><ellipse cx="1932.5" cy="417.9" rx="4" ry="7.2" class="B"/><ellipse cx="1950.4" cy="417.9" rx="4" ry="7.2" class="P"/><ellipse cx="1926.2" cy="482.4" rx="3.5" ry="6.4" class="P"/><ellipse cx="1944" cy="482.4" rx="3.5" ry="6.4" class="B"/><ellipse cx="1990.6" cy="353.8" rx="3" ry="5.3" class="B"/><ellipse cx="2008.5" cy="353.8" rx="3" ry="5.3" class="P"/><ellipse cx="1590.2" cy="245.3" rx="6" ry="3.3" class="B"/><ellipse cx="1590.2" cy="263.2" rx="6" ry="3.3" class="P"/><ellipse cx="1589.7" cy="313.1" rx="6.4" ry="3.5" class="P"/><ellipse cx="1589.7" cy="331" rx="6.4" ry="3.5" class="B"/><ellipse cx="1585.3" cy="375.6" rx="6.4" ry="3.5" class="B"/><ellipse cx="1585.3" cy="393.5" rx="6.4" ry="3.5" class="P"/><ellipse cx="1586.8" cy="439.2" rx="6" ry="3.3" class="P"/><ellipse cx="1586.8" cy="457" rx="6" ry="3.3" class="B"/><ellipse cx="1649.2" cy="184.6" rx="6.4" ry="3.5" class="B"/><ellipse cx="1649.2" cy="202.5" rx="6.4" ry="3.5" class="P"/><ellipse cx="1650.9" cy="250.2" rx="7.6" ry="4.2" class="P"/><ellipse cx="1650.9" cy="268.1" rx="7.6" ry="4.2" class="B"/><ellipse cx="1652.5" cy="314.2" rx="8.2" ry="4.5" class="B"/><ellipse cx="1652.5" cy="332.1" rx="8.2" ry="4.5" class="P"/><ellipse cx="1655" cy="371.9" rx="8.2" ry="4.5" class="P"/><ellipse cx="1655" cy="389.8" rx="8.2" ry="4.5" class="B"/><ellipse cx="1653.5" cy="442" rx="7.6" ry="4.2" class="B"/><ellipse cx="1653.5" cy="459.9" rx="7.6" ry="4.2" class="P"/><ellipse cx="1651.7" cy="506.1" rx="6.4" ry="3.5" class="P"/><ellipse cx="1651.7" cy="524" rx="6.4" ry="3.5" class="B"/><ellipse cx="1714.7" cy="186.7" rx="7.2" ry="4" class="P"/><ellipse cx="1714.7" cy="204.6" rx="7.2" ry="4" class="B"/><ellipse cx="1713.6" cy="248.6" rx="8.5" ry="4.7" class="B"/><ellipse cx="1713.6" cy="266.5" rx="8.5" ry="4.7" class="P"/><ellipse cx="1719.1" cy="310" rx="9.2" ry="5.1" class="P"/><ellipse cx="1719.1" cy="327.9" rx="9.2" ry="5.1" class="B"/><ellipse cx="1713.8" cy="373.1" rx="9.2" ry="5.1" class="B"/><ellipse cx="1713.8" cy="391" rx="9.2" ry="5.1" class="P"/><ellipse cx="1719.5" cy="438.4" rx="8.5" ry="4.7" class="P"/><ellipse cx="1719.5" cy="456.3" rx="8.5" ry="4.7" class="B"/><ellipse cx="1715.4" cy="502.2" rx="7.2" ry="4" class="B"/><ellipse cx="1715.4" cy="520.1" rx="7.2" ry="4" class="P"/><ellipse cx="1777.6" cy="121.8" rx="5.3" ry="3" class="P"/><ellipse cx="1777.6" cy="139.7" rx="5.3" ry="3" class="B"/><ellipse cx="1782.3" cy="182.9" rx="7.5" ry="4.1" class="B"/><ellipse cx="1782.3" cy="200.8" rx="7.5" ry="4.1" class="P"/><ellipse cx="1780.1" cy="246.3" rx="8.9" ry="4.9" class="P"/><ellipse cx="1780.1" cy="264.2" rx="8.9" ry="4.9" class="B"/><ellipse cx="1779.9" cy="310.8" rx="9.6" ry="5.3" class="B"/><ellipse cx="1779.9" cy="328.6" rx="9.6" ry="5.3" class="P"/><ellipse cx="1782.9" cy="374.2" rx="9.6" ry="5.3" class="P"/><ellipse cx="1782.9" cy="392.1" rx="9.6" ry="5.3" class="B"/><ellipse cx="1776.2" cy="438.8" rx="8.9" ry="4.9" class="B"/><ellipse cx="1776.2" cy="456.7" rx="8.9" ry="4.9" class="P"/><ellipse cx="1777" cy="503.7" rx="7.5" ry="4.1" class="P"/><ellipse cx="1777" cy="521.6" rx="7.5" ry="4.1" class="B"/><ellipse cx="1777.3" cy="566.4" rx="5.3" ry="3" class="B"/><ellipse cx="1777.3" cy="584.3" rx="5.3" ry="3" class="P"/><ellipse cx="1845.5" cy="184.4" rx="7.2" ry="4" class="P"/><ellipse cx="1845.5" cy="202.2" rx="7.2" ry="4" class="B"/><ellipse cx="1844.4" cy="249.2" rx="8.5" ry="4.7" class="B"/><ellipse cx="1844.4" cy="267.1" rx="8.5" ry="4.7" class="P"/><ellipse cx="1841.4" cy="309.8" rx="9.2" ry="5.1" class="P"/><ellipse cx="1841.4" cy="327.7" rx="9.2" ry="5.1" class="B"/><ellipse cx="1843.7" cy="373.7" rx="9.2" ry="5.1" class="B"/><ellipse cx="1843.7" cy="391.6" rx="9.2" ry="5.1" class="P"/><ellipse cx="1846.7" cy="438.4" rx="8.5" ry="4.7" class="P"/><ellipse cx="1846.7" cy="456.3" rx="8.5" ry="4.7" class="B"/><ellipse cx="1840.7" cy="499.7" rx="7.2" ry="4" class="B"/><ellipse cx="1840.7" cy="517.6" rx="7.2" ry="4" class="P"/><ellipse cx="1906.1" cy="182.7" rx="6.4" ry="3.5" class="B"/><ellipse cx="1906.1" cy="200.5" rx="6.4" ry="3.5" class="P"/><ellipse cx="1905" cy="246.1" rx="7.6" ry="4.2" class="P"/><ellipse cx="1905" cy="264" rx="7.6" ry="4.2" class="B"/><ellipse cx="1910.6" cy="309.6" rx="8.2" ry="4.5" class="B"/><ellipse cx="1910.6" cy="327.5" rx="8.2" ry="4.5" class="P"/><ellipse cx="1907.1" cy="373.7" rx="8.2" ry="4.5" class="P"/><ellipse cx="1907.1" cy="391.6" rx="8.2" ry="4.5" class="B"/><ellipse cx="1909.5" cy="441.1" rx="7.6" ry="4.2" class="B"/><ellipse cx="1909.5" cy="459" rx="7.6" ry="4.2" class="P"/><ellipse cx="1906.3" cy="504.4" rx="6.4" ry="3.5" class="P"/><ellipse cx="1906.3" cy="522.3" rx="6.4" ry="3.5" class="B"/><ellipse cx="1967.5" cy="245.7" rx="6" ry="3.3" class="B"/><ellipse cx="1967.5" cy="263.5" rx="6" ry="3.3" class="P"/><ellipse cx="1969.1" cy="309" rx="6.4" ry="3.5" class="P"/><ellipse cx="1969.1" cy="326.9" rx="6.4" ry="3.5" class="B"/><ellipse cx="1969.1" cy="376.9" rx="6.4" ry="3.5" class="B"/><ellipse cx="1969.1" cy="394.8" rx="6.4" ry="3.5" class="P"/><ellipse cx="1970.2" cy="441.9" rx="6" ry="3.3" class="P"/><ellipse cx="1970.2" cy="459.8" rx="6" ry="3.3" class="B"/><circle cx="1586.6" cy="227.3" r="9.2" class="B"/><circle cx="1586" cy="292.6" r="10.4" class="P"/><circle cx="1587.3" cy="476.3" r="9.2" class="B"/><circle cx="1649.5" cy="163.5" r="9.2" class="B"/><circle cx="1655.5" cy="227.4" r="11.7" class="P"/><circle cx="1654.3" cy="348.6" r="13.7" class="P"/><circle cx="1649.7" cy="475.8" r="11.7" class="P"/><circle cx="1713.2" cy="164.3" r="10.4" class="P"/><circle cx="1719.8" cy="225.6" r="13.2" class="B"/><circle cx="1719.5" cy="419.3" r="14.9" class="P"/><circle cx="1713.5" cy="545.3" r="10.4" class="P"/><circle cx="1779.4" cy="164.1" r="10.8" class="B"/><circle cx="1780.6" cy="226.9" r="13.7" class="P"/><circle cx="1783.9" cy="416.9" r="15.5" class="B"/><circle cx="1846.8" cy="540.4" r="10.4" class="P"/><circle cx="1905.8" cy="227" r="11.7" class="P"/><circle cx="1907.2" cy="412.3" r="13.2" class="B"/><circle cx="1967.2" cy="480.1" r="9.2" class="B"/><circle cx="1586.5" cy="227.2" r="9.2" class="P"/><circle cx="1585.9" cy="292.5" r="10.4" class="B"/><circle cx="1587.2" cy="476.3" r="9.2" class="P"/><circle cx="1649.4" cy="163.4" r="9.2" class="P"/><circle cx="1655.5" cy="227.3" r="11.7" class="B"/><circle cx="1654.2" cy="348.6" r="13.7" class="B"/><circle cx="1649.7" cy="475.9" r="11.7" class="B"/><circle cx="1713.2" cy="164.2" r="10.4" class="B"/><circle cx="1719.8" cy="225.6" r="13.2" class="P"/><circle cx="1719.5" cy="419.4" r="14.9" class="B"/><circle cx="1713.5" cy="545.4" r="10.4" class="B"/><circle cx="1779.4" cy="164" r="10.8" class="P"/><circle cx="1780.6" cy="226.9" r="13.7" class="B"/><circle cx="1783.9" cy="416.9" r="15.5" class="P"/><circle cx="1846.8" cy="540.5" r="10.4" class="B"/><circle cx="1905.9" cy="226.9" r="11.7" class="B"/><circle cx="1907.3" cy="412.3" r="13.2" class="P"/><circle cx="1967.3" cy="480.2" r="9.2" class="P"/><circle cx="1590.4" cy="162.6" r="6.1" class="P"/><circle cx="1972.3" cy="227.4" r="7.8" class="B"/><ellipse cx="1544.5" cy="224.4" rx="3.2" ry="5.8" class="B"/><ellipse cx="1562.5" cy="224.4" rx="3.2" ry="5.8" class="P"/><ellipse cx="1550.8" cy="287.9" rx="3.6" ry="6.6" class="P"/><ellipse cx="1568.7" cy="287.9" rx="3.6" ry="6.6" class="B"/><ellipse cx="1544.7" cy="353.1" rx="3.8" ry="6.8" class="B"/><ellipse cx="1562.6" cy="353.1" rx="3.8" ry="6.8" class="P"/><ellipse cx="1550.6" cy="415.3" rx="3.6" ry="6.6" class="P"/><ellipse cx="1568.5" cy="415.3" rx="3.6" ry="6.6" class="B"/><ellipse cx="1544.5" cy="483.1" rx="3.2" ry="5.8" class="B"/><ellipse cx="1562.4" cy="483.1" rx="3.2" ry="5.8" class="P"/><ellipse cx="1611.9" cy="160.6" rx="3.5" ry="6.4" class="B"/><ellipse cx="1629.8" cy="160.6" rx="3.5" ry="6.4" class="P"/><ellipse cx="1609.3" cy="223.5" rx="4.5" ry="8.1" class="P"/><ellipse cx="1627.3" cy="223.5" rx="4.5" ry="8.1" class="B"/><ellipse cx="1613.9" cy="291.4" rx="5" ry="9.1" class="B"/><ellipse cx="1631.8" cy="291.4" rx="5" ry="9.1" class="P"/><ellipse cx="1608.3" cy="353.5" rx="5.2" ry="9.5" class="P"/><ellipse cx="1626.2" cy="353.5" rx="5.2" ry="9.5" class="B"/><ellipse cx="1612.9" cy="414.3" rx="5" ry="9.1" class="B"/><ellipse cx="1630.9" cy="414.3" rx="5" ry="9.1" class="P"/><ellipse cx="1615.7" cy="479.1" rx="4.5" ry="8.1" class="P"/><ellipse cx="1633.6" cy="479.1" rx="4.5" ry="8.1" class="B"/><ellipse cx="1613.1" cy="546.4" rx="3.5" ry="6.4" class="B"/><ellipse cx="1631.1" cy="546.4" rx="3.5" ry="6.4" class="P"/><ellipse cx="1674.8" cy="158.8" rx="4.2" ry="7.6" class="P"/><ellipse cx="1692.7" cy="158.8" rx="4.2" ry="7.6" class="B"/><ellipse cx="1677" cy="225.1" rx="5.3" ry="9.6" class="B"/><ellipse cx="1695" cy="225.1" rx="5.3" ry="9.6" class="P"/><ellipse cx="1672" cy="286.3" rx="6" ry="10.9" class="P"/><ellipse cx="1689.9" cy="286.3" rx="6" ry="10.9" class="B"/><ellipse cx="1675.2" cy="351" rx="6.2" ry="11.3" class="B"/><ellipse cx="1693.1" cy="351" rx="6.2" ry="11.3" class="P"/><ellipse cx="1675.6" cy="414.7" rx="6" ry="10.9" class="P"/><ellipse cx="1693.5" cy="414.7" rx="6" ry="10.9" class="B"/><ellipse cx="1676.1" cy="479.1" rx="5.3" ry="9.6" class="B"/><ellipse cx="1694.1" cy="479.1" rx="5.3" ry="9.6" class="P"/><ellipse cx="1677.5" cy="543.2" rx="4.2" ry="7.6" class="P"/><ellipse cx="1695.4" cy="543.2" rx="4.2" ry="7.6" class="B"/><ellipse cx="1736.9" cy="162.3" rx="4.5" ry="8.2" class="B"/><ellipse cx="1754.8" cy="162.3" rx="4.5" ry="8.2" class="P"/><ellipse cx="1738.7" cy="226.9" rx="5.7" ry="10.4" class="P"/><ellipse cx="1756.7" cy="226.9" rx="5.7" ry="10.4" class="B"/><ellipse cx="1741.1" cy="291" rx="6.5" ry="11.8" class="B"/><ellipse cx="1759" cy="291" rx="6.5" ry="11.8" class="P"/><ellipse cx="1738" cy="356" rx="6.7" ry="12.2" class="P"/><ellipse cx="1756" cy="356" rx="6.7" ry="12.2" class="B"/><ellipse cx="1736" cy="419.2" rx="6.5" ry="11.8" class="B"/><ellipse cx="1753.9" cy="419.2" rx="6.5" ry="11.8" class="P"/><ellipse cx="1743" cy="480.3" rx="5.7" ry="10.4" class="P"/><ellipse cx="1760.9" cy="480.3" rx="5.7" ry="10.4" class="B"/><ellipse cx="1740" cy="540.8" rx="4.5" ry="8.2" class="B"/><ellipse cx="1757.9" cy="540.8" rx="4.5" ry="8.2" class="P"/><ellipse cx="1803.9" cy="159.6" rx="4.5" ry="8.2" class="P"/><ellipse cx="1821.8" cy="159.6" rx="4.5" ry="8.2" class="B"/><ellipse cx="1803" cy="227.7" rx="5.7" ry="10.4" class="B"/><ellipse cx="1820.9" cy="227.7" rx="5.7" ry="10.4" class="P"/><ellipse cx="1804.1" cy="289.3" rx="6.5" ry="11.8" class="P"/><ellipse cx="1822.1" cy="289.3" rx="6.5" ry="11.8" class="B"/><ellipse cx="1801.9" cy="349.3" rx="6.7" ry="12.2" class="B"/><ellipse cx="1819.8" cy="349.3" rx="6.7" ry="12.2" class="P"/><ellipse cx="1799.6" cy="418.2" rx="6.5" ry="11.8" class="P"/><ellipse cx="1817.5" cy="418.2" rx="6.5" ry="11.8" class="B"/><ellipse cx="1801.1" cy="479.3" rx="5.7" ry="10.4" class="B"/><ellipse cx="1819.1" cy="479.3" rx="5.7" ry="10.4" class="P"/><ellipse cx="1803.6" cy="539.9" rx="4.5" ry="8.2" class="P"/><ellipse cx="1821.6" cy="539.9" rx="4.5" ry="8.2" class="B"/><ellipse cx="1864.3" cy="161.6" rx="4.2" ry="7.6" class="B"/><ellipse cx="1882.3" cy="161.6" rx="4.2" ry="7.6" class="P"/><ellipse cx="1870.2" cy="228.6" rx="5.3" ry="9.6" class="P"/><ellipse cx="1888.2" cy="228.6" rx="5.3" ry="9.6" class="B"/><ellipse cx="1863.8" cy="285.6" rx="6" ry="10.9" class="B"/><ellipse cx="1881.7" cy="285.6" rx="6" ry="10.9" class="P"/><ellipse cx="1869" cy="351.6" rx="6.2" ry="11.3" class="P"/><ellipse cx="1887" cy="351.6" rx="6.2" ry="11.3" class="B"/><ellipse cx="1868.1" cy="412.9" rx="6" ry="10.9" class="B"/><ellipse cx="1886.1" cy="412.9" rx="6" ry="10.9" class="P"/><ellipse cx="1866.2" cy="478" rx="5.3" ry="9.6" class="P"/><ellipse cx="1884.1" cy="478" rx="5.3" ry="9.6" class="B"/><ellipse cx="1869.6" cy="541.8" rx="4.2" ry="7.6" class="B"/><ellipse cx="1887.5" cy="541.8" rx="4.2" ry="7.6" class="P"/><ellipse cx="1932.1" cy="160.2" rx="3.5" ry="6.4" class="P"/><ellipse cx="1950.1" cy="160.2" rx="3.5" ry="6.4" class="B"/><ellipse cx="1931" cy="223.7" rx="4.5" ry="8.1" class="B"/><ellipse cx="1948.9" cy="223.7" rx="4.5" ry="8.1" class="P"/><ellipse cx="1930.1" cy="287.3" rx="5" ry="9.1" class="P"/><ellipse cx="1948" cy="287.3" rx="5" ry="9.1" class="B"/><ellipse cx="1929.9" cy="354.3" rx="5.2" ry="9.5" class="B"/><ellipse cx="1947.8" cy="354.3" rx="5.2" ry="9.5" class="P"/><ellipse cx="1927.2" cy="416.9" rx="5" ry="9.1" class="P"/><ellipse cx="1945.1" cy="416.9" rx="5" ry="9.1" class="B"/><ellipse cx="1933.1" cy="479.1" rx="4.5" ry="8.1" class="B"/><ellipse cx="1951" cy="479.1" rx="4.5" ry="8.1" class="P"/><ellipse cx="1929.7" cy="542.8" rx="3.5" ry="6.4" class="P"/><ellipse cx="1947.6" cy="542.8" rx="3.5" ry="6.4" class="B"/><ellipse cx="1996.4" cy="226.6" rx="3.2" ry="5.8" class="P"/><ellipse cx="2014.4" cy="226.6" rx="3.2" ry="5.8" class="B"/><ellipse cx="1991.5" cy="292.6" rx="3.6" ry="6.6" class="B"/><ellipse cx="2009.4" cy="292.6" rx="3.6" ry="6.6" class="P"/><ellipse cx="1996.9" cy="350.3" rx="3.8" ry="6.8" class="P"/><ellipse cx="2014.8" cy="350.3" rx="3.8" ry="6.8" class="B"/><ellipse cx="1996.8" cy="412.8" rx="3.6" ry="6.6" class="B"/><ellipse cx="2014.7" cy="412.8" rx="3.6" ry="6.6" class="P"/><ellipse cx="1991.5" cy="479.8" rx="3.2" ry="5.8" class="P"/><ellipse cx="2009.4" cy="479.8" rx="3.2" ry="5.8" class="B"/><ellipse cx="1588.2" cy="184.1" rx="6.4" ry="3.5" class="B"/><ellipse cx="1588.2" cy="202.1" rx="6.4" ry="3.5" class="P"/><ellipse cx="1592.3" cy="246.4" rx="7.6" ry="4.2" class="P"/><ellipse cx="1592.3" cy="264.4" rx="7.6" ry="4.2" class="B"/><ellipse cx="1587.3" cy="313.1" rx="8.2" ry="4.5" class="B"/><ellipse cx="1587.3" cy="331" rx="8.2" ry="4.5" class="P"/><ellipse cx="1589.6" cy="371.4" rx="8.2" ry="4.5" class="P"/><ellipse cx="1589.6" cy="389.4" rx="8.2" ry="4.5" class="B"/><ellipse cx="1589.5" cy="439.3" rx="7.6" ry="4.2" class="B"/><ellipse cx="1589.5" cy="457.3" rx="7.6" ry="4.2" class="P"/><ellipse cx="1591.9" cy="503.6" rx="6.4" ry="3.5" class="P"/><ellipse cx="1591.9" cy="521.6" rx="6.4" ry="3.5" class="B"/><ellipse cx="1649.9" cy="116.9" rx="5.8" ry="3.2" class="B"/><ellipse cx="1649.9" cy="134.9" rx="5.8" ry="3.2" class="P"/><ellipse cx="1653.5" cy="180.6" rx="8.1" ry="4.5" class="P"/><ellipse cx="1653.5" cy="198.6" rx="8.1" ry="4.5" class="B"/><ellipse cx="1655.9" cy="245.5" rx="9.6" ry="5.3" class="B"/><ellipse cx="1655.9" cy="263.4" rx="9.6" ry="5.3" class="P"/><ellipse cx="1656.5" cy="310.7" rx="10.4" ry="5.7" class="P"/><ellipse cx="1656.5" cy="328.6" rx="10.4" ry="5.7" class="B"/><ellipse cx="1653.1" cy="376.3" rx="10.4" ry="5.7" class="B"/><ellipse cx="1653.1" cy="394.2" rx="10.4" ry="5.7" class="P"/><ellipse cx="1652.5" cy="439.7" rx="9.6" ry="5.3" class="P"/><ellipse cx="1652.5" cy="457.6" rx="9.6" ry="5.3" class="B"/><ellipse cx="1654.3" cy="504.6" rx="8.1" ry="4.5" class="B"/><ellipse cx="1654.3" cy="522.5" rx="8.1" ry="4.5" class="P"/><ellipse cx="1654.7" cy="568.5" rx="5.8" ry="3.2" class="P"/><ellipse cx="1654.7" cy="586.4" rx="5.8" ry="3.2" class="B"/><ellipse cx="1714.4" cy="121.9" rx="6.6" ry="3.6" class="P"/><ellipse cx="1714.4" cy="139.8" rx="6.6" ry="3.6" class="B"/><ellipse cx="1715.3" cy="184.1" rx="9.1" ry="5" class="B"/><ellipse cx="1715.3" cy="202" rx="9.1" ry="5" class="P"/><ellipse cx="1719.9" cy="245.6" rx="10.9" ry="6" class="P"/><ellipse cx="1719.9" cy="263.5" rx="10.9" ry="6" class="B"/><ellipse cx="1712.8" cy="311.4" rx="11.8" ry="6.5" class="B"/><ellipse cx="1712.8" cy="329.4" rx="11.8" ry="6.5" class="P"/><ellipse cx="1714.1" cy="372.2" rx="11.8" ry="6.5" class="P"/><ellipse cx="1714.1" cy="390.1" rx="11.8" ry="6.5" class="B"/><ellipse cx="1713.8" cy="439.8" rx="10.9" ry="6" class="B"/><ellipse cx="1713.8" cy="457.7" rx="10.9" ry="6" class="P"/><ellipse cx="1713.6" cy="504.3" rx="9.1" ry="5" class="P"/><ellipse cx="1713.6" cy="522.2" rx="9.1" ry="5" class="B"/><ellipse cx="1716.1" cy="567" rx="6.6" ry="3.6" class="B"/><ellipse cx="1716.1" cy="584.9" rx="6.6" ry="3.6" class="P"/><ellipse cx="1779.8" cy="117.1" rx="6.8" ry="3.8" class="B"/><ellipse cx="1779.8" cy="135.1" rx="6.8" ry="3.8" class="P"/><ellipse cx="1783.9" cy="183" rx="9.5" ry="5.2" class="P"/><ellipse cx="1783.9" cy="201" rx="9.5" ry="5.2" class="B"/><ellipse cx="1778.2" cy="246.4" rx="11.3" ry="6.2" class="B"/><ellipse cx="1778.2" cy="264.3" rx="11.3" ry="6.2" class="P"/><ellipse cx="1779" cy="312.4" rx="12.2" ry="6.7" class="P"/><ellipse cx="1779" cy="330.3" rx="12.2" ry="6.7" class="B"/><ellipse cx="1777.8" cy="378.2" rx="12.2" ry="6.7" class="B"/><ellipse cx="1777.8" cy="396.1" rx="12.2" ry="6.7" class="P"/><ellipse cx="1779.9" cy="441.4" rx="11.3" ry="6.2" class="P"/><ellipse cx="1779.9" cy="459.3" rx="11.3" ry="6.2" class="B"/><ellipse cx="1779.3" cy="500.3" rx="9.5" ry="5.2" class="B"/><ellipse cx="1779.3" cy="518.2" rx="9.5" ry="5.2" class="P"/><ellipse cx="1783.3" cy="566.8" rx="6.8" ry="3.8" class="P"/><ellipse cx="1783.3" cy="584.7" rx="6.8" ry="3.8" class="B"/><ellipse cx="1845.3" cy="121.7" rx="6.6" ry="3.6" class="P"/><ellipse cx="1845.3" cy="139.6" rx="6.6" ry="3.6" class="B"/><ellipse cx="1840.8" cy="187.8" rx="9.1" ry="5" class="B"/><ellipse cx="1840.8" cy="205.7" rx="9.1" ry="5" class="P"/><ellipse cx="1840.5" cy="250.9" rx="10.9" ry="6" class="P"/><ellipse cx="1840.5" cy="268.8" rx="10.9" ry="6" class="B"/><ellipse cx="1841.4" cy="313.1" rx="11.8" ry="6.5" class="B"/><ellipse cx="1841.4" cy="331" rx="11.8" ry="6.5" class="P"/><ellipse cx="1845" cy="379.1" rx="11.8" ry="6.5" class="P"/><ellipse cx="1845" cy="397" rx="11.8" ry="6.5" class="B"/><ellipse cx="1846.6" cy="442.3" rx="10.9" ry="6" class="B"/><ellipse cx="1846.6" cy="460.3" rx="10.9" ry="6" class="P"/><ellipse cx="1840.9" cy="505.5" rx="9.1" ry="5" class="P"/><ellipse cx="1840.9" cy="523.5" rx="9.1" ry="5" class="B"/><ellipse cx="1845.2" cy="563.8" rx="6.6" ry="3.6" class="B"/><ellipse cx="1845.2" cy="581.7" rx="6.6" ry="3.6" class="P"/><ellipse cx="1903.8" cy="121.9" rx="5.8" ry="3.2" class="B"/><ellipse cx="1903.8" cy="139.8" rx="5.8" ry="3.2" class="P"/><ellipse cx="1908" cy="183.6" rx="8.1" ry="4.5" class="P"/><ellipse cx="1908" cy="201.5" rx="8.1" ry="4.5" class="B"/><ellipse cx="1903.8" cy="251" rx="9.6" ry="5.3" class="B"/><ellipse cx="1903.8" cy="269" rx="9.6" ry="5.3" class="P"/><ellipse cx="1904.6" cy="308.3" rx="10.4" ry="5.7" class="P"/><ellipse cx="1904.6" cy="326.2" rx="10.4" ry="5.7" class="B"/><ellipse cx="1908" cy="377.1" rx="10.4" ry="5.7" class="B"/><ellipse cx="1908" cy="395" rx="10.4" ry="5.7" class="P"/><ellipse cx="1906" cy="441.1" rx="9.6" ry="5.3" class="P"/><ellipse cx="1906" cy="459" rx="9.6" ry="5.3" class="B"/><ellipse cx="1909.5" cy="505.4" rx="8.1" ry="4.5" class="B"/><ellipse cx="1909.5" cy="523.4" rx="8.1" ry="4.5" class="P"/><ellipse cx="1908.9" cy="563.5" rx="5.8" ry="3.2" class="P"/><ellipse cx="1908.9" cy="581.4" rx="5.8" ry="3.2" class="B"/><ellipse cx="1973" cy="182.5" rx="6.4" ry="3.5" class="B"/><ellipse cx="1973" cy="200.4" rx="6.4" ry="3.5" class="P"/><ellipse cx="1973.9" cy="248.3" rx="7.6" ry="4.2" class="P"/><ellipse cx="1973.9" cy="266.2" rx="7.6" ry="4.2" class="B"/><ellipse cx="1974.8" cy="313.8" rx="8.2" ry="4.5" class="B"/><ellipse cx="1974.8" cy="331.7" rx="8.2" ry="4.5" class="P"/><ellipse cx="1973.9" cy="377.5" rx="8.2" ry="4.5" class="P"/><ellipse cx="1973.9" cy="395.4" rx="8.2" ry="4.5" class="B"/><ellipse cx="1967.7" cy="437" rx="7.6" ry="4.2" class="B"/><ellipse cx="1967.7" cy="454.9" rx="7.6" ry="4.2" class="P"/><ellipse cx="1967.5" cy="500.3" rx="6.4" ry="3.5" class="P"/><ellipse cx="1967.5" cy="518.2" rx="6.4" ry="3.5" class="B"/><circle cx="1522.4" cy="355.9" r="8" class="B"/><circle cx="1588.2" cy="164.5" r="8.6" class="B"/><circle cx="1591.5" cy="225.3" r="11" class="P"/><circle cx="1592" cy="284.9" r="12.4" class="B"/><circle cx="1585.1" cy="351.3" r="12.9" class="P"/><circle cx="1585.2" cy="412.4" r="12.4" class="B"/><circle cx="1588.3" cy="482.1" r="11" class="P"/><circle cx="1585.8" cy="546.9" r="8.6" class="B"/><circle cx="1655.6" cy="163.5" r="11" class="P"/><circle cx="1655.3" cy="222.2" r="14" class="B"/><circle cx="1655.1" cy="287.2" r="15.8" class="P"/><circle cx="1650.5" cy="353.5" r="16.4" class="B"/><circle cx="1655.6" cy="419.3" r="15.8" class="P"/><circle cx="1650.4" cy="480.1" r="14" class="B"/><circle cx="1652.1" cy="542.6" r="11" class="P"/><circle cx="1717.7" cy="159.5" r="12.4" class="B"/><circle cx="1716.6" cy="221" r="15.8" class="P"/><circle cx="1713.1" cy="290.6" r="17.8" class="B"/><circle cx="1713.6" cy="348.7" r="18.5" class="P"/><circle cx="1712.8" cy="413.4" r="17.8" class="B"/><circle cx="1718.5" cy="481.3" r="15.8" class="P"/><circle cx="1714.3" cy="540.6" r="12.4" class="B"/><circle cx="1783.1" cy="97.8" r="8" class="B"/><circle cx="1782.2" cy="160.2" r="12.9" class="P"/><circle cx="1782.6" cy="228.6" r="16.4" class="B"/><circle cx="1777.2" cy="285.6" r="18.5" class="P"/><circle cx="1780.8" cy="351.8" r="19.2" class="B"/><circle cx="1779.5" cy="416.9" r="18.5" class="P"/><circle cx="1783.5" cy="481.5" r="16.4" class="B"/><circle cx="1777.4" cy="545" r="12.9" class="P"/><circle cx="1780.1" cy="608.2" r="8" class="B"/><circle cx="1842.6" cy="222.1" r="15.8" class="P"/><circle cx="1844.6" cy="286.4" r="17.8" class="B"/><circle cx="1842.2" cy="351.6" r="18.5" class="P"/><circle cx="1847.4" cy="418.7" r="17.8" class="B"/><circle cx="1843.1" cy="480.2" r="15.8" class="P"/><circle cx="1841.7" cy="545.7" r="12.4" class="B"/><circle cx="1907.6" cy="158.4" r="11" class="P"/><circle cx="1906.9" cy="290" r="15.8" class="P"/><circle cx="1910.3" cy="352.5" r="16.4" class="B"/><circle cx="1910.3" cy="416.9" r="15.8" class="P"/><circle cx="1911.2" cy="478.6" r="14" class="B"/><circle cx="1910.5" cy="540.4" r="11" class="P"/><circle cx="1972.4" cy="163.4" r="8.6" class="B"/><circle cx="1971.1" cy="221.1" r="11" class="P"/><circle cx="1974.4" cy="286.8" r="12.4" class="B"/><circle cx="1968.6" cy="356.1" r="12.9" class="P"/><circle cx="1971.6" cy="412.9" r="12.4" class="B"/><circle cx="1971" cy="476.2" r="11" class="P"/><circle cx="1967.5" cy="546.4" r="8.6" class="B"/><circle cx="2037.7" cy="351" r="8" class="B"/><circle cx="1522.2" cy="355.9" r="8" class="P"/><circle cx="1588.1" cy="164.4" r="8.7" class="P"/><circle cx="1591.4" cy="225.2" r="11" class="B"/><circle cx="1591.8" cy="284.8" r="12.4" class="P"/><circle cx="1585" cy="351.3" r="12.9" class="B"/><circle cx="1585.1" cy="412.4" r="12.4" class="P"/><circle cx="1588.2" cy="482.2" r="11" class="B"/><circle cx="1585.7" cy="547" r="8.7" class="P"/><circle cx="1655.6" cy="163.4" r="11" class="B"/><circle cx="1655.3" cy="222.1" r="14" class="P"/><circle cx="1655" cy="287.2" r="15.8" class="B"/><circle cx="1650.4" cy="353.5" r="16.4" class="P"/><circle cx="1655.5" cy="419.4" r="15.8" class="B"/><circle cx="1650.3" cy="480.2" r="14" class="P"/><circle cx="1652.1" cy="542.7" r="11" class="B"/><circle cx="1717.6" cy="159.4" r="12.4" class="P"/><circle cx="1716.6" cy="220.9" r="15.8" class="B"/><circle cx="1713" cy="290.6" r="17.8" class="P"/><circle cx="1713.6" cy="348.7" r="18.5" class="B"/><circle cx="1712.8" cy="413.4" r="17.8" class="P"/><circle cx="1718.5" cy="481.4" r="15.8" class="B"/><circle cx="1714.3" cy="540.7" r="12.4" class="P"/><circle cx="1783.1" cy="97.6" r="8" class="P"/><circle cx="1782.2" cy="160.1" r="12.9" class="B"/><circle cx="1782.6" cy="228.5" r="16.4" class="P"/><circle cx="1777.2" cy="285.6" r="18.5" class="B"/><circle cx="1780.8" cy="351.8" r="19.2" class="P"/><circle cx="1779.5" cy="416.9" r="18.5" class="B"/><circle cx="1783.5" cy="481.6" r="16.4" class="P"/><circle cx="1777.4" cy="545.2" r="12.9" class="B"/><circle cx="1780.1" cy="608.4" r="8" class="P"/><circle cx="1842.7" cy="222" r="15.8" class="B"/><circle cx="1844.7" cy="286.4" r="17.8" class="P"/><circle cx="1842.2" cy="351.6" r="18.5" class="B"/><circle cx="1847.4" cy="418.7" r="17.8" class="P"/><circle cx="1843.2" cy="480.2" r="15.8" class="B"/><circle cx="1841.7" cy="545.9" r="12.4" class="P"/><circle cx="1907.7" cy="158.3" r="11" class="B"/><circle cx="1907" cy="289.9" r="15.8" class="B"/><circle cx="1910.4" cy="352.5" r="16.4" class="P"/><circle cx="1910.3" cy="417" r="15.8" class="B"/><circle cx="1911.3" cy="478.7" r="14" class="P"/><circle cx="1910.5" cy="540.5" r="11" class="B"/><circle cx="1972.5" cy="163.3" r="8.7" class="P"/><circle cx="1971.2" cy="221" r="11" class="B"/><circle cx="1974.5" cy="286.7" r="12.4" class="P"/><circle cx="1968.7" cy="356.1" r="12.9" class="B"/><circle cx="1971.8" cy="413" r="12.4" class="P"/><circle cx="1971.1" cy="476.3" r="11" class="B"/><circle cx="1967.6" cy="546.5" r="8.7" class="P"/><circle cx="2037.9" cy="351" r="8" class="P"/><circle cx="1527" cy="351.2" r="6.4" class="B"/><circle cx="1648.6" cy="541.7" r="8.8" class="P"/><circle cx="1712.9" cy="162.5" r="9.9" class="B"/><circle cx="1717.7" cy="292.2" r="14.3" class="B"/><circle cx="1713.6" cy="545.6" r="9.9" class="B"/><circle cx="1715.1" cy="606.3" r="6.1" class="P"/><circle cx="1781.3" cy="228.4" r="13.1" class="B"/><circle cx="1844" cy="157.6" r="9.9" class="B"/><circle cx="1841.4" cy="285.7" r="14.3" class="B"/><circle cx="1847.4" cy="350.7" r="14.8" class="P"/><circle cx="1842" cy="414.2" r="14.3" class="B"/><circle cx="1843.2" cy="608" r="6.1" class="P"/><circle cx="1903.9" cy="157" r="8.8" class="P"/><circle cx="1908.5" cy="413.8" r="12.6" class="P"/><circle cx="1967.9" cy="228" r="8.8" class="P"/><circle cx="1972.6" cy="292.3" r="9.9" class="B"/><circle cx="1975.5" cy="354.9" r="10.3" class="P"/><circle cx="2035.6" cy="288.3" r="6.1" class="P"/><ellipse cx="1550.3" cy="223.3" rx="3.6" ry="6.6" class="P"/><ellipse cx="1568.2" cy="223.3" rx="3.6" ry="6.6" class="B"/><ellipse cx="1547.9" cy="286.8" rx="4.1" ry="7.4" class="B"/><ellipse cx="1565.9" cy="286.8" rx="4.1" ry="7.4" class="P"/><ellipse cx="1550.2" cy="350.9" rx="4.3" ry="7.7" class="P"/><ellipse cx="1568.2" cy="350.9" rx="4.3" ry="7.7" class="B"/><ellipse cx="1546.8" cy="413.6" rx="4.1" ry="7.4" class="B"/><ellipse cx="1564.7" cy="413.6" rx="4.1" ry="7.4" class="P"/><ellipse cx="1550.6" cy="479.7" rx="3.6" ry="6.6" class="P"/><ellipse cx="1568.6" cy="479.7" rx="3.6" ry="6.6" class="B"/><ellipse cx="1615.1" cy="163.7" rx="4" ry="7.2" class="P"/><ellipse cx="1633" cy="163.7" rx="4" ry="7.2" class="B"/><ellipse cx="1608.7" cy="227.1" rx="5.1" ry="9.2" class="B"/><ellipse cx="1626.7" cy="227.1" rx="5.1" ry="9.2" class="P"/><ellipse cx="1608.8" cy="289.7" rx="5.7" ry="10.3" class="P"/><ellipse cx="1626.7" cy="289.7" rx="5.7" ry="10.3" class="B"/><ellipse cx="1610.9" cy="352" rx="5.9" ry="10.7" class="B"/><ellipse cx="1628.9" cy="352" rx="5.9" ry="10.7" class="P"/><ellipse cx="1608.3" cy="413.2" rx="5.7" ry="10.3" class="P"/><ellipse cx="1626.3" cy="413.2" rx="5.7" ry="10.3" class="B"/><ellipse cx="1608.4" cy="479.7" rx="5.1" ry="9.2" class="B"/><ellipse cx="1626.4" cy="479.7" rx="5.1" ry="9.2" class="P"/><ellipse cx="1611.8" cy="543.6" rx="4" ry="7.2" class="P"/><ellipse cx="1629.7" cy="543.6" rx="4" ry="7.2" class="B"/><ellipse cx="1671.5" cy="164.6" rx="4.7" ry="8.6" class="B"/><ellipse cx="1689.4" cy="164.6" rx="4.7" ry="8.6" class="P"/><ellipse cx="1673.8" cy="225.1" rx="6" ry="10.9" class="P"/><ellipse cx="1691.7" cy="225.1" rx="6" ry="10.9" class="B"/><ellipse cx="1672.3" cy="288.6" rx="6.8" ry="12.3" class="B"/><ellipse cx="1690.2" cy="288.6" rx="6.8" ry="12.3" class="P"/><ellipse cx="1678.2" cy="349.5" rx="7.1" ry="12.8" class="P"/><ellipse cx="1696.2" cy="349.5" rx="7.1" ry="12.8" class="B"/><ellipse cx="1674.3" cy="414.8" rx="6.8" ry="12.3" class="B"/><ellipse cx="1692.3" cy="414.8" rx="6.8" ry="12.3" class="P"/><ellipse cx="1672.9" cy="476.4" rx="6" ry="10.9" class="P"/><ellipse cx="1690.9" cy="476.4" rx="6" ry="10.9" class="B"/><ellipse cx="1675.5" cy="547.5" rx="4.7" ry="8.6" class="B"/><ellipse cx="1693.5" cy="547.5" rx="4.7" ry="8.6" class="P"/><ellipse cx="1741.5" cy="99.3" rx="3.2" ry="5.7" class="B"/><ellipse cx="1759.5" cy="99.3" rx="3.2" ry="5.7" class="P"/><ellipse cx="1735.2" cy="162" rx="5.1" ry="9.3" class="P"/><ellipse cx="1753.2" cy="162" rx="5.1" ry="9.3" class="B"/><ellipse cx="1738" cy="224" rx="6.5" ry="11.8" class="B"/><ellipse cx="1755.9" cy="224" rx="6.5" ry="11.8" class="P"/><ellipse cx="1738.2" cy="288.1" rx="7.3" ry="13.3" class="P"/><ellipse cx="1756.2" cy="288.1" rx="7.3" ry="13.3" class="B"/><ellipse cx="1741.2" cy="351.1" rx="7.6" ry="13.8" class="B"/><ellipse cx="1759.2" cy="351.1" rx="7.6" ry="13.8" class="P"/><ellipse cx="1739.9" cy="414.5" rx="7.3" ry="13.3" class="P"/><ellipse cx="1757.8" cy="414.5" rx="7.3" ry="13.3" class="B"/><ellipse cx="1736.9" cy="477.5" rx="6.5" ry="11.8" class="B"/><ellipse cx="1754.9" cy="477.5" rx="6.5" ry="11.8" class="P"/><ellipse cx="1739.3" cy="542.7" rx="5.1" ry="9.3" class="P"/><ellipse cx="1757.3" cy="542.7" rx="5.1" ry="9.3" class="B"/><ellipse cx="1738" cy="608.6" rx="3.2" ry="5.7" class="B"/><ellipse cx="1756" cy="608.6" rx="3.2" ry="5.7" class="P"/><ellipse cx="1802.5" cy="97.1" rx="3.2" ry="5.7" class="P"/><ellipse cx="1820.5" cy="97.1" rx="3.2" ry="5.7" class="B"/><ellipse cx="1802.2" cy="157.4" rx="5.1" ry="9.3" class="B"/><ellipse cx="1820.2" cy="157.4" rx="5.1" ry="9.3" class="P"/><ellipse cx="1800.4" cy="223.1" rx="6.5" ry="11.8" class="P"/><ellipse cx="1818.3" cy="223.1" rx="6.5" ry="11.8" class="B"/><ellipse cx="1806.4" cy="285.7" rx="7.3" ry="13.3" class="B"/><ellipse cx="1824.3" cy="285.7" rx="7.3" ry="13.3" class="P"/><ellipse cx="1804.5" cy="354.2" rx="7.6" ry="13.8" class="P"/><ellipse cx="1822.5" cy="354.2" rx="7.6" ry="13.8" class="B"/><ellipse cx="1800.5" cy="420.1" rx="7.3" ry="13.3" class="B"/><ellipse cx="1818.5" cy="420.1" rx="7.3" ry="13.3" class="P"/><ellipse cx="1799" cy="477.5" rx="6.5" ry="11.8" class="P"/><ellipse cx="1817" cy="477.5" rx="6.5" ry="11.8" class="B"/><ellipse cx="1803.2" cy="545.6" rx="5.1" ry="9.3" class="B"/><ellipse cx="1821.2" cy="545.6" rx="5.1" ry="9.3" class="P"/><ellipse cx="1801.6" cy="605.9" rx="3.2" ry="5.7" class="P"/><ellipse cx="1819.5" cy="605.9" rx="3.2" ry="5.7" class="B"/><ellipse cx="1863.9" cy="162" rx="4.7" ry="8.6" class="P"/><ellipse cx="1881.9" cy="162" rx="4.7" ry="8.6" class="B"/><ellipse cx="1868.1" cy="227.8" rx="6" ry="10.9" class="B"/><ellipse cx="1886.1" cy="227.8" rx="6" ry="10.9" class="P"/><ellipse cx="1862.9" cy="286" rx="6.8" ry="12.3" class="P"/><ellipse cx="1880.8" cy="286" rx="6.8" ry="12.3" class="B"/><ellipse cx="1863" cy="355" rx="7.1" ry="12.8" class="B"/><ellipse cx="1881" cy="355" rx="7.1" ry="12.8" class="P"/><ellipse cx="1866" cy="415.9" rx="6.8" ry="12.3" class="P"/><ellipse cx="1884" cy="415.9" rx="6.8" ry="12.3" class="B"/><ellipse cx="1865.4" cy="483.1" rx="6" ry="10.9" class="B"/><ellipse cx="1883.4" cy="483.1" rx="6" ry="10.9" class="P"/><ellipse cx="1870" cy="544.4" rx="4.7" ry="8.6" class="P"/><ellipse cx="1888" cy="544.4" rx="4.7" ry="8.6" class="B"/><ellipse cx="1932.3" cy="163.8" rx="4" ry="7.2" class="B"/><ellipse cx="1950.3" cy="163.8" rx="4" ry="7.2" class="P"/><ellipse cx="1929.7" cy="223.5" rx="5.1" ry="9.2" class="P"/><ellipse cx="1947.6" cy="223.5" rx="5.1" ry="9.2" class="B"/><ellipse cx="1932.7" cy="292.5" rx="5.7" ry="10.3" class="B"/><ellipse cx="1950.7" cy="292.5" rx="5.7" ry="10.3" class="P"/><ellipse cx="1927.7" cy="355.8" rx="5.9" ry="10.7" class="P"/><ellipse cx="1945.7" cy="355.8" rx="5.9" ry="10.7" class="B"/><ellipse cx="1930.6" cy="414.9" rx="5.7" ry="10.3" class="B"/><ellipse cx="1948.5" cy="414.9" rx="5.7" ry="10.3" class="P"/><ellipse cx="1933.1" cy="481.7" rx="5.1" ry="9.2" class="P"/><ellipse cx="1951.1" cy="481.7" rx="5.1" ry="9.2" class="B"/><ellipse cx="1927.4" cy="547.6" rx="4" ry="7.2" class="B"/><ellipse cx="1945.3" cy="547.6" rx="4" ry="7.2" class="P"/><ellipse cx="1995" cy="221.1" rx="3.6" ry="6.6" class="B"/><ellipse cx="2013" cy="221.1" rx="3.6" ry="6.6" class="P"/><ellipse cx="1993.5" cy="285.1" rx="4.1" ry="7.4" class="P"/><ellipse cx="2011.5" cy="285.1" rx="4.1" ry="7.4" class="B"/><ellipse cx="1995.6" cy="350.1" rx="4.3" ry="7.7" class="B"/><ellipse cx="2013.5" cy="350.1" rx="4.3" ry="7.7" class="P"/><ellipse cx="1993.9" cy="413.8" rx="4.1" ry="7.4" class="P"/><ellipse cx="2011.9" cy="413.8" rx="4.1" ry="7.4" class="B"/><ellipse cx="1997.6" cy="482.9" rx="3.6" ry="6.6" class="B"/><ellipse cx="2015.6" cy="482.9" rx="3.6" ry="6.6" class="P"/><ellipse cx="1522.2" cy="312" rx="5.7" ry="3.2" class="B"/><ellipse cx="1522.2" cy="329.9" rx="5.7" ry="3.2" class="P"/><ellipse cx="1527.9" cy="379.2" rx="5.7" ry="3.2" class="P"/><ellipse cx="1527.9" cy="397.1" rx="5.7" ry="3.2" class="B"/><ellipse cx="1591.7" cy="185.9" rx="7.2" ry="4" class="P"/><ellipse cx="1591.7" cy="203.9" rx="7.2" ry="4" class="B"/><ellipse cx="1591.5" cy="246.9" rx="8.6" ry="4.7" class="B"/><ellipse cx="1591.5" cy="264.9" rx="8.6" ry="4.7" class="P"/><ellipse cx="1592.1" cy="313.1" rx="9.3" ry="5.1" class="P"/><ellipse cx="1592.1" cy="331.1" rx="9.3" ry="5.1" class="B"/><ellipse cx="1589.2" cy="371.9" rx="9.3" ry="5.1" class="B"/><ellipse cx="1589.2" cy="389.9" rx="9.3" ry="5.1" class="P"/><ellipse cx="1590.1" cy="441.2" rx="8.6" ry="4.7" class="P"/><ellipse cx="1590.1" cy="459.2" rx="8.6" ry="4.7" class="B"/><ellipse cx="1585" cy="505.5" rx="7.2" ry="4" class="B"/><ellipse cx="1585" cy="523.4" rx="7.2" ry="4" class="P"/><ellipse cx="1655.4" cy="119.7" rx="6.6" ry="3.6" class="P"/><ellipse cx="1655.4" cy="137.7" rx="6.6" ry="3.6" class="B"/><ellipse cx="1652.6" cy="187.7" rx="9.2" ry="5.1" class="B"/><ellipse cx="1652.6" cy="205.7" rx="9.2" ry="5.1" class="P"/><ellipse cx="1652.5" cy="246.4" rx="10.9" ry="6" class="P"/><ellipse cx="1652.5" cy="264.4" rx="10.9" ry="6" class="B"/><ellipse cx="1652.8" cy="314.9" rx="11.8" ry="6.5" class="B"/><ellipse cx="1652.8" cy="332.8" rx="11.8" ry="6.5" class="P"/><ellipse cx="1655.3" cy="375.8" rx="11.8" ry="6.5" class="P"/><ellipse cx="1655.3" cy="393.7" rx="11.8" ry="6.5" class="B"/><ellipse cx="1654.1" cy="443.1" rx="10.9" ry="6" class="B"/><ellipse cx="1654.1" cy="461.1" rx="10.9" ry="6" class="P"/><ellipse cx="1652.1" cy="506.4" rx="9.2" ry="5.1" class="P"/><ellipse cx="1652.1" cy="524.3" rx="9.2" ry="5.1" class="B"/><ellipse cx="1655.6" cy="564.1" rx="6.6" ry="3.6" class="B"/><ellipse cx="1655.6" cy="582.1" rx="6.6" ry="3.6" class="P"/><ellipse cx="1716.4" cy="117" rx="7.4" ry="4.1" class="B"/><ellipse cx="1716.4" cy="134.9" rx="7.4" ry="4.1" class="P"/><ellipse cx="1715.2" cy="183.3" rx="10.3" ry="5.7" class="P"/><ellipse cx="1715.2" cy="201.2" rx="10.3" ry="5.7" class="B"/><ellipse cx="1720" cy="247.7" rx="12.3" ry="6.8" class="B"/><ellipse cx="1720" cy="265.6" rx="12.3" ry="6.8" class="P"/><ellipse cx="1719.4" cy="314.5" rx="13.3" ry="7.3" class="P"/><ellipse cx="1719.4" cy="332.5" rx="13.3" ry="7.3" class="B"/><ellipse cx="1713.6" cy="375" rx="13.3" ry="7.3" class="B"/><ellipse cx="1713.6" cy="393" rx="13.3" ry="7.3" class="P"/><ellipse cx="1713.5" cy="442.1" rx="12.3" ry="6.8" class="P"/><ellipse cx="1713.5" cy="460.1" rx="12.3" ry="6.8" class="B"/><ellipse cx="1715" cy="500.4" rx="10.3" ry="5.7" class="B"/><ellipse cx="1715" cy="518.4" rx="10.3" ry="5.7" class="P"/><ellipse cx="1717.8" cy="567" rx="7.4" ry="4.1" class="P"/><ellipse cx="1717.8" cy="584.9" rx="7.4" ry="4.1" class="B"/><ellipse cx="1780.3" cy="116.8" rx="7.7" ry="4.3" class="P"/><ellipse cx="1780.3" cy="134.7" rx="7.7" ry="4.3" class="B"/><ellipse cx="1781" cy="182.2" rx="10.7" ry="5.9" class="B"/><ellipse cx="1781" cy="200.1" rx="10.7" ry="5.9" class="P"/><ellipse cx="1783.1" cy="250.2" rx="12.8" ry="7.1" class="P"/><ellipse cx="1783.1" cy="268.2" rx="12.8" ry="7.1" class="B"/><ellipse cx="1779" cy="315.5" rx="13.8" ry="7.6" class="B"/><ellipse cx="1779" cy="333.5" rx="13.8" ry="7.6" class="P"/><ellipse cx="1782.9" cy="377.2" rx="13.8" ry="7.6" class="P"/><ellipse cx="1782.9" cy="395.1" rx="13.8" ry="7.6" class="B"/><ellipse cx="1778.7" cy="441.9" rx="12.8" ry="7.1" class="B"/><ellipse cx="1778.7" cy="459.9" rx="12.8" ry="7.1" class="P"/><ellipse cx="1776.6" cy="505.5" rx="10.7" ry="5.9" class="P"/><ellipse cx="1776.6" cy="523.5" rx="10.7" ry="5.9" class="B"/><ellipse cx="1781.1" cy="565.6" rx="7.7" ry="4.3" class="B"/><ellipse cx="1781.1" cy="583.6" rx="7.7" ry="4.3" class="P"/><ellipse cx="1845.8" cy="121.2" rx="7.4" ry="4.1" class="B"/><ellipse cx="1845.8" cy="139.2" rx="7.4" ry="4.1" class="P"/><ellipse cx="1844.9" cy="187.8" rx="10.3" ry="5.7" class="P"/><ellipse cx="1844.9" cy="205.7" rx="10.3" ry="5.7" class="B"/><ellipse cx="1845.9" cy="247.3" rx="12.3" ry="6.8" class="B"/><ellipse cx="1845.9" cy="265.3" rx="12.3" ry="6.8" class="P"/><ellipse cx="1846.5" cy="309.6" rx="13.3" ry="7.3" class="P"/><ellipse cx="1846.5" cy="327.6" rx="13.3" ry="7.3" class="B"/><ellipse cx="1846.7" cy="378.8" rx="13.3" ry="7.3" class="B"/><ellipse cx="1846.7" cy="396.8" rx="13.3" ry="7.3" class="P"/><ellipse cx="1846.7" cy="437.9" rx="12.3" ry="6.8" class="P"/><ellipse cx="1846.7" cy="455.9" rx="12.3" ry="6.8" class="B"/><ellipse cx="1844.9" cy="506" rx="10.3" ry="5.7" class="B"/><ellipse cx="1844.9" cy="523.9" rx="10.3" ry="5.7" class="P"/><ellipse cx="1846" cy="563.5" rx="7.4" ry="4.1" class="P"/><ellipse cx="1846" cy="581.4" rx="7.4" ry="4.1" class="B"/><ellipse cx="1904.6" cy="119.3" rx="6.6" ry="3.6" class="P"/><ellipse cx="1904.6" cy="137.2" rx="6.6" ry="3.6" class="B"/><ellipse cx="1905.1" cy="181.4" rx="9.2" ry="5.1" class="B"/><ellipse cx="1905.1" cy="199.4" rx="9.2" ry="5.1" class="P"/><ellipse cx="1905.6" cy="246.1" rx="10.9" ry="6" class="P"/><ellipse cx="1905.6" cy="264.1" rx="10.9" ry="6" class="B"/><ellipse cx="1907.9" cy="308.4" rx="11.8" ry="6.5" class="B"/><ellipse cx="1907.9" cy="326.3" rx="11.8" ry="6.5" class="P"/><ellipse cx="1907.9" cy="375.6" rx="11.8" ry="6.5" class="P"/><ellipse cx="1907.9" cy="393.6" rx="11.8" ry="6.5" class="B"/><ellipse cx="1908.6" cy="440.8" rx="10.9" ry="6" class="B"/><ellipse cx="1908.6" cy="458.8" rx="10.9" ry="6" class="P"/><ellipse cx="1908" cy="503.9" rx="9.2" ry="5.1" class="P"/><ellipse cx="1908" cy="521.9" rx="9.2" ry="5.1" class="B"/><ellipse cx="1911.3" cy="568" rx="6.6" ry="3.6" class="B"/><ellipse cx="1911.3" cy="585.9" rx="6.6" ry="3.6" class="P"/><ellipse cx="1972.9" cy="185.6" rx="7.2" ry="4" class="P"/><ellipse cx="1972.9" cy="203.6" rx="7.2" ry="4" class="B"/><ellipse cx="1969.7" cy="246.6" rx="8.6" ry="4.7" class="B"/><ellipse cx="1969.7" cy="264.6" rx="8.6" ry="4.7" class="P"/><ellipse cx="1974" cy="313.5" rx="9.3" ry="5.1" class="P"/><ellipse cx="1974" cy="331.5" rx="9.3" ry="5.1" class="B"/><ellipse cx="1970.1" cy="378.5" rx="9.3" ry="5.1" class="B"/><ellipse cx="1970.1" cy="396.4" rx="9.3" ry="5.1" class="P"/><ellipse cx="1975.2" cy="437" rx="8.6" ry="4.7" class="P"/><ellipse cx="1975.2" cy="454.9" rx="8.6" ry="4.7" class="B"/><ellipse cx="1971.7" cy="501.4" rx="7.2" ry="4" class="B"/><ellipse cx="1971.7" cy="519.4" rx="7.2" ry="4" class="P"/><ellipse cx="2037.6" cy="311.5" rx="5.7" ry="3.2" class="B"/><ellipse cx="2037.6" cy="329.5" rx="5.7" ry="3.2" class="P"/><ellipse cx="2038.5" cy="379" rx="5.7" ry="3.2" class="P"/><ellipse cx="2038.5" cy="397" rx="5.7" ry="3.2" class="B"/><circle cx="1525.7" cy="288.4" r="8.3" class="B"/><circle cx="1524.3" cy="356.4" r="8.6" class="P"/><circle cx="1528" cy="413.6" r="8.3" class="B"/><circle cx="1585.3" cy="161.7" r="9.4" class="P"/><circle cx="1587.3" cy="221.1" r="11.9" class="B"/><circle cx="1584.9" cy="286.3" r="13.4" class="P"/><circle cx="1585.3" cy="349.2" r="13.9" class="B"/><circle cx="1586.3" cy="419.4" r="13.4" class="P"/><circle cx="1589.3" cy="479" r="11.9" class="B"/><circle cx="1586.3" cy="547.5" r="9.4" class="P"/><circle cx="1649.7" cy="160.1" r="11.9" class="B"/><circle cx="1651.4" cy="226.8" r="15.1" class="P"/><circle cx="1652.3" cy="292.4" r="17.1" class="B"/><circle cx="1653.2" cy="354.8" r="17.7" class="P"/><circle cx="1652.2" cy="414.8" r="17.1" class="B"/><circle cx="1655.4" cy="484.3" r="15.1" class="P"/><circle cx="1653.7" cy="543" r="11.9" class="B"/><circle cx="1717.8" cy="96" r="8.3" class="B"/><circle cx="1718.9" cy="160.7" r="13.4" class="P"/><circle cx="1714.5" cy="228" r="17.1" class="B"/><circle cx="1712.6" cy="289.6" r="19.3" class="P"/><circle cx="1714.7" cy="355.1" r="20" class="B"/><circle cx="1712.1" cy="419.1" r="19.3" class="P"/><circle cx="1717.4" cy="479.7" r="17.1" class="B"/><circle cx="1717.9" cy="542.6" r="13.4" class="P"/><circle cx="1713.6" cy="609.1" r="8.3" class="B"/><circle cx="1781.4" cy="97.8" r="8.6" class="P"/><circle cx="1780.7" cy="161.2" r="13.9" class="B"/><circle cx="1776.1" cy="221.9" r="17.7" class="P"/><circle cx="1779.1" cy="287.1" r="20" class="B"/><circle cx="1782.9" cy="355.1" r="20.8" class="P"/><circle cx="1777.9" cy="417.7" r="20" class="B"/><circle cx="1777.6" cy="478.3" r="17.7" class="P"/><circle cx="1781.3" cy="544" r="13.9" class="B"/><circle cx="1779.7" cy="610.1" r="8.6" class="P"/><circle cx="1843.9" cy="96.6" r="8.3" class="B"/><circle cx="1841.6" cy="161.4" r="13.4" class="P"/><circle cx="1845.8" cy="227.1" r="17.1" class="B"/><circle cx="1842.1" cy="291.3" r="19.3" class="P"/><circle cx="1844.8" cy="355.9" r="20" class="B"/><circle cx="1842.2" cy="419.1" r="19.3" class="P"/><circle cx="1842.1" cy="480.8" r="17.1" class="B"/><circle cx="1841" cy="547.8" r="13.4" class="P"/><circle cx="1841.8" cy="605.7" r="8.3" class="B"/><circle cx="1905.1" cy="162.1" r="11.9" class="B"/><circle cx="1905" cy="224" r="15.1" class="P"/><circle cx="1909.2" cy="292.4" r="17.1" class="B"/><circle cx="1908.4" cy="352.9" r="17.7" class="P"/><circle cx="1908.3" cy="417.8" r="17.1" class="B"/><circle cx="1909.7" cy="482.1" r="15.1" class="P"/><circle cx="1907" cy="543" r="11.9" class="B"/><circle cx="1975.2" cy="160.4" r="9.4" class="P"/><circle cx="1973" cy="223.3" r="11.9" class="B"/><circle cx="1971.4" cy="286" r="13.4" class="P"/><circle cx="1968.4" cy="351.7" r="13.9" class="B"/><circle cx="1974.6" cy="413.8" r="13.4" class="P"/><circle cx="1969.3" cy="482.6" r="11.9" class="B"/><circle cx="1973" cy="540.9" r="9.4" class="P"/><circle cx="2032.5" cy="284.7" r="8.3" class="B"/><circle cx="2036.3" cy="349.8" r="8.6" class="P"/><circle cx="2035.3" cy="416.7" r="8.3" class="B"/><circle cx="1525.5" cy="288.3" r="8.3" class="P"/><circle cx="1524.2" cy="356.4" r="8.6" class="B"/><circle cx="1527.9" cy="413.7" r="8.3" class="P"/><circle cx="1585.2" cy="161.6" r="9.4" class="B"/><circle cx="1587.2" cy="221.1" r="11.9" class="P"/><circle cx="1584.7" cy="286.3" r="13.4" class="B"/><circle cx="1585.2" cy="349.2" r="14" class="P"/><circle cx="1586.2" cy="419.4" r="13.4" class="B"/><circle cx="1589.2" cy="479.1" r="11.9" class="P"/><circle cx="1586.2" cy="547.6" r="9.4" class="B"/><circle cx="1649.6" cy="160" r="11.9" class="P"/><circle cx="1651.4" cy="226.7" r="15.1" class="B"/><circle cx="1652.2" cy="292.4" r="17.1" class="P"/><circle cx="1653.1" cy="354.8" r="17.7" class="B"/><circle cx="1652.1" cy="414.8" r="17.1" class="P"/><circle cx="1655.4" cy="484.4" r="15.1" class="B"/><circle cx="1653.6" cy="543.1" r="11.9" class="P"/><circle cx="1717.8" cy="95.9" r="8.3" class="P"/><circle cx="1718.9" cy="160.6" r="13.4" class="B"/><circle cx="1714.5" cy="227.9" r="17.1" class="P"/><circle cx="1712.6" cy="289.5" r="19.3" class="B"/><circle cx="1714.7" cy="355.1" r="20" class="P"/><circle cx="1712.1" cy="419.1" r="19.3" class="B"/><circle cx="1717.4" cy="479.8" r="17.1" class="P"/><circle cx="1717.9" cy="542.7" r="13.4" class="B"/><circle cx="1713.6" cy="609.3" r="8.3" class="P"/><circle cx="1781.4" cy="97.6" r="8.6" class="B"/><circle cx="1780.7" cy="161.1" r="14" class="P"/><circle cx="1776.1" cy="221.8" r="17.7" class="B"/><circle cx="1779.1" cy="287" r="20" class="P"/><circle cx="1782.9" cy="355.1" r="20.8" class="B"/><circle cx="1777.9" cy="417.8" r="20" class="P"/><circle cx="1777.6" cy="478.4" r="17.7" class="B"/><circle cx="1781.3" cy="544.1" r="14" class="P"/><circle cx="1779.7" cy="610.3" r="8.6" class="B"/><circle cx="1843.9" cy="96.5" r="8.3" class="P"/><circle cx="1841.6" cy="161.3" r="13.4" class="B"/><circle cx="1845.9" cy="227.1" r="17.1" class="P"/><circle cx="1842.1" cy="291.2" r="19.3" class="B"/><circle cx="1844.8" cy="355.9" r="20" class="P"/><circle cx="1842.3" cy="419.1" r="19.3" class="B"/><circle cx="1842.1" cy="480.9" r="17.1" class="P"/><circle cx="1841" cy="547.9" r="13.4" class="B"/><circle cx="1841.8" cy="605.8" r="8.3" class="P"/><circle cx="1905.2" cy="162" r="11.9" class="P"/><circle cx="1905.1" cy="223.9" r="15.1" class="B"/><circle cx="1909.3" cy="292.3" r="17.1" class="P"/><circle cx="1908.5" cy="352.9" r="17.7" class="B"/><circle cx="1908.4" cy="417.8" r="17.1" class="P"/><circle cx="1909.8" cy="482.2" r="15.1" class="B"/><circle cx="1907.1" cy="543.1" r="11.9" class="P"/><circle cx="1975.3" cy="160.3" r="9.4" class="B"/><circle cx="1973.2" cy="223.2" r="11.9" class="P"/><circle cx="1971.5" cy="285.9" r="13.4" class="B"/><circle cx="1968.5" cy="351.7" r="14" class="P"/><circle cx="1974.7" cy="413.8" r="13.4" class="B"/><circle cx="1969.4" cy="482.7" r="11.9" class="P"/><circle cx="1973.2" cy="541" r="9.4" class="B"/><circle cx="2032.6" cy="284.6" r="8.3" class="P"/><circle cx="2036.5" cy="349.8" r="8.6" class="B"/><circle cx="2035.4" cy="416.7" r="8.3" class="P"/><circle cx="1527" cy="284.6" r="6.4" class="B"/><circle cx="1524.3" cy="350.3" r="6.6" class="P"/><circle cx="1525.4" cy="414.2" r="6.4" class="B"/><circle cx="1586.4" cy="160.3" r="7.2" class="P"/><circle cx="1589.9" cy="292" r="10.3" class="P"/><circle cx="1585.2" cy="352.8" r="10.7" class="B"/><circle cx="1587.3" cy="416.2" r="10.3" class="P"/><circle cx="1591.5" cy="484.5" r="9.2" class="B"/><circle cx="1584.7" cy="547.1" r="7.2" class="P"/><circle cx="1653.9" cy="161.7" r="9.2" class="B"/><circle cx="1655.7" cy="355.7" r="13.6" class="P"/><circle cx="1651.8" cy="484.5" r="11.6" class="P"/><circle cx="1717.6" cy="93.2" r="6.4" class="B"/><circle cx="1714" cy="353.4" r="15.4" class="B"/><circle cx="1719.7" cy="611.3" r="6.4" class="B"/><circle cx="1778" cy="96.5" r="6.6" class="P"/><circle cx="1783.3" cy="159.4" r="10.7" class="B"/><circle cx="1781.1" cy="228.4" r="13.6" class="P"/><circle cx="1779.1" cy="476.6" r="13.6" class="P"/><circle cx="1777.9" cy="605" r="6.6" class="P"/><circle cx="1844.4" cy="92.7" r="6.4" class="B"/><circle cx="1842.3" cy="158.2" r="10.3" class="P"/><circle cx="1842.7" cy="228.1" r="13.1" class="B"/><circle cx="1845.7" cy="291.5" r="14.8" class="P"/><circle cx="1845.5" cy="413.2" r="14.8" class="P"/><circle cx="1840.4" cy="479.2" r="13.1" class="B"/><circle cx="1843.5" cy="541.6" r="10.3" class="P"/><circle cx="1906.4" cy="162.5" r="9.2" class="B"/><circle cx="1905.4" cy="292" r="13.1" class="B"/><circle cx="1907.7" cy="351.2" r="13.6" class="P"/><circle cx="1910" cy="482.2" r="11.6" class="P"/><circle cx="1907.4" cy="547.6" r="9.2" class="B"/><circle cx="1969.2" cy="158.7" r="7.2" class="P"/><circle cx="1975.7" cy="226.2" r="9.2" class="B"/><circle cx="1974.4" cy="290.9" r="10.3" class="P"/><circle cx="1968.4" cy="477.4" r="9.2" class="B"/><circle cx="1971.5" cy="547.9" r="7.2" class="P"/><circle cx="2035.8" cy="291.6" r="6.4" class="B"/><circle cx="2036.3" cy="356.2" r="6.6" class="P"/><circle cx="2037.4" cy="412.6" r="6.4" class="B"/><ellipse cx="1546" cy="159.6" rx="3" ry="5.4" class="P"/><ellipse cx="1564" cy="159.6" rx="3" ry="5.4" class="B"/><ellipse cx="1545.6" cy="221.5" rx="3.8" ry="6.8" class="B"/><ellipse cx="1563.6" cy="221.5" rx="3.8" ry="6.8" class="P"/><ellipse cx="1545.9" cy="285" rx="4.3" ry="7.7" class="P"/><ellipse cx="1563.9" cy="285" rx="4.3" ry="7.7" class="B"/><ellipse cx="1549.4" cy="355.3" rx="4.4" ry="8" class="B"/><ellipse cx="1567.4" cy="355.3" rx="4.4" ry="8" class="P"/><ellipse cx="1546.4" cy="415.8" rx="4.3" ry="7.7" class="P"/><ellipse cx="1564.4" cy="415.8" rx="4.3" ry="7.7" class="B"/><ellipse cx="1545" cy="481.7" rx="3.8" ry="6.8" class="B"/><ellipse cx="1563" cy="481.7" rx="3.8" ry="6.8" class="P"/><ellipse cx="1549.7" cy="547.9" rx="3" ry="5.4" class="P"/><ellipse cx="1567.7" cy="547.9" rx="3" ry="5.4" class="B"/><ellipse cx="1614" cy="161.8" rx="4.1" ry="7.5" class="B"/><ellipse cx="1632" cy="161.8" rx="4.1" ry="7.5" class="P"/><ellipse cx="1614" cy="226.5" rx="5.3" ry="9.5" class="P"/><ellipse cx="1632" cy="226.5" rx="5.3" ry="9.5" class="B"/><ellipse cx="1609.2" cy="288.5" rx="5.9" ry="10.8" class="B"/><ellipse cx="1627.2" cy="288.5" rx="5.9" ry="10.8" class="P"/><ellipse cx="1612.1" cy="354.2" rx="6.2" ry="11.2" class="P"/><ellipse cx="1630.1" cy="354.2" rx="6.2" ry="11.2" class="B"/><ellipse cx="1610" cy="413.9" rx="5.9" ry="10.8" class="B"/><ellipse cx="1628" cy="413.9" rx="5.9" ry="10.8" class="P"/><ellipse cx="1610.4" cy="478.8" rx="5.3" ry="9.5" class="P"/><ellipse cx="1628.4" cy="478.8" rx="5.3" ry="9.5" class="B"/><ellipse cx="1611.8" cy="542.3" rx="4.1" ry="7.5" class="B"/><ellipse cx="1629.8" cy="542.3" rx="4.1" ry="7.5" class="P"/><ellipse cx="1674.3" cy="93.5" rx="3" ry="5.5" class="B"/><ellipse cx="1692.3" cy="93.5" rx="3" ry="5.5" class="P"/><ellipse cx="1679" cy="162.5" rx="4.9" ry="8.9" class="P"/><ellipse cx="1697" cy="162.5" rx="4.9" ry="8.9" class="B"/><ellipse cx="1672.9" cy="227.3" rx="6.3" ry="11.3" class="B"/><ellipse cx="1690.9" cy="227.3" rx="6.3" ry="11.3" class="P"/><ellipse cx="1672.7" cy="288.8" rx="7.1" ry="12.8" class="P"/><ellipse cx="1690.7" cy="288.8" rx="7.1" ry="12.8" class="B"/><ellipse cx="1676.4" cy="349.8" rx="7.3" ry="13.3" class="B"/><ellipse cx="1694.4" cy="349.8" rx="7.3" ry="13.3" class="P"/><ellipse cx="1676.3" cy="419.4" rx="7.1" ry="12.8" class="P"/><ellipse cx="1694.3" cy="419.4" rx="7.1" ry="12.8" class="B"/><ellipse cx="1675.4" cy="477.1" rx="6.3" ry="11.3" class="B"/><ellipse cx="1693.4" cy="477.1" rx="6.3" ry="11.3" class="P"/><ellipse cx="1674.6" cy="547.8" rx="4.9" ry="8.9" class="P"/><ellipse cx="1692.6" cy="547.8" rx="4.9" ry="8.9" class="B"/><ellipse cx="1671.5" cy="610.1" rx="3" ry="5.5" class="B"/><ellipse cx="1689.5" cy="610.1" rx="3" ry="5.5" class="P"/><ellipse cx="1738.4" cy="93.1" rx="3.3" ry="6" class="P"/><ellipse cx="1756.4" cy="93.1" rx="3.3" ry="6" class="B"/><ellipse cx="1735.8" cy="162.2" rx="5.3" ry="9.6" class="B"/><ellipse cx="1753.8" cy="162.2" rx="5.3" ry="9.6" class="P"/><ellipse cx="1736.9" cy="221.5" rx="6.8" ry="12.3" class="P"/><ellipse cx="1754.9" cy="221.5" rx="6.8" ry="12.3" class="B"/><ellipse cx="1738.5" cy="289.7" rx="7.6" ry="13.8" class="B"/><ellipse cx="1756.5" cy="289.7" rx="7.6" ry="13.8" class="P"/><ellipse cx="1737.1" cy="349.7" rx="7.9" ry="14.4" class="P"/><ellipse cx="1755.1" cy="349.7" rx="7.9" ry="14.4" class="B"/><ellipse cx="1740.3" cy="414.7" rx="7.6" ry="13.8" class="B"/><ellipse cx="1758.3" cy="414.7" rx="7.6" ry="13.8" class="P"/><ellipse cx="1736.7" cy="477.7" rx="6.8" ry="12.3" class="P"/><ellipse cx="1754.7" cy="477.7" rx="6.8" ry="12.3" class="B"/><ellipse cx="1737.6" cy="544.6" rx="5.3" ry="9.6" class="B"/><ellipse cx="1755.6" cy="544.6" rx="5.3" ry="9.6" class="P"/><ellipse cx="1736.6" cy="605.6" rx="3.3" ry="6" class="P"/><ellipse cx="1754.6" cy="605.6" rx="3.3" ry="6" class="B"/><ellipse cx="1805.4" cy="96.2" rx="3.3" ry="6" class="B"/><ellipse cx="1823.4" cy="96.2" rx="3.3" ry="6" class="P"/><ellipse cx="1800.5" cy="162.1" rx="5.3" ry="9.6" class="P"/><ellipse cx="1818.5" cy="162.1" rx="5.3" ry="9.6" class="B"/><ellipse cx="1805.8" cy="227.7" rx="6.8" ry="12.3" class="B"/><ellipse cx="1823.8" cy="227.7" rx="6.8" ry="12.3" class="P"/><ellipse cx="1799.3" cy="286.8" rx="7.6" ry="13.8" class="P"/><ellipse cx="1817.3" cy="286.8" rx="7.6" ry="13.8" class="B"/><ellipse cx="1799.1" cy="354.4" rx="7.9" ry="14.4" class="B"/><ellipse cx="1817.1" cy="354.4" rx="7.9" ry="14.4" class="P"/><ellipse cx="1801.7" cy="420.4" rx="7.6" ry="13.8" class="P"/><ellipse cx="1819.7" cy="420.4" rx="7.6" ry="13.8" class="B"/><ellipse cx="1799.5" cy="480.7" rx="6.8" ry="12.3" class="B"/><ellipse cx="1817.5" cy="480.7" rx="6.8" ry="12.3" class="P"/><ellipse cx="1806.3" cy="543.1" rx="5.3" ry="9.6" class="P"/><ellipse cx="1824.3" cy="543.1" rx="5.3" ry="9.6" class="B"/><ellipse cx="1801.2" cy="607.7" rx="3.3" ry="6" class="B"/><ellipse cx="1819.2" cy="607.7" rx="3.3" ry="6" class="P"/><ellipse cx="1864.3" cy="95.3" rx="3" ry="5.5" class="P"/><ellipse cx="1882.3" cy="95.3" rx="3" ry="5.5" class="B"/><ellipse cx="1864.7" cy="158.2" rx="4.9" ry="8.9" class="B"/><ellipse cx="1882.7" cy="158.2" rx="4.9" ry="8.9" class="P"/><ellipse cx="1868.2" cy="223.2" rx="6.3" ry="11.3" class="P"/><ellipse cx="1886.2" cy="223.2" rx="6.3" ry="11.3" class="B"/><ellipse cx="1868.6" cy="291.3" rx="7.1" ry="12.8" class="B"/><ellipse cx="1886.6" cy="291.3" rx="7.1" ry="12.8" class="P"/><ellipse cx="1869.2" cy="354" rx="7.3" ry="13.3" class="P"/><ellipse cx="1887.2" cy="354" rx="7.3" ry="13.3" class="B"/><ellipse cx="1868.2" cy="414" rx="7.1" ry="12.8" class="B"/><ellipse cx="1886.2" cy="414" rx="7.1" ry="12.8" class="P"/><ellipse cx="1865" cy="481.7" rx="6.3" ry="11.3" class="P"/><ellipse cx="1883" cy="481.7" rx="6.3" ry="11.3" class="B"/><ellipse cx="1869.2" cy="548.4" rx="4.9" ry="8.9" class="B"/><ellipse cx="1887.2" cy="548.4" rx="4.9" ry="8.9" class="P"/><ellipse cx="1867.3" cy="611.3" rx="3" ry="5.5" class="P"/><ellipse cx="1885.3" cy="611.3" rx="3" ry="5.5" class="B"/><ellipse cx="1933.1" cy="159.7" rx="4.1" ry="7.5" class="P"/><ellipse cx="1951.1" cy="159.7" rx="4.1" ry="7.5" class="B"/><ellipse cx="1928.8" cy="222.1" rx="5.3" ry="9.5" class="B"/><ellipse cx="1946.8" cy="222.1" rx="5.3" ry="9.5" class="P"/><ellipse cx="1932.4" cy="288.4" rx="5.9" ry="10.8" class="P"/><ellipse cx="1950.4" cy="288.4" rx="5.9" ry="10.8" class="B"/><ellipse cx="1932.5" cy="355.8" rx="6.2" ry="11.2" class="B"/><ellipse cx="1950.5" cy="355.8" rx="6.2" ry="11.2" class="P"/><ellipse cx="1933.5" cy="414.7" rx="5.9" ry="10.8" class="P"/><ellipse cx="1951.5" cy="414.7" rx="5.9" ry="10.8" class="B"/><ellipse cx="1927.5" cy="482.7" rx="5.3" ry="9.5" class="B"/><ellipse cx="1945.5" cy="482.7" rx="5.3" ry="9.5" class="P"/><ellipse cx="1928.6" cy="541.6" rx="4.1" ry="7.5" class="P"/><ellipse cx="1946.6" cy="541.6" rx="4.1" ry="7.5" class="B"/><ellipse cx="1995.7" cy="157.1" rx="3" ry="5.4" class="B"/><ellipse cx="2013.7" cy="157.1" rx="3" ry="5.4" class="P"/><ellipse cx="1995.5" cy="224.1" rx="3.8" ry="6.8" class="P"/><ellipse cx="2013.5" cy="224.1" rx="3.8" ry="6.8" class="B"/><ellipse cx="1991.2" cy="287.5" rx="4.3" ry="7.7" class="B"/><ellipse cx="2009.2" cy="287.5" rx="4.3" ry="7.7" class="P"/><ellipse cx="1995.4" cy="355.6" rx="4.4" ry="8" class="P"/><ellipse cx="2013.4" cy="355.6" rx="4.4" ry="8" class="B"/><ellipse cx="1996" cy="420.2" rx="4.3" ry="7.7" class="B"/><ellipse cx="2014" cy="420.2" rx="4.3" ry="7.7" class="P"/><ellipse cx="1996" cy="476.7" rx="3.8" ry="6.8" class="P"/><ellipse cx="2014" cy="476.7" rx="3.8" ry="6.8" class="B"/><ellipse cx="1994.3" cy="545.6" rx="3" ry="5.4" class="B"/><ellipse cx="2012.3" cy="545.6" rx="3" ry="5.4" class="P"/><ellipse cx="1527.2" cy="245.6" rx="5.5" ry="3" class="B"/><ellipse cx="1527.2" cy="263.6" rx="5.5" ry="3" class="P"/><ellipse cx="1522.8" cy="308.4" rx="6" ry="3.3" class="P"/><ellipse cx="1522.8" cy="326.4" rx="6" ry="3.3" class="B"/><ellipse cx="1520.7" cy="374.3" rx="6" ry="3.3" class="B"/><ellipse cx="1520.7" cy="392.3" rx="6" ry="3.3" class="P"/><ellipse cx="1526" cy="440.7" rx="5.5" ry="3" class="P"/><ellipse cx="1526" cy="458.7" rx="5.5" ry="3" class="B"/><ellipse cx="1585.9" cy="118.3" rx="5.4" ry="3" class="P"/><ellipse cx="1585.9" cy="136.3" rx="5.4" ry="3" class="B"/><ellipse cx="1587.5" cy="183.3" rx="7.5" ry="4.1" class="B"/><ellipse cx="1587.5" cy="201.3" rx="7.5" ry="4.1" class="P"/><ellipse cx="1585.9" cy="250.1" rx="8.9" ry="4.9" class="P"/><ellipse cx="1585.9" cy="268.1" rx="8.9" ry="4.9" class="B"/><ellipse cx="1589.2" cy="315.2" rx="9.6" ry="5.3" class="B"/><ellipse cx="1589.2" cy="333.2" rx="9.6" ry="5.3" class="P"/><ellipse cx="1590" cy="376.6" rx="9.6" ry="5.3" class="P"/><ellipse cx="1590" cy="394.6" rx="9.6" ry="5.3" class="B"/><ellipse cx="1588.6" cy="437.9" rx="8.9" ry="4.9" class="B"/><ellipse cx="1588.6" cy="455.9" rx="8.9" ry="4.9" class="P"/><ellipse cx="1585.1" cy="505.1" rx="7.5" ry="4.1" class="P"/><ellipse cx="1585.1" cy="523.1" rx="7.5" ry="4.1" class="B"/><ellipse cx="1588.6" cy="565.4" rx="5.4" ry="3" class="B"/><ellipse cx="1588.6" cy="583.4" rx="5.4" ry="3" class="P"/><ellipse cx="1648" cy="117.8" rx="6.8" ry="3.8" class="B"/><ellipse cx="1648" cy="135.8" rx="6.8" ry="3.8" class="P"/><ellipse cx="1655.4" cy="185" rx="9.5" ry="5.3" class="P"/><ellipse cx="1655.4" cy="203" rx="9.5" ry="5.3" class="B"/><ellipse cx="1648.1" cy="244.5" rx="11.3" ry="6.3" class="B"/><ellipse cx="1648.1" cy="262.5" rx="11.3" ry="6.3" class="P"/><ellipse cx="1648.3" cy="311.3" rx="12.3" ry="6.8" class="P"/><ellipse cx="1648.3" cy="329.3" rx="12.3" ry="6.8" class="B"/><ellipse cx="1653" cy="377.2" rx="12.3" ry="6.8" class="B"/><ellipse cx="1653" cy="395.2" rx="12.3" ry="6.8" class="P"/><ellipse cx="1649.3" cy="440.5" rx="11.3" ry="6.3" class="P"/><ellipse cx="1649.3" cy="458.5" rx="11.3" ry="6.3" class="B"/><ellipse cx="1649.2" cy="506.8" rx="9.5" ry="5.3" class="B"/><ellipse cx="1649.2" cy="524.8" rx="9.5" ry="5.3" class="P"/><ellipse cx="1654.9" cy="570.1" rx="6.8" ry="3.8" class="P"/><ellipse cx="1654.9" cy="588.1" rx="6.8" ry="3.8" class="B"/><ellipse cx="1719.2" cy="117.1" rx="7.7" ry="4.3" class="P"/><ellipse cx="1719.2" cy="135.1" rx="7.7" ry="4.3" class="B"/><ellipse cx="1718.5" cy="182.7" rx="10.8" ry="5.9" class="B"/><ellipse cx="1718.5" cy="200.7" rx="10.8" ry="5.9" class="P"/><ellipse cx="1719" cy="250.9" rx="12.8" ry="7.1" class="P"/><ellipse cx="1719" cy="268.9" rx="12.8" ry="7.1" class="B"/><ellipse cx="1717.1" cy="315" rx="13.8" ry="7.6" class="B"/><ellipse cx="1717.1" cy="333" rx="13.8" ry="7.6" class="P"/><ellipse cx="1717.5" cy="374" rx="13.8" ry="7.6" class="P"/><ellipse cx="1717.5" cy="392" rx="13.8" ry="7.6" class="B"/><ellipse cx="1719.1" cy="441.3" rx="12.8" ry="7.1" class="B"/><ellipse cx="1719.1" cy="459.3" rx="12.8" ry="7.1" class="P"/><ellipse cx="1717.9" cy="499.6" rx="10.8" ry="5.9" class="P"/><ellipse cx="1717.9" cy="517.6" rx="10.8" ry="5.9" class="B"/><ellipse cx="1712.6" cy="566.9" rx="7.7" ry="4.3" class="B"/><ellipse cx="1712.6" cy="584.9" rx="7.7" ry="4.3" class="P"/><ellipse cx="1778.7" cy="118.1" rx="8" ry="4.4" class="B"/><ellipse cx="1778.7" cy="136.1" rx="8" ry="4.4" class="P"/><ellipse cx="1777.1" cy="180.2" rx="11.2" ry="6.2" class="P"/><ellipse cx="1777.1" cy="198.2" rx="11.2" ry="6.2" class="B"/><ellipse cx="1778.6" cy="244.1" rx="13.3" ry="7.3" class="B"/><ellipse cx="1778.6" cy="262.1" rx="13.3" ry="7.3" class="P"/><ellipse cx="1782.6" cy="312.8" rx="14.4" ry="7.9" class="P"/><ellipse cx="1782.6" cy="330.8" rx="14.4" ry="7.9" class="B"/><ellipse cx="1783.6" cy="377.1" rx="14.4" ry="7.9" class="B"/><ellipse cx="1783.6" cy="395.1" rx="14.4" ry="7.9" class="P"/><ellipse cx="1780" cy="437.1" rx="13.3" ry="7.3" class="P"/><ellipse cx="1780" cy="455.1" rx="13.3" ry="7.3" class="B"/><ellipse cx="1782.1" cy="500.6" rx="11.2" ry="6.2" class="B"/><ellipse cx="1782.1" cy="518.6" rx="11.2" ry="6.2" class="P"/><ellipse cx="1778.9" cy="567.2" rx="8" ry="4.4" class="P"/><ellipse cx="1778.9" cy="585.2" rx="8" ry="4.4" class="B"/><ellipse cx="1842.6" cy="116.2" rx="7.7" ry="4.3" class="P"/><ellipse cx="1842.6" cy="134.2" rx="7.7" ry="4.3" class="B"/><ellipse cx="1840.5" cy="184.2" rx="10.8" ry="5.9" class="B"/><ellipse cx="1840.5" cy="202.2" rx="10.8" ry="5.9" class="P"/><ellipse cx="1844.5" cy="246.8" rx="12.8" ry="7.1" class="P"/><ellipse cx="1844.5" cy="264.8" rx="12.8" ry="7.1" class="B"/><ellipse cx="1845" cy="310.8" rx="13.8" ry="7.6" class="B"/><ellipse cx="1845" cy="328.8" rx="13.8" ry="7.6" class="P"/><ellipse cx="1847" cy="372.7" rx="13.8" ry="7.6" class="P"/><ellipse cx="1847" cy="390.7" rx="13.8" ry="7.6" class="B"/><ellipse cx="1844.1" cy="442.9" rx="12.8" ry="7.1" class="B"/><ellipse cx="1844.1" cy="460.9" rx="12.8" ry="7.1" class="P"/><ellipse cx="1844.2" cy="504.8" rx="10.8" ry="5.9" class="P"/><ellipse cx="1844.2" cy="522.8" rx="10.8" ry="5.9" class="B"/><ellipse cx="1841.6" cy="566" rx="7.7" ry="4.3" class="B"/><ellipse cx="1841.6" cy="584" rx="7.7" ry="4.3" class="P"/><ellipse cx="1909" cy="120.3" rx="6.8" ry="3.8" class="B"/><ellipse cx="1909" cy="138.3" rx="6.8" ry="3.8" class="P"/><ellipse cx="1907.1" cy="182.9" rx="9.5" ry="5.3" class="P"/><ellipse cx="1907.1" cy="200.9" rx="9.5" ry="5.3" class="B"/><ellipse cx="1908.9" cy="250.7" rx="11.3" ry="6.3" class="B"/><ellipse cx="1908.9" cy="268.7" rx="11.3" ry="6.3" class="P"/><ellipse cx="1909.1" cy="308.1" rx="12.3" ry="6.8" class="P"/><ellipse cx="1909.1" cy="326.1" rx="12.3" ry="6.8" class="B"/><ellipse cx="1905.6" cy="374.7" rx="12.3" ry="6.8" class="B"/><ellipse cx="1905.6" cy="392.7" rx="12.3" ry="6.8" class="P"/><ellipse cx="1909.3" cy="440.2" rx="11.3" ry="6.3" class="P"/><ellipse cx="1909.3" cy="458.2" rx="11.3" ry="6.3" class="B"/><ellipse cx="1912" cy="503.4" rx="9.5" ry="5.3" class="B"/><ellipse cx="1912" cy="521.4" rx="9.5" ry="5.3" class="P"/><ellipse cx="1906.8" cy="568.8" rx="6.8" ry="3.8" class="P"/><ellipse cx="1906.8" cy="586.8" rx="6.8" ry="3.8" class="B"/><ellipse cx="1975.2" cy="120" rx="5.4" ry="3" class="P"/><ellipse cx="1975.2" cy="138" rx="5.4" ry="3" class="B"/><ellipse cx="1970.3" cy="184" rx="7.5" ry="4.1" class="B"/><ellipse cx="1970.3" cy="202" rx="7.5" ry="4.1" class="P"/><ellipse cx="1968.2" cy="250.1" rx="8.9" ry="4.9" class="P"/><ellipse cx="1968.2" cy="268.1" rx="8.9" ry="4.9" class="B"/><ellipse cx="1971.2" cy="309" rx="9.6" ry="5.3" class="B"/><ellipse cx="1971.2" cy="327" rx="9.6" ry="5.3" class="P"/><ellipse cx="1975" cy="376.3" rx="9.6" ry="5.3" class="P"/><ellipse cx="1975" cy="394.3" rx="9.6" ry="5.3" class="B"/><ellipse cx="1972.1" cy="440" rx="8.9" ry="4.9" class="B"/><ellipse cx="1972.1" cy="458" rx="8.9" ry="4.9" class="P"/><ellipse cx="1974.1" cy="507.3" rx="7.5" ry="4.1" class="P"/><ellipse cx="1974.1" cy="525.3" rx="7.5" ry="4.1" class="B"/><ellipse cx="1973.6" cy="563.5" rx="5.4" ry="3" class="B"/><ellipse cx="1973.6" cy="581.5" rx="5.4" ry="3" class="P"/><ellipse cx="2033" cy="247.2" rx="5.5" ry="3" class="B"/><ellipse cx="2033" cy="265.2" rx="5.5" ry="3" class="P"/><ellipse cx="2037.8" cy="314.3" rx="6" ry="3.3" class="P"/><ellipse cx="2037.8" cy="332.3" rx="6" ry="3.3" class="B"/><ellipse cx="2033.2" cy="372.9" rx="6" ry="3.3" class="B"/><ellipse cx="2033.2" cy="390.9" rx="6" ry="3.3" class="P"/><ellipse cx="2034.2" cy="435.7" rx="5.5" ry="3" class="P"/><ellipse cx="2034.2" cy="453.7" rx="5.5" ry="3" class="B"/><circle cx="1523.7" cy="291.4" r="8.3" class="P"/><circle cx="1521.7" cy="349.2" r="8.6" class="B"/><circle cx="1521.5" cy="419.6" r="8.3" class="P"/><circle cx="1589.5" cy="157.9" r="9.4" class="B"/><circle cx="1589.7" cy="227.5" r="11.9" class="P"/><circle cx="1587" cy="288.4" r="13.5" class="B"/><circle cx="1590.2" cy="355.4" r="14" class="P"/><circle cx="1590.5" cy="415.5" r="13.5" class="B"/><circle cx="1584.3" cy="477.7" r="11.9" class="P"/><circle cx="1584.1" cy="544.2" r="9.4" class="B"/><circle cx="1651.1" cy="160.6" r="11.9" class="P"/><circle cx="1650.5" cy="226.8" r="15.2" class="B"/><circle cx="1653.6" cy="288.4" r="17.1" class="P"/><circle cx="1649.7" cy="351.9" r="17.8" class="B"/><circle cx="1655" cy="416.2" r="17.1" class="P"/><circle cx="1648.2" cy="479.8" r="15.2" class="B"/><circle cx="1654.8" cy="542.8" r="11.9" class="P"/><circle cx="1712.9" cy="97.2" r="8.3" class="P"/><circle cx="1716.8" cy="156.9" r="13.5" class="B"/><circle cx="1717.6" cy="222.5" r="17.1" class="P"/><circle cx="1714.9" cy="286.9" r="19.3" class="B"/><circle cx="1717.5" cy="349.4" r="20.1" class="P"/><circle cx="1713.8" cy="418.4" r="19.3" class="B"/><circle cx="1715.7" cy="482" r="17.1" class="P"/><circle cx="1715.6" cy="540.9" r="13.5" class="B"/><circle cx="1713.9" cy="608.7" r="8.3" class="P"/><circle cx="1778.4" cy="99" r="8.6" class="B"/><circle cx="1777.8" cy="160" r="14" class="P"/><circle cx="1783.6" cy="223.4" r="17.8" class="B"/><circle cx="1779.1" cy="286.8" r="20.1" class="P"/><circle cx="1777.6" cy="349.1" r="20.8" class="B"/><circle cx="1777.9" cy="418.5" r="20.1" class="P"/><circle cx="1778.7" cy="483.5" r="17.8" class="B"/><circle cx="1782.5" cy="542.5" r="14" class="P"/><circle cx="1783.9" cy="610.7" r="8.6" class="B"/><circle cx="1840.3" cy="93.5" r="8.3" class="P"/><circle cx="1846.5" cy="162.2" r="13.5" class="B"/><circle cx="1846.9" cy="223.6" r="17.1" class="P"/><circle cx="1846" cy="285.5" r="19.3" class="B"/><circle cx="1840.9" cy="350.5" r="20.1" class="P"/><circle cx="1846.2" cy="420.5" r="19.3" class="B"/><circle cx="1843.7" cy="477.7" r="17.1" class="P"/><circle cx="1847.7" cy="543.5" r="13.5" class="B"/><circle cx="1845.3" cy="607.6" r="8.3" class="P"/><circle cx="1909.8" cy="160.9" r="11.9" class="P"/><circle cx="1908.1" cy="223.6" r="15.2" class="B"/><circle cx="1905" cy="287.3" r="17.1" class="P"/><circle cx="1911.6" cy="353.8" r="17.8" class="B"/><circle cx="1911" cy="419" r="17.1" class="P"/><circle cx="1905" cy="476.8" r="15.2" class="B"/><circle cx="1905.7" cy="544.8" r="11.9" class="P"/><circle cx="1968.7" cy="163.8" r="9.4" class="B"/><circle cx="1968.3" cy="224.4" r="11.9" class="P"/><circle cx="1968.2" cy="292.4" r="13.5" class="B"/><circle cx="1972.2" cy="350.7" r="14" class="P"/><circle cx="1972.2" cy="415.4" r="13.5" class="B"/><circle cx="1972.3" cy="480.8" r="11.9" class="P"/><circle cx="1973.8" cy="545.1" r="9.4" class="B"/><circle cx="2038.6" cy="284.7" r="8.3" class="P"/><circle cx="2034.6" cy="355.4" r="8.6" class="B"/><circle cx="2034.6" cy="414.9" r="8.3" class="P"/><circle cx="1523.5" cy="291.4" r="8.3" class="B"/><circle cx="1521.6" cy="349.2" r="8.6" class="P"/><circle cx="1521.4" cy="419.7" r="8.3" class="B"/><circle cx="1589.3" cy="157.8" r="9.4" class="P"/><circle cx="1589.6" cy="227.5" r="11.9" class="B"/><circle cx="1586.9" cy="288.3" r="13.5" class="P"/><circle cx="1590.1" cy="355.4" r="14" class="B"/><circle cx="1590.4" cy="415.6" r="13.5" class="P"/><circle cx="1584.2" cy="477.8" r="11.9" class="B"/><circle cx="1584" cy="544.3" r="9.4" class="P"/><circle cx="1651" cy="160.5" r="11.9" class="B"/><circle cx="1650.5" cy="226.7" r="15.2" class="P"/><circle cx="1653.5" cy="288.4" r="17.1" class="B"/><circle cx="1649.6" cy="351.9" r="17.8" class="P"/><circle cx="1654.9" cy="416.2" r="17.1" class="B"/><circle cx="1648.1" cy="479.9" r="15.2" class="P"/><circle cx="1654.7" cy="542.9" r="11.9" class="B"/><circle cx="1712.8" cy="97" r="8.3" class="B"/><circle cx="1716.7" cy="156.8" r="13.5" class="P"/><circle cx="1717.6" cy="222.4" r="17.1" class="B"/><circle cx="1714.8" cy="286.8" r="19.3" class="P"/><circle cx="1717.4" cy="349.4" r="20.1" class="B"/><circle cx="1713.8" cy="418.4" r="19.3" class="P"/><circle cx="1715.6" cy="482.1" r="17.1" class="B"/><circle cx="1715.5" cy="541" r="13.5" class="P"/><circle cx="1713.8" cy="608.9" r="8.3" class="B"/><circle cx="1778.4" cy="98.8" r="8.6" class="P"/><circle cx="1777.8" cy="159.9" r="14" class="B"/><circle cx="1783.6" cy="223.3" r="17.8" class="P"/><circle cx="1779.1" cy="286.8" r="20.1" class="B"/><circle cx="1777.6" cy="349.1" r="20.8" class="P"/><circle cx="1777.9" cy="418.6" r="20.1" class="B"/><circle cx="1778.7" cy="483.6" r="17.8" class="P"/><circle cx="1782.5" cy="542.6" r="14" class="B"/><circle cx="1783.9" cy="610.8" r="8.6" class="P"/><circle cx="1840.3" cy="93.3" r="8.3" class="B"/><circle cx="1846.6" cy="162.1" r="13.5" class="P"/><circle cx="1847" cy="223.5" r="17.1" class="B"/><circle cx="1846" cy="285.4" r="19.3" class="P"/><circle cx="1841" cy="350.5" r="20.1" class="B"/><circle cx="1846.2" cy="420.6" r="19.3" class="P"/><circle cx="1843.7" cy="477.8" r="17.1" class="B"/><circle cx="1847.8" cy="543.6" r="13.5" class="P"/><circle cx="1845.3" cy="607.7" r="8.3" class="B"/><circle cx="1909.9" cy="160.8" r="11.9" class="B"/><circle cx="1908.2" cy="223.5" r="15.2" class="P"/><circle cx="1905.1" cy="287.2" r="17.1" class="B"/><circle cx="1911.7" cy="353.8" r="17.8" class="P"/><circle cx="1911" cy="419.1" r="17.1" class="B"/><circle cx="1905.1" cy="476.9" r="15.2" class="P"/><circle cx="1905.8" cy="544.9" r="11.9" class="B"/><circle cx="1968.8" cy="163.7" r="9.4" class="P"/><circle cx="1968.4" cy="224.3" r="11.9" class="B"/><circle cx="1968.3" cy="292.3" r="13.5" class="P"/><circle cx="1972.3" cy="350.7" r="14" class="B"/><circle cx="1972.3" cy="415.4" r="13.5" class="P"/><circle cx="1972.4" cy="480.9" r="11.9" class="B"/><circle cx="1973.9" cy="545.2" r="9.4" class="P"/><circle cx="2038.7" cy="284.7" r="8.3" class="B"/><circle cx="2034.7" cy="355.4" r="8.6" class="P"/><circle cx="2034.7" cy="414.9" r="8.3" class="B"/><circle cx="1523.6" cy="290.6" r="6.2" class="P"/><circle cx="1523.6" cy="351" r="6.4" class="B"/><circle cx="1523.8" cy="412.7" r="6.2" class="P"/><circle cx="1589.6" cy="220.7" r="8.8" class="P"/><circle cx="1585.9" cy="288.1" r="10" class="B"/><circle cx="1588.7" cy="414.3" r="10" class="B"/><circle cx="1587.1" cy="481.2" r="8.8" class="P"/><circle cx="1585.5" cy="544.1" r="7" class="B"/><circle cx="1651" cy="226.3" r="11.2" class="B"/><circle cx="1651.2" cy="292" r="12.7" class="P"/><circle cx="1655.6" cy="352.1" r="13.2" class="B"/><circle cx="1652.3" cy="413.4" r="12.7" class="P"/><circle cx="1655.4" cy="481.5" r="11.2" class="B"/><circle cx="1650.9" cy="541.5" r="8.8" class="P"/><circle cx="1717.3" cy="92.7" r="6.2" class="P"/><circle cx="1714.5" cy="157" r="10" class="B"/><circle cx="1713.8" cy="292.1" r="14.3" class="B"/><circle cx="1719.4" cy="356.2" r="14.9" class="P"/><circle cx="1713" cy="415.7" r="14.3" class="B"/><circle cx="1714.4" cy="481" r="12.7" class="P"/><circle cx="1712.6" cy="544.8" r="10" class="B"/><circle cx="1718.1" cy="610.2" r="6.2" class="P"/><circle cx="1780.4" cy="95.4" r="6.4" class="B"/><circle cx="1778.8" cy="160.5" r="10.4" class="P"/><circle cx="1779.9" cy="224.1" r="13.2" class="B"/><circle cx="1776.3" cy="548.3" r="10.4" class="P"/><circle cx="1778.8" cy="607.6" r="6.4" class="B"/><circle cx="1842.2" cy="92" r="6.2" class="P"/><circle cx="1844.8" cy="163.4" r="10" class="B"/><circle cx="1847.5" cy="227.3" r="12.7" class="P"/><circle cx="1847.5" cy="284.8" r="14.3" class="B"/><circle cx="1841.5" cy="355.2" r="14.9" class="P"/><circle cx="1842.2" cy="479.3" r="12.7" class="P"/><circle cx="1843.8" cy="543.7" r="10" class="B"/><circle cx="1848.1" cy="607.4" r="6.2" class="P"/><circle cx="1907.4" cy="158.5" r="8.8" class="P"/><circle cx="1905.9" cy="226.9" r="11.2" class="B"/><circle cx="1905.7" cy="285.5" r="12.7" class="P"/><circle cx="1906.8" cy="355.1" r="13.2" class="B"/><circle cx="1906.9" cy="412.8" r="12.7" class="P"/><circle cx="1906.6" cy="477.9" r="11.2" class="B"/><circle cx="1912.2" cy="541" r="8.8" class="P"/><circle cx="1970.1" cy="159.2" r="7" class="B"/><circle cx="1976" cy="292.4" r="10" class="B"/><circle cx="1974.5" cy="353.8" r="10.4" class="P"/><circle cx="1972.5" cy="483.1" r="8.8" class="P"/><circle cx="1973.2" cy="541.9" r="7" class="B"/><circle cx="2037.1" cy="288.9" r="6.2" class="P"/><circle cx="2036" cy="353.5" r="6.4" class="B"/><circle cx="2032.9" cy="419.8" r="6.2" class="P"/><ellipse cx="1548.5" cy="225" rx="3.6" ry="6.6" class="P"/><ellipse cx="1566.5" cy="225" rx="3.6" ry="6.6" class="B"/><ellipse cx="1549.5" cy="289.8" rx="4.1" ry="7.5" class="B"/><ellipse cx="1567.5" cy="289.8" rx="4.1" ry="7.5" class="P"/><ellipse cx="1543.3" cy="353.4" rx="4.3" ry="7.7" class="P"/><ellipse cx="1561.3" cy="353.4" rx="4.3" ry="7.7" class="B"/><ellipse cx="1549.1" cy="416.2" rx="4.1" ry="7.5" class="B"/><ellipse cx="1567.2" cy="416.2" rx="4.1" ry="7.5" class="P"/><ellipse cx="1549.8" cy="483.8" rx="3.6" ry="6.6" class="P"/><ellipse cx="1567.8" cy="483.8" rx="3.6" ry="6.6" class="B"/><ellipse cx="1610.9" cy="163.6" rx="4" ry="7.2" class="P"/><ellipse cx="1629" cy="163.6" rx="4" ry="7.2" class="B"/><ellipse cx="1611.1" cy="224.5" rx="5.1" ry="9.2" class="B"/><ellipse cx="1629.2" cy="224.5" rx="5.1" ry="9.2" class="P"/><ellipse cx="1611.9" cy="284.4" rx="5.7" ry="10.4" class="P"/><ellipse cx="1630" cy="284.4" rx="5.7" ry="10.4" class="B"/><ellipse cx="1606.8" cy="355.7" rx="6" ry="10.8" class="B"/><ellipse cx="1624.9" cy="355.7" rx="6" ry="10.8" class="P"/><ellipse cx="1614.4" cy="419.3" rx="5.7" ry="10.4" class="P"/><ellipse cx="1632.4" cy="419.3" rx="5.7" ry="10.4" class="B"/><ellipse cx="1614.6" cy="482.8" rx="5.1" ry="9.2" class="B"/><ellipse cx="1632.7" cy="482.8" rx="5.1" ry="9.2" class="P"/><ellipse cx="1607.3" cy="543.6" rx="4" ry="7.2" class="P"/><ellipse cx="1625.4" cy="543.6" rx="4" ry="7.2" class="B"/><ellipse cx="1678.8" cy="158.3" rx="4.8" ry="8.6" class="B"/><ellipse cx="1696.8" cy="158.3" rx="4.8" ry="8.6" class="P"/><ellipse cx="1674.6" cy="226.3" rx="6" ry="10.9" class="P"/><ellipse cx="1692.6" cy="226.3" rx="6" ry="10.9" class="B"/><ellipse cx="1676.2" cy="287.7" rx="6.8" ry="12.4" class="B"/><ellipse cx="1694.3" cy="287.7" rx="6.8" ry="12.4" class="P"/><ellipse cx="1673.7" cy="349.6" rx="7.1" ry="12.8" class="P"/><ellipse cx="1691.7" cy="349.6" rx="7.1" ry="12.8" class="B"/><ellipse cx="1676.9" cy="419.6" rx="6.8" ry="12.4" class="B"/><ellipse cx="1694.9" cy="419.6" rx="6.8" ry="12.4" class="P"/><ellipse cx="1672.3" cy="477.2" rx="6" ry="10.9" class="P"/><ellipse cx="1690.3" cy="477.2" rx="6" ry="10.9" class="B"/><ellipse cx="1678.8" cy="541" rx="4.8" ry="8.6" class="B"/><ellipse cx="1696.8" cy="541" rx="4.8" ry="8.6" class="P"/><ellipse cx="1736.2" cy="97.3" rx="3.2" ry="5.7" class="B"/><ellipse cx="1754.3" cy="97.3" rx="3.2" ry="5.7" class="P"/><ellipse cx="1741" cy="159" rx="5.1" ry="9.3" class="P"/><ellipse cx="1759" cy="159" rx="5.1" ry="9.3" class="B"/><ellipse cx="1741" cy="223.8" rx="6.5" ry="11.8" class="B"/><ellipse cx="1759" cy="223.8" rx="6.5" ry="11.8" class="P"/><ellipse cx="1742.8" cy="285.4" rx="7.4" ry="13.4" class="P"/><ellipse cx="1760.9" cy="285.4" rx="7.4" ry="13.4" class="B"/><ellipse cx="1735.1" cy="351.8" rx="7.6" ry="13.9" class="B"/><ellipse cx="1753.2" cy="351.8" rx="7.6" ry="13.9" class="P"/><ellipse cx="1741.3" cy="414.9" rx="7.4" ry="13.4" class="P"/><ellipse cx="1759.4" cy="414.9" rx="7.4" ry="13.4" class="B"/><ellipse cx="1735.8" cy="477.1" rx="6.5" ry="11.8" class="B"/><ellipse cx="1753.8" cy="477.1" rx="6.5" ry="11.8" class="P"/><ellipse cx="1739.3" cy="544.8" rx="5.1" ry="9.3" class="P"/><ellipse cx="1757.3" cy="544.8" rx="5.1" ry="9.3" class="B"/><ellipse cx="1736.4" cy="609.4" rx="3.2" ry="5.7" class="B"/><ellipse cx="1754.5" cy="609.4" rx="3.2" ry="5.7" class="P"/><ellipse cx="1800.9" cy="94.5" rx="3.2" ry="5.7" class="P"/><ellipse cx="1819" cy="94.5" rx="3.2" ry="5.7" class="B"/><ellipse cx="1801.8" cy="159" rx="5.1" ry="9.3" class="B"/><ellipse cx="1819.9" cy="159" rx="5.1" ry="9.3" class="P"/><ellipse cx="1801" cy="225.3" rx="6.5" ry="11.8" class="P"/><ellipse cx="1819" cy="225.3" rx="6.5" ry="11.8" class="B"/><ellipse cx="1800.2" cy="288.7" rx="7.4" ry="13.4" class="B"/><ellipse cx="1818.3" cy="288.7" rx="7.4" ry="13.4" class="P"/><ellipse cx="1804.9" cy="354.8" rx="7.6" ry="13.9" class="P"/><ellipse cx="1822.9" cy="354.8" rx="7.6" ry="13.9" class="B"/><ellipse cx="1806.7" cy="417.1" rx="7.4" ry="13.4" class="B"/><ellipse cx="1824.7" cy="417.1" rx="7.4" ry="13.4" class="P"/><ellipse cx="1802.5" cy="477.8" rx="6.5" ry="11.8" class="P"/><ellipse cx="1820.6" cy="477.8" rx="6.5" ry="11.8" class="B"/><ellipse cx="1803.9" cy="545.5" rx="5.1" ry="9.3" class="B"/><ellipse cx="1821.9" cy="545.5" rx="5.1" ry="9.3" class="P"/><ellipse cx="1799.9" cy="608.7" rx="3.2" ry="5.7" class="P"/><ellipse cx="1817.9" cy="608.7" rx="3.2" ry="5.7" class="B"/><ellipse cx="1867.9" cy="162.2" rx="4.8" ry="8.6" class="P"/><ellipse cx="1885.9" cy="162.2" rx="4.8" ry="8.6" class="B"/><ellipse cx="1866.9" cy="224.9" rx="6" ry="10.9" class="B"/><ellipse cx="1885" cy="224.9" rx="6" ry="10.9" class="P"/><ellipse cx="1865.5" cy="287" rx="6.8" ry="12.4" class="P"/><ellipse cx="1883.5" cy="287" rx="6.8" ry="12.4" class="B"/><ellipse cx="1865.5" cy="353.7" rx="7.1" ry="12.8" class="B"/><ellipse cx="1883.5" cy="353.7" rx="7.1" ry="12.8" class="P"/><ellipse cx="1870.7" cy="419.7" rx="6.8" ry="12.4" class="P"/><ellipse cx="1888.8" cy="419.7" rx="6.8" ry="12.4" class="B"/><ellipse cx="1869.9" cy="481.3" rx="6" ry="10.9" class="B"/><ellipse cx="1888" cy="481.3" rx="6" ry="10.9" class="P"/><ellipse cx="1869.9" cy="542.7" rx="4.8" ry="8.6" class="P"/><ellipse cx="1887.9" cy="542.7" rx="4.8" ry="8.6" class="B"/><ellipse cx="1928.3" cy="162.2" rx="4" ry="7.2" class="B"/><ellipse cx="1946.3" cy="162.2" rx="4" ry="7.2" class="P"/><ellipse cx="1930.3" cy="226.9" rx="5.1" ry="9.2" class="P"/><ellipse cx="1948.3" cy="226.9" rx="5.1" ry="9.2" class="B"/><ellipse cx="1927.5" cy="287.3" rx="5.7" ry="10.4" class="B"/><ellipse cx="1945.5" cy="287.3" rx="5.7" ry="10.4" class="P"/><ellipse cx="1934.1" cy="356.5" rx="6" ry="10.8" class="P"/><ellipse cx="1952.2" cy="356.5" rx="6" ry="10.8" class="B"/><ellipse cx="1933.5" cy="420.1" rx="5.7" ry="10.4" class="B"/><ellipse cx="1951.6" cy="420.1" rx="5.7" ry="10.4" class="P"/><ellipse cx="1934.9" cy="480.7" rx="5.1" ry="9.2" class="P"/><ellipse cx="1952.9" cy="480.7" rx="5.1" ry="9.2" class="B"/><ellipse cx="1932.5" cy="548.7" rx="4" ry="7.2" class="B"/><ellipse cx="1950.6" cy="548.7" rx="4" ry="7.2" class="P"/><ellipse cx="1992.7" cy="228" rx="3.6" ry="6.6" class="B"/><ellipse cx="2010.7" cy="228" rx="3.6" ry="6.6" class="P"/><ellipse cx="1998.6" cy="287.9" rx="4.1" ry="7.5" class="P"/><ellipse cx="2016.6" cy="287.9" rx="4.1" ry="7.5" class="B"/><ellipse cx="1993" cy="355.5" rx="4.3" ry="7.7" class="B"/><ellipse cx="2011" cy="355.5" rx="4.3" ry="7.7" class="P"/><ellipse cx="1994.5" cy="417" rx="4.1" ry="7.5" class="P"/><ellipse cx="2012.6" cy="417" rx="4.1" ry="7.5" class="B"/><ellipse cx="1996.9" cy="481.7" rx="3.6" ry="6.6" class="B"/><ellipse cx="2014.9" cy="481.7" rx="3.6" ry="6.6" class="P"/><ellipse cx="1524.3" cy="311.5" rx="5.7" ry="3.2" class="B"/><ellipse cx="1524.3" cy="329.5" rx="5.7" ry="3.2" class="P"/><ellipse cx="1523.1" cy="378.8" rx="5.7" ry="3.2" class="P"/><ellipse cx="1523.1" cy="396.9" rx="5.7" ry="3.2" class="B"/><ellipse cx="1587.3" cy="183.1" rx="7.2" ry="4" class="P"/><ellipse cx="1587.3" cy="201.1" rx="7.2" ry="4" class="B"/><ellipse cx="1587.8" cy="247.9" rx="8.6" ry="4.8" class="B"/><ellipse cx="1587.8" cy="265.9" rx="8.6" ry="4.8" class="P"/><ellipse cx="1585.2" cy="308.7" rx="9.3" ry="5.1" class="P"/><ellipse cx="1585.2" cy="326.7" rx="9.3" ry="5.1" class="B"/><ellipse cx="1589.3" cy="375" rx="9.3" ry="5.1" class="B"/><ellipse cx="1589.3" cy="393" rx="9.3" ry="5.1" class="P"/><ellipse cx="1590" cy="437.5" rx="8.6" ry="4.8" class="P"/><ellipse cx="1590" cy="455.5" rx="8.6" ry="4.8" class="B"/><ellipse cx="1588.6" cy="506" rx="7.2" ry="4" class="B"/><ellipse cx="1588.6" cy="524" rx="7.2" ry="4" class="P"/><ellipse cx="1650.7" cy="120.1" rx="6.6" ry="3.6" class="P"/><ellipse cx="1650.7" cy="138.2" rx="6.6" ry="3.6" class="B"/><ellipse cx="1647.8" cy="179.2" rx="9.2" ry="5.1" class="B"/><ellipse cx="1647.8" cy="197.3" rx="9.2" ry="5.1" class="P"/><ellipse cx="1650.1" cy="247.9" rx="10.9" ry="6" class="P"/><ellipse cx="1650.1" cy="265.9" rx="10.9" ry="6" class="B"/><ellipse cx="1653.6" cy="309.1" rx="11.8" ry="6.5" class="B"/><ellipse cx="1653.6" cy="327.1" rx="11.8" ry="6.5" class="P"/><ellipse cx="1654.3" cy="372.7" rx="11.8" ry="6.5" class="P"/><ellipse cx="1654.3" cy="390.7" rx="11.8" ry="6.5" class="B"/><ellipse cx="1650.8" cy="438.7" rx="10.9" ry="6" class="B"/><ellipse cx="1650.8" cy="456.7" rx="10.9" ry="6" class="P"/><ellipse cx="1654.4" cy="505.1" rx="9.2" ry="5.1" class="P"/><ellipse cx="1654.4" cy="523.1" rx="9.2" ry="5.1" class="B"/><ellipse cx="1653.5" cy="571" rx="6.6" ry="3.6" class="B"/><ellipse cx="1653.5" cy="589" rx="6.6" ry="3.6" class="P"/><ellipse cx="1712.4" cy="121.7" rx="7.5" ry="4.1" class="B"/><ellipse cx="1712.4" cy="139.7" rx="7.5" ry="4.1" class="P"/><ellipse cx="1715" cy="183.3" rx="10.4" ry="5.7" class="P"/><ellipse cx="1715" cy="201.3" rx="10.4" ry="5.7" class="B"/><ellipse cx="1719.5" cy="244.1" rx="12.4" ry="6.8" class="B"/><ellipse cx="1719.5" cy="262.1" rx="12.4" ry="6.8" class="P"/><ellipse cx="1718.6" cy="313.2" rx="13.4" ry="7.4" class="P"/><ellipse cx="1718.6" cy="331.2" rx="13.4" ry="7.4" class="B"/><ellipse cx="1715.4" cy="373.9" rx="13.4" ry="7.4" class="B"/><ellipse cx="1715.4" cy="392" rx="13.4" ry="7.4" class="P"/><ellipse cx="1714" cy="439.9" rx="12.4" ry="6.8" class="P"/><ellipse cx="1714" cy="457.9" rx="12.4" ry="6.8" class="B"/><ellipse cx="1719" cy="500.5" rx="10.4" ry="5.7" class="B"/><ellipse cx="1719" cy="518.5" rx="10.4" ry="5.7" class="P"/><ellipse cx="1716.4" cy="571" rx="7.5" ry="4.1" class="P"/><ellipse cx="1716.4" cy="589" rx="7.5" ry="4.1" class="B"/><ellipse cx="1783.3" cy="122.6" rx="7.7" ry="4.3" class="P"/><ellipse cx="1783.3" cy="140.6" rx="7.7" ry="4.3" class="B"/><ellipse cx="1783.1" cy="183.7" rx="10.8" ry="6" class="B"/><ellipse cx="1783.1" cy="201.8" rx="10.8" ry="6" class="P"/><ellipse cx="1778.1" cy="248.8" rx="12.8" ry="7.1" class="P"/><ellipse cx="1778.1" cy="266.9" rx="12.8" ry="7.1" class="B"/><ellipse cx="1776.7" cy="308.2" rx="13.9" ry="7.6" class="B"/><ellipse cx="1776.7" cy="326.2" rx="13.9" ry="7.6" class="P"/><ellipse cx="1778.9" cy="374.7" rx="13.9" ry="7.6" class="P"/><ellipse cx="1778.9" cy="392.8" rx="13.9" ry="7.6" class="B"/><ellipse cx="1783.4" cy="443" rx="12.8" ry="7.1" class="B"/><ellipse cx="1783.4" cy="461" rx="12.8" ry="7.1" class="P"/><ellipse cx="1778.4" cy="502.6" rx="10.8" ry="6" class="P"/><ellipse cx="1778.4" cy="520.7" rx="10.8" ry="6" class="B"/><ellipse cx="1779.9" cy="568.4" rx="7.7" ry="4.3" class="B"/><ellipse cx="1779.9" cy="586.5" rx="7.7" ry="4.3" class="P"/><ellipse cx="1840.5" cy="121.4" rx="7.5" ry="4.1" class="B"/><ellipse cx="1840.5" cy="139.5" rx="7.5" ry="4.1" class="P"/><ellipse cx="1845.5" cy="183.8" rx="10.4" ry="5.7" class="P"/><ellipse cx="1845.5" cy="201.9" rx="10.4" ry="5.7" class="B"/><ellipse cx="1840.5" cy="246.6" rx="12.4" ry="6.8" class="B"/><ellipse cx="1840.5" cy="264.7" rx="12.4" ry="6.8" class="P"/><ellipse cx="1843.5" cy="308.6" rx="13.4" ry="7.4" class="P"/><ellipse cx="1843.5" cy="326.6" rx="13.4" ry="7.4" class="B"/><ellipse cx="1844.1" cy="371.8" rx="13.4" ry="7.4" class="B"/><ellipse cx="1844.1" cy="389.9" rx="13.4" ry="7.4" class="P"/><ellipse cx="1840.3" cy="437.6" rx="12.4" ry="6.8" class="P"/><ellipse cx="1840.3" cy="455.6" rx="12.4" ry="6.8" class="B"/><ellipse cx="1844.5" cy="502.6" rx="10.4" ry="5.7" class="B"/><ellipse cx="1844.5" cy="520.7" rx="10.4" ry="5.7" class="P"/><ellipse cx="1847" cy="564.2" rx="7.5" ry="4.1" class="P"/><ellipse cx="1847" cy="582.3" rx="7.5" ry="4.1" class="B"/><ellipse cx="1907.1" cy="120.7" rx="6.6" ry="3.6" class="P"/><ellipse cx="1907.1" cy="138.7" rx="6.6" ry="3.6" class="B"/><ellipse cx="1907.3" cy="180.6" rx="9.2" ry="5.1" class="B"/><ellipse cx="1907.3" cy="198.6" rx="9.2" ry="5.1" class="P"/><ellipse cx="1908.4" cy="245.6" rx="10.9" ry="6" class="P"/><ellipse cx="1908.4" cy="263.7" rx="10.9" ry="6" class="B"/><ellipse cx="1910.2" cy="314.2" rx="11.8" ry="6.5" class="B"/><ellipse cx="1910.2" cy="332.2" rx="11.8" ry="6.5" class="P"/><ellipse cx="1909.5" cy="378.3" rx="11.8" ry="6.5" class="P"/><ellipse cx="1909.5" cy="396.4" rx="11.8" ry="6.5" class="B"/><ellipse cx="1907" cy="438.2" rx="10.9" ry="6" class="B"/><ellipse cx="1907" cy="456.2" rx="10.9" ry="6" class="P"/><ellipse cx="1908.5" cy="499.8" rx="9.2" ry="5.1" class="P"/><ellipse cx="1908.5" cy="517.9" rx="9.2" ry="5.1" class="B"/><ellipse cx="1907.7" cy="566.5" rx="6.6" ry="3.6" class="B"/><ellipse cx="1907.7" cy="584.5" rx="6.6" ry="3.6" class="P"/><ellipse cx="1973.4" cy="180.1" rx="7.2" ry="4" class="P"/><ellipse cx="1973.4" cy="198.1" rx="7.2" ry="4" class="B"/><ellipse cx="1970.9" cy="246.2" rx="8.6" ry="4.8" class="B"/><ellipse cx="1970.9" cy="264.2" rx="8.6" ry="4.8" class="P"/><ellipse cx="1971" cy="315.3" rx="9.3" ry="5.1" class="P"/><ellipse cx="1971" cy="333.3" rx="9.3" ry="5.1" class="B"/><ellipse cx="1971.1" cy="377.1" rx="9.3" ry="5.1" class="B"/><ellipse cx="1971.1" cy="395.2" rx="9.3" ry="5.1" class="P"/><ellipse cx="1974.1" cy="436.6" rx="8.6" ry="4.8" class="P"/><ellipse cx="1974.1" cy="454.6" rx="8.6" ry="4.8" class="B"/><ellipse cx="1971.9" cy="503.8" rx="7.2" ry="4" class="B"/><ellipse cx="1971.9" cy="521.8" rx="7.2" ry="4" class="P"/><ellipse cx="2035.3" cy="314.5" rx="5.7" ry="3.2" class="B"/><ellipse cx="2035.3" cy="332.6" rx="5.7" ry="3.2" class="P"/><ellipse cx="2037.4" cy="375.6" rx="5.7" ry="3.2" class="P"/><ellipse cx="2037.4" cy="393.7" rx="5.7" ry="3.2" class="B"/><circle cx="1521.2" cy="350.3" r="8" class="P"/><circle cx="1589.2" cy="156.3" r="8.7" class="P"/><circle cx="1590.3" cy="226.2" r="11.1" class="B"/><circle cx="1590.4" cy="285.3" r="12.5" class="P"/><circle cx="1588.1" cy="355.4" r="13" class="B"/><circle cx="1585.2" cy="418.2" r="12.5" class="P"/><circle cx="1584.6" cy="481.9" r="11.1" class="B"/><circle cx="1585.9" cy="541.6" r="8.7" class="P"/><circle cx="1650.5" cy="161.5" r="11.1" class="B"/><circle cx="1655" cy="224.6" r="14.1" class="P"/><circle cx="1651.6" cy="288.9" r="15.9" class="B"/><circle cx="1653.2" cy="356.5" r="16.5" class="P"/><circle cx="1651.5" cy="417.4" r="15.9" class="B"/><circle cx="1652.8" cy="480.8" r="14.1" class="P"/><circle cx="1648.4" cy="546.1" r="11.1" class="B"/><circle cx="1718.9" cy="163.7" r="12.5" class="P"/><circle cx="1717.5" cy="221.1" r="15.9" class="B"/><circle cx="1719.4" cy="284.6" r="17.9" class="P"/><circle cx="1713.2" cy="356.4" r="18.6" class="B"/><circle cx="1719.4" cy="413.3" r="17.9" class="P"/><circle cx="1718.8" cy="483" r="15.9" class="B"/><circle cx="1712.5" cy="548.3" r="12.5" class="P"/><circle cx="1776.4" cy="96.1" r="8" class="P"/><circle cx="1777.4" cy="163.1" r="13" class="B"/><circle cx="1782.6" cy="225.5" r="16.5" class="P"/><circle cx="1783.5" cy="287.3" r="18.6" class="B"/><circle cx="1780.8" cy="354" r="19.3" class="P"/><circle cx="1781" cy="416.6" r="18.6" class="B"/><circle cx="1781" cy="479.1" r="16.5" class="P"/><circle cx="1779.5" cy="542.8" r="13" class="B"/><circle cx="1776.8" cy="612.4" r="8" class="P"/><circle cx="1847.7" cy="157.9" r="12.5" class="P"/><circle cx="1847.4" cy="224.4" r="15.9" class="B"/><circle cx="1844.9" cy="287.3" r="17.9" class="P"/><circle cx="1846.6" cy="355.5" r="18.6" class="B"/><circle cx="1847.9" cy="417.7" r="17.9" class="P"/><circle cx="1845.3" cy="477.6" r="15.9" class="B"/><circle cx="1840.6" cy="544.5" r="12.5" class="P"/><circle cx="1910.3" cy="157.7" r="11.1" class="B"/><circle cx="1910.6" cy="226.6" r="14.1" class="P"/><circle cx="1910.2" cy="290.5" r="15.9" class="B"/><circle cx="1909.6" cy="355.5" r="16.5" class="P"/><circle cx="1911.3" cy="414.7" r="15.9" class="B"/><circle cx="1909.8" cy="477" r="14.1" class="P"/><circle cx="1904.7" cy="542.4" r="11.1" class="B"/><circle cx="1975.4" cy="161.6" r="8.7" class="P"/><circle cx="1976.1" cy="222.4" r="11.1" class="B"/><circle cx="1973.7" cy="287.4" r="12.5" class="P"/><circle cx="1970.4" cy="353.2" r="13" class="B"/><circle cx="1975" cy="413.7" r="12.5" class="P"/><circle cx="1971.3" cy="479" r="11.1" class="B"/><circle cx="1969.7" cy="542.1" r="8.7" class="P"/><circle cx="2038.2" cy="354.2" r="8" class="P"/><circle cx="1521.1" cy="350.3" r="8" class="B"/><circle cx="1589.1" cy="156.2" r="8.7" class="B"/><circle cx="1590.2" cy="226.1" r="11.1" class="P"/><circle cx="1590.3" cy="285.2" r="12.5" class="B"/><circle cx="1588" cy="355.4" r="13" class="P"/><circle cx="1585" cy="418.2" r="12.5" class="B"/><circle cx="1584.5" cy="482" r="11.1" class="P"/><circle cx="1585.8" cy="541.7" r="8.7" class="B"/><circle cx="1650.4" cy="161.4" r="11.1" class="P"/><circle cx="1654.9" cy="224.6" r="14.1" class="B"/><circle cx="1651.5" cy="288.8" r="15.9" class="P"/><circle cx="1653.1" cy="356.5" r="16.5" class="B"/><circle cx="1651.5" cy="417.5" r="15.9" class="P"/><circle cx="1652.7" cy="480.8" r="14.1" class="B"/><circle cx="1648.4" cy="546.2" r="11.1" class="P"/><circle cx="1718.8" cy="163.6" r="12.5" class="B"/><circle cx="1717.5" cy="221" r="15.9" class="P"/><circle cx="1719.4" cy="284.6" r="17.9" class="B"/><circle cx="1713.1" cy="356.4" r="18.6" class="P"/><circle cx="1719.4" cy="413.4" r="17.9" class="B"/><circle cx="1718.7" cy="483.1" r="15.9" class="P"/><circle cx="1712.5" cy="548.4" r="12.5" class="B"/><circle cx="1776.4" cy="95.9" r="8" class="B"/><circle cx="1777.4" cy="163" r="13" class="P"/><circle cx="1782.6" cy="225.4" r="16.5" class="B"/><circle cx="1783.5" cy="287.2" r="18.6" class="P"/><circle cx="1780.8" cy="354" r="19.3" class="B"/><circle cx="1781" cy="416.6" r="18.6" class="P"/><circle cx="1781" cy="479.2" r="16.5" class="B"/><circle cx="1779.5" cy="542.9" r="13" class="P"/><circle cx="1776.8" cy="612.6" r="8" class="B"/><circle cx="1847.8" cy="157.8" r="12.5" class="B"/><circle cx="1847.4" cy="224.3" r="15.9" class="P"/><circle cx="1844.9" cy="287.2" r="17.9" class="B"/><circle cx="1846.7" cy="355.5" r="18.6" class="P"/><circle cx="1847.9" cy="417.7" r="17.9" class="B"/><circle cx="1845.3" cy="477.6" r="15.9" class="P"/><circle cx="1840.6" cy="544.6" r="12.5" class="B"/><circle cx="1910.3" cy="157.6" r="11.1" class="P"/><circle cx="1910.7" cy="226.5" r="14.1" class="B"/><circle cx="1910.3" cy="290.5" r="15.9" class="P"/><circle cx="1909.7" cy="355.5" r="16.5" class="B"/><circle cx="1911.4" cy="414.7" r="15.9" class="P"/><circle cx="1909.9" cy="477" r="14.1" class="B"/><circle cx="1904.7" cy="542.6" r="11.1" class="P"/><circle cx="1975.5" cy="161.5" r="8.7" class="B"/><circle cx="1976.2" cy="222.3" r="11.1" class="P"/><circle cx="1973.8" cy="287.4" r="12.5" class="B"/><circle cx="1970.5" cy="353.2" r="13" class="P"/><circle cx="1975.1" cy="413.8" r="12.5" class="B"/><circle cx="1971.4" cy="479" r="11.1" class="P"/><circle cx="1969.8" cy="542.2" r="8.7" class="B"/><circle cx="2038.4" cy="354.2" r="8" class="B"/><circle cx="1589.2" cy="161.8" r="6.2" class="P"/><circle cx="1590.3" cy="220.6" r="7.8" class="B"/><circle cx="1585.7" cy="292.2" r="8.9" class="P"/><circle cx="1586.8" cy="354.4" r="9.2" class="B"/><circle cx="1587.2" cy="417.4" r="8.9" class="P"/><circle cx="1583.9" cy="481.2" r="7.8" class="B"/><circle cx="1588.4" cy="549.1" r="6.2" class="P"/><circle cx="1649.1" cy="222.7" r="10" class="P"/><circle cx="1652.4" cy="291" r="11.3" class="B"/><circle cx="1649.2" cy="350.1" r="11.7" class="P"/><circle cx="1652.3" cy="413.3" r="11.3" class="B"/><circle cx="1652" cy="480.3" r="10" class="P"/><circle cx="1648.6" cy="543.4" r="7.8" class="B"/><circle cx="1718.2" cy="158.4" r="8.9" class="P"/><circle cx="1715.3" cy="289.6" r="12.7" class="P"/><circle cx="1719.4" cy="356.4" r="13.2" class="B"/><circle cx="1713.9" cy="420.2" r="12.7" class="P"/><circle cx="1712.3" cy="482" r="11.3" class="B"/><circle cx="1718.8" cy="544.6" r="8.9" class="P"/><circle cx="1783.9" cy="162.3" r="9.2" class="B"/><circle cx="1778.3" cy="223.2" r="11.7" class="P"/><circle cx="1779.2" cy="290.2" r="13.2" class="B"/><circle cx="1779.5" cy="355" r="13.7" class="P"/><circle cx="1777.8" cy="420.1" r="13.2" class="B"/><circle cx="1781.3" cy="547.4" r="9.2" class="B"/><circle cx="1845.5" cy="157.1" r="8.9" class="P"/><circle cx="1842.7" cy="223" r="11.3" class="B"/><circle cx="1848.2" cy="284.5" r="12.7" class="P"/><circle cx="1845.1" cy="352.1" r="13.2" class="B"/><circle cx="1843.4" cy="418.7" r="12.7" class="P"/><circle cx="1840.3" cy="481.6" r="11.3" class="B"/><circle cx="1845" cy="543" r="8.9" class="P"/><circle cx="1912.5" cy="160.6" r="7.8" class="B"/><circle cx="1912.1" cy="224.2" r="10" class="P"/><circle cx="1907.8" cy="291.6" r="11.3" class="B"/><circle cx="1911.4" cy="351.1" r="11.7" class="P"/><circle cx="1907.5" cy="417.7" r="11.3" class="B"/><circle cx="1906.3" cy="484.6" r="10" class="P"/><circle cx="1907.9" cy="548.2" r="7.8" class="B"/><circle cx="1975.9" cy="155.9" r="6.2" class="P"/><circle cx="1973.4" cy="221.5" r="7.8" class="B"/><circle cx="1968.8" cy="290.5" r="8.9" class="P"/><circle cx="1970.4" cy="351" r="9.2" class="B"/><circle cx="1972.4" cy="417.6" r="8.9" class="P"/><circle cx="1975.3" cy="480.8" r="7.8" class="B"/><circle cx="1974.9" cy="541.7" r="6.2" class="P"/><ellipse cx="1542.8" cy="221.1" rx="3.2" ry="5.9" class="B"/><ellipse cx="1560.8" cy="221.1" rx="3.2" ry="5.9" class="P"/><ellipse cx="1544.2" cy="286.6" rx="3.7" ry="6.6" class="P"/><ellipse cx="1562.2" cy="286.6" rx="3.7" ry="6.6" class="B"/><ellipse cx="1545.8" cy="348.5" rx="3.8" ry="6.9" class="B"/><ellipse cx="1563.9" cy="348.5" rx="3.8" ry="6.9" class="P"/><ellipse cx="1546.8" cy="416.9" rx="3.7" ry="6.6" class="P"/><ellipse cx="1564.9" cy="416.9" rx="3.7" ry="6.6" class="B"/><ellipse cx="1543.4" cy="478.2" rx="3.2" ry="5.9" class="B"/><ellipse cx="1561.5" cy="478.2" rx="3.2" ry="5.9" class="P"/><ellipse cx="1611.7" cy="159.3" rx="3.5" ry="6.4" class="B"/><ellipse cx="1629.7" cy="159.3" rx="3.5" ry="6.4" class="P"/><ellipse cx="1610.4" cy="221.8" rx="4.5" ry="8.2" class="P"/><ellipse cx="1628.5" cy="221.8" rx="4.5" ry="8.2" class="B"/><ellipse cx="1614.1" cy="285.2" rx="5.1" ry="9.2" class="B"/><ellipse cx="1632.2" cy="285.2" rx="5.1" ry="9.2" class="P"/><ellipse cx="1608.2" cy="354.5" rx="5.3" ry="9.6" class="P"/><ellipse cx="1626.2" cy="354.5" rx="5.3" ry="9.6" class="B"/><ellipse cx="1609.5" cy="415" rx="5.1" ry="9.2" class="B"/><ellipse cx="1627.5" cy="415" rx="5.1" ry="9.2" class="P"/><ellipse cx="1610.9" cy="484.1" rx="4.5" ry="8.2" class="P"/><ellipse cx="1628.9" cy="484.1" rx="4.5" ry="8.2" class="B"/><ellipse cx="1613.5" cy="545.7" rx="3.5" ry="6.4" class="B"/><ellipse cx="1631.6" cy="545.7" rx="3.5" ry="6.4" class="P"/><ellipse cx="1671.3" cy="159.5" rx="4.2" ry="7.6" class="P"/><ellipse cx="1689.4" cy="159.5" rx="4.2" ry="7.6" class="B"/><ellipse cx="1677.4" cy="223.6" rx="5.4" ry="9.7" class="B"/><ellipse cx="1695.5" cy="223.6" rx="5.4" ry="9.7" class="P"/><ellipse cx="1678.5" cy="291.2" rx="6.1" ry="11" class="P"/><ellipse cx="1696.6" cy="291.2" rx="6.1" ry="11" class="B"/><ellipse cx="1674.2" cy="352.5" rx="6.3" ry="11.4" class="B"/><ellipse cx="1692.3" cy="352.5" rx="6.3" ry="11.4" class="P"/><ellipse cx="1672.6" cy="414.4" rx="6.1" ry="11" class="P"/><ellipse cx="1690.7" cy="414.4" rx="6.1" ry="11" class="B"/><ellipse cx="1676.3" cy="478.9" rx="5.4" ry="9.7" class="B"/><ellipse cx="1694.3" cy="478.9" rx="5.4" ry="9.7" class="P"/><ellipse cx="1675.1" cy="542.9" rx="4.2" ry="7.6" class="P"/><ellipse cx="1693.2" cy="542.9" rx="4.2" ry="7.6" class="B"/><ellipse cx="1740.8" cy="159.2" rx="4.6" ry="8.3" class="B"/><ellipse cx="1758.9" cy="159.2" rx="4.6" ry="8.3" class="P"/><ellipse cx="1742" cy="224" rx="5.8" ry="10.5" class="P"/><ellipse cx="1760.1" cy="224" rx="5.8" ry="10.5" class="B"/><ellipse cx="1738.5" cy="291.2" rx="6.5" ry="11.9" class="B"/><ellipse cx="1756.6" cy="291.2" rx="6.5" ry="11.9" class="P"/><ellipse cx="1739.5" cy="355.3" rx="6.8" ry="12.3" class="P"/><ellipse cx="1757.5" cy="355.3" rx="6.8" ry="12.3" class="B"/><ellipse cx="1740.3" cy="420.4" rx="6.5" ry="11.9" class="B"/><ellipse cx="1758.4" cy="420.4" rx="6.5" ry="11.9" class="P"/><ellipse cx="1737.4" cy="481.8" rx="5.8" ry="10.5" class="P"/><ellipse cx="1755.5" cy="481.8" rx="5.8" ry="10.5" class="B"/><ellipse cx="1735.7" cy="546.2" rx="4.6" ry="8.3" class="B"/><ellipse cx="1753.8" cy="546.2" rx="4.6" ry="8.3" class="P"/><ellipse cx="1801.6" cy="155.7" rx="4.6" ry="8.3" class="P"/><ellipse cx="1819.7" cy="155.7" rx="4.6" ry="8.3" class="B"/><ellipse cx="1805.6" cy="226.3" rx="5.8" ry="10.5" class="B"/><ellipse cx="1823.6" cy="226.3" rx="5.8" ry="10.5" class="P"/><ellipse cx="1802.1" cy="286.3" rx="6.5" ry="11.9" class="P"/><ellipse cx="1820.2" cy="286.3" rx="6.5" ry="11.9" class="B"/><ellipse cx="1801.1" cy="355.6" rx="6.8" ry="12.3" class="B"/><ellipse cx="1819.2" cy="355.6" rx="6.8" ry="12.3" class="P"/><ellipse cx="1803.2" cy="418.2" rx="6.5" ry="11.9" class="P"/><ellipse cx="1821.3" cy="418.2" rx="6.5" ry="11.9" class="B"/><ellipse cx="1802.9" cy="481.9" rx="5.8" ry="10.5" class="B"/><ellipse cx="1821" cy="481.9" rx="5.8" ry="10.5" class="P"/><ellipse cx="1806.2" cy="543" rx="4.6" ry="8.3" class="P"/><ellipse cx="1824.3" cy="543" rx="4.6" ry="8.3" class="B"/><ellipse cx="1867.5" cy="160.5" rx="4.2" ry="7.6" class="B"/><ellipse cx="1885.5" cy="160.5" rx="4.2" ry="7.6" class="P"/><ellipse cx="1870.7" cy="224.7" rx="5.4" ry="9.7" class="P"/><ellipse cx="1888.8" cy="224.7" rx="5.4" ry="9.7" class="B"/><ellipse cx="1867.1" cy="290.8" rx="6.1" ry="11" class="B"/><ellipse cx="1885.2" cy="290.8" rx="6.1" ry="11" class="P"/><ellipse cx="1863.5" cy="353.7" rx="6.3" ry="11.4" class="P"/><ellipse cx="1881.6" cy="353.7" rx="6.3" ry="11.4" class="B"/><ellipse cx="1864" cy="420.6" rx="6.1" ry="11" class="B"/><ellipse cx="1882.1" cy="420.6" rx="6.1" ry="11" class="P"/><ellipse cx="1870.9" cy="482.7" rx="5.4" ry="9.7" class="P"/><ellipse cx="1888.9" cy="482.7" rx="5.4" ry="9.7" class="B"/><ellipse cx="1865.8" cy="548.3" rx="4.2" ry="7.6" class="B"/><ellipse cx="1883.9" cy="548.3" rx="4.2" ry="7.6" class="P"/><ellipse cx="1932.5" cy="160" rx="3.5" ry="6.4" class="P"/><ellipse cx="1950.6" cy="160" rx="3.5" ry="6.4" class="B"/><ellipse cx="1928.5" cy="223.9" rx="4.5" ry="8.2" class="B"/><ellipse cx="1946.6" cy="223.9" rx="4.5" ry="8.2" class="P"/><ellipse cx="1933.7" cy="289.4" rx="5.1" ry="9.2" class="P"/><ellipse cx="1951.8" cy="289.4" rx="5.1" ry="9.2" class="B"/><ellipse cx="1930.5" cy="351.1" rx="5.3" ry="9.6" class="B"/><ellipse cx="1948.6" cy="351.1" rx="5.3" ry="9.6" class="P"/><ellipse cx="1933.2" cy="420.4" rx="5.1" ry="9.2" class="P"/><ellipse cx="1951.3" cy="420.4" rx="5.1" ry="9.2" class="B"/><ellipse cx="1933.1" cy="484.5" rx="4.5" ry="8.2" class="B"/><ellipse cx="1951.2" cy="484.5" rx="4.5" ry="8.2" class="P"/><ellipse cx="1934.5" cy="543.5" rx="3.5" ry="6.4" class="P"/><ellipse cx="1952.6" cy="543.5" rx="3.5" ry="6.4" class="B"/><ellipse cx="1995.4" cy="223.5" rx="3.2" ry="5.9" class="P"/><ellipse cx="2013.5" cy="223.5" rx="3.2" ry="5.9" class="B"/><ellipse cx="1993.2" cy="285" rx="3.7" ry="6.6" class="B"/><ellipse cx="2011.3" cy="285" rx="3.7" ry="6.6" class="P"/><ellipse cx="1992.4" cy="349.6" rx="3.8" ry="6.9" class="P"/><ellipse cx="2010.5" cy="349.6" rx="3.8" ry="6.9" class="B"/><ellipse cx="1997.5" cy="413.9" rx="3.7" ry="6.6" class="B"/><ellipse cx="2015.6" cy="413.9" rx="3.7" ry="6.6" class="P"/><ellipse cx="1996.6" cy="483.2" rx="3.2" ry="5.9" class="P"/><ellipse cx="2014.7" cy="483.2" rx="3.2" ry="5.9" class="B"/><ellipse cx="1587.3" cy="179.6" rx="6.4" ry="3.5" class="B"/><ellipse cx="1587.3" cy="197.7" rx="6.4" ry="3.5" class="P"/><ellipse cx="1583.5" cy="244" rx="7.6" ry="4.2" class="P"/><ellipse cx="1583.5" cy="262.1" rx="7.6" ry="4.2" class="B"/><ellipse cx="1585.7" cy="307.4" rx="8.3" ry="4.6" class="B"/><ellipse cx="1585.7" cy="325.4" rx="8.3" ry="4.6" class="P"/><ellipse cx="1585.6" cy="375.6" rx="8.3" ry="4.6" class="P"/><ellipse cx="1585.6" cy="393.7" rx="8.3" ry="4.6" class="B"/><ellipse cx="1588.1" cy="438.8" rx="7.6" ry="4.2" class="B"/><ellipse cx="1588.1" cy="456.9" rx="7.6" ry="4.2" class="P"/><ellipse cx="1584.4" cy="506.1" rx="6.4" ry="3.5" class="P"/><ellipse cx="1584.4" cy="524.2" rx="6.4" ry="3.5" class="B"/><ellipse cx="1648.9" cy="114.6" rx="5.9" ry="3.2" class="B"/><ellipse cx="1648.9" cy="132.7" rx="5.9" ry="3.2" class="P"/><ellipse cx="1649.2" cy="185.4" rx="8.2" ry="4.5" class="P"/><ellipse cx="1649.2" cy="203.5" rx="8.2" ry="4.5" class="B"/><ellipse cx="1654.3" cy="246.7" rx="9.7" ry="5.4" class="B"/><ellipse cx="1654.3" cy="264.8" rx="9.7" ry="5.4" class="P"/><ellipse cx="1652.5" cy="308.6" rx="10.5" ry="5.8" class="P"/><ellipse cx="1652.5" cy="326.7" rx="10.5" ry="5.8" class="B"/><ellipse cx="1652.5" cy="374.9" rx="10.5" ry="5.8" class="B"/><ellipse cx="1652.5" cy="393" rx="10.5" ry="5.8" class="P"/><ellipse cx="1649.5" cy="439.3" rx="9.7" ry="5.4" class="P"/><ellipse cx="1649.5" cy="457.4" rx="9.7" ry="5.4" class="B"/><ellipse cx="1651.6" cy="508" rx="8.2" ry="4.5" class="B"/><ellipse cx="1651.6" cy="526.1" rx="8.2" ry="4.5" class="P"/><ellipse cx="1655.5" cy="572.1" rx="5.9" ry="3.2" class="P"/><ellipse cx="1655.5" cy="590.2" rx="5.9" ry="3.2" class="B"/><ellipse cx="1714.1" cy="117" rx="6.6" ry="3.7" class="P"/><ellipse cx="1714.1" cy="135" rx="6.6" ry="3.7" class="B"/><ellipse cx="1713.1" cy="186.8" rx="9.2" ry="5.1" class="B"/><ellipse cx="1713.1" cy="204.8" rx="9.2" ry="5.1" class="P"/><ellipse cx="1718.9" cy="245.3" rx="11" ry="6.1" class="P"/><ellipse cx="1718.9" cy="263.4" rx="11" ry="6.1" class="B"/><ellipse cx="1718.9" cy="315.1" rx="11.9" ry="6.5" class="B"/><ellipse cx="1718.9" cy="333.2" rx="11.9" ry="6.5" class="P"/><ellipse cx="1713" cy="374.2" rx="11.9" ry="6.5" class="P"/><ellipse cx="1713" cy="392.3" rx="11.9" ry="6.5" class="B"/><ellipse cx="1716.1" cy="437.6" rx="11" ry="6.1" class="B"/><ellipse cx="1716.1" cy="455.7" rx="11" ry="6.1" class="P"/><ellipse cx="1713.2" cy="507.6" rx="9.2" ry="5.1" class="P"/><ellipse cx="1713.2" cy="525.7" rx="9.2" ry="5.1" class="B"/><ellipse cx="1719.3" cy="566.6" rx="6.6" ry="3.7" class="B"/><ellipse cx="1719.3" cy="584.6" rx="6.6" ry="3.7" class="P"/><ellipse cx="1780.9" cy="119.6" rx="6.9" ry="3.8" class="B"/><ellipse cx="1780.9" cy="137.7" rx="6.9" ry="3.8" class="P"/><ellipse cx="1777.9" cy="180.3" rx="9.6" ry="5.3" class="P"/><ellipse cx="1777.9" cy="198.4" rx="9.6" ry="5.3" class="B"/><ellipse cx="1776.9" cy="247.2" rx="11.4" ry="6.3" class="B"/><ellipse cx="1776.9" cy="265.3" rx="11.4" ry="6.3" class="P"/><ellipse cx="1783.1" cy="312.9" rx="12.3" ry="6.8" class="P"/><ellipse cx="1783.1" cy="330.9" rx="12.3" ry="6.8" class="B"/><ellipse cx="1780.8" cy="375" rx="12.3" ry="6.8" class="B"/><ellipse cx="1780.8" cy="393.1" rx="12.3" ry="6.8" class="P"/><ellipse cx="1781.6" cy="436.3" rx="11.4" ry="6.3" class="P"/><ellipse cx="1781.6" cy="454.3" rx="11.4" ry="6.3" class="B"/><ellipse cx="1778.6" cy="504.5" rx="9.6" ry="5.3" class="B"/><ellipse cx="1778.6" cy="522.6" rx="9.6" ry="5.3" class="P"/><ellipse cx="1779.3" cy="569.5" rx="6.9" ry="3.8" class="P"/><ellipse cx="1779.3" cy="587.5" rx="6.9" ry="3.8" class="B"/><ellipse cx="1842.9" cy="114.9" rx="6.6" ry="3.7" class="P"/><ellipse cx="1842.9" cy="133" rx="6.6" ry="3.7" class="B"/><ellipse cx="1841.7" cy="181.5" rx="9.2" ry="5.1" class="B"/><ellipse cx="1841.7" cy="199.6" rx="9.2" ry="5.1" class="P"/><ellipse cx="1844.9" cy="248" rx="11" ry="6.1" class="P"/><ellipse cx="1844.9" cy="266.1" rx="11" ry="6.1" class="B"/><ellipse cx="1842.2" cy="313.8" rx="11.9" ry="6.5" class="B"/><ellipse cx="1842.2" cy="331.9" rx="11.9" ry="6.5" class="P"/><ellipse cx="1847.4" cy="372.4" rx="11.9" ry="6.5" class="P"/><ellipse cx="1847.4" cy="390.4" rx="11.9" ry="6.5" class="B"/><ellipse cx="1841.6" cy="441.2" rx="11" ry="6.1" class="B"/><ellipse cx="1841.6" cy="459.3" rx="11" ry="6.1" class="P"/><ellipse cx="1840.6" cy="500.9" rx="9.2" ry="5.1" class="P"/><ellipse cx="1840.6" cy="519" rx="9.2" ry="5.1" class="B"/><ellipse cx="1847.5" cy="571.2" rx="6.6" ry="3.7" class="B"/><ellipse cx="1847.5" cy="589.3" rx="6.6" ry="3.7" class="P"/><ellipse cx="1907.9" cy="121.8" rx="5.9" ry="3.2" class="B"/><ellipse cx="1907.9" cy="139.9" rx="5.9" ry="3.2" class="P"/><ellipse cx="1912.4" cy="181.6" rx="8.2" ry="4.5" class="P"/><ellipse cx="1912.4" cy="199.7" rx="8.2" ry="4.5" class="B"/><ellipse cx="1908.2" cy="244.1" rx="9.7" ry="5.4" class="B"/><ellipse cx="1908.2" cy="262.2" rx="9.7" ry="5.4" class="P"/><ellipse cx="1909.4" cy="308.8" rx="10.5" ry="5.8" class="P"/><ellipse cx="1909.4" cy="326.9" rx="10.5" ry="5.8" class="B"/><ellipse cx="1907.6" cy="374" rx="10.5" ry="5.8" class="B"/><ellipse cx="1907.6" cy="392.1" rx="10.5" ry="5.8" class="P"/><ellipse cx="1905" cy="436.5" rx="9.7" ry="5.4" class="P"/><ellipse cx="1905" cy="454.6" rx="9.7" ry="5.4" class="B"/><ellipse cx="1908.8" cy="502.7" rx="8.2" ry="4.5" class="B"/><ellipse cx="1908.8" cy="520.8" rx="8.2" ry="4.5" class="P"/><ellipse cx="1905.2" cy="568.3" rx="5.9" ry="3.2" class="P"/><ellipse cx="1905.2" cy="586.4" rx="5.9" ry="3.2" class="B"/><ellipse cx="1971.5" cy="183.4" rx="6.4" ry="3.5" class="B"/><ellipse cx="1971.5" cy="201.4" rx="6.4" ry="3.5" class="P"/><ellipse cx="1972.2" cy="247.5" rx="7.6" ry="4.2" class="P"/><ellipse cx="1972.2" cy="265.6" rx="7.6" ry="4.2" class="B"/><ellipse cx="1970.3" cy="312" rx="8.3" ry="4.6" class="B"/><ellipse cx="1970.3" cy="330.1" rx="8.3" ry="4.6" class="P"/><ellipse cx="1976.1" cy="371.7" rx="8.3" ry="4.6" class="P"/><ellipse cx="1976.1" cy="389.8" rx="8.3" ry="4.6" class="B"/><ellipse cx="1972.6" cy="436.7" rx="7.6" ry="4.2" class="B"/><ellipse cx="1972.6" cy="454.8" rx="7.6" ry="4.2" class="P"/><ellipse cx="1969.4" cy="503" rx="6.4" ry="3.5" class="P"/><ellipse cx="1969.4" cy="521" rx="6.4" ry="3.5" class="B"/><circle cx="1589.3" cy="225.6" r="9.3" class="P"/><circle cx="1587.4" cy="284.9" r="10.5" class="B"/><circle cx="1585.5" cy="350" r="10.9" class="P"/><circle cx="1585" cy="419.8" r="10.5" class="B"/><circle cx="1590.8" cy="477.6" r="9.3" class="P"/><circle cx="1654.6" cy="163" r="9.3" class="P"/><circle cx="1652.2" cy="220.8" r="11.8" class="B"/><circle cx="1650.7" cy="289" r="13.4" class="P"/><circle cx="1654.2" cy="352.2" r="13.9" class="B"/><circle cx="1653" cy="416.6" r="13.4" class="P"/><circle cx="1655.3" cy="484.5" r="11.8" class="B"/><circle cx="1650.2" cy="541.6" r="9.3" class="P"/><circle cx="1719.2" cy="163.2" r="10.5" class="B"/><circle cx="1718.6" cy="223.6" r="13.4" class="P"/><circle cx="1713.2" cy="289.1" r="15.1" class="B"/><circle cx="1717.3" cy="354.2" r="15.7" class="P"/><circle cx="1716" cy="415.4" r="15.1" class="B"/><circle cx="1718.8" cy="483.9" r="13.4" class="P"/><circle cx="1715.2" cy="545.1" r="10.5" class="B"/><circle cx="1776.2" cy="159.7" r="10.9" class="P"/><circle cx="1783.5" cy="225.3" r="13.9" class="B"/><circle cx="1781.3" cy="290.7" r="15.7" class="P"/><circle cx="1782" cy="349.4" r="16.3" class="B"/><circle cx="1783.7" cy="414.2" r="15.7" class="P"/><circle cx="1779.6" cy="483.4" r="13.9" class="B"/><circle cx="1782.2" cy="548.6" r="10.9" class="P"/><circle cx="1842.7" cy="158.8" r="10.5" class="B"/><circle cx="1847.3" cy="223.9" r="13.4" class="P"/><circle cx="1845.7" cy="286.7" r="15.1" class="B"/><circle cx="1840.9" cy="356.3" r="15.7" class="P"/><circle cx="1846.6" cy="419.8" r="15.1" class="B"/><circle cx="1842.7" cy="482.9" r="13.4" class="P"/><circle cx="1847.6" cy="544" r="10.5" class="B"/><circle cx="1910.2" cy="162" r="9.3" class="P"/><circle cx="1909.7" cy="223.5" r="11.8" class="B"/><circle cx="1907.8" cy="286.9" r="13.4" class="P"/><circle cx="1908.7" cy="354.3" r="13.9" class="B"/><circle cx="1910.2" cy="416.8" r="13.4" class="P"/><circle cx="1910.8" cy="479.5" r="11.8" class="B"/><circle cx="1906.4" cy="547.1" r="9.3" class="P"/><circle cx="1974.7" cy="224" r="9.3" class="P"/><circle cx="1974.4" cy="292.2" r="10.5" class="B"/><circle cx="1973.4" cy="354.5" r="10.9" class="P"/><circle cx="1974.7" cy="415.8" r="10.5" class="B"/><circle cx="1971.4" cy="477.3" r="9.3" class="P"/><circle cx="1589.2" cy="225.5" r="9.3" class="B"/><circle cx="1587.3" cy="284.8" r="10.5" class="P"/><circle cx="1585.4" cy="350" r="10.9" class="B"/><circle cx="1584.8" cy="419.9" r="10.5" class="P"/><circle cx="1590.7" cy="477.7" r="9.3" class="B"/><circle cx="1654.5" cy="162.9" r="9.3" class="B"/><circle cx="1652.1" cy="220.7" r="11.9" class="P"/><circle cx="1650.6" cy="289" r="13.4" class="B"/><circle cx="1654.2" cy="352.2" r="13.9" class="P"/><circle cx="1652.9" cy="416.7" r="13.4" class="B"/><circle cx="1655.3" cy="484.6" r="11.9" class="P"/><circle cx="1650.1" cy="541.7" r="9.3" class="B"/><circle cx="1719.1" cy="163.1" r="10.5" class="P"/><circle cx="1718.5" cy="223.5" r="13.4" class="B"/><circle cx="1713.1" cy="289.1" r="15.1" class="P"/><circle cx="1717.3" cy="354.2" r="15.7" class="B"/><circle cx="1716" cy="415.4" r="15.1" class="P"/><circle cx="1718.8" cy="483.9" r="13.4" class="B"/><circle cx="1715.2" cy="545.3" r="10.5" class="P"/><circle cx="1776.2" cy="159.6" r="10.9" class="B"/><circle cx="1783.5" cy="225.3" r="13.9" class="P"/><circle cx="1781.3" cy="290.7" r="15.7" class="B"/><circle cx="1782.1" cy="349.4" r="16.3" class="P"/><circle cx="1783.7" cy="414.3" r="15.7" class="B"/><circle cx="1779.6" cy="483.5" r="13.9" class="P"/><circle cx="1782.2" cy="548.7" r="10.9" class="B"/><circle cx="1842.7" cy="158.6" r="10.5" class="P"/><circle cx="1847.3" cy="223.9" r="13.4" class="B"/><circle cx="1845.7" cy="286.7" r="15.1" class="P"/><circle cx="1840.9" cy="356.3" r="15.7" class="B"/><circle cx="1846.7" cy="419.8" r="15.1" class="P"/><circle cx="1842.7" cy="483" r="13.4" class="B"/><circle cx="1847.6" cy="544.1" r="10.5" class="P"/><circle cx="1910.3" cy="161.9" r="9.3" class="B"/><circle cx="1909.8" cy="223.4" r="11.9" class="P"/><circle cx="1907.9" cy="286.8" r="13.4" class="B"/><circle cx="1908.8" cy="354.3" r="13.9" class="P"/><circle cx="1910.3" cy="416.8" r="13.4" class="B"/><circle cx="1910.9" cy="479.6" r="11.9" class="P"/><circle cx="1906.4" cy="547.2" r="9.3" class="B"/><circle cx="1974.9" cy="224" r="9.3" class="B"/><circle cx="1974.5" cy="292.2" r="10.5" class="P"/><circle cx="1973.5" cy="354.5" r="10.9" class="B"/><circle cx="1974.8" cy="415.9" r="10.5" class="P"/><circle cx="1971.6" cy="477.3" r="9.3" class="B"/><circle cx="1584.2" cy="222.2" r="6.2" class="P"/><circle cx="1585.6" cy="284.5" r="7" class="B"/><circle cx="1583.6" cy="352.5" r="7.3" class="P"/><circle cx="1585" cy="414.2" r="7" class="B"/><circle cx="1588.6" cy="481.3" r="6.2" class="P"/><circle cx="1647.2" cy="161.3" r="6.2" class="P"/><circle cx="1654.3" cy="223" r="7.9" class="B"/><circle cx="1648.4" cy="288.5" r="8.9" class="P"/><circle cx="1653.1" cy="350.8" r="9.2" class="B"/><circle cx="1651.1" cy="414.9" r="8.9" class="P"/><circle cx="1650.7" cy="480.3" r="7.9" class="B"/><circle cx="1650.5" cy="543.5" r="6.2" class="P"/><circle cx="1716.1" cy="158.6" r="7" class="B"/><circle cx="1714.8" cy="224.2" r="8.9" class="P"/><circle cx="1711.8" cy="288.2" r="10" class="B"/><circle cx="1715.5" cy="352.2" r="10.4" class="P"/><circle cx="1715.8" cy="414.6" r="10" class="B"/><circle cx="1713" cy="478.2" r="8.9" class="P"/><circle cx="1717.9" cy="545" r="7" class="B"/><circle cx="1784" cy="159.5" r="7.3" class="P"/><circle cx="1781.9" cy="227.4" r="9.2" class="B"/><circle cx="1776.6" cy="289.4" r="10.4" class="P"/><circle cx="1781.7" cy="355.5" r="10.8" class="B"/><circle cx="1776.9" cy="415.9" r="10.4" class="P"/><circle cx="1776.4" cy="478.5" r="9.2" class="B"/><circle cx="1777.2" cy="545.3" r="7.3" class="P"/><circle cx="1844.7" cy="157.3" r="7" class="B"/><circle cx="1842.5" cy="222.9" r="8.9" class="P"/><circle cx="1845.8" cy="284.6" r="10" class="B"/><circle cx="1842.7" cy="354.8" r="10.4" class="P"/><circle cx="1840.7" cy="417.4" r="10" class="B"/><circle cx="1843.6" cy="481.3" r="8.9" class="P"/><circle cx="1848.1" cy="544.1" r="7" class="B"/><circle cx="1907.8" cy="156.1" r="6.2" class="P"/><circle cx="1906.3" cy="223.7" r="7.9" class="B"/><circle cx="1905" cy="285.2" r="8.9" class="P"/><circle cx="1906.5" cy="350.6" r="9.2" class="B"/><circle cx="1908.3" cy="416.5" r="8.9" class="P"/><circle cx="1908.1" cy="479.8" r="7.9" class="B"/><circle cx="1909.7" cy="546.6" r="6.2" class="P"/><circle cx="1970.1" cy="221.3" r="6.2" class="P"/><circle cx="1972.6" cy="289" r="7" class="B"/><circle cx="1971.4" cy="354.1" r="7.3" class="P"/><circle cx="1974.5" cy="414.4" r="7" class="B"/><circle cx="1974.4" cy="483.1" r="6.2" class="P"/><ellipse cx="1546" cy="351.8" rx="3" ry="5.4" class="P"/><ellipse cx="1564.1" cy="351.8" rx="3" ry="5.4" class="B"/><ellipse cx="1611.3" cy="222.9" rx="3.6" ry="6.4" class="B"/><ellipse cx="1629.4" cy="222.9" rx="3.6" ry="6.4" class="P"/><ellipse cx="1611.5" cy="284.9" rx="4" ry="7.3" class="P"/><ellipse cx="1629.6" cy="284.9" rx="4" ry="7.3" class="B"/><ellipse cx="1608" cy="351.7" rx="4.2" ry="7.6" class="B"/><ellipse cx="1626.1" cy="351.7" rx="4.2" ry="7.6" class="P"/><ellipse cx="1607.9" cy="414.4" rx="4" ry="7.3" class="P"/><ellipse cx="1626" cy="414.4" rx="4" ry="7.3" class="B"/><ellipse cx="1610.7" cy="479.2" rx="3.6" ry="6.4" class="B"/><ellipse cx="1628.9" cy="479.2" rx="3.6" ry="6.4" class="P"/><ellipse cx="1673.1" cy="157.6" rx="3.3" ry="6" class="B"/><ellipse cx="1691.2" cy="157.6" rx="3.3" ry="6" class="P"/><ellipse cx="1671.2" cy="223.5" rx="4.2" ry="7.7" class="P"/><ellipse cx="1689.3" cy="223.5" rx="4.2" ry="7.7" class="B"/><ellipse cx="1676.5" cy="287.1" rx="4.8" ry="8.7" class="B"/><ellipse cx="1694.6" cy="287.1" rx="4.8" ry="8.7" class="P"/><ellipse cx="1674.4" cy="354.4" rx="5" ry="9" class="P"/><ellipse cx="1692.5" cy="354.4" rx="5" ry="9" class="B"/><ellipse cx="1677.7" cy="414" rx="4.8" ry="8.7" class="B"/><ellipse cx="1695.8" cy="414" rx="4.8" ry="8.7" class="P"/><ellipse cx="1678.1" cy="482.8" rx="4.2" ry="7.7" class="P"/><ellipse cx="1696.2" cy="482.8" rx="4.2" ry="7.7" class="B"/><ellipse cx="1677.5" cy="545" rx="3.3" ry="6" class="B"/><ellipse cx="1695.6" cy="545" rx="3.3" ry="6" class="P"/><ellipse cx="1738" cy="160.2" rx="3.6" ry="6.5" class="P"/><ellipse cx="1756.1" cy="160.2" rx="3.6" ry="6.5" class="B"/><ellipse cx="1735.7" cy="223.4" rx="4.6" ry="8.3" class="B"/><ellipse cx="1753.8" cy="223.4" rx="4.6" ry="8.3" class="P"/><ellipse cx="1740.3" cy="289" rx="5.2" ry="9.3" class="P"/><ellipse cx="1758.4" cy="289" rx="5.2" ry="9.3" class="B"/><ellipse cx="1739.1" cy="352" rx="5.4" ry="9.7" class="B"/><ellipse cx="1757.2" cy="352" rx="5.4" ry="9.7" class="P"/><ellipse cx="1741.2" cy="420.8" rx="5.2" ry="9.3" class="P"/><ellipse cx="1759.3" cy="420.8" rx="5.2" ry="9.3" class="B"/><ellipse cx="1734.8" cy="484.7" rx="4.6" ry="8.3" class="B"/><ellipse cx="1753" cy="484.7" rx="4.6" ry="8.3" class="P"/><ellipse cx="1741.8" cy="545.3" rx="3.6" ry="6.5" class="P"/><ellipse cx="1759.9" cy="545.3" rx="3.6" ry="6.5" class="B"/><ellipse cx="1807.1" cy="159.5" rx="3.6" ry="6.5" class="B"/><ellipse cx="1825.2" cy="159.5" rx="3.6" ry="6.5" class="P"/><ellipse cx="1805.3" cy="221.9" rx="4.6" ry="8.3" class="P"/><ellipse cx="1823.4" cy="221.9" rx="4.6" ry="8.3" class="B"/><ellipse cx="1806.5" cy="289.9" rx="5.2" ry="9.3" class="B"/><ellipse cx="1824.7" cy="289.9" rx="5.2" ry="9.3" class="P"/><ellipse cx="1799.6" cy="350" rx="5.4" ry="9.7" class="P"/><ellipse cx="1817.8" cy="350" rx="5.4" ry="9.7" class="B"/><ellipse cx="1805.4" cy="419" rx="5.2" ry="9.3" class="B"/><ellipse cx="1823.5" cy="419" rx="5.2" ry="9.3" class="P"/><ellipse cx="1805.7" cy="477.7" rx="4.6" ry="8.3" class="P"/><ellipse cx="1823.8" cy="477.7" rx="4.6" ry="8.3" class="B"/><ellipse cx="1804.7" cy="547.5" rx="3.6" ry="6.5" class="B"/><ellipse cx="1822.8" cy="547.5" rx="3.6" ry="6.5" class="P"/><ellipse cx="1868.5" cy="160.8" rx="3.3" ry="6" class="P"/><ellipse cx="1886.6" cy="160.8" rx="3.3" ry="6" class="B"/><ellipse cx="1870" cy="225.3" rx="4.2" ry="7.7" class="B"/><ellipse cx="1888.1" cy="225.3" rx="4.2" ry="7.7" class="P"/><ellipse cx="1871.5" cy="289.3" rx="4.8" ry="8.7" class="P"/><ellipse cx="1889.6" cy="289.3" rx="4.8" ry="8.7" class="B"/><ellipse cx="1866.1" cy="354.7" rx="5" ry="9" class="B"/><ellipse cx="1884.2" cy="354.7" rx="5" ry="9" class="P"/><ellipse cx="1867.6" cy="417.8" rx="4.8" ry="8.7" class="P"/><ellipse cx="1885.7" cy="417.8" rx="4.8" ry="8.7" class="B"/><ellipse cx="1871.4" cy="484.5" rx="4.2" ry="7.7" class="B"/><ellipse cx="1889.5" cy="484.5" rx="4.2" ry="7.7" class="P"/><ellipse cx="1864.7" cy="547.7" rx="3.3" ry="6" class="P"/><ellipse cx="1882.8" cy="547.7" rx="3.3" ry="6" class="B"/><ellipse cx="1934.1" cy="223.8" rx="3.6" ry="6.4" class="P"/><ellipse cx="1952.2" cy="223.8" rx="3.6" ry="6.4" class="B"/><ellipse cx="1935.7" cy="284.5" rx="4" ry="7.3" class="B"/><ellipse cx="1953.8" cy="284.5" rx="4" ry="7.3" class="P"/><ellipse cx="1932.5" cy="354.4" rx="4.2" ry="7.6" class="P"/><ellipse cx="1950.6" cy="354.4" rx="4.2" ry="7.6" class="B"/><ellipse cx="1932.5" cy="415.9" rx="4" ry="7.3" class="B"/><ellipse cx="1950.6" cy="415.9" rx="4" ry="7.3" class="P"/><ellipse cx="1936" cy="479.7" rx="3.6" ry="6.4" class="P"/><ellipse cx="1954.1" cy="479.7" rx="3.6" ry="6.4" class="B"/><ellipse cx="1993" cy="352.7" rx="3" ry="5.4" class="B"/><ellipse cx="2011.1" cy="352.7" rx="3" ry="5.4" class="P"/><ellipse cx="1587.3" cy="246.2" rx="6" ry="3.3" class="B"/><ellipse cx="1587.3" cy="264.3" rx="6" ry="3.3" class="P"/><ellipse cx="1587.9" cy="310.6" rx="6.5" ry="3.6" class="P"/><ellipse cx="1587.9" cy="328.7" rx="6.5" ry="3.6" class="B"/><ellipse cx="1587.9" cy="379.4" rx="6.5" ry="3.6" class="B"/><ellipse cx="1587.9" cy="397.5" rx="6.5" ry="3.6" class="P"/><ellipse cx="1589.9" cy="439" rx="6" ry="3.3" class="P"/><ellipse cx="1589.9" cy="457.1" rx="6" ry="3.3" class="B"/><ellipse cx="1653.3" cy="186.1" rx="6.4" ry="3.6" class="B"/><ellipse cx="1653.3" cy="204.2" rx="6.4" ry="3.6" class="P"/><ellipse cx="1647.7" cy="245.5" rx="7.7" ry="4.2" class="P"/><ellipse cx="1647.7" cy="263.6" rx="7.7" ry="4.2" class="B"/><ellipse cx="1649.1" cy="309.5" rx="8.3" ry="4.6" class="B"/><ellipse cx="1649.1" cy="327.6" rx="8.3" ry="4.6" class="P"/><ellipse cx="1647.2" cy="377.3" rx="8.3" ry="4.6" class="P"/><ellipse cx="1647.2" cy="395.5" rx="8.3" ry="4.6" class="B"/><ellipse cx="1650.2" cy="436.2" rx="7.7" ry="4.2" class="B"/><ellipse cx="1650.2" cy="454.3" rx="7.7" ry="4.2" class="P"/><ellipse cx="1649.1" cy="506.4" rx="6.4" ry="3.6" class="P"/><ellipse cx="1649.1" cy="524.5" rx="6.4" ry="3.6" class="B"/><ellipse cx="1713.6" cy="186.4" rx="7.3" ry="4" class="P"/><ellipse cx="1713.6" cy="204.5" rx="7.3" ry="4" class="B"/><ellipse cx="1719.1" cy="247.5" rx="8.7" ry="4.8" class="B"/><ellipse cx="1719.1" cy="265.6" rx="8.7" ry="4.8" class="P"/><ellipse cx="1718.6" cy="310.3" rx="9.3" ry="5.2" class="P"/><ellipse cx="1718.6" cy="328.5" rx="9.3" ry="5.2" class="B"/><ellipse cx="1715.9" cy="377.1" rx="9.3" ry="5.2" class="B"/><ellipse cx="1715.9" cy="395.2" rx="9.3" ry="5.2" class="P"/><ellipse cx="1714.1" cy="442.5" rx="8.7" ry="4.8" class="P"/><ellipse cx="1714.1" cy="460.6" rx="8.7" ry="4.8" class="B"/><ellipse cx="1716.5" cy="503.1" rx="7.3" ry="4" class="B"/><ellipse cx="1716.5" cy="521.2" rx="7.3" ry="4" class="P"/><ellipse cx="1780.6" cy="114.7" rx="5.4" ry="3" class="P"/><ellipse cx="1780.6" cy="132.9" rx="5.4" ry="3" class="B"/><ellipse cx="1782.5" cy="181.9" rx="7.6" ry="4.2" class="B"/><ellipse cx="1782.5" cy="200" rx="7.6" ry="4.2" class="P"/><ellipse cx="1782.9" cy="250.8" rx="9" ry="5" class="P"/><ellipse cx="1782.9" cy="268.9" rx="9" ry="5" class="B"/><ellipse cx="1777.4" cy="313.2" rx="9.7" ry="5.4" class="B"/><ellipse cx="1777.4" cy="331.3" rx="9.7" ry="5.4" class="P"/><ellipse cx="1780.1" cy="375.7" rx="9.7" ry="5.4" class="P"/><ellipse cx="1780.1" cy="393.8" rx="9.7" ry="5.4" class="B"/><ellipse cx="1776.2" cy="437.4" rx="9" ry="5" class="B"/><ellipse cx="1776.2" cy="455.5" rx="9" ry="5" class="P"/><ellipse cx="1783.7" cy="505.5" rx="7.6" ry="4.2" class="P"/><ellipse cx="1783.7" cy="523.6" rx="7.6" ry="4.2" class="B"/><ellipse cx="1779" cy="566" rx="5.4" ry="3" class="B"/><ellipse cx="1779" cy="584.1" rx="5.4" ry="3" class="P"/><ellipse cx="1842.1" cy="184.6" rx="7.3" ry="4" class="P"/><ellipse cx="1842.1" cy="202.7" rx="7.3" ry="4" class="B"/><ellipse cx="1846.9" cy="247.9" rx="8.7" ry="4.8" class="B"/><ellipse cx="1846.9" cy="266" rx="8.7" ry="4.8" class="P"/><ellipse cx="1843.1" cy="312.1" rx="9.3" ry="5.2" class="P"/><ellipse cx="1843.1" cy="330.2" rx="9.3" ry="5.2" class="B"/><ellipse cx="1842.7" cy="376.9" rx="9.3" ry="5.2" class="B"/><ellipse cx="1842.7" cy="395" rx="9.3" ry="5.2" class="P"/><ellipse cx="1841.9" cy="440.2" rx="8.7" ry="4.8" class="P"/><ellipse cx="1841.9" cy="458.3" rx="8.7" ry="4.8" class="B"/><ellipse cx="1845.9" cy="502" rx="7.3" ry="4" class="B"/><ellipse cx="1845.9" cy="520.1" rx="7.3" ry="4" class="P"/><ellipse cx="1907.7" cy="184.1" rx="6.4" ry="3.6" class="B"/><ellipse cx="1907.7" cy="202.2" rx="6.4" ry="3.6" class="P"/><ellipse cx="1912" cy="244.6" rx="7.7" ry="4.2" class="P"/><ellipse cx="1912" cy="262.7" rx="7.7" ry="4.2" class="B"/><ellipse cx="1910.7" cy="308.9" rx="8.3" ry="4.6" class="B"/><ellipse cx="1910.7" cy="327" rx="8.3" ry="4.6" class="P"/><ellipse cx="1910.6" cy="373.7" rx="8.3" ry="4.6" class="P"/><ellipse cx="1910.6" cy="391.8" rx="8.3" ry="4.6" class="B"/><ellipse cx="1909.7" cy="440.3" rx="7.7" ry="4.2" class="B"/><ellipse cx="1909.7" cy="458.4" rx="7.7" ry="4.2" class="P"/><ellipse cx="1905.8" cy="507.4" rx="6.4" ry="3.6" class="P"/><ellipse cx="1905.8" cy="525.5" rx="6.4" ry="3.6" class="B"/><ellipse cx="1971.6" cy="249.3" rx="6" ry="3.3" class="B"/><ellipse cx="1971.6" cy="267.4" rx="6" ry="3.3" class="P"/><ellipse cx="1970.8" cy="309.8" rx="6.5" ry="3.6" class="P"/><ellipse cx="1970.8" cy="327.9" rx="6.5" ry="3.6" class="B"/><ellipse cx="1971.5" cy="377" rx="6.5" ry="3.6" class="B"/><ellipse cx="1971.5" cy="395.1" rx="6.5" ry="3.6" class="P"/><ellipse cx="1975.8" cy="437.1" rx="6" ry="3.3" class="P"/><ellipse cx="1975.8" cy="455.2" rx="6" ry="3.3" class="B"/><circle cx="1588.7" cy="352.5" r="7.9" class="B"/><circle cx="1648.2" cy="223.3" r="8.5" class="P"/><circle cx="1647.9" cy="291.4" r="9.6" class="B"/><circle cx="1650.6" cy="355.2" r="10" class="P"/><circle cx="1647.1" cy="414.4" r="9.6" class="B"/><circle cx="1653.1" cy="479.2" r="8.5" class="P"/><circle cx="1715.7" cy="227" r="9.6" class="B"/><circle cx="1713.6" cy="284.7" r="10.9" class="P"/><circle cx="1717.2" cy="356.4" r="11.3" class="B"/><circle cx="1712.2" cy="415.5" r="10.9" class="P"/><circle cx="1712.5" cy="484.3" r="9.6" class="B"/><circle cx="1783.8" cy="155.3" r="7.9" class="B"/><circle cx="1782.2" cy="222.4" r="10" class="P"/><circle cx="1780.8" cy="285.6" r="11.3" class="B"/><circle cx="1780.5" cy="356" r="11.7" class="P"/><circle cx="1777.5" cy="419.1" r="11.3" class="B"/><circle cx="1780.5" cy="478" r="10" class="P"/><circle cx="1777.6" cy="546.9" r="7.9" class="B"/><circle cx="1848" cy="226.8" r="9.6" class="B"/><circle cx="1845" cy="284.3" r="10.9" class="P"/><circle cx="1848.5" cy="355.1" r="11.3" class="B"/><circle cx="1843" cy="414.3" r="10.9" class="P"/><circle cx="1845.8" cy="477.7" r="9.6" class="B"/><circle cx="1909.3" cy="220.5" r="8.5" class="P"/><circle cx="1912.3" cy="285" r="9.6" class="B"/><circle cx="1907.8" cy="356.5" r="10" class="P"/><circle cx="1906" cy="417.1" r="9.6" class="B"/><circle cx="1906" cy="480.3" r="8.5" class="P"/><circle cx="1972.3" cy="355.3" r="7.9" class="B"/><circle cx="1588.5" cy="352.5" r="7.9" class="P"/><circle cx="1648.1" cy="223.2" r="8.5" class="B"/><circle cx="1647.8" cy="291.3" r="9.6" class="P"/><circle cx="1650.6" cy="355.2" r="10" class="B"/><circle cx="1647" cy="414.5" r="9.6" class="P"/><circle cx="1653" cy="479.3" r="8.5" class="B"/><circle cx="1715.7" cy="227" r="9.6" class="P"/><circle cx="1713.5" cy="284.7" r="10.9" class="B"/><circle cx="1717.2" cy="356.4" r="11.3" class="P"/><circle cx="1712.2" cy="415.5" r="10.9" class="B"/><circle cx="1712.5" cy="484.4" r="9.6" class="P"/><circle cx="1783.8" cy="155.2" r="7.9" class="P"/><circle cx="1782.2" cy="222.4" r="10" class="B"/><circle cx="1780.8" cy="285.6" r="11.3" class="P"/><circle cx="1780.5" cy="356" r="11.7" class="B"/><circle cx="1777.5" cy="419.2" r="11.3" class="P"/><circle cx="1780.5" cy="478" r="10" class="B"/><circle cx="1777.6" cy="547" r="7.9" class="P"/><circle cx="1848" cy="226.7" r="9.6" class="P"/><circle cx="1845" cy="284.2" r="10.9" class="B"/><circle cx="1848.5" cy="355.1" r="11.3" class="P"/><circle cx="1843.1" cy="414.3" r="10.9" class="B"/><circle cx="1845.9" cy="477.8" r="9.6" class="P"/><circle cx="1909.3" cy="220.4" r="8.5" class="B"/><circle cx="1912.4" cy="284.9" r="9.6" class="P"/><circle cx="1907.9" cy="356.5" r="10" class="B"/><circle cx="1906" cy="417.2" r="9.6" class="P"/><circle cx="1906.1" cy="480.4" r="8.5" class="B"/><circle cx="1972.4" cy="355.3" r="7.9" class="P"/><circle cx="1715.5" cy="285.5" r="6.2" class="P"/><circle cx="1716.8" cy="355.9" r="6.4" class="B"/><circle cx="1714.4" cy="419.7" r="6.2" class="P"/><circle cx="1780.4" cy="287.9" r="6.4" class="B"/><circle cx="1777.4" cy="349.5" r="6.7" class="P"/><circle cx="1782.5" cy="419.6" r="6.4" class="B"/><circle cx="1841.2" cy="288.5" r="6.2" class="P"/><circle cx="1846.4" cy="353.2" r="6.4" class="B"/><circle cx="1841.3" cy="418" r="6.2" class="P"/><ellipse cx="1674.8" cy="354.9" rx="3.1" ry="5.6" class="B"/><ellipse cx="1692.9" cy="354.9" rx="3.1" ry="5.6" class="P"/><ellipse cx="1739.6" cy="285.8" rx="3.2" ry="5.8" class="B"/><ellipse cx="1757.8" cy="285.8" rx="3.2" ry="5.8" class="P"/><ellipse cx="1739.6" cy="353.3" rx="3.3" ry="6" class="P"/><ellipse cx="1757.8" cy="353.3" rx="3.3" ry="6" class="B"/><ellipse cx="1737.1" cy="419.7" rx="3.2" ry="5.8" class="B"/><ellipse cx="1755.2" cy="419.7" rx="3.2" ry="5.8" class="P"/><ellipse cx="1802.8" cy="291.6" rx="3.2" ry="5.8" class="P"/><ellipse cx="1821" cy="291.6" rx="3.2" ry="5.8" class="B"/><ellipse cx="1805.3" cy="355" rx="3.3" ry="6" class="B"/><ellipse cx="1823.5" cy="355" rx="3.3" ry="6" class="P"/><ellipse cx="1804.7" cy="416.8" rx="3.2" ry="5.8" class="P"/><ellipse cx="1822.8" cy="416.8" rx="3.2" ry="5.8" class="B"/><ellipse cx="1863.9" cy="355.2" rx="3.1" ry="5.6" class="P"/><ellipse cx="1882" cy="355.2" rx="3.1" ry="5.6" class="B"/><ellipse cx="1715.7" cy="314.2" rx="5.8" ry="3.2" class="B"/><ellipse cx="1715.7" cy="332.3" rx="5.8" ry="3.2" class="P"/><ellipse cx="1717.2" cy="376.3" rx="5.8" ry="3.2" class="P"/><ellipse cx="1717.2" cy="394.5" rx="5.8" ry="3.2" class="B"/><ellipse cx="1780.5" cy="245.8" rx="5.6" ry="3.1" class="B"/><ellipse cx="1780.5" cy="264" rx="5.6" ry="3.1" class="P"/><ellipse cx="1781.2" cy="311.5" rx="6" ry="3.3" class="P"/><ellipse cx="1781.2" cy="329.6" rx="6" ry="3.3" class="B"/><ellipse cx="1782" cy="373.4" rx="6" ry="3.3" class="B"/><ellipse cx="1782" cy="391.5" rx="6" ry="3.3" class="P"/><ellipse cx="1779.4" cy="441.3" rx="5.6" ry="3.1" class="P"/><ellipse cx="1779.4" cy="459.5" rx="5.6" ry="3.1" class="B"/><ellipse cx="1842.5" cy="312.8" rx="5.8" ry="3.2" class="B"/><ellipse cx="1842.5" cy="331" rx="5.8" ry="3.2" class="P"/><ellipse cx="1846.2" cy="372.7" rx="5.8" ry="3.2" class="P"/><ellipse cx="1846.2" cy="390.8" rx="5.8" ry="3.2" class="B"/></g>
<g opacity="0.3" fill="none" stroke="#777" stroke-linejoin="round"><path d="M1494.3 64.7 1558.4 65.6 1621 63.1 1686.4 62 1746.8 64.2 1813.4 63 1877.8 66.9 1938.3 65 2001.5 63.9 2065.7 66.8M1491.7 130.7 1557.4 130.3 1618.4 126.4 1684.5 126.8 1749.2 128 1812.1 130.7 1876.1 126.5 1938.3 128.7 2004.1 129.2 2067.5 129.2M1491.5 193.1 1557.3 190.9 1619.4 192.5 1684.9 191.3 1748.3 193.1 1814 191.8 1876.7 191 1940 190.9 2006.1 192.2 2069.7 192.1M1494 256 1555.2 256.9 1621.7 258.3 1684.5 254.4 1748.5 255.2 1813.2 258.5 1876.1 257 1937.8 256.7 2002.1 257.1 2067.3 257.8M1489.7 318.5 1556.9 320.6 1620.4 322.2 1683.9 322.1 1748.1 322.6 1812.8 318.7 1875.3 322.3 1939.3 318.9 2003.9 320 2068.6 320.2M1490.8 384.1 1555.6 386.5 1622.4 385.1 1681.9 385.7 1748.9 386.1 1811.2 382.3 1876.6 382.6 1941.3 386 2003.5 386.7 2066.4 386.7M1491.8 449.8 1557.3 450.9 1622.4 446.2 1681.6 448.7 1745.7 449.3 1812.2 449.3 1875.7 447.4 1942.2 449.6 2001.5 446.5 2068.7 447.4M1491.5 513.9 1555.3 514.6 1621.1 512.8 1682.4 512 1749.3 515 1809.9 510.7 1877.2 514.2 1937.9 514.1 2005.4 513.4 2067.2 512.2M1491.3 578.2 1555.1 575.6 1622.2 578.6 1686.3 578 1745.9 574.5 1812.3 578.3 1877.9 577.2 1942.3 574.8 2002.6 575.7 2066.8 575.6M1490.1 639.9 1553.6 640.7 1622.2 640.2 1684.6 641.1 1750.2 641.7 1813.6 639.7 1878 638.9 1939.5 641.7 2003.2 642.4 2069.8 638.8M1494.3 64.7 1491.7 130.7 1491.5 193.1 1494 256 1489.7 318.5 1490.8 384.1 1491.8 449.8 1491.5 513.9 1491.3 578.2 1490.1 639.9M1558.4 65.6 1557.4 130.3 1557.3 190.9 1555.2 256.9 1556.9 320.6 1555.6 386.5 1557.3 450.9 1555.3 514.6 1555.1 575.6 1553.6 640.7M1621 63.1 1618.4 126.4 1619.4 192.5 1621.7 258.3 1620.4 322.2 1622.4 385.1 1622.4 446.2 1621.1 512.8 1622.2 578.6 1622.2 640.2M1686.4 62 1684.5 126.8 1684.9 191.3 1684.5 254.4 1683.9 322.1 1681.9 385.7 1681.6 448.7 1682.4 512 1686.3 578 1684.6 641.1M1746.8 64.2 1749.2 128 1748.3 193.1 1748.5 255.2 1748.1 322.6 1748.9 386.1 1745.7 449.3 1749.3 515 1745.9 574.5 1750.2 641.7M1813.4 63 1812.1 130.7 1814 191.8 1813.2 258.5 1812.8 318.7 1811.2 382.3 1812.2 449.3 1809.9 510.7 1812.3 578.3 1813.6 639.7M1877.8 66.9 1876.1 126.5 1876.7 191 1876.1 257 1875.3 322.3 1876.6 382.6 1875.7 447.4 1877.2 514.2 1877.9 577.2 1878 638.9M1938.3 65 1938.3 128.7 1940 190.9 1937.8 256.7 1939.3 318.9 1941.3 386 1942.2 449.6 1937.9 514.1 1942.3 574.8 1939.5 641.7M2001.5 63.9 2004.1 129.2 2006.1 192.2 2002.1 257.1 2003.9 320 2003.5 386.7 2001.5 446.5 2005.4 513.4 2002.6 575.7 2003.2 642.4M2065.7 66.8 2067.5 129.2 2069.7 192.1 2067.3 257.8 2068.6 320.2 2066.4 386.7 2068.7 447.4 2067.2 512.2 2066.8 575.6 2069.8 638.8" stroke-width="1"/><path d="M1494.3 64.7 1523.2 95.2 1557.4 130.3M1558.4 65.6 1523.2 95.2 1491.7 130.7M1526.3 65.2 1523.2 95.2 1524.6 130.5M1557.9 98 1523.2 95.2 1493 97.7M1558.4 65.6 1589.1 96 1618.4 126.4M1621 63.1 1589.1 96 1557.4 130.3M1589.7 64.3 1589.1 96 1587.9 128.4M1619.7 94.7 1589.1 96 1557.9 98M1621 63.1 1651.7 95.8 1684.5 126.8M1686.4 62 1651.7 95.8 1618.4 126.4M1653.7 62.6 1651.7 95.8 1651.4 126.6M1685.4 94.4 1651.7 95.8 1619.7 94.7M1686.4 62 1714.9 96.4 1749.2 128M1746.8 64.2 1714.9 96.4 1684.5 126.8M1716.6 63.1 1714.9 96.4 1716.8 127.4M1748 96.1 1714.9 96.4 1685.4 94.4M1746.8 64.2 1779.2 96.7 1812.1 130.7M1813.4 63 1779.2 96.7 1749.2 128M1780.1 63.6 1779.2 96.7 1780.7 129.4M1812.8 96.8 1779.2 96.7 1748 96.1M1813.4 63 1843.1 96.5 1876.1 126.5M1877.8 66.9 1843.1 96.5 1812.1 130.7M1845.6 65 1843.1 96.5 1844.1 128.6M1877 96.7 1843.1 96.5 1812.8 96.8M1877.8 66.9 1909.3 96.1 1938.3 128.7M1938.3 65 1909.3 96.1 1876.1 126.5M1908.1 66 1909.3 96.1 1907.2 127.6M1938.3 96.9 1909.3 96.1 1877 96.7M1938.3 65 1973.4 95.2 2004.1 129.2M2001.5 63.9 1973.4 95.2 1938.3 128.7M1969.9 64.5 1973.4 95.2 1971.2 129M2002.8 96.6 1973.4 95.2 1938.3 96.9M2001.5 63.9 2036.1 96.8 2067.5 129.2M2065.7 66.8 2036.1 96.8 2004.1 129.2M2033.6 65.4 2036.1 96.8 2035.8 129.2M2066.6 98 2036.1 96.8 2002.8 96.6M1491.7 130.7 1525.4 161.8 1557.3 190.9M1557.4 130.3 1525.4 161.8 1491.5 193.1M1524.6 130.5 1525.4 161.8 1524.4 192M1557.4 160.6 1525.4 161.8 1491.6 161.9M1557.4 130.3 1588 161.3 1619.4 192.5M1618.4 126.4 1588 161.3 1557.3 190.9M1587.9 128.4 1588 161.3 1588.4 191.7M1618.9 159.4 1588 161.3 1557.4 160.6M1618.4 126.4 1653.4 161.2 1684.9 191.3M1684.5 126.8 1653.4 161.2 1619.4 192.5M1651.4 126.6 1653.4 161.2 1652.2 191.9M1684.7 159.1 1653.4 161.2 1618.9 159.4M1684.5 126.8 1717.4 161.8 1748.3 193.1M1749.2 128 1717.4 161.8 1684.9 191.3M1716.8 127.4 1717.4 161.8 1716.6 192.2M1748.7 160.6 1717.4 161.8 1684.7 159.1M1749.2 128 1779.9 161 1814 191.8M1812.1 130.7 1779.9 161 1748.3 193.1M1780.7 129.4 1779.9 161 1781.1 192.5M1813.1 161.3 1779.9 161 1748.7 160.6M1812.1 130.7 1843 160.3 1876.7 191M1876.1 126.5 1843 160.3 1814 191.8M1844.1 128.6 1843 160.3 1845.3 191.4M1876.4 158.7 1843 160.3 1813.1 161.3M1876.1 126.5 1909.1 160.7 1940 190.9M1938.3 128.7 1909.1 160.7 1876.7 191M1907.2 127.6 1909.1 160.7 1908.3 190.9M1939.1 159.8 1909.1 160.7 1876.4 158.7M1938.3 128.7 1971.3 159.4 2006.1 192.2M2004.1 129.2 1971.3 159.4 1940 190.9M1971.2 129 1971.3 159.4 1973 191.5M2005.1 160.7 1971.3 159.4 1939.1 159.8M2004.1 129.2 2035.2 159.4 2069.7 192.1M2067.5 129.2 2035.2 159.4 2006.1 192.2M2035.8 129.2 2035.2 159.4 2037.9 192.1M2068.6 160.7 2035.2 159.4 2005.1 160.7M1491.5 193.1 1523.2 224.2 1555.2 256.9M1557.3 190.9 1523.2 224.2 1494 256M1524.4 192 1523.2 224.2 1524.6 256.4M1556.2 223.9 1523.2 224.2 1492.8 224.6M1557.3 190.9 1586.6 225.5 1621.7 258.3M1619.4 192.5 1586.6 225.5 1555.2 256.9M1588.4 191.7 1586.6 225.5 1588.4 257.6M1620.6 225.4 1586.6 225.5 1556.2 223.9M1619.4 192.5 1651.7 224.7 1684.5 254.4M1684.9 191.3 1651.7 224.7 1621.7 258.3M1652.2 191.9 1651.7 224.7 1653.1 256.4M1684.7 222.8 1651.7 224.7 1620.6 225.4M1684.9 191.3 1716.4 223.4 1748.5 255.2M1748.3 193.1 1716.4 223.4 1684.5 254.4M1716.6 192.2 1716.4 223.4 1716.5 254.8M1748.4 224.2 1716.4 223.4 1684.7 222.8M1748.3 193.1 1778.7 223.5 1813.2 258.5M1814 191.8 1778.7 223.5 1748.5 255.2M1781.1 192.5 1778.7 223.5 1780.8 256.9M1813.6 225.1 1778.7 223.5 1748.4 224.2M1814 191.8 1845.5 223.3 1876.1 257M1876.7 191 1845.5 223.3 1813.2 258.5M1845.3 191.4 1845.5 223.3 1844.6 257.7M1876.4 224 1845.5 223.3 1813.6 225.1M1876.7 191 1907.8 225.6 1937.8 256.7M1940 190.9 1907.8 225.6 1876.1 257M1908.3 190.9 1907.8 225.6 1906.9 256.9M1938.9 223.8 1907.8 225.6 1876.4 224M1940 190.9 1972.3 223.1 2002.1 257.1M2006.1 192.2 1972.3 223.1 1937.8 256.7M1973 191.5 1972.3 223.1 1970 256.9M2004.1 224.6 1972.3 223.1 1938.9 223.8M2006.1 192.2 2037.2 224.2 2067.3 257.8M2069.7 192.1 2037.2 224.2 2002.1 257.1M2037.9 192.1 2037.2 224.2 2034.7 257.5M2068.5 225 2037.2 224.2 2004.1 224.6M1494 256 1523 288 1556.9 320.6M1555.2 256.9 1523 288 1489.7 318.5M1524.6 256.4 1523 288 1523.3 319.6M1556 288.7 1523 288 1491.9 287.3M1555.2 256.9 1588.3 287.1 1620.4 322.2M1621.7 258.3 1588.3 287.1 1556.9 320.6M1588.4 257.6 1588.3 287.1 1588.6 321.4M1621 290.3 1588.3 287.1 1556 288.7M1621.7 258.3 1652.4 288.8 1683.9 322.1M1684.5 254.4 1652.4 288.8 1620.4 322.2M1653.1 256.4 1652.4 288.8 1652.1 322.1M1684.2 288.2 1652.4 288.8 1621 290.3M1684.5 254.4 1715.2 288.3 1748.1 322.6M1748.5 255.2 1715.2 288.3 1683.9 322.1M1716.5 254.8 1715.2 288.3 1716 322.3M1748.3 288.9 1715.2 288.3 1684.2 288.2M1748.5 255.2 1779.1 287.1 1812.8 318.7M1813.2 258.5 1779.1 287.1 1748.1 322.6M1780.8 256.9 1779.1 287.1 1780.4 320.7M1813 288.6 1779.1 287.1 1748.3 288.9M1813.2 258.5 1844.3 288.3 1875.3 322.3M1876.1 257 1844.3 288.3 1812.8 318.7M1844.6 257.7 1844.3 288.3 1844.1 320.5M1875.7 289.7 1844.3 288.3 1813 288.6M1876.1 257 1909 287.6 1939.3 318.9M1937.8 256.7 1909 287.6 1875.3 322.3M1906.9 256.9 1909 287.6 1907.3 320.6M1938.5 287.8 1909 287.6 1875.7 289.7M1937.8 256.7 1971.8 289 2003.9 320M2002.1 257.1 1971.8 289 1939.3 318.9M1970 256.9 1971.8 289 1971.6 319.5M2003 288.5 1971.8 289 1938.5 287.8M2002.1 257.1 2034.7 288.1 2068.6 320.2M2067.3 257.8 2034.7 288.1 2003.9 320M2034.7 257.5 2034.7 288.1 2036.2 320.1M2068 289 2034.7 288.1 2003 288.5M1489.7 318.5 1524.6 351.7 1555.6 386.5M1556.9 320.6 1524.6 351.7 1490.8 384.1M1523.3 319.6 1524.6 351.7 1523.2 385.3M1556.3 353.5 1524.6 351.7 1490.3 351.3M1556.9 320.6 1587.6 352.7 1622.4 385.1M1620.4 322.2 1587.6 352.7 1555.6 386.5M1588.6 321.4 1587.6 352.7 1589 385.8M1621.4 353.7 1587.6 352.7 1556.3 353.5M1620.4 322.2 1651.7 353.6 1681.9 385.7M1683.9 322.1 1651.7 353.6 1622.4 385.1M1652.1 322.1 1651.7 353.6 1652.2 385.4M1682.9 353.9 1651.7 353.6 1621.4 353.7M1683.9 322.1 1717.1 353.5 1748.9 386.1M1748.1 322.6 1717.1 353.5 1681.9 385.7M1716 322.3 1717.1 353.5 1715.4 385.9M1748.5 354.4 1717.1 353.5 1682.9 353.9M1748.1 322.6 1779.8 351.6 1811.2 382.3M1812.8 318.7 1779.8 351.6 1748.9 386.1M1780.4 320.7 1779.8 351.6 1780.1 384.2M1812 350.5 1779.8 351.6 1748.5 354.4M1812.8 318.7 1844.4 352.3 1876.6 382.6M1875.3 322.3 1844.4 352.3 1811.2 382.3M1844.1 320.5 1844.4 352.3 1843.9 382.5M1875.9 352.5 1844.4 352.3 1812 350.5M1875.3 322.3 1908 353 1941.3 386M1939.3 318.9 1908 353 1876.6 382.6M1907.3 320.6 1908 353 1908.9 384.3M1940.3 352.5 1908 353 1875.9 352.5M1939.3 318.9 1973.3 353.4 2003.5 386.7M2003.9 320 1973.3 353.4 1941.3 386M1971.6 319.5 1973.3 353.4 1972.4 386.3M2003.7 353.3 1973.3 353.4 1940.3 352.5M2003.9 320 2034.9 353.7 2066.4 386.7M2068.6 320.2 2034.9 353.7 2003.5 386.7M2036.2 320.1 2034.9 353.7 2035 386.7M2067.5 353.4 2034.9 353.7 2003.7 353.3M1490.8 384.1 1524.5 416 1557.3 450.9M1555.6 386.5 1524.5 416 1491.8 449.8M1523.2 385.3 1524.5 416 1524.5 450.4M1556.4 418.7 1524.5 416 1491.3 416.9M1555.6 386.5 1588.7 416.4 1622.4 446.2M1622.4 385.1 1588.7 416.4 1557.3 450.9M1589 385.8 1588.7 416.4 1589.8 448.6M1622.4 415.7 1588.7 416.4 1556.4 418.7M1622.4 385.1 1652.2 416.7 1681.6 448.7M1681.9 385.7 1652.2 416.7 1622.4 446.2M1652.2 385.4 1652.2 416.7 1652 447.5M1681.7 417.2 1652.2 416.7 1622.4 415.7M1681.9 385.7 1715 416.1 1745.7 449.3M1748.9 386.1 1715 416.1 1681.6 448.7M1715.4 385.9 1715 416.1 1713.6 449M1747.3 417.7 1715 416.1 1681.7 417.2M1748.9 386.1 1779.8 415.2 1812.2 449.3M1811.2 382.3 1779.8 415.2 1745.7 449.3M1780.1 384.2 1779.8 415.2 1778.9 449.3M1811.7 415.8 1779.8 415.2 1747.3 417.7M1811.2 382.3 1844.7 416 1875.7 447.4M1876.6 382.6 1844.7 416 1812.2 449.3M1843.9 382.5 1844.7 416 1843.9 448.3M1876.1 415 1844.7 416 1811.7 415.8M1876.6 382.6 1907.9 417.8 1942.2 449.6M1941.3 386 1907.9 417.8 1875.7 447.4M1908.9 384.3 1907.9 417.8 1909 448.5M1941.8 417.8 1907.9 417.8 1876.1 415M1941.3 386 1973.1 415.8 2001.5 446.5M2003.5 386.7 1973.1 415.8 1942.2 449.6M1972.4 386.3 1973.1 415.8 1971.9 448.1M2002.5 416.6 1973.1 415.8 1941.8 417.8M2003.5 386.7 2035.7 416.7 2068.7 447.4M2066.4 386.7 2035.7 416.7 2001.5 446.5M2035 386.7 2035.7 416.7 2035.1 447M2067.5 417.1 2035.7 416.7 2002.5 416.6M1491.8 449.8 1522.9 481.4 1555.3 514.6M1557.3 450.9 1522.9 481.4 1491.5 513.9M1524.5 450.4 1522.9 481.4 1523.4 514.3M1556.3 482.8 1522.9 481.4 1491.7 481.9M1557.3 450.9 1587.5 479.3 1621.1 512.8M1622.4 446.2 1587.5 479.3 1555.3 514.6M1589.8 448.6 1587.5 479.3 1588.2 513.7M1621.7 479.5 1587.5 479.3 1556.3 482.8M1622.4 446.2 1652.6 480.5 1682.4 512M1681.6 448.7 1652.6 480.5 1621.1 512.8M1652 447.5 1652.6 480.5 1651.8 512.4M1682 480.4 1652.6 480.5 1621.7 479.5M1681.6 448.7 1714.6 480.7 1749.3 515M1745.7 449.3 1714.6 480.7 1682.4 512M1713.6 449 1714.6 480.7 1715.9 513.5M1747.5 482.1 1714.6 480.7 1682 480.4M1745.7 449.3 1780.8 479.1 1809.9 510.7M1812.2 449.3 1780.8 479.1 1749.3 515M1778.9 449.3 1780.8 479.1 1779.6 512.8M1811 480 1780.8 479.1 1747.5 482.1M1812.2 449.3 1844.5 479.8 1877.2 514.2M1875.7 447.4 1844.5 479.8 1809.9 510.7M1843.9 448.3 1844.5 479.8 1843.5 512.4M1876.5 480.8 1844.5 479.8 1811 480M1875.7 447.4 1907.8 479.2 1937.9 514.1M1942.2 449.6 1907.8 479.2 1877.2 514.2M1909 448.5 1907.8 479.2 1907.6 514.2M1940.1 481.9 1907.8 479.2 1876.5 480.8M1942.2 449.6 1972.1 481.8 2005.4 513.4M2001.5 446.5 1972.1 481.8 1937.9 514.1M1971.9 448.1 1972.1 481.8 1971.7 513.8M2003.5 480 1972.1 481.8 1940.1 481.9M2001.5 446.5 2035.4 479.2 2067.2 512.2M2068.7 447.4 2035.4 479.2 2005.4 513.4M2035.1 447 2035.4 479.2 2036.3 512.8M2067.9 479.8 2035.4 479.2 2003.5 480M1491.5 513.9 1525 545.8 1555.1 575.6M1555.3 514.6 1525 545.8 1491.3 578.2M1523.4 514.3 1525 545.8 1523.2 576.9M1555.2 545.1 1525 545.8 1491.4 546.1M1555.3 514.6 1588 545.7 1622.2 578.6M1621.1 512.8 1588 545.7 1555.1 575.6M1588.2 513.7 1588 545.7 1588.7 577.1M1621.6 545.7 1588 545.7 1555.2 545.1M1621.1 512.8 1653.2 545.2 1686.3 578M1682.4 512 1653.2 545.2 1622.2 578.6M1651.8 512.4 1653.2 545.2 1654.3 578.3M1684.4 545 1653.2 545.2 1621.6 545.7M1682.4 512 1717 543.5 1745.9 574.5M1749.3 515 1717 543.5 1686.3 578M1715.9 513.5 1717 543.5 1716.1 576.2M1747.6 544.7 1717 543.5 1684.4 545M1749.3 515 1781 544.2 1812.3 578.3M1809.9 510.7 1781 544.2 1745.9 574.5M1779.6 512.8 1781 544.2 1779.1 576.4M1811.1 544.5 1781 544.2 1747.6 544.7M1809.9 510.7 1843.4 544.7 1877.9 577.2M1877.2 514.2 1843.4 544.7 1812.3 578.3M1843.5 512.4 1843.4 544.7 1845.1 577.7M1877.6 545.7 1843.4 544.7 1811.1 544.5M1877.2 514.2 1909.1 544.3 1942.3 574.8M1937.9 514.1 1909.1 544.3 1877.9 577.2M1907.6 514.2 1909.1 544.3 1910.1 576M1940.1 544.5 1909.1 544.3 1877.6 545.7M1937.9 514.1 1970.7 543.9 2002.6 575.7M2005.4 513.4 1970.7 543.9 1942.3 574.8M1971.7 513.8 1970.7 543.9 1972.4 575.2M2004 544.6 1970.7 543.9 1940.1 544.5M2005.4 513.4 2035.4 545.1 2066.8 575.6M2067.2 512.2 2035.4 545.1 2002.6 575.7M2036.3 512.8 2035.4 545.1 2034.7 575.6M2067 543.9 2035.4 545.1 2004 544.6M1491.3 578.2 1525.4 608.7 1553.6 640.7M1555.1 575.6 1525.4 608.7 1490.1 639.9M1523.2 576.9 1525.4 608.7 1521.9 640.3M1554.4 608.2 1525.4 608.7 1490.7 609M1555.1 575.6 1587.3 609.1 1622.2 640.2M1622.2 578.6 1587.3 609.1 1553.6 640.7M1588.7 577.1 1587.3 609.1 1587.9 640.5M1622.2 609.4 1587.3 609.1 1554.4 608.2M1622.2 578.6 1650.9 607.2 1684.6 641.1M1686.3 578 1650.9 607.2 1622.2 640.2M1654.3 578.3 1650.9 607.2 1653.4 640.6M1685.5 609.5 1650.9 607.2 1622.2 609.4M1686.3 578 1716.4 608.1 1750.2 641.7M1745.9 574.5 1716.4 608.1 1684.6 641.1M1716.1 576.2 1716.4 608.1 1717.4 641.4M1748.1 608.1 1716.4 608.1 1685.5 609.5M1745.9 574.5 1779.9 607.2 1813.6 639.7M1812.3 578.3 1779.9 607.2 1750.2 641.7M1779.1 576.4 1779.9 607.2 1781.9 640.7M1813 609 1779.9 607.2 1748.1 608.1M1812.3 578.3 1843.9 608.8 1878 638.9M1877.9 577.2 1843.9 608.8 1813.6 639.7M1845.1 577.7 1843.9 608.8 1845.8 639.3M1878 608.1 1843.9 608.8 1813 609M1877.9 577.2 1909.4 607.1 1939.5 641.7M1942.3 574.8 1909.4 607.1 1878 638.9M1910.1 576 1909.4 607.1 1908.8 640.3M1940.9 608.2 1909.4 607.1 1878 608.1M1942.3 574.8 1972.1 608.5 2003.2 642.4M2002.6 575.7 1972.1 608.5 1939.5 641.7M1972.4 575.2 1972.1 608.5 1971.4 642.1M2002.9 609 1972.1 608.5 1940.9 608.2M2002.6 575.7 2036.4 609.6 2069.8 638.8M2066.8 575.6 2036.4 609.6 2003.2 642.4M2034.7 575.6 2036.4 609.6 2036.5 640.6M2068.3 607.2 2036.4 609.6 2002.9 609" stroke-width="0.6" stroke-opacity="0.8"/></g>
<text x="131.3" y="211.2" font-size="29.2">1.8 nm</text>
<text x="572.8" y="188.1" font-size="29.2">2.4 nm</text>
<text x="1061.7" y="160.3" font-size="29.2">3.0 nm</text>
<text x="1753.2" y="40.6" font-size="29.2">5.4 nm</text>
<path d="M262.3 676.2 L1466 676.2 L1466 692.6 L262.3 692.6 Z" fill="#cbcbcb"/>
<path d="M1444.4 644.8 Q1515 674 1576.7 684.2 Q1515 694.5 1444.4 724.1 Q1462 706 1465 692.6 L1465 676.2 Q1462 662 1444.4 644.8 Z" fill="#cbcbcb"/>
<text x="436" y="657.1" font-size="29.2">wavefunction delocalization with quantum dot size</text>
<defs><filter id="blb" x="-20%" y="-20%" width="140%" height="140%"><feGaussianBlur stdDeviation="2.6"/></filter><linearGradient id="cmap" x1="0" y1="1" x2="0" y2="0"><stop offset="0" stop-color="#f0f4fb"/><stop offset="0.05" stop-color="#bcd0ec"/><stop offset="0.125" stop-color="#5e8ed2"/><stop offset="0.2" stop-color="#1f66c6"/><stop offset="0.375" stop-color="#2262c0"/><stop offset="0.45" stop-color="#574c93"/><stop offset="0.5" stop-color="#8a3c6c"/><stop offset="0.6" stop-color="#c63036"/><stop offset="0.75" stop-color="#cf2a2a"/><stop offset="0.875" stop-color="#a81c1c"/><stop offset="1" stop-color="#860a0a"/></linearGradient></defs>
<g filter="url(#blb)">
<ellipse cx="211.1" cy="971.7" rx="10" ry="10.5" fill="#1b5fc2" fill-opacity="0.2"/>
<ellipse cx="272.8" cy="971.7" rx="10" ry="10.5" fill="#1b5fc2" fill-opacity="0.4"/>
<ellipse cx="334.5" cy="971.7" rx="10" ry="10.5" fill="#1b5fc2" fill-opacity="0.4"/>
<ellipse cx="396.2" cy="971.7" rx="10" ry="10.5" fill="#1b5fc2" fill-opacity="0.2"/>
<ellipse cx="211.1" cy="1033.4" rx="10" ry="10.5" fill="#1b5fc2" fill-opacity="0.4"/>
<ellipse cx="272.8" cy="1033.4" rx="11" ry="12.5" fill="#1b5fc2" fill-opacity="1"/>
<ellipse cx="334.5" cy="1033.4" rx="11" ry="12.5" fill="#1b5fc2" fill-opacity="1"/>
<ellipse cx="396.2" cy="1033.4" rx="10" ry="10.5" fill="#1b5fc2" fill-opacity="0.4"/>
<ellipse cx="211.1" cy="1095" rx="10" ry="10.5" fill="#1b5fc2" fill-opacity="0.4"/>
<ellipse cx="272.8" cy="1095" rx="11" ry="12.5" fill="#1b5fc2" fill-opacity="1"/>
<ellipse cx="334.5" cy="1095" rx="11" ry="12.5" fill="#1b5fc2" fill-opacity="1"/>
<ellipse cx="396.2" cy="1095" rx="10" ry="10.5" fill="#1b5fc2" fill-opacity="0.4"/>
<ellipse cx="211.1" cy="1156.8" rx="10" ry="10.5" fill="#1b5fc2" fill-opacity="0.2"/>
<ellipse cx="272.8" cy="1156.8" rx="10" ry="10.5" fill="#1b5fc2" fill-opacity="0.4"/>
<ellipse cx="334.5" cy="1156.8" rx="10" ry="10.5" fill="#1b5fc2" fill-opacity="0.4"/>
<ellipse cx="396.2" cy="1156.8" rx="10" ry="10.5" fill="#1b5fc2" fill-opacity="0.2"/>
<ellipse cx="172.9" cy="971.7" rx="4.6" ry="9.5" fill="#1b5fc2" fill-opacity="0.1"/>
<ellipse cx="187.5" cy="971.7" rx="4.6" ry="9.5" fill="#1b5fc2" fill-opacity="0.1"/>
<ellipse cx="234.6" cy="971.7" rx="4.6" ry="9.5" fill="#1b5fc2" fill-opacity="0.3"/>
<ellipse cx="249.2" cy="971.7" rx="4.6" ry="9.5" fill="#1b5fc2" fill-opacity="0.3"/>
<ellipse cx="296.3" cy="971.7" rx="4.6" ry="9.5" fill="#1b5fc2" fill-opacity="0.4"/>
<ellipse cx="310.9" cy="971.7" rx="4.6" ry="9.5" fill="#1b5fc2" fill-opacity="0.4"/>
<ellipse cx="358" cy="971.7" rx="4.6" ry="9.5" fill="#1b5fc2" fill-opacity="0.3"/>
<ellipse cx="372.6" cy="971.7" rx="4.6" ry="9.5" fill="#1b5fc2" fill-opacity="0.3"/>
<ellipse cx="419.7" cy="971.7" rx="4.6" ry="9.5" fill="#1b5fc2" fill-opacity="0.1"/>
<ellipse cx="434.3" cy="971.7" rx="4.6" ry="9.5" fill="#1b5fc2" fill-opacity="0.1"/>
<ellipse cx="172.9" cy="1033.4" rx="4.6" ry="9.5" fill="#1b5fc2" fill-opacity="0.3"/>
<ellipse cx="187.5" cy="1033.4" rx="4.6" ry="9.5" fill="#1b5fc2" fill-opacity="0.3"/>
<ellipse cx="234.6" cy="1033.4" rx="4.6" ry="9.5" fill="#1b5fc2" fill-opacity="0.8"/>
<ellipse cx="249.2" cy="1033.4" rx="4.6" ry="9.5" fill="#1b5fc2" fill-opacity="0.8"/>
<ellipse cx="296.3" cy="1033.4" rx="4.6" ry="9.5" fill="#1b5fc2" fill-opacity="0.9"/>
<ellipse cx="310.9" cy="1033.4" rx="4.6" ry="9.5" fill="#1b5fc2" fill-opacity="0.9"/>
<ellipse cx="358" cy="1033.4" rx="4.6" ry="9.5" fill="#1b5fc2" fill-opacity="0.8"/>
<ellipse cx="372.6" cy="1033.4" rx="4.6" ry="9.5" fill="#1b5fc2" fill-opacity="0.8"/>
<ellipse cx="419.7" cy="1033.4" rx="4.6" ry="9.5" fill="#1b5fc2" fill-opacity="0.3"/>
<ellipse cx="434.3" cy="1033.4" rx="4.6" ry="9.5" fill="#1b5fc2" fill-opacity="0.3"/>
<ellipse cx="172.9" cy="1095" rx="4.6" ry="9.5" fill="#1b5fc2" fill-opacity="0.3"/>
<ellipse cx="187.5" cy="1095" rx="4.6" ry="9.5" fill="#1b5fc2" fill-opacity="0.3"/>
<ellipse cx="234.6" cy="1095" rx="4.6" ry="9.5" fill="#1b5fc2" fill-opacity="0.8"/>
<ellipse cx="249.2" cy="1095" rx="4.6" ry="9.5" fill="#1b5fc2" fill-opacity="0.8"/>
<ellipse cx="296.3" cy="1095" rx="4.6" ry="9.5" fill="#1b5fc2" fill-opacity="0.9"/>
<ellipse cx="310.9" cy="1095" rx="4.6" ry="9.5" fill="#1b5fc2" fill-opacity="0.9"/>
<ellipse cx="358" cy="1095" rx="4.6" ry="9.5" fill="#1b5fc2" fill-opacity="0.8"/>
<ellipse cx="372.6" cy="1095" rx="4.6" ry="9.5" fill="#1b5fc2" fill-opacity="0.8"/>
<ellipse cx="419.7" cy="1095" rx="4.6" ry="9.5" fill="#1b5fc2" fill-opacity="0.3"/>
<ellipse cx="434.3" cy="1095" rx="4.6" ry="9.5" fill="#1b5fc2" fill-opacity="0.3"/>
<ellipse cx="172.9" cy="1156.8" rx="4.6" ry="9.5" fill="#1b5fc2" fill-opacity="0.1"/>
<ellipse cx="187.5" cy="1156.8" rx="4.6" ry="9.5" fill="#1b5fc2" fill-opacity="0.1"/>
<ellipse cx="234.6" cy="1156.8" rx="4.6" ry="9.5" fill="#1b5fc2" fill-opacity="0.3"/>
<ellipse cx="249.2" cy="1156.8" rx="4.6" ry="9.5" fill="#1b5fc2" fill-opacity="0.3"/>
<ellipse cx="296.3" cy="1156.8" rx="4.6" ry="9.5" fill="#1b5fc2" fill-opacity="0.4"/>
<ellipse cx="310.9" cy="1156.8" rx="4.6" ry="9.5" fill="#1b5fc2" fill-opacity="0.4"/>
<ellipse cx="358" cy="1156.8" rx="4.6" ry="9.5" fill="#1b5fc2" fill-opacity="0.3"/>
<ellipse cx="372.6" cy="1156.8" rx="4.6" ry="9.5" fill="#1b5fc2" fill-opacity="0.3"/>
<ellipse cx="419.7" cy="1156.8" rx="4.6" ry="9.5" fill="#1b5fc2" fill-opacity="0.1"/>
<ellipse cx="434.3" cy="1156.8" rx="4.6" ry="9.5" fill="#1b5fc2" fill-opacity="0.1"/>
<ellipse cx="211.1" cy="933.8" rx="9.5" ry="4.6" fill="#1b5fc2" fill-opacity="0.1"/>
<ellipse cx="211.1" cy="947.8" rx="9.5" ry="4.6" fill="#1b5fc2" fill-opacity="0.1"/>
<ellipse cx="211.1" cy="995.5" rx="9.5" ry="4.6" fill="#1b5fc2" fill-opacity="0.3"/>
<ellipse cx="211.1" cy="1009.5" rx="9.5" ry="4.6" fill="#1b5fc2" fill-opacity="0.3"/>
<ellipse cx="211.1" cy="1057.2" rx="9.5" ry="4.6" fill="#1b5fc2" fill-opacity="0.4"/>
<ellipse cx="211.1" cy="1071.2" rx="9.5" ry="4.6" fill="#1b5fc2" fill-opacity="0.4"/>
<ellipse cx="211.1" cy="1118.9" rx="9.5" ry="4.6" fill="#1b5fc2" fill-opacity="0.3"/>
<ellipse cx="211.1" cy="1132.9" rx="9.5" ry="4.6" fill="#1b5fc2" fill-opacity="0.3"/>
<ellipse cx="211.1" cy="1180.6" rx="9.5" ry="4.6" fill="#1b5fc2" fill-opacity="0.1"/>
<ellipse cx="211.1" cy="1194.6" rx="9.5" ry="4.6" fill="#1b5fc2" fill-opacity="0.1"/>
<ellipse cx="272.8" cy="933.8" rx="9.5" ry="4.6" fill="#1b5fc2" fill-opacity="0.3"/>
<ellipse cx="272.8" cy="947.8" rx="9.5" ry="4.6" fill="#1b5fc2" fill-opacity="0.3"/>
<ellipse cx="272.8" cy="995.5" rx="9.5" ry="4.6" fill="#1b5fc2" fill-opacity="0.8"/>
<ellipse cx="272.8" cy="1009.5" rx="9.5" ry="4.6" fill="#1b5fc2" fill-opacity="0.8"/>
<ellipse cx="272.8" cy="1057.2" rx="9.5" ry="4.6" fill="#1b5fc2" fill-opacity="0.9"/>
<ellipse cx="272.8" cy="1071.2" rx="9.5" ry="4.6" fill="#1b5fc2" fill-opacity="0.9"/>
<ellipse cx="272.8" cy="1118.9" rx="9.5" ry="4.6" fill="#1b5fc2" fill-opacity="0.8"/>
<ellipse cx="272.8" cy="1132.9" rx="9.5" ry="4.6" fill="#1b5fc2" fill-opacity="0.8"/>
<ellipse cx="272.8" cy="1180.6" rx="9.5" ry="4.6" fill="#1b5fc2" fill-opacity="0.3"/>
<ellipse cx="272.8" cy="1194.6" rx="9.5" ry="4.6" fill="#1b5fc2" fill-opacity="0.3"/>
<ellipse cx="334.5" cy="933.8" rx="9.5" ry="4.6" fill="#1b5fc2" fill-opacity="0.3"/>
<ellipse cx="334.5" cy="947.8" rx="9.5" ry="4.6" fill="#1b5fc2" fill-opacity="0.3"/>
<ellipse cx="334.5" cy="995.5" rx="9.5" ry="4.6" fill="#1b5fc2" fill-opacity="0.8"/>
<ellipse cx="334.5" cy="1009.5" rx="9.5" ry="4.6" fill="#1b5fc2" fill-opacity="0.8"/>
<ellipse cx="334.5" cy="1057.2" rx="9.5" ry="4.6" fill="#1b5fc2" fill-opacity="0.9"/>
<ellipse cx="334.5" cy="1071.2" rx="9.5" ry="4.6" fill="#1b5fc2" fill-opacity="0.9"/>
<ellipse cx="334.5" cy="1118.9" rx="9.5" ry="4.6" fill="#1b5fc2" fill-opacity="0.8"/>
<ellipse cx="334.5" cy="1132.9" rx="9.5" ry="4.6" fill="#1b5fc2" fill-opacity="0.8"/>
<ellipse cx="334.5" cy="1180.6" rx="9.5" ry="4.6" fill="#1b5fc2" fill-opacity="0.3"/>
<ellipse cx="334.5" cy="1194.6" rx="9.5" ry="4.6" fill="#1b5fc2" fill-opacity="0.3"/>
<ellipse cx="396.2" cy="933.8" rx="9.5" ry="4.6" fill="#1b5fc2" fill-opacity="0.1"/>
<ellipse cx="396.2" cy="947.8" rx="9.5" ry="4.6" fill="#1b5fc2" fill-opacity="0.1"/>
<ellipse cx="396.2" cy="995.5" rx="9.5" ry="4.6" fill="#1b5fc2" fill-opacity="0.3"/>
<ellipse cx="396.2" cy="1009.5" rx="9.5" ry="4.6" fill="#1b5fc2" fill-opacity="0.3"/>
<ellipse cx="396.2" cy="1057.2" rx="9.5" ry="4.6" fill="#1b5fc2" fill-opacity="0.4"/>
<ellipse cx="396.2" cy="1071.2" rx="9.5" ry="4.6" fill="#1b5fc2" fill-opacity="0.4"/>
<ellipse cx="396.2" cy="1118.9" rx="9.5" ry="4.6" fill="#1b5fc2" fill-opacity="0.3"/>
<ellipse cx="396.2" cy="1132.9" rx="9.5" ry="4.6" fill="#1b5fc2" fill-opacity="0.3"/>
<ellipse cx="396.2" cy="1180.6" rx="9.5" ry="4.6" fill="#1b5fc2" fill-opacity="0.1"/>
<ellipse cx="396.2" cy="1194.6" rx="9.5" ry="4.6" fill="#1b5fc2" fill-opacity="0.1"/>
</g>
<g filter="url(#blb)">
<ellipse cx="758.2" cy="971.7" rx="10" ry="10.5" fill="#1b5fc2" fill-opacity="0.1"/>
<ellipse cx="819.9" cy="971.7" rx="10" ry="10.5" fill="#1b5fc2" fill-opacity="0.3"/>
<ellipse cx="881.6" cy="971.7" rx="10" ry="10.5" fill="#1b5fc2" fill-opacity="0.3"/>
<ellipse cx="943.2" cy="971.7" rx="10" ry="10.5" fill="#1b5fc2" fill-opacity="0.6"/>
<ellipse cx="758.2" cy="1033.4" rx="10" ry="10.5" fill="#1b5fc2" fill-opacity="0.3"/>
<ellipse cx="819.9" cy="1033.4" rx="11" ry="12.5" fill="#1b5fc2" fill-opacity="0.9"/>
<ellipse cx="881.6" cy="1033.4" rx="11" ry="12.5" fill="#1b5fc2" fill-opacity="1"/>
<ellipse cx="943.2" cy="1033.4" rx="10" ry="10.5" fill="#1b5fc2" fill-opacity="0.7"/>
<ellipse cx="758.2" cy="1095" rx="10" ry="10.5" fill="#1b5fc2" fill-opacity="0.3"/>
<ellipse cx="819.9" cy="1095" rx="10" ry="10.5" fill="#1b5fc2" fill-opacity="0.6"/>
<ellipse cx="881.6" cy="1095" rx="11" ry="12.5" fill="#1b5fc2" fill-opacity="1"/>
<ellipse cx="943.2" cy="1095" rx="11" ry="12.5" fill="#1b5fc2" fill-opacity="1"/>
<ellipse cx="758.2" cy="1156.8" rx="10" ry="10.5" fill="#1b5fc2" fill-opacity="0.1"/>
<ellipse cx="819.9" cy="1156.8" rx="10" ry="10.5" fill="#1b5fc2" fill-opacity="0.2"/>
<ellipse cx="881.6" cy="1156.8" rx="10" ry="10.5" fill="#1b5fc2" fill-opacity="0.3"/>
<ellipse cx="943.2" cy="1156.8" rx="10" ry="10.5" fill="#1b5fc2" fill-opacity="0.7"/>
<ellipse cx="720" cy="971.7" rx="4.6" ry="9.5" fill="#1b5fc2" fill-opacity="0.1"/>
<ellipse cx="734.6" cy="971.7" rx="4.6" ry="9.5" fill="#1b5fc2" fill-opacity="0.1"/>
<ellipse cx="781.7" cy="971.7" rx="4.6" ry="9.5" fill="#1b5fc2" fill-opacity="0.1"/>
<ellipse cx="796.3" cy="971.7" rx="4.6" ry="9.5" fill="#1b5fc2" fill-opacity="0.1"/>
<ellipse cx="843.4" cy="971.7" rx="4.6" ry="9.5" fill="#1b5fc2" fill-opacity="0.1"/>
<ellipse cx="858" cy="971.7" rx="4.6" ry="9.5" fill="#1b5fc2" fill-opacity="0.1"/>
<ellipse cx="905.1" cy="971.7" rx="4.6" ry="9.5" fill="#1b5fc2" fill-opacity="0.1"/>
<ellipse cx="919.7" cy="971.7" rx="4.6" ry="9.5" fill="#1b5fc2" fill-opacity="0.1"/>
<ellipse cx="966.8" cy="971.7" rx="4.6" ry="9.5" fill="#1b5fc2" fill-opacity="0.1"/>
<ellipse cx="981.4" cy="971.7" rx="4.6" ry="9.5" fill="#1b5fc2" fill-opacity="0.1"/>
<ellipse cx="720" cy="1033.4" rx="4.6" ry="9.5" fill="#1b5fc2" fill-opacity="0.1"/>
<ellipse cx="734.6" cy="1033.4" rx="4.6" ry="9.5" fill="#1b5fc2" fill-opacity="0.1"/>
<ellipse cx="781.7" cy="1033.4" rx="4.6" ry="9.5" fill="#1b5fc2" fill-opacity="0.5"/>
<ellipse cx="796.3" cy="1033.4" rx="4.6" ry="9.5" fill="#1b5fc2" fill-opacity="0.5"/>
<ellipse cx="843.4" cy="1033.4" rx="4.6" ry="9.5" fill="#1b5fc2" fill-opacity="0.8"/>
<ellipse cx="858" cy="1033.4" rx="4.6" ry="9.5" fill="#1b5fc2" fill-opacity="0.8"/>
<ellipse cx="905.1" cy="1033.4" rx="4.6" ry="9.5" fill="#1b5fc2" fill-opacity="0.8"/>
<ellipse cx="919.7" cy="1033.4" rx="4.6" ry="9.5" fill="#1b5fc2" fill-opacity="0.8"/>
<ellipse cx="966.8" cy="1033.4" rx="4.6" ry="9.5" fill="#1b5fc2" fill-opacity="0.2"/>
<ellipse cx="981.4" cy="1033.4" rx="4.6" ry="9.5" fill="#1b5fc2" fill-opacity="0.2"/>
<ellipse cx="720" cy="1095" rx="4.6" ry="9.5" fill="#1b5fc2" fill-opacity="0.2"/>
<ellipse cx="734.6" cy="1095" rx="4.6" ry="9.5" fill="#1b5fc2" fill-opacity="0.2"/>
<ellipse cx="781.7" cy="1095" rx="4.6" ry="9.5" fill="#1b5fc2" fill-opacity="0.3"/>
<ellipse cx="796.3" cy="1095" rx="4.6" ry="9.5" fill="#1b5fc2" fill-opacity="0.3"/>
<ellipse cx="843.4" cy="1095" rx="4.6" ry="9.5" fill="#1b5fc2" fill-opacity="1"/>
<ellipse cx="858" cy="1095" rx="4.6" ry="9.5" fill="#1b5fc2" fill-opacity="1"/>
<ellipse cx="905.1" cy="1095" rx="4.6" ry="9.5" fill="#1b5fc2" fill-opacity="1"/>
<ellipse cx="919.7" cy="1095" rx="4.6" ry="9.5" fill="#1b5fc2" fill-opacity="1"/>
<ellipse cx="966.8" cy="1095" rx="4.6" ry="9.5" fill="#1b5fc2" fill-opacity="1"/>
<ellipse cx="981.4" cy="1095" rx="4.6" ry="9.5" fill="#1b5fc2" fill-opacity="1"/>
<ellipse cx="720" cy="1156.8" rx="4.6" ry="9.5" fill="#1b5fc2" fill-opacity="0.1"/>
<ellipse cx="734.6" cy="1156.8" rx="4.6" ry="9.5" fill="#1b5fc2" fill-opacity="0.1"/>
<ellipse cx="781.7" cy="1156.8" rx="4.6" ry="9.5" fill="#1b5fc2" fill-opacity="0.1"/>
<ellipse cx="796.3" cy="1156.8" rx="4.6" ry="9.5" fill="#1b5fc2" fill-opacity="0.1"/>
<ellipse cx="843.4" cy="1156.8" rx="4.6" ry="9.5" fill="#1b5fc2" fill-opacity="0.2"/>
<ellipse cx="858" cy="1156.8" rx="4.6" ry="9.5" fill="#1b5fc2" fill-opacity="0.2"/>
<ellipse cx="905.1" cy="1156.8" rx="4.6" ry="9.5" fill="#1b5fc2" fill-opacity="0.2"/>
<ellipse cx="919.7" cy="1156.8" rx="4.6" ry="9.5" fill="#1b5fc2" fill-opacity="0.2"/>
<ellipse cx="966.8" cy="1156.8" rx="4.6" ry="9.5" fill="#1b5fc2" fill-opacity="0.2"/>
<ellipse cx="981.4" cy="1156.8" rx="4.6" ry="9.5" fill="#1b5fc2" fill-opacity="0.2"/>
<ellipse cx="758.2" cy="933.8" rx="9.5" ry="4.6" fill="#1b5fc2" fill-opacity="0.1"/>
<ellipse cx="758.2" cy="947.8" rx="9.5" ry="4.6" fill="#1b5fc2" fill-opacity="0.1"/>
<ellipse cx="758.2" cy="995.5" rx="9.5" ry="4.6" fill="#1b5fc2" fill-opacity="0.1"/>
<ellipse cx="758.2" cy="1009.5" rx="9.5" ry="4.6" fill="#1b5fc2" fill-opacity="0.1"/>
<ellipse cx="758.2" cy="1057.2" rx="9.5" ry="4.6" fill="#1b5fc2" fill-opacity="0.1"/>
<ellipse cx="758.2" cy="1071.2" rx="9.5" ry="4.6" fill="#1b5fc2" fill-opacity="0.1"/>
<ellipse cx="758.2" cy="1118.9" rx="9.5" ry="4.6" fill="#1b5fc2" fill-opacity="0.1"/>
<ellipse cx="758.2" cy="1132.9" rx="9.5" ry="4.6" fill="#1b5fc2" fill-opacity="0.1"/>
<ellipse cx="758.2" cy="1180.6" rx="9.5" ry="4.6" fill="#1b5fc2" fill-opacity="0.1"/>
<ellipse cx="758.2" cy="1194.6" rx="9.5" ry="4.6" fill="#1b5fc2" fill-opacity="0.1"/>
<ellipse cx="819.9" cy="933.8" rx="9.5" ry="4.6" fill="#1b5fc2" fill-opacity="0.3"/>
<ellipse cx="819.9" cy="947.8" rx="9.5" ry="4.6" fill="#1b5fc2" fill-opacity="0.3"/>
<ellipse cx="819.9" cy="995.5" rx="9.5" ry="4.6" fill="#1b5fc2" fill-opacity="0.6"/>
<ellipse cx="819.9" cy="1009.5" rx="9.5" ry="4.6" fill="#1b5fc2" fill-opacity="0.6"/>
<ellipse cx="819.9" cy="1057.2" rx="9.5" ry="4.6" fill="#1b5fc2" fill-opacity="0.4"/>
<ellipse cx="819.9" cy="1071.2" rx="9.5" ry="4.6" fill="#1b5fc2" fill-opacity="0.4"/>
<ellipse cx="819.9" cy="1118.9" rx="9.5" ry="4.6" fill="#1b5fc2" fill-opacity="0.3"/>
<ellipse cx="819.9" cy="1132.9" rx="9.5" ry="4.6" fill="#1b5fc2" fill-opacity="0.3"/>
<ellipse cx="819.9" cy="1180.6" rx="9.5" ry="4.6" fill="#1b5fc2" fill-opacity="0.2"/>
<ellipse cx="819.9" cy="1194.6" rx="9.5" ry="4.6" fill="#1b5fc2" fill-opacity="0.2"/>
<ellipse cx="881.6" cy="933.8" rx="9.5" ry="4.6" fill="#1b5fc2" fill-opacity="0.3"/>
<ellipse cx="881.6" cy="947.8" rx="9.5" ry="4.6" fill="#1b5fc2" fill-opacity="0.3"/>
<ellipse cx="881.6" cy="995.5" rx="9.5" ry="4.6" fill="#1b5fc2" fill-opacity="0.7"/>
<ellipse cx="881.6" cy="1009.5" rx="9.5" ry="4.6" fill="#1b5fc2" fill-opacity="0.7"/>
<ellipse cx="881.6" cy="1057.2" rx="9.5" ry="4.6" fill="#1b5fc2" fill-opacity="0.9"/>
<ellipse cx="881.6" cy="1071.2" rx="9.5" ry="4.6" fill="#1b5fc2" fill-opacity="0.9"/>
<ellipse cx="881.6" cy="1118.9" rx="9.5" ry="4.6" fill="#1b5fc2" fill-opacity="0.8"/>
<ellipse cx="881.6" cy="1132.9" rx="9.5" ry="4.6" fill="#1b5fc2" fill-opacity="0.8"/>
<ellipse cx="881.6" cy="1180.6" rx="9.5" ry="4.6" fill="#1b5fc2" fill-opacity="0.3"/>
<ellipse cx="881.6" cy="1194.6" rx="9.5" ry="4.6" fill="#1b5fc2" fill-opacity="0.3"/>
<ellipse cx="943.2" cy="933.8" rx="9.5" ry="4.6" fill="#1b5fc2" fill-opacity="0.5"/>
<ellipse cx="943.2" cy="947.8" rx="9.5" ry="4.6" fill="#1b5fc2" fill-opacity="0.5"/>
<ellipse cx="943.2" cy="995.5" rx="9.5" ry="4.6" fill="#1b5fc2" fill-opacity="0.6"/>
<ellipse cx="943.2" cy="1009.5" rx="9.5" ry="4.6" fill="#1b5fc2" fill-opacity="0.6"/>
<ellipse cx="943.2" cy="1057.2" rx="9.5" ry="4.6" fill="#1b5fc2" fill-opacity="0.8"/>
<ellipse cx="943.2" cy="1071.2" rx="9.5" ry="4.6" fill="#1b5fc2" fill-opacity="0.8"/>
<ellipse cx="943.2" cy="1118.9" rx="9.5" ry="4.6" fill="#1b5fc2" fill-opacity="0.8"/>
<ellipse cx="943.2" cy="1132.9" rx="9.5" ry="4.6" fill="#1b5fc2" fill-opacity="0.8"/>
<ellipse cx="943.2" cy="1180.6" rx="9.5" ry="4.6" fill="#1b5fc2" fill-opacity="0.4"/>
<ellipse cx="943.2" cy="1194.6" rx="9.5" ry="4.6" fill="#1b5fc2" fill-opacity="0.4"/>
<circle cx="881" cy="1094.5" r="4.5" fill="#e02424"/>
<circle cx="937" cy="1096" r="2.2" fill="#e02424"/>
<circle cx="964.5" cy="1096.5" r="1.8" fill="#e02424"/>
</g>
<rect x="51.1" y="811.4" width="505" height="505.5" fill="none" stroke="#000" stroke-width="2.2"/>
<rect x="597.2" y="812" width="505.2" height="505.1" fill="none" stroke="#000" stroke-width="2.2"/>
<text x="64.5" y="848.8" font-size="29.2" font-style="italic" fill="#2f86e0">3 K</text>
<text x="608" y="849" font-size="28" font-style="italic" fill="#ec7850">150 K</text>
<text x="499" y="1297.7" font-size="29.2" font-style="italic">y-z</text>
<text x="1045" y="1297.7" font-size="29.2" font-style="italic">y-z</text>
<path d="M1125.5 1323.7 L1125.5 824.6 L1153 824.6 L1153 1323.7 Z" fill="url(#cmap)"/>
<path d="M1125.5 825.1 L1139.2 794.5 L1153 825.1 Z" fill="#870a0a"/>
<path d="M1125.5 1323.7 L1125.5 824.6 L1139.2 794.5 L1153 824.6 L1153 1323.7 Z" fill="none" stroke="#000" stroke-width="2.2" stroke-linejoin="miter"/>
<line x1="1153" y1="1323.7" x2="1167.5" y2="1323.7" stroke="#000" stroke-width="2.2"/>
<text x="1169.5" y="1334" font-size="29.2">0</text>
<line x1="1153" y1="1261.3" x2="1167.5" y2="1261.3" stroke="#000" stroke-width="2.2"/>
<text x="1169.5" y="1271.6" font-size="29.2">0.25</text>
<line x1="1153" y1="1198.9" x2="1167.5" y2="1198.9" stroke="#000" stroke-width="2.2"/>
<text x="1169.5" y="1209.2" font-size="29.2">0.50</text>
<line x1="1153" y1="1136.5" x2="1167.5" y2="1136.5" stroke="#000" stroke-width="2.2"/>
<text x="1169.5" y="1146.8" font-size="29.2">0.75</text>
<line x1="1153" y1="1074.2" x2="1167.5" y2="1074.2" stroke="#000" stroke-width="2.2"/>
<text x="1169.5" y="1084.5" font-size="29.2">1.00</text>
<line x1="1153" y1="1011.8" x2="1167.5" y2="1011.8" stroke="#000" stroke-width="2.2"/>
<text x="1169.5" y="1022.1" font-size="29.2">1.25</text>
<line x1="1153" y1="949.4" x2="1167.5" y2="949.4" stroke="#000" stroke-width="2.2"/>
<text x="1169.5" y="959.7" font-size="29.2">1.50</text>
<line x1="1153" y1="887" x2="1167.5" y2="887" stroke="#000" stroke-width="2.2"/>
<text x="1169.5" y="897.3" font-size="29.2">1.75</text>
<line x1="1153" y1="824.6" x2="1167.5" y2="824.6" stroke="#000" stroke-width="2.2"/>
<text x="1169.5" y="834.9" font-size="29.2">2.00</text>
<text x="1277" y="1047" font-size="29.2" text-anchor="middle" transform="rotate(-90 1277 1047)">Density (a.u.)</text>
<path d="M1432.1 1284.3 L1443.4 1278.5 L1459.5 1271.3 L1507.8 1213.7 L1588.2 1072.3 L1668.7 956.4 L1668.7 1040.8 L1588.2 1137.6 L1507.8 1238.9 L1459.5 1280.7 L1443.4 1282.8 L1432.1 1287.9Z" fill="#cfdef3" stroke="#a9c2e8" stroke-width="2" stroke-linejoin="round"/>
<line x1="1432.1" y1="1284.9" x2="1432.1" y2="1287.5" stroke="#d22a2a" stroke-width="4.5"/>
<line x1="1424.3" y1="1284.9" x2="1439.9" y2="1284.9" stroke="#d22a2a" stroke-width="4.5"/>
<line x1="1424.3" y1="1287.5" x2="1439.9" y2="1287.5" stroke="#d22a2a" stroke-width="4.5"/>
<circle cx="1432.1" cy="1286.2" r="9.5" fill="#d22a2a"/>
<line x1="1668.7" y1="826.6" x2="1668.7" y2="1009.1" stroke="#d22a2a" stroke-width="4.5"/>
<line x1="1660.9" y1="826.6" x2="1676.5" y2="826.6" stroke="#d22a2a" stroke-width="4.5"/>
<line x1="1660.9" y1="1009.1" x2="1676.5" y2="1009.1" stroke="#d22a2a" stroke-width="4.5"/>
<circle cx="1668.7" cy="917.7" r="9.5" fill="#d22a2a"/>
<path d="M1432.1 1286.2 L1443.4 1280.8 L1459.5 1277.1 L1507.8 1229.1 L1588.2 1105.2 L1668.7 996.9" fill="none" stroke="#1d67c9" stroke-width="7" stroke-linejoin="round" stroke-linecap="round"/>
<circle cx="1432.1" cy="1286.2" r="7" fill="#1d67c9"/>
<circle cx="1443.4" cy="1280.8" r="7" fill="#1d67c9"/>
<circle cx="1459.5" cy="1277.1" r="7" fill="#1d67c9"/>
<circle cx="1507.8" cy="1229.1" r="7" fill="#1d67c9"/>
<circle cx="1588.2" cy="1105.2" r="7" fill="#1d67c9"/>
<circle cx="1668.7" cy="996.9" r="7" fill="#1d67c9"/>
<line x1="1438" y1="834.7" x2="1491" y2="834.7" stroke="#1d67c9" stroke-width="7"/>
<circle cx="1464.5" cy="834.7" r="5.5" fill="#1d67c9"/>
<text x="1497.3" y="843" font-size="29.2">NVT</text>
<line x1="1464.5" y1="856.9" x2="1464.5" y2="880.9" stroke="#d22a2a" stroke-width="4.2"/>
<line x1="1457.5" y1="856.9" x2="1471.5" y2="856.9" stroke="#d22a2a" stroke-width="4.2"/>
<line x1="1457.5" y1="880.9" x2="1471.5" y2="880.9" stroke="#d22a2a" stroke-width="4.2"/>
<circle cx="1464.5" cy="868.9" r="8.8" fill="#d22a2a"/>
<text x="1497.3" y="877.2" font-size="29.2">NVE</text>
<rect x="1420.3" y="804.4" width="260.2" height="507.8" fill="none" stroke="#000" stroke-width="3"/>
<line x1="1411.8" y1="1273.5" x2="1420.3" y2="1273.5" stroke="#000" stroke-width="3"/>
<text x="1402.8" y="1283.9" font-size="29.2" text-anchor="end">0.9</text>
<line x1="1411.8" y1="1201.5" x2="1420.3" y2="1201.5" stroke="#000" stroke-width="3"/>
<text x="1402.8" y="1211.9" font-size="29.2" text-anchor="end">1.0</text>
<line x1="1411.8" y1="1129.5" x2="1420.3" y2="1129.5" stroke="#000" stroke-width="3"/>
<text x="1402.8" y="1139.9" font-size="29.2" text-anchor="end">1.1</text>
<line x1="1411.8" y1="1057.6" x2="1420.3" y2="1057.6" stroke="#000" stroke-width="3"/>
<text x="1402.8" y="1068" font-size="29.2" text-anchor="end">1.2</text>
<line x1="1411.8" y1="985.6" x2="1420.3" y2="985.6" stroke="#000" stroke-width="3"/>
<text x="1402.8" y="996" font-size="29.2" text-anchor="end">1.3</text>
<line x1="1411.8" y1="913.6" x2="1420.3" y2="913.6" stroke="#000" stroke-width="3"/>
<text x="1402.8" y="924" font-size="29.2" text-anchor="end">1.4</text>
<line x1="1411.8" y1="841.7" x2="1420.3" y2="841.7" stroke="#000" stroke-width="3"/>
<text x="1402.8" y="852.1" font-size="29.2" text-anchor="end">1.5</text>
<line x1="1443.4" y1="1312.2" x2="1443.4" y2="1320.7" stroke="#000" stroke-width="3"/>
<text x="1438.7" y="1349.7" font-size="29.2" text-anchor="middle">10</text>
<line x1="1507.8" y1="1312.2" x2="1507.8" y2="1320.7" stroke="#000" stroke-width="3"/>
<text x="1503.2" y="1349.7" font-size="29.2" text-anchor="middle">50</text>
<line x1="1588.2" y1="1312.2" x2="1588.2" y2="1320.7" stroke="#000" stroke-width="3"/>
<text x="1585.6" y="1349.7" font-size="29.2" text-anchor="middle">100</text>
<line x1="1668.7" y1="1312.2" x2="1668.7" y2="1320.7" stroke="#000" stroke-width="3"/>
<text x="1665.6" y="1349.7" font-size="29.2" text-anchor="middle">150</text>
<text x="1546.3" y="1386.3" font-size="29.2" text-anchor="middle">Temperature (K)</text>
<text x="1353.3" y="1053" font-size="29.2" text-anchor="middle" transform="rotate(-90 1353.3 1053)">IPR</text>
<text x="1413" y="796.3" font-size="29.2">1e&#8722;5</text>
<path d="M1827.4 1261.6 L1838.6 1240.2 L1854.7 1197.3 L1902.8 1124 L1983 1021.9 L2063.2 970.8 L2063.2 1150.4 L1983 1171 L1902.8 1226.2 L1854.7 1254.2 L1838.6 1278.9 L1827.4 1283.8Z" fill="#cfdef3" stroke="#a9c2e8" stroke-width="2" stroke-linejoin="round"/>
<line x1="1827.4" y1="1260" x2="1827.4" y2="1290.4" stroke="#d22a2a" stroke-width="4.5"/>
<line x1="1819.6" y1="1260" x2="1835.2" y2="1260" stroke="#d22a2a" stroke-width="4.5"/>
<line x1="1819.6" y1="1290.4" x2="1835.2" y2="1290.4" stroke="#d22a2a" stroke-width="4.5"/>
<circle cx="1827.4" cy="1274.8" r="9.5" fill="#d22a2a"/>
<line x1="2063.2" y1="827.4" x2="2063.2" y2="1161.9" stroke="#d22a2a" stroke-width="4.5"/>
<line x1="2055.4" y1="827.4" x2="2071" y2="827.4" stroke="#d22a2a" stroke-width="4.5"/>
<line x1="2055.4" y1="1161.9" x2="2071" y2="1161.9" stroke="#d22a2a" stroke-width="4.5"/>
<circle cx="2063.2" cy="993.9" r="9.5" fill="#d22a2a"/>
<path d="M1827.4 1274.8 L1838.6 1260.8 L1854.7 1225.7 L1902.8 1174.9 L1983 1096.8 L2063.2 1061.4" fill="none" stroke="#1d67c9" stroke-width="7" stroke-linejoin="round" stroke-linecap="round"/>
<circle cx="1827.4" cy="1274.8" r="7" fill="#1d67c9"/>
<circle cx="1838.6" cy="1260.8" r="7" fill="#1d67c9"/>
<circle cx="1854.7" cy="1225.7" r="7" fill="#1d67c9"/>
<circle cx="1902.8" cy="1174.9" r="7" fill="#1d67c9"/>
<circle cx="1983" cy="1096.8" r="7" fill="#1d67c9"/>
<circle cx="2063.2" cy="1061.4" r="7" fill="#1d67c9"/>
<line x1="1833.4" y1="835.2" x2="1885.4" y2="835.2" stroke="#1d67c9" stroke-width="7"/>
<circle cx="1859.4" cy="835.2" r="5.5" fill="#1d67c9"/>
<text x="1900.5" y="843.5" font-size="29.2">NVT</text>
<line x1="1859.4" y1="857.4" x2="1859.4" y2="881.4" stroke="#d22a2a" stroke-width="4.2"/>
<line x1="1852.4" y1="857.4" x2="1866.4" y2="857.4" stroke="#d22a2a" stroke-width="4.2"/>
<line x1="1852.4" y1="881.4" x2="1866.4" y2="881.4" stroke="#d22a2a" stroke-width="4.2"/>
<circle cx="1859.4" cy="869.4" r="8.8" fill="#d22a2a"/>
<text x="1900.5" y="877.7" font-size="29.2">NVE</text>
<rect x="1815.6" y="805.2" width="259.4" height="506.2" fill="none" stroke="#000" stroke-width="3"/>
<line x1="1807.1" y1="1230.3" x2="1815.6" y2="1230.3" stroke="#000" stroke-width="3"/>
<text x="1798.1" y="1240.7" font-size="29.2" text-anchor="end">1</text>
<line x1="1807.1" y1="1147.9" x2="1815.6" y2="1147.9" stroke="#000" stroke-width="3"/>
<text x="1798.1" y="1158.3" font-size="29.2" text-anchor="end">2</text>
<line x1="1807.1" y1="1065.5" x2="1815.6" y2="1065.5" stroke="#000" stroke-width="3"/>
<text x="1798.1" y="1075.9" font-size="29.2" text-anchor="end">3</text>
<line x1="1807.1" y1="983.1" x2="1815.6" y2="983.1" stroke="#000" stroke-width="3"/>
<text x="1798.1" y="993.5" font-size="29.2" text-anchor="end">4</text>
<line x1="1807.1" y1="900.8" x2="1815.6" y2="900.8" stroke="#000" stroke-width="3"/>
<text x="1798.1" y="911.2" font-size="29.2" text-anchor="end">5</text>
<line x1="1807.1" y1="818.4" x2="1815.6" y2="818.4" stroke="#000" stroke-width="3"/>
<text x="1798.1" y="828.8" font-size="29.2" text-anchor="end">6</text>
<line x1="1838.6" y1="1311.4" x2="1838.6" y2="1319.9" stroke="#000" stroke-width="3"/>
<text x="1838.6" y="1348.9" font-size="29.2" text-anchor="middle">10</text>
<line x1="1902.8" y1="1311.4" x2="1902.8" y2="1319.9" stroke="#000" stroke-width="3"/>
<text x="1901.4" y="1348.9" font-size="29.2" text-anchor="middle">50</text>
<line x1="1983" y1="1311.4" x2="1983" y2="1319.9" stroke="#000" stroke-width="3"/>
<text x="1984.5" y="1348.9" font-size="29.2" text-anchor="middle">100</text>
<line x1="2063.2" y1="1311.4" x2="2063.2" y2="1319.9" stroke="#000" stroke-width="3"/>
<text x="2064.7" y="1348.9" font-size="29.2" text-anchor="middle">150</text>
<text x="1945.2" y="1381.9" font-size="29.2" text-anchor="middle">Temperature (K)</text>
<text x="1769" y="1052.3" font-size="29.2" text-anchor="middle" transform="rotate(-90 1769 1052.3)">RMSD (&#197;)</text>
<clipPath id="clipE"><rect x="121.5" y="1463.5" width="524.7" height="424.9"/></clipPath>
<clipPath id="clipF"><rect x="837.3" y="1463.5" width="523.2" height="424.9"/></clipPath>
<g clip-path="url(#clipE)">
<path d="M121.5 1501 L132 1506.3 L142.5 1514.2 L153 1525.5 L163.5 1539.5 L174 1556.7 L184.5 1574.9 L195 1592.3 L205.5 1609.6 L215.9 1627.5 L226.4 1644.4 L236.9 1659.2 L247.4 1672.3 L257.9 1683.6 L268.4 1693.3 L278.9 1701.8 L289.4 1709.2 L299.9 1715.4 L310.4 1721.1 L320.9 1727.4 L331.4 1734.4 L341.9 1741.3 L352.4 1747.6 L362.9 1755.3 L373.4 1765.8 L383.9 1777.4 L394.3 1789.6 L404.8 1802.1 L415.3 1815 L425.8 1826.3 L436.3 1835.7 L446.8 1843.5 L457.3 1850 L467.8 1855 L478.3 1858.8 L488.8 1861.9 L499.3 1864.5 L509.8 1866.7 L520.3 1868.6 L530.8 1870.4 L541.3 1872.2 L551.8 1873.9 L562.2 1875.4 L572.7 1876.4 L583.2 1877.3 L593.7 1878 L604.2 1878.6 L614.7 1879 L625.2 1879.4 L635.7 1879.7 L646.2 1879.9" fill="none" stroke="#1f8ef5" stroke-width="3.4"/>
<circle cx="121.5" cy="1501" r="10" fill="none" stroke="#1f8ef5" stroke-width="3.4"/>
<circle cx="132" cy="1506.3" r="10" fill="none" stroke="#1f8ef5" stroke-width="3.4"/>
<circle cx="142.5" cy="1514.2" r="10" fill="none" stroke="#1f8ef5" stroke-width="3.4"/>
<circle cx="153" cy="1525.5" r="10" fill="none" stroke="#1f8ef5" stroke-width="3.4"/>
<circle cx="163.5" cy="1539.5" r="10" fill="none" stroke="#1f8ef5" stroke-width="3.4"/>
<circle cx="174" cy="1556.7" r="10" fill="none" stroke="#1f8ef5" stroke-width="3.4"/>
<circle cx="184.5" cy="1574.9" r="10" fill="none" stroke="#1f8ef5" stroke-width="3.4"/>
<circle cx="195" cy="1592.3" r="10" fill="none" stroke="#1f8ef5" stroke-width="3.4"/>
<circle cx="205.5" cy="1609.6" r="10" fill="none" stroke="#1f8ef5" stroke-width="3.4"/>
<circle cx="215.9" cy="1627.5" r="10" fill="none" stroke="#1f8ef5" stroke-width="3.4"/>
<circle cx="226.4" cy="1644.4" r="10" fill="none" stroke="#1f8ef5" stroke-width="3.4"/>
<circle cx="236.9" cy="1659.2" r="10" fill="none" stroke="#1f8ef5" stroke-width="3.4"/>
<circle cx="247.4" cy="1672.3" r="10" fill="none" stroke="#1f8ef5" stroke-width="3.4"/>
<circle cx="257.9" cy="1683.6" r="10" fill="none" stroke="#1f8ef5" stroke-width="3.4"/>
<circle cx="268.4" cy="1693.3" r="10" fill="none" stroke="#1f8ef5" stroke-width="3.4"/>
<circle cx="278.9" cy="1701.8" r="10" fill="none" stroke="#1f8ef5" stroke-width="3.4"/>
<circle cx="289.4" cy="1709.2" r="10" fill="none" stroke="#1f8ef5" stroke-width="3.4"/>
<circle cx="299.9" cy="1715.4" r="10" fill="none" stroke="#1f8ef5" stroke-width="3.4"/>
<circle cx="310.4" cy="1721.1" r="10" fill="none" stroke="#1f8ef5" stroke-width="3.4"/>
<circle cx="320.9" cy="1727.4" r="10" fill="none" stroke="#1f8ef5" stroke-width="3.4"/>
<circle cx="331.4" cy="1734.4" r="10" fill="none" stroke="#1f8ef5" stroke-width="3.4"/>
<circle cx="341.9" cy="1741.3" r="10" fill="none" stroke="#1f8ef5" stroke-width="3.4"/>
<circle cx="352.4" cy="1747.6" r="10" fill="none" stroke="#1f8ef5" stroke-width="3.4"/>
<circle cx="362.9" cy="1755.3" r="10" fill="none" stroke="#1f8ef5" stroke-width="3.4"/>
<circle cx="373.4" cy="1765.8" r="10" fill="none" stroke="#1f8ef5" stroke-width="3.4"/>
<circle cx="383.9" cy="1777.4" r="10" fill="none" stroke="#1f8ef5" stroke-width="3.4"/>
<circle cx="394.3" cy="1789.6" r="10" fill="none" stroke="#1f8ef5" stroke-width="3.4"/>
<circle cx="404.8" cy="1802.1" r="10" fill="none" stroke="#1f8ef5" stroke-width="3.4"/>
<circle cx="415.3" cy="1815" r="10" fill="none" stroke="#1f8ef5" stroke-width="3.4"/>
<circle cx="425.8" cy="1826.3" r="10" fill="none" stroke="#1f8ef5" stroke-width="3.4"/>
<circle cx="436.3" cy="1835.7" r="10" fill="none" stroke="#1f8ef5" stroke-width="3.4"/>
<circle cx="446.8" cy="1843.5" r="10" fill="none" stroke="#1f8ef5" stroke-width="3.4"/>
<circle cx="457.3" cy="1850" r="10" fill="none" stroke="#1f8ef5" stroke-width="3.4"/>
<circle cx="467.8" cy="1855" r="10" fill="none" stroke="#1f8ef5" stroke-width="3.4"/>
<circle cx="478.3" cy="1858.8" r="10" fill="none" stroke="#1f8ef5" stroke-width="3.4"/>
<circle cx="488.8" cy="1861.9" r="10" fill="none" stroke="#1f8ef5" stroke-width="3.4"/>
<circle cx="499.3" cy="1864.5" r="10" fill="none" stroke="#1f8ef5" stroke-width="3.4"/>
<circle cx="509.8" cy="1866.7" r="10" fill="none" stroke="#1f8ef5" stroke-width="3.4"/>
<circle cx="520.3" cy="1868.6" r="10" fill="none" stroke="#1f8ef5" stroke-width="3.4"/>
<circle cx="530.8" cy="1870.4" r="10" fill="none" stroke="#1f8ef5" stroke-width="3.4"/>
<circle cx="541.3" cy="1872.2" r="10" fill="none" stroke="#1f8ef5" stroke-width="3.4"/>
<circle cx="551.8" cy="1873.9" r="10" fill="none" stroke="#1f8ef5" stroke-width="3.4"/>
<circle cx="562.2" cy="1875.4" r="10" fill="none" stroke="#1f8ef5" stroke-width="3.4"/>
<circle cx="572.7" cy="1876.4" r="10" fill="none" stroke="#1f8ef5" stroke-width="3.4"/>
<circle cx="583.2" cy="1877.3" r="10" fill="none" stroke="#1f8ef5" stroke-width="3.4"/>
<circle cx="593.7" cy="1878" r="10" fill="none" stroke="#1f8ef5" stroke-width="3.4"/>
<circle cx="604.2" cy="1878.6" r="10" fill="none" stroke="#1f8ef5" stroke-width="3.4"/>
<circle cx="614.7" cy="1879" r="10" fill="none" stroke="#1f8ef5" stroke-width="3.4"/>
<circle cx="625.2" cy="1879.4" r="10" fill="none" stroke="#1f8ef5" stroke-width="3.4"/>
<circle cx="635.7" cy="1879.7" r="10" fill="none" stroke="#1f8ef5" stroke-width="3.4"/>
<circle cx="646.2" cy="1879.9" r="10" fill="none" stroke="#1f8ef5" stroke-width="3.4"/>
</g>
<rect x="437" y="1463.5" width="209.2" height="169.6" fill="#fff"/>
<path d="M445.8 1543.5 L446.3 1547 L446.9 1547.9 L447.4 1552.9 L447.9 1548.7 L448.5 1548.9 L449 1548.1 L449.6 1549.4 L450.1 1547.9 L450.6 1548.9 L451.2 1551.1 L451.7 1545.2 L452.2 1545.2 L452.8 1543 L453.3 1547.3 L453.8 1548.4 L454.4 1548.7 L454.9 1551.3 L455.5 1544.6 L456 1550 L456.5 1550.1 L457.1 1547.5 L457.6 1543 L458.1 1546.3 L458.7 1549.5 L459.2 1548.6 L459.8 1545.1 L460.3 1547.1 L460.8 1548.6 L461.4 1547.2 L461.9 1544.6 L462.4 1541.3 L463 1549.7 L463.5 1548 L464 1548.5 L464.6 1552.7 L465.1 1548.7 L465.7 1548.9 L466.2 1543.3 L466.7 1546.5 L467.3 1550.4 L467.8 1544.4 L468.3 1547 L468.9 1550.6 L469.4 1547.6 L469.9 1547.5 L470.5 1548.2 L471 1545.9 L471.6 1551.8 L472.1 1546.6 L472.6 1543.2 L473.2 1543.6 L473.7 1542.9 L474.2 1542.9 L474.8 1541.9 L475.3 1548.8 L475.9 1543.6 L476.4 1550.7 L476.9 1547.4 L477.5 1550.8 L478 1543.1 L478.5 1542.3 L479.1 1546.4 L479.6 1541.2 L480.1 1547.6 L480.7 1545.5 L481.2 1545.5 L481.8 1548.7 L482.3 1544.8 L482.8 1540.9 L483.4 1548.7 L483.9 1543.7 L484.4 1546.5 L485 1541.5 L485.5 1544.9 L486 1544.5 L486.6 1544.6 L487.1 1545.7 L487.7 1550 L488.2 1542.8 L488.7 1550.1 L489.3 1545.9 L489.8 1545 L490.3 1548.8 L490.9 1546.3 L491.4 1543.7 L492 1546.9 L492.5 1549.2 L493 1554.6 L493.6 1549.6 L494.1 1548.7 L494.6 1548.6 L495.2 1549.8 L495.7 1546.4 L496.2 1549 L496.8 1547.8 L497.3 1545.9 L497.9 1550 L498.4 1548.6 L498.9 1542.3 L499.5 1545.8 L500 1551.5 L500.5 1548.5 L501.1 1546.9 L501.6 1545.2 L502.1 1548.2 L502.7 1550.1 L503.2 1550.7 L503.8 1547.2 L504.3 1548.2 L504.8 1550.4 L505.4 1549.6 L505.9 1550.3 L506.4 1547.4 L507 1551.1 L507.5 1548.1 L508.1 1547.2 L508.6 1548.2 L509.1 1551.6 L509.7 1545.9 L510.2 1551.2 L510.7 1548.3 L511.3 1551.3 L511.8 1553.9 L512.3 1548.7 L512.9 1548.4 L513.4 1549.3 L514 1548.3 L514.5 1550.6 L515 1550.8 L515.6 1549.2 L516.1 1543.6 L516.6 1546.4 L517.2 1549.8 L517.7 1546.9 L518.2 1549.5 L518.8 1549.3 L519.3 1545.8 L519.9 1549.4 L520.4 1552.3 L520.9 1550.2 L521.5 1547.5 L522 1547.4 L522.5 1544.4 L523.1 1549.5 L523.6 1545.7 L524.2 1546.4 L524.7 1547.9 L525.2 1545.3 L525.8 1546.2 L526.3 1549.7 L526.8 1544.7 L527.4 1550.7 L527.9 1547.3 L528.4 1547.5 L529 1546.4 L529.5 1549.4 L530.1 1547.7 L530.6 1548 L531.1 1545 L531.7 1549.7 L532.2 1547.5 L532.7 1548.4 L533.3 1551.2 L533.8 1540.8 L534.3 1548 L534.9 1551.8 L535.4 1544.3 L536 1550.8 L536.5 1547.1 L537 1545.8 L537.6 1549.9 L538.1 1549.3 L538.6 1549.7 L539.2 1548.6 L539.7 1552.6 L540.3 1551.6 L540.8 1548.8 L541.3 1545.8 L541.9 1546.9 L542.4 1544.1 L542.9 1546.8 L543.5 1550 L544 1549.1 L544.5 1554.1 L545.1 1551.4 L545.6 1551.6 L546.2 1548.2 L546.7 1547.3 L547.2 1550.5 L547.8 1550.6 L548.3 1553.1 L548.8 1549.4 L549.4 1548.5 L549.9 1548 L550.4 1551.2 L551 1544 L551.5 1546.1 L552.1 1549.5 L552.6 1550.6 L553.1 1550.1 L553.7 1548.9 L554.2 1549.3 L554.7 1548 L555.3 1547.2 L555.8 1545.7 L556.4 1546.2 L556.9 1549.5 L557.4 1548.2 L558 1550.2 L558.5 1550.7 L559 1544.2 L559.6 1550.3 L560.1 1543.9 L560.6 1550 L561.2 1548.4 L561.7 1546.2 L562.3 1548.9 L562.8 1547.9 L563.3 1549.5 L563.9 1550.1 L564.4 1549.3 L564.9 1550.5 L565.5 1544.5 L566 1549.1 L566.5 1544.1 L567.1 1555.6 L567.6 1548.5 L568.2 1547 L568.7 1549.2 L569.2 1545.5 L569.8 1546.7 L570.3 1549 L570.8 1547.1 L571.4 1540.8 L571.9 1547.5 L572.5 1547.3 L573 1549.2 L573.5 1547.6 L574.1 1551.3 L574.6 1548.4 L575.1 1541.4 L575.7 1545 L576.2 1546.1 L576.7 1544.8 L577.3 1542.7 L577.8 1546.1 L578.4 1542.2 L578.9 1544.8 L579.4 1547.1 L580 1543 L580.5 1553.7 L581 1548.9 L581.6 1546.7 L582.1 1549.8 L582.6 1547.8 L583.2 1549.1 L583.7 1549.1 L584.3 1540.3 L584.8 1545.7 L585.3 1547.5 L585.9 1543.9 L586.4 1548 L586.9 1545 L587.5 1546.4 L588 1543.1 L588.6 1551.1 L589.1 1545.4 L589.6 1547.1 L590.2 1550.5 L590.7 1544.7 L591.2 1549.8 L591.8 1543.3 L592.3 1546.2 L592.8 1545.8 L593.4 1547.4 L593.9 1545.3 L594.5 1552.6 L595 1547.5 L595.5 1549.4 L596.1 1547.1 L596.6 1548 L597.1 1546.3 L597.7 1550.2 L598.2 1543.2 L598.7 1542 L599.3 1548.7 L599.8 1548.2 L600.4 1547.5 L600.9 1545 L601.4 1543.3 L602 1551.5 L602.5 1550 L603 1551.3 L603.6 1551.4 L604.1 1552.9 L604.7 1547.7 L605.2 1551.7 L605.7 1544.8 L606.3 1546.4 L606.8 1551.5 L607.3 1551.5 L607.9 1550.5 L608.4 1545.3 L608.9 1551.2 L609.5 1552.9 L610 1549.2 L610.6 1548.1 L611.1 1550.8 L611.6 1544.9 L612.2 1548.5 L612.7 1548 L613.2 1551.4 L613.8 1549.3 L614.3 1549.6 L614.8 1555.2 L615.4 1548.5 L615.9 1554 L616.5 1549.3 L617 1553.1 L617.5 1544 L618.1 1548.4 L618.6 1547 L619.1 1546.8 L619.7 1552.7 L620.2 1555.2 L620.8 1550 L621.3 1546.8 L621.8 1548.9 L622.4 1547 L622.9 1546.6 L623.4 1553 L624 1548.3 L624.5 1543.8 L625 1550.4 L625.6 1554.2 L626.1 1549.5 L626.7 1550 L627.2 1547.7 L627.7 1551.1 L628.3 1548.4 L628.8 1554.4 L629.3 1546.3 L629.9 1544.4 L630.4 1545.1 L630.9 1552.4 L631.5 1547.5 L632 1556.2 L632.6 1547.5 L633.1 1548.4 L633.6 1550.8 L634.2 1547.2 L634.7 1547.7 L635.2 1545.6 L635.8 1547.6 L636.3 1547.3 L636.8 1553 L637.4 1550.9 L637.9 1549 L638.5 1547" fill="none" stroke="#1f8ef5" stroke-width="6" stroke-linejoin="round"/>
<rect x="437" y="1463.5" width="209.2" height="169.6" fill="none" stroke="#000" stroke-width="3"/>
<line x1="428.5" y1="1493" x2="437" y2="1493" stroke="#000" stroke-width="3"/>
<text x="422" y="1499.9" font-size="30" text-anchor="end">-4.6</text>
<line x1="428.5" y1="1588.3" x2="437" y2="1588.3" stroke="#000" stroke-width="3"/>
<text x="422" y="1598.7" font-size="30" text-anchor="end">-4.8</text>
<line x1="445.8" y1="1633.1" x2="445.8" y2="1641.6" stroke="#000" stroke-width="3"/>
<text x="446.8" y="1674.1" font-size="29.2" text-anchor="middle">0</text>
<line x1="529.9" y1="1633.1" x2="529.9" y2="1641.6" stroke="#000" stroke-width="3"/>
<text x="530.9" y="1674.1" font-size="29.2" text-anchor="middle">5</text>
<line x1="614.1" y1="1633.1" x2="614.1" y2="1641.6" stroke="#000" stroke-width="3"/>
<text x="617.6" y="1674.1" font-size="29.2" text-anchor="middle">10</text>
<text x="533.4" y="1702.5" font-size="29.2" text-anchor="middle">ps</text>
<text x="353.8" y="1558.5" font-size="29.2" text-anchor="middle" transform="rotate(-90 353.8 1558.5)">eV</text>
<rect x="121.5" y="1463.5" width="524.7" height="424.9" fill="none" stroke="#000" stroke-width="3"/>
<line x1="111" y1="1888.4" x2="121.5" y2="1888.4" stroke="#000" stroke-width="3"/>
<text x="102" y="1892.4" font-size="30" text-anchor="end">0.0</text>
<line x1="111" y1="1811.1" x2="121.5" y2="1811.1" stroke="#000" stroke-width="3"/>
<text x="102" y="1815.1" font-size="30" text-anchor="end">0.2</text>
<line x1="111" y1="1733.9" x2="121.5" y2="1733.9" stroke="#000" stroke-width="3"/>
<text x="102" y="1737.9" font-size="30" text-anchor="end">0.4</text>
<line x1="111" y1="1656.6" x2="121.5" y2="1656.6" stroke="#000" stroke-width="3"/>
<text x="102" y="1660.6" font-size="30" text-anchor="end">0.6</text>
<line x1="111" y1="1579.4" x2="121.5" y2="1579.4" stroke="#000" stroke-width="3"/>
<text x="102" y="1583.4" font-size="30" text-anchor="end">0.8</text>
<line x1="111" y1="1502.1" x2="121.5" y2="1502.1" stroke="#000" stroke-width="3"/>
<text x="102" y="1506.1" font-size="30" text-anchor="end">1.0</text>
<line x1="121.5" y1="1888.4" x2="121.5" y2="1898.9" stroke="#000" stroke-width="3"/>
<text x="121.5" y="1930.4" font-size="30" text-anchor="middle">0</text>
<line x1="226.4" y1="1888.4" x2="226.4" y2="1898.9" stroke="#000" stroke-width="3"/>
<text x="226" y="1930.4" font-size="30" text-anchor="middle">100</text>
<line x1="331.4" y1="1888.4" x2="331.4" y2="1898.9" stroke="#000" stroke-width="3"/>
<text x="328.2" y="1930.4" font-size="30" text-anchor="middle">200</text>
<line x1="436.3" y1="1888.4" x2="436.3" y2="1898.9" stroke="#000" stroke-width="3"/>
<text x="431.6" y="1930.4" font-size="30" text-anchor="middle">300</text>
<line x1="541.3" y1="1888.4" x2="541.3" y2="1898.9" stroke="#000" stroke-width="3"/>
<text x="538" y="1930.4" font-size="30" text-anchor="middle">400</text>
<line x1="646.2" y1="1888.4" x2="646.2" y2="1898.9" stroke="#000" stroke-width="3"/>
<text x="638.7" y="1930.4" font-size="30" text-anchor="middle">500</text>
<text x="362" y="1972" font-size="29.2" text-anchor="middle">Time (fs)</text>
<text x="35" y="1695" font-size="29.2" text-anchor="middle" transform="rotate(-90 35 1695)">D(t)</text>
<text x="165" y="1806.2" font-size="29.2" font-style="italic" fill="#1f8ef5">3 K</text>
<g clip-path="url(#clipF)">
<path d="M837.3 1502.1 L847.8 1582.1 L858.2 1733.9 L868.7 1838.2 L879.2 1877.6 L889.6 1883.8 L900.1 1882.2 L910.5 1881.6 L921 1881.5 L931.5 1882.1 L941.9 1882.8 L952.4 1883 L962.9 1882.4 L973.3 1881.7 L983.8 1881.5 L994.3 1881.9 L1004.7 1882.6 L1015.2 1883 L1025.7 1882.6 L1036.1 1881.9 L1046.6 1881.5 L1057 1881.7 L1067.5 1882.4 L1078 1883 L1088.4 1882.8 L1098.9 1882.1 L1109.4 1881.5 L1119.8 1881.6 L1130.3 1882.2 L1140.8 1882.9 L1151.2 1882.9 L1161.7 1882.3 L1172.1 1881.6 L1182.6 1881.5 L1193.1 1882 L1203.5 1882.7 L1214 1883 L1224.5 1882.5 L1234.9 1881.8 L1245.4 1881.4 L1255.9 1881.8 L1266.3 1882.6 L1276.8 1883 L1287.3 1882.7 L1297.7 1882 L1308.2 1881.5 L1318.6 1881.6 L1329.1 1882.3 L1339.6 1882.9 L1350 1882.9 L1360.5 1882.2" fill="none" stroke="#f57c4c" stroke-width="3.4"/>
<circle cx="837.3" cy="1502.1" r="10" fill="none" stroke="#f57c4c" stroke-width="3.4"/>
<circle cx="847.8" cy="1582.1" r="10" fill="none" stroke="#f57c4c" stroke-width="3.4"/>
<circle cx="858.2" cy="1733.9" r="10" fill="none" stroke="#f57c4c" stroke-width="3.4"/>
<circle cx="868.7" cy="1838.2" r="10" fill="none" stroke="#f57c4c" stroke-width="3.4"/>
<circle cx="879.2" cy="1877.6" r="10" fill="none" stroke="#f57c4c" stroke-width="3.4"/>
<circle cx="889.6" cy="1883.8" r="10" fill="none" stroke="#f57c4c" stroke-width="3.4"/>
<circle cx="900.1" cy="1882.2" r="10" fill="none" stroke="#f57c4c" stroke-width="3.4"/>
<circle cx="910.5" cy="1881.6" r="10" fill="none" stroke="#f57c4c" stroke-width="3.4"/>
<circle cx="921" cy="1881.5" r="10" fill="none" stroke="#f57c4c" stroke-width="3.4"/>
<circle cx="931.5" cy="1882.1" r="10" fill="none" stroke="#f57c4c" stroke-width="3.4"/>
<circle cx="941.9" cy="1882.8" r="10" fill="none" stroke="#f57c4c" stroke-width="3.4"/>
<circle cx="952.4" cy="1883" r="10" fill="none" stroke="#f57c4c" stroke-width="3.4"/>
<circle cx="962.9" cy="1882.4" r="10" fill="none" stroke="#f57c4c" stroke-width="3.4"/>
<circle cx="973.3" cy="1881.7" r="10" fill="none" stroke="#f57c4c" stroke-width="3.4"/>
<circle cx="983.8" cy="1881.5" r="10" fill="none" stroke="#f57c4c" stroke-width="3.4"/>
<circle cx="994.3" cy="1881.9" r="10" fill="none" stroke="#f57c4c" stroke-width="3.4"/>
<circle cx="1004.7" cy="1882.6" r="10" fill="none" stroke="#f57c4c" stroke-width="3.4"/>
<circle cx="1015.2" cy="1883" r="10" fill="none" stroke="#f57c4c" stroke-width="3.4"/>
<circle cx="1025.7" cy="1882.6" r="10" fill="none" stroke="#f57c4c" stroke-width="3.4"/>
<circle cx="1036.1" cy="1881.9" r="10" fill="none" stroke="#f57c4c" stroke-width="3.4"/>
<circle cx="1046.6" cy="1881.5" r="10" fill="none" stroke="#f57c4c" stroke-width="3.4"/>
<circle cx="1057" cy="1881.7" r="10" fill="none" stroke="#f57c4c" stroke-width="3.4"/>
<circle cx="1067.5" cy="1882.4" r="10" fill="none" stroke="#f57c4c" stroke-width="3.4"/>
<circle cx="1078" cy="1883" r="10" fill="none" stroke="#f57c4c" stroke-width="3.4"/>
<circle cx="1088.4" cy="1882.8" r="10" fill="none" stroke="#f57c4c" stroke-width="3.4"/>
<circle cx="1098.9" cy="1882.1" r="10" fill="none" stroke="#f57c4c" stroke-width="3.4"/>
<circle cx="1109.4" cy="1881.5" r="10" fill="none" stroke="#f57c4c" stroke-width="3.4"/>
<circle cx="1119.8" cy="1881.6" r="10" fill="none" stroke="#f57c4c" stroke-width="3.4"/>
<circle cx="1130.3" cy="1882.2" r="10" fill="none" stroke="#f57c4c" stroke-width="3.4"/>
<circle cx="1140.8" cy="1882.9" r="10" fill="none" stroke="#f57c4c" stroke-width="3.4"/>
<circle cx="1151.2" cy="1882.9" r="10" fill="none" stroke="#f57c4c" stroke-width="3.4"/>
<circle cx="1161.7" cy="1882.3" r="10" fill="none" stroke="#f57c4c" stroke-width="3.4"/>
<circle cx="1172.1" cy="1881.6" r="10" fill="none" stroke="#f57c4c" stroke-width="3.4"/>
<circle cx="1182.6" cy="1881.5" r="10" fill="none" stroke="#f57c4c" stroke-width="3.4"/>
<circle cx="1193.1" cy="1882" r="10" fill="none" stroke="#f57c4c" stroke-width="3.4"/>
<circle cx="1203.5" cy="1882.7" r="10" fill="none" stroke="#f57c4c" stroke-width="3.4"/>
<circle cx="1214" cy="1883" r="10" fill="none" stroke="#f57c4c" stroke-width="3.4"/>
<circle cx="1224.5" cy="1882.5" r="10" fill="none" stroke="#f57c4c" stroke-width="3.4"/>
<circle cx="1234.9" cy="1881.8" r="10" fill="none" stroke="#f57c4c" stroke-width="3.4"/>
<circle cx="1245.4" cy="1881.4" r="10" fill="none" stroke="#f57c4c" stroke-width="3.4"/>
<circle cx="1255.9" cy="1881.8" r="10" fill="none" stroke="#f57c4c" stroke-width="3.4"/>
<circle cx="1266.3" cy="1882.6" r="10" fill="none" stroke="#f57c4c" stroke-width="3.4"/>
<circle cx="1276.8" cy="1883" r="10" fill="none" stroke="#f57c4c" stroke-width="3.4"/>
<circle cx="1287.3" cy="1882.7" r="10" fill="none" stroke="#f57c4c" stroke-width="3.4"/>
<circle cx="1297.7" cy="1882" r="10" fill="none" stroke="#f57c4c" stroke-width="3.4"/>
<circle cx="1308.2" cy="1881.5" r="10" fill="none" stroke="#f57c4c" stroke-width="3.4"/>
<circle cx="1318.6" cy="1881.6" r="10" fill="none" stroke="#f57c4c" stroke-width="3.4"/>
<circle cx="1329.1" cy="1882.3" r="10" fill="none" stroke="#f57c4c" stroke-width="3.4"/>
<circle cx="1339.6" cy="1882.9" r="10" fill="none" stroke="#f57c4c" stroke-width="3.4"/>
<circle cx="1350" cy="1882.9" r="10" fill="none" stroke="#f57c4c" stroke-width="3.4"/>
<circle cx="1360.5" cy="1882.2" r="10" fill="none" stroke="#f57c4c" stroke-width="3.4"/>
</g>
<rect x="1152" y="1463.5" width="209" height="169.5" fill="#fff"/>
<path d="M1161.2 1528.2 L1162 1529.6 L1162.9 1529.6 L1163.7 1529.6 L1164.6 1516.8 L1165.4 1516.8 L1166.2 1533.6 L1167.1 1533.6 L1167.9 1512.3 L1168.8 1531.8 L1169.6 1542.3 L1170.5 1509.6 L1171.3 1509.6 L1172.1 1545 L1173 1522.4 L1173.8 1542 L1174.7 1542 L1175.5 1542 L1176.3 1557.2 L1177.2 1535.3 L1178 1554.5 L1178.9 1552.6 L1179.7 1543 L1180.6 1543 L1181.4 1558.6 L1182.2 1529.3 L1183.1 1521.7 L1183.9 1521.7 L1184.8 1521.7 L1185.6 1518.7 L1186.5 1518.7 L1187.3 1518.7 L1188.1 1551.3 L1189 1551.3 L1189.8 1520 L1190.7 1520 L1191.5 1520 L1192.3 1489.1 L1193.2 1484.6 L1194 1519.4 L1194.9 1519.4 L1195.7 1598.9 L1196.6 1603.9 L1197.4 1492.4 L1198.2 1492.4 L1199.1 1492.4 L1199.9 1528.8 L1200.8 1528.8 L1201.6 1516.4 L1202.5 1516.4 L1203.3 1516.4 L1204.1 1516.4 L1205 1516.4 L1205.8 1516.4 L1206.7 1545.6 L1207.5 1545.6 L1208.3 1528.6 L1209.2 1504.5 L1210 1531.5 L1210.9 1531.5 L1211.7 1531.5 L1212.6 1517.3 L1213.4 1538.4 L1214.2 1540.6 L1215.1 1503.4 L1215.9 1491.3 L1216.8 1547.3 L1217.6 1543.7 L1218.5 1543.7 L1219.3 1537.2 L1220.1 1552.1 L1221 1545 L1221.8 1574.7 L1222.7 1574.7 L1223.5 1574.7 L1224.4 1574.7 L1225.2 1518.7 L1226 1510.5 L1226.9 1543.3 L1227.7 1561.9 L1228.6 1535.5 L1229.4 1573.6 L1230.2 1573.6 L1231.1 1547.1 L1231.9 1547.1 L1232.8 1542.9 L1233.6 1589.4 L1234.5 1587.5 L1235.3 1549.7 L1236.1 1573.4 L1237 1557.9 L1237.8 1575 L1238.7 1561 L1239.5 1522.5 L1240.4 1501 L1241.2 1508.6 L1242 1550.3 L1242.9 1508.9 L1243.7 1585.1 L1244.6 1585.1 L1245.4 1535.1 L1246.2 1563 L1247.1 1563 L1247.9 1541 L1248.8 1536.5 L1249.6 1537.1 L1250.5 1562.4 L1251.3 1535 L1252.1 1535 L1253 1535 L1253.8 1563 L1254.7 1540.9 L1255.5 1552.3 L1256.4 1562.3 L1257.2 1545.9 L1258 1563.5 L1258.9 1563.5 L1259.7 1551.6 L1260.6 1555.9 L1261.4 1563.2 L1262.2 1567.2 L1263.1 1528 L1263.9 1580.9 L1264.8 1580.9 L1265.6 1559.8 L1266.5 1517.7 L1267.3 1522.5 L1268.1 1546.9 L1269 1555.7 L1269.8 1528.7 L1270.7 1556.1 L1271.5 1556.1 L1272.4 1556.1 L1273.2 1532.1 L1274 1539.1 L1274.9 1554.9 L1275.7 1521.8 L1276.6 1545.6 L1277.4 1545.6 L1278.2 1542.3 L1279.1 1569.9 L1279.9 1569.9 L1280.8 1569.9 L1281.6 1569.9 L1282.5 1542.8 L1283.3 1555.7 L1284.1 1536.3 L1285 1536.3 L1285.8 1546.3 L1286.7 1557.9 L1287.5 1575.1 L1288.4 1598.9 L1289.2 1598.9 L1290 1503.3 L1290.9 1553.3 L1291.7 1553.3 L1292.6 1610.8 L1293.4 1613.2 L1294.2 1571.6 L1295.1 1571.6 L1295.9 1571.6 L1296.8 1556.9 L1297.6 1559.3 L1298.5 1536.5 L1299.3 1536.5 L1300.1 1554.3 L1301 1557.8 L1301.8 1584.6 L1302.7 1577.5 L1303.5 1535.6 L1304.4 1535.6 L1305.2 1543.9 L1306 1549 L1306.9 1549 L1307.7 1549 L1308.6 1542.4 L1309.4 1571.1 L1310.2 1560.7 L1311.1 1543.3 L1311.9 1474.8 L1312.8 1477.8 L1313.6 1552.4 L1314.5 1544.4 L1315.3 1520.1 L1316.1 1520.1 L1317 1547.7 L1317.8 1547.7 L1318.7 1538.2 L1319.5 1552.2 L1320.4 1541.2 L1321.2 1535.4 L1322 1474.8 L1322.9 1474.8 L1323.7 1570.4 L1324.6 1540.5 L1325.4 1540.5 L1326.2 1542.4 L1327.1 1540.4 L1327.9 1533.2 L1328.8 1541 L1329.6 1541 L1330.5 1561.4 L1331.3 1556.8 L1332.1 1575.8 L1333 1542.3 L1333.8 1486.7 L1334.7 1487.1 L1335.5 1556.3 L1336.4 1522.3 L1337.2 1548.9 L1338 1601.3 L1338.9 1602.1 L1339.7 1547.6 L1340.6 1543.8 L1341.4 1543.8 L1342.3 1540.4 L1343.1 1531.4 L1343.9 1574.3 L1344.8 1550.9 L1345.6 1545 L1346.5 1547.1 L1347.3 1549.3 L1348.1 1549.3 L1349 1549.3 L1349.8 1548.7 L1350.7 1528.3 L1351.5 1528.1 L1352.4 1544.7 L1353.2 1535.4 L1354 1576.6" fill="none" stroke="#f57c4c" stroke-width="4.4" stroke-linejoin="round"/>
<rect x="1152" y="1463.5" width="209" height="169.5" fill="none" stroke="#000" stroke-width="3"/>
<line x1="1143.5" y1="1508.2" x2="1152" y2="1508.2" stroke="#000" stroke-width="3"/>
<text x="1133.5" y="1514.2" font-size="30" text-anchor="end">-4.6</text>
<line x1="1143.5" y1="1603.7" x2="1152" y2="1603.7" stroke="#000" stroke-width="3"/>
<text x="1133.5" y="1609.7" font-size="30" text-anchor="end">-4.8</text>
<line x1="1161.2" y1="1633" x2="1161.2" y2="1641.5" stroke="#000" stroke-width="3"/>
<text x="1162.2" y="1674" font-size="29.2" text-anchor="middle">0</text>
<line x1="1245" y1="1633" x2="1245" y2="1641.5" stroke="#000" stroke-width="3"/>
<text x="1246" y="1674" font-size="29.2" text-anchor="middle">5</text>
<line x1="1328.9" y1="1633" x2="1328.9" y2="1641.5" stroke="#000" stroke-width="3"/>
<text x="1333.4" y="1674" font-size="29.2" text-anchor="middle">10</text>
<text x="1248.5" y="1702.5" font-size="29.2" text-anchor="middle">ps</text>
<text x="1068" y="1574" font-size="29.2" text-anchor="middle" transform="rotate(-90 1068 1574)">eV</text>
<rect x="837.3" y="1463.5" width="523.2" height="424.9" fill="none" stroke="#000" stroke-width="3"/>
<line x1="826.8" y1="1888.4" x2="837.3" y2="1888.4" stroke="#000" stroke-width="3"/>
<text x="817.8" y="1898.8" font-size="30" text-anchor="end">0.0</text>
<line x1="826.8" y1="1811.1" x2="837.3" y2="1811.1" stroke="#000" stroke-width="3"/>
<text x="817.8" y="1821.5" font-size="30" text-anchor="end">0.2</text>
<line x1="826.8" y1="1733.9" x2="837.3" y2="1733.9" stroke="#000" stroke-width="3"/>
<text x="817.8" y="1744.3" font-size="30" text-anchor="end">0.4</text>
<line x1="826.8" y1="1656.6" x2="837.3" y2="1656.6" stroke="#000" stroke-width="3"/>
<text x="817.8" y="1667" font-size="30" text-anchor="end">0.6</text>
<line x1="826.8" y1="1579.4" x2="837.3" y2="1579.4" stroke="#000" stroke-width="3"/>
<text x="817.8" y="1589.8" font-size="30" text-anchor="end">0.8</text>
<line x1="826.8" y1="1502.1" x2="837.3" y2="1502.1" stroke="#000" stroke-width="3"/>
<text x="817.8" y="1512.5" font-size="30" text-anchor="end">1.0</text>
<line x1="837.3" y1="1888.4" x2="837.3" y2="1898.9" stroke="#000" stroke-width="3"/>
<text x="835.5" y="1930.4" font-size="30" text-anchor="middle">0</text>
<line x1="941.9" y1="1888.4" x2="941.9" y2="1898.9" stroke="#000" stroke-width="3"/>
<text x="940.5" y="1930.4" font-size="30" text-anchor="middle">100</text>
<line x1="1046.6" y1="1888.4" x2="1046.6" y2="1898.9" stroke="#000" stroke-width="3"/>
<text x="1042.4" y="1930.4" font-size="30" text-anchor="middle">200</text>
<line x1="1151.2" y1="1888.4" x2="1151.2" y2="1898.9" stroke="#000" stroke-width="3"/>
<text x="1145.6" y="1930.4" font-size="30" text-anchor="middle">300</text>
<line x1="1255.9" y1="1888.4" x2="1255.9" y2="1898.9" stroke="#000" stroke-width="3"/>
<text x="1251.6" y="1930.4" font-size="30" text-anchor="middle">400</text>
<line x1="1360.5" y1="1888.4" x2="1360.5" y2="1898.9" stroke="#000" stroke-width="3"/>
<text x="1351.3" y="1930.4" font-size="30" text-anchor="middle">500</text>
<text x="1083" y="1972" font-size="29.2" text-anchor="middle">Time (fs)</text>
<text x="752" y="1710" font-size="29.2" text-anchor="middle" transform="rotate(-90 752 1710)">D(t)</text>
<text x="898" y="1806" font-size="29.2" font-style="italic" fill="#f57c4c">150 K</text>
<circle cx="1575.7" cy="1519.1" r="11.3" fill="#1f8ef5"/>
<circle cx="2054" cy="1848.8" r="11.3" fill="#f57c4c"/>
<rect x="1553.2" y="1463.6" width="524.9" height="424.6" fill="none" stroke="#000" stroke-width="3"/>
<line x1="1542.7" y1="1888.2" x2="1553.2" y2="1888.2" stroke="#000" stroke-width="3"/>
<text x="1529.2" y="1898.6" font-size="30" text-anchor="end">0</text>
<line x1="1542.7" y1="1787.2" x2="1553.2" y2="1787.2" stroke="#000" stroke-width="3"/>
<text x="1529.2" y="1797.6" font-size="30" text-anchor="end">50</text>
<line x1="1542.7" y1="1686.2" x2="1553.2" y2="1686.2" stroke="#000" stroke-width="3"/>
<text x="1529.2" y="1696.6" font-size="30" text-anchor="end">100</text>
<line x1="1542.7" y1="1585.2" x2="1553.2" y2="1585.2" stroke="#000" stroke-width="3"/>
<text x="1529.2" y="1595.6" font-size="30" text-anchor="end">150</text>
<line x1="1542.7" y1="1484.2" x2="1553.2" y2="1484.2" stroke="#000" stroke-width="3"/>
<text x="1529.2" y="1494.6" font-size="30" text-anchor="end">200</text>
<line x1="1565.9" y1="1888.2" x2="1565.9" y2="1898.7" stroke="#000" stroke-width="3"/>
<text x="1569.5" y="1929.2" font-size="30" text-anchor="middle">0</text>
<line x1="1728.6" y1="1888.2" x2="1728.6" y2="1898.7" stroke="#000" stroke-width="3"/>
<text x="1728.6" y="1929.2" font-size="30" text-anchor="middle">50</text>
<line x1="1891.3" y1="1888.2" x2="1891.3" y2="1898.7" stroke="#000" stroke-width="3"/>
<text x="1894.1" y="1929.2" font-size="30" text-anchor="middle">100</text>
<line x1="2054" y1="1888.2" x2="2054" y2="1898.7" stroke="#000" stroke-width="3"/>
<text x="2055.4" y="1929.2" font-size="30" text-anchor="middle">150</text>
<text x="1812.6" y="1968.8" font-size="29.2" text-anchor="middle">Temperature (K)</text>
<text transform="translate(1455.5 1737.2) rotate(-90)" font-size="26">&#964;<tspan font-size="14" dy="9.6">2</tspan><tspan font-size="14" dy="-17.2">*</tspan></text>
<text transform="translate(1455.5 1698.2) rotate(-90)" font-size="26">(fs)</text>
<text x="1" y="20.6" font-size="33" font-weight="bold">a</text>
<text x="3.2" y="779.1" font-size="33" font-weight="bold">b</text>
<text x="1310" y="780" font-size="33" font-weight="bold">c</text>
<text x="1723.6" y="785" font-size="33" font-weight="bold">d</text>
<text x="3.3" y="1453" font-size="33" font-weight="bold">e</text>
<text x="714.5" y="1453" font-size="33" font-weight="bold">f</text>
<text x="1429.6" y="1453.5" font-size="33" font-weight="bold">g</text>
</svg></body></html>
